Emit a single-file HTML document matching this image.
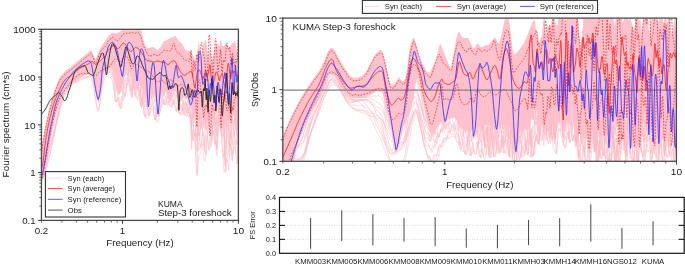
<!DOCTYPE html>
<html><head><meta charset="utf-8"><title>KUMA Step-3 foreshock</title>
<style>html,body{margin:0;padding:0;background:#fff;} body{width:685px;height:265px;overflow:hidden;} svg{display:block;will-change:transform;} text{fill:#1a1a1a}</style>
</head><body>
<svg width="685" height="265" viewBox="0 0 685 265" font-family='"Liberation Sans", sans-serif'>
<rect width="685" height="265" fill="#fff"/>
<defs>
<clipPath id="c1"><rect x="41.45" y="29.30" width="196.95" height="191.10"/></clipPath>
<clipPath id="c2"><rect x="282.80" y="18.10" width="393.60" height="143.20"/></clipPath>
</defs>
<g clip-path="url(#c1)">
<path d="M41.5,152 42.4,145 43.2,141.3 44.1,136.7 45,131.8 45.9,127.4 46.8,123.2 47.7,119.3 48.6,115.6 49.5,111.9 50.4,108.4 51.3,104.8 52.2,101 53.1,97.2 54,93.8 54.9,91 55.8,88.7 56.7,86.6 57.6,84.6 58.5,82.8 59.4,81 60.3,79.3 61.2,77.7 62.1,76.2 63,74.8 63.9,73.5 64.8,72.4 65.7,71.4 66.6,70.5 67.5,69.7 68.4,69 69.3,68.4 70.2,67.8 71.1,67.1 72,66.4 72.9,65.6 73.8,64.8 74.7,64.1 75.6,63.3 76.5,62.7 77.4,62.1 78.3,61.6 79.2,61.1 80.1,60.6 81,60.2 81.9,59.7 82.8,59.3 83.7,58.9 84.6,58.5 85.5,58.1 86.4,57.7 87.3,57.2 88.2,56.6 89.1,55.9 90,55.4 90.9,55.3 91.8,55.8 92.7,56.7 93.6,58.4 94.5,60.2 95.4,60.1 96.3,58.8 97.2,57.1 98.1,55.1 99,53.3 99.9,51.6 100.8,49.8 101.7,47.9 102.6,46.8 103.5,45.7 104.4,44.7 105.3,43.3 106.2,41.4 107.1,39.5 108,38.6 108.9,38.5 109.8,38.5 110.7,38 111.6,37 112.5,36.2 113.4,36.7 114.3,37.5 115.2,37.6 116.1,38.2 117,39.9 117.9,39.7 118.8,37.1 119.7,36.4 120.6,37.2 121.5,38.1 122.4,37.1 123.3,35.7 124.2,34.6 125.1,35.4 126,37.3 126.9,39.6 127.8,41.1 128.7,39.1 129.6,36.5 130.5,34.8 131.4,36.9 132.3,39 133.2,40.6 134.1,36 135,31.7 135.9,28.7 136.8,31.4 137.7,34.4 138.6,36 139.5,33.9 140.4,31.6 141.3,35.1 142.2,41.9 143.1,44.6 144,44.1 144.9,44.7 145.8,46.4 146.7,49.3 147.6,52.1 148.5,52.7 149.4,49.6 150.3,49.5 151.2,51.6 152.1,53.9 153,55.5 153.9,53.1 154.8,50.9 155.7,52.3 156.6,54.9 157.5,53.7 158.4,50.6 159.3,51.7 160.2,53.2 161.1,54.5 162,52.4 162.9,49.7 163.8,51.5 164.7,55 165.6,52.8 166.5,49 167.4,44.6 168.3,48.7 169.2,53.1 170.1,50.2 171,46.1 171.9,42.1 172.8,40.8 173.7,44 174.6,40.7 175.5,36 176.4,41 177.3,49 178.2,53.1 179.1,47.8 180,46.6 180.9,52.3 181.8,58.2 182.7,59.5 183.6,55.8 184.5,54 185.4,57.1 186.3,59.5 187.2,61.5 188.1,60 189,58.4 189.9,56.9 190.8,59.7 191.7,63.6 192.6,70.3 193.5,70.9 194.4,71.6 195.3,68.5 196.2,65.2 197.1,62.5 198,60.6 198.9,54.3 199.8,54.7 200.7,62.9 201.6,65.7 202.5,65.8 203.4,60.8 204.3,53.9 205.2,47.1 206.1,44.3 207,55.8 207.9,63.3 208.8,61.7 209.7,55.4 210.6,56.1 211.5,65.7 212.4,70.5 213.3,69.9 214.2,65.3 215.1,55.5 216,49.8 216.9,49.5 217.8,56 218.7,62.8 219.6,59.7 220.5,50.2 221.4,47.8 222.3,57.2 223.2,65.5 224.1,63.1 225,58.6 225.9,52.9 226.8,55.3 227.7,56.4 228.6,56.2 229.5,56 230.4,56.2 231.3,57.7 232.2,56.9 233.1,61.8 234,58.1 234.9,53.6 235.8,53.6 236.7,59.3 237.6,64.3 238.5,68.8" fill="none" stroke="#ffb3c0" stroke-opacity="0.55" stroke-width="0.9"/>
<path d="M41.5,153.6 42.4,146.5 43.2,142.6 44.1,137.6 45,132.5 45.9,127.9 46.8,123.8 47.7,119.8 48.6,116.1 49.5,112.5 50.4,109 51.3,105.5 52.2,101.8 53.1,98.1 54,94.7 54.9,91.9 55.8,89.5 56.7,87.4 57.6,85.3 58.5,83.4 59.4,81.5 60.3,79.8 61.2,78.1 62.1,76.5 63,75.1 63.9,73.9 64.8,72.8 65.7,71.8 66.6,71 67.5,70.4 68.4,69.8 69.3,69.3 70.2,68.9 71.1,68.3 72,67.8 72.9,67.1 73.8,66.5 74.7,65.8 75.6,65.2 76.5,64.5 77.4,63.9 78.3,63.3 79.2,62.6 80.1,62 81,61.3 81.9,60.6 82.8,59.8 83.7,59.1 84.6,58.3 85.5,57.6 86.4,56.8 87.3,56 88.2,55.2 89.1,54.3 90,53.7 90.9,53.8 91.8,54.5 92.7,55.7 93.6,57.7 94.5,59.7 95.4,59.8 96.3,58.8 97.2,57.5 98.1,56.1 99,54.5 99.9,53.4 100.8,52.6 101.7,51.9 102.6,50.9 103.5,49.8 104.4,48.6 105.3,47.8 106.2,46.6 107.1,45.2 108,43.5 108.9,41.9 109.8,40.4 110.7,39.9 111.6,40.1 112.5,40.2 113.4,38.5 114.3,37.2 115.2,38.1 116.1,40.3 117,39.9 117.9,38.5 118.8,36.5 119.7,36.2 120.6,37.3 121.5,36.9 122.4,35.2 123.3,34.2 124.2,34.1 125.1,37.2 126,38 126.9,36 127.8,34.3 128.7,37.7 129.6,41.6 130.5,41.5 131.4,38.6 132.3,36.6 133.2,38.3 134.1,39.8 135,41.3 135.9,38.4 136.8,34.9 137.7,31.3 138.6,35 139.5,41.8 140.4,41.8 141.3,39.3 142.2,38.2 143.1,42.4 144,46.5 144.9,50.1 145.8,51.4 146.7,51.4 147.6,50.9 148.5,51.5 149.4,52.6 150.3,53.6 151.2,50.7 152.1,49.7 153,52.9 153.9,56.1 154.8,54.7 155.7,52.6 156.6,51 157.5,53 158.4,56.7 159.3,54.7 160.2,51.6 161.1,49.2 162,51 162.9,53.3 163.8,52.9 164.7,49.9 165.6,46.9 166.5,45.9 167.4,50.1 168.3,54.3 169.2,50.6 170.1,43.4 171,46.1 171.9,48.5 172.8,44.5 173.7,45.2 174.6,49.5 175.5,48.9 176.4,45.3 177.3,42.2 178.2,49.4 179.1,57.8 180,60.7 180.9,54.5 181.8,48.8 182.7,56.1 183.6,63.1 184.5,64.5 185.4,57.9 186.3,54.7 187.2,58.3 188.1,61.5 189,63.1 189.9,59.3 190.8,55.9 191.7,58.7 192.6,68 193.5,70.5 194.4,73 195.3,71.5 196.2,67.7 197.1,64.8 198,63.1 198.9,57.7 199.8,57 200.7,61.5 201.6,63.7 202.5,63.4 203.4,62.1 204.3,60.8 205.2,54.8 206.1,52.3 207,60.4 207.9,66.1 208.8,64.1 209.7,56.5 210.6,58 211.5,63.9 212.4,66.1 213.3,67.6 214.2,63.5 215.1,56.2 216,57.7 216.9,60.2 217.8,64.4 218.7,64.1 219.6,59.4 220.5,51.3 221.4,59.7 222.3,60.9 223.2,59.1 224.1,55 225,49.7 225.9,55.5 226.8,57.7 227.7,55.4 228.6,54 229.5,52.4 230.4,50.7 231.3,52.8 232.2,52.2 233.1,55.8 234,50.6 234.9,45 235.8,52.2 236.7,59.5 237.6,62.1 238.5,63.6" fill="none" stroke="#ffb3c0" stroke-opacity="0.55" stroke-width="0.9"/>
<path d="M41.5,158.2 42.4,152.7 43.2,148.8 44.1,143.1 45,137 45.9,131.8 46.8,127.2 47.7,122.9 48.6,118.9 49.5,115.2 50.4,111.6 51.3,108.1 52.2,104.5 53.1,101 54,97.9 54.9,95.2 55.8,92.8 56.7,90.7 57.6,88.7 58.5,86.8 59.4,84.9 60.3,83.1 61.2,81.4 62.1,79.8 63,78.2 63.9,76.8 64.8,75.6 65.7,74.5 66.6,73.6 67.5,72.8 68.4,72 69.3,71.3 70.2,70.6 71.1,69.8 72,68.9 72.9,68 73.8,67 74.7,66.1 75.6,65.2 76.5,64.3 77.4,63.5 78.3,62.8 79.2,62.1 80.1,61.4 81,60.8 81.9,60.2 82.8,59.6 83.7,59.1 84.6,58.6 85.5,58.2 86.4,57.7 87.3,57.3 88.2,56.9 89.1,56.3 90,55.9 90.9,56 91.8,56.5 92.7,57.5 93.6,59.3 94.5,61.1 95.4,61.2 96.3,60.4 97.2,59.2 98.1,58.1 99,57 99.9,55.4 100.8,53.7 101.7,52.5 102.6,51.8 103.5,51.3 104.4,50 105.3,48.3 106.2,46.1 107.1,44.8 108,44.1 108.9,43.8 109.8,42.6 110.7,40.1 111.6,39.8 112.5,40 113.4,40.4 114.3,40.5 115.2,39.9 116.1,39.3 117,40 117.9,40.6 118.8,40.8 119.7,39 120.6,37 121.5,35.2 122.4,36.2 123.3,37.7 124.2,36.2 125.1,34.8 126,36.9 126.9,40.3 127.8,37.4 128.7,33.2 129.6,35.3 130.5,37.6 131.4,39.7 132.3,37.2 133.2,34 134.1,34 135,37.8 135.9,42 136.8,38.8 137.7,34.6 138.6,36.2 139.5,42.6 140.4,43.7 141.3,41.4 142.2,40.4 143.1,44.4 144,49.4 144.9,53.1 145.8,53.3 146.7,52.9 147.6,53.1 148.5,54.5 149.4,55.8 150.3,54.3 151.2,52.3 152.1,52.2 153,53.6 153.9,55.1 154.8,55.3 155.7,54 156.6,54.3 157.5,56.5 158.4,55.4 159.3,53.1 160.2,50.2 161.1,49.7 162,52 162.9,54.8 163.8,51.9 164.7,49.1 165.6,46.3 166.5,48.4 167.4,53 168.3,56.6 169.2,47.7 170.1,44.3 171,51 171.9,51.9 172.8,48.4 173.7,45 174.6,43.2 175.5,49.5 176.4,57 177.3,55.6 178.2,53.2 179.1,50.4 180,55.2 180.9,66.3 181.8,58.8 182.7,53.7 183.6,58.3 184.5,62.3 185.4,65.5 186.3,62.2 187.2,58.7 188.1,58.1 189,62.5 189.9,63.3 190.8,60.1 191.7,62.3 192.6,68.5 193.5,68.9 194.4,69.6 195.3,66.8 196.2,64.6 197.1,63.3 198,63 198.9,58.7 199.8,58.6 200.7,63.1 201.6,64.5 202.5,63.6 203.4,60.8 204.3,53.3 205.2,46 206.1,46.5 207,59.3 207.9,66.8 208.8,60.6 209.7,53 210.6,58.6 211.5,71.6 212.4,77.6 213.3,73.2 214.2,62.7 215.1,52.3 216,50.6 216.9,54.3 217.8,59.4 218.7,64.7 219.6,60 220.5,48.9 221.4,55.1 222.3,62.9 223.2,72.3 224.1,71.5 225,67.9 225.9,65.7 226.8,63.1 227.7,59.1 228.6,60.2 229.5,63.6 230.4,66.9 231.3,62.5 232.2,58.6 233.1,63 234,64.1 234.9,66.4 235.8,67.9 236.7,67.2 237.6,67 238.5,69.7" fill="none" stroke="#ffb3c0" stroke-opacity="0.55" stroke-width="0.9"/>
<path d="M41.5,158.1 42.4,152.9 43.2,149.5 44.1,144 45,137.8 45.9,132.6 46.8,127.9 47.7,123.5 48.6,119.4 49.5,115.5 50.4,111.7 51.3,108 52.2,104.2 53.1,100.4 54,96.9 54.9,94 55.8,91.4 56.7,89.1 57.6,87.1 58.5,85.2 59.4,83.5 60.3,81.8 61.2,80.3 62.1,78.9 63,77.6 63.9,76.4 64.8,75.4 65.7,74.5 66.6,73.8 67.5,73.1 68.4,72.6 69.3,72 70.2,71.4 71.1,70.7 72,70 72.9,69.2 73.8,68.3 74.7,67.5 75.6,66.7 76.5,66 77.4,65.3 78.3,64.7 79.2,64.2 80.1,63.7 81,63.2 81.9,62.7 82.8,62.2 83.7,61.8 84.6,61.3 85.5,60.8 86.4,60.3 87.3,59.7 88.2,59 89.1,58.1 90,57.2 90.9,56.8 91.8,56.8 92.7,57.4 93.6,58.9 94.5,60.6 95.4,60.5 96.3,59.4 97.2,57.8 98.1,56.2 99,54.7 99.9,53.5 100.8,52.6 101.7,51.4 102.6,50.4 103.5,49.5 104.4,49.5 105.3,49.5 106.2,48.2 107.1,46.6 108,45.1 108.9,44.8 109.8,44.6 110.7,44 111.6,42.4 112.5,41.3 113.4,41.2 114.3,41.6 115.2,41.7 116.1,41.2 117,40.2 117.9,39.9 118.8,40.7 119.7,41.2 120.6,39.7 121.5,37 122.4,35.6 123.3,36.1 124.2,36.2 125.1,35.1 126,33.9 126.9,37.7 127.8,42.8 128.7,42.7 129.6,41 130.5,40.5 131.4,42.7 132.3,44.5 133.2,43.2 134.1,39.4 135,37.6 135.9,39.9 136.8,42.5 137.7,45.4 138.6,42.3 139.5,36.9 140.4,38.7 141.3,45.9 142.2,46 143.1,45.6 144,48.1 144.9,55.3 145.8,55.9 146.7,55 147.6,54.6 148.5,56.6 149.4,58.4 150.3,58.8 151.2,57.2 152.1,55.4 153,54.7 153.9,55.9 154.8,57 155.7,57.5 156.6,56 157.5,54.6 158.4,52.8 159.3,55.6 160.2,57.9 161.1,55 162,51.4 162.9,50.2 163.8,52.7 164.7,55.8 165.6,52.4 166.5,46.7 167.4,52.8 168.3,58.9 169.2,52.9 170.1,49 171,52.1 171.9,55.2 172.8,58.3 173.7,55.8 174.6,52.9 175.5,50.3 176.4,53 177.3,57.7 178.2,58.9 179.1,54.8 180,52.4 180.9,56.9 181.8,61.1 182.7,59.1 183.6,57.5 184.5,56.7 185.4,60.4 186.3,63.5 187.2,60.1 188.1,56.6 189,62.2 189.9,67.3 190.8,63.3 191.7,58.5 192.6,67.6 193.5,71.8 194.4,71.5 195.3,76.1 196.2,74.4 197.1,68.6 198,62.2 198.9,56.5 199.8,58 200.7,66.8 201.6,71.5 202.5,76.5 203.4,68.4 204.3,56.8 205.2,53.6 206.1,60.4 207,66.2 207.9,65.6 208.8,59.7 209.7,55.8 210.6,63.2 211.5,71.5 212.4,70.7 213.3,63.4 214.2,61.7 215.1,62.1 216,64.5 216.9,60.9 217.8,57.9 218.7,57.5 219.6,63.1 220.5,64.6 221.4,58.4 222.3,55.4 223.2,54.7 224.1,62.2 225,70.8 225.9,72.4 226.8,62.8 227.7,56 228.6,56.5 229.5,62 230.4,70.7 231.3,64.3 232.2,54.2 233.1,62.6 234,67.6 234.9,68.9 235.8,67.3 236.7,64.7 237.6,65.8 238.5,69.8" fill="none" stroke="#ffb3c0" stroke-opacity="0.55" stroke-width="0.9"/>
<path d="M41.5,161.5 42.4,155.7 43.2,150.8 44.1,144.1 45,137.2 45.9,131.6 46.8,126.8 47.7,122.4 48.6,118.4 49.5,114.8 50.4,111.3 51.3,108 52.2,104.7 53.1,101.5 54,98.7 54.9,96.4 55.8,94.3 56.7,92.4 57.6,90.6 58.5,88.8 59.4,87 60.3,85.2 61.2,83.4 62.1,81.6 63,79.9 63.9,78.3 64.8,77 65.7,75.8 66.6,74.7 67.5,73.8 68.4,73 69.3,72.2 70.2,71.5 71.1,70.7 72,69.9 72.9,69.1 73.8,68.3 74.7,67.5 75.6,66.8 76.5,66.2 77.4,65.6 78.3,65 79.2,64.5 80.1,64 81,63.5 81.9,63 82.8,62.5 83.7,61.9 84.6,61.4 85.5,60.8 86.4,60.3 87.3,59.6 88.2,58.9 89.1,58.1 90,57.4 90.9,57 91.8,57.2 92.7,57.9 93.6,59.5 94.5,61.1 95.4,61.2 96.3,60.3 97.2,59 98.1,57.8 99,56.6 99.9,55.2 100.8,53.8 101.7,52.4 102.6,51.1 103.5,51 104.4,51.1 105.3,49.8 106.2,47.9 107.1,45.7 108,44.9 108.9,45.1 109.8,44.8 110.7,43.2 111.6,41.5 112.5,41.2 113.4,41.5 114.3,42.4 115.2,43.1 116.1,43.4 117,43.2 117.9,43.8 118.8,44.2 119.7,44.1 120.6,42.3 121.5,40.4 122.4,38.4 123.3,38.2 124.2,38.9 125.1,40.1 126,41 126.9,40 127.8,38.7 128.7,38.3 129.6,41.2 130.5,44.3 131.4,47.1 132.3,44.1 133.2,41.1 134.1,39.8 135,41.8 135.9,44.3 136.8,46.9 137.7,44.1 138.6,41.3 139.5,41.5 140.4,45.4 141.3,49.8 142.2,53.6 143.1,52.2 144,52.7 144.9,55.7 145.8,58.3 146.7,59.4 147.6,57.5 148.5,55.4 149.4,56.6 150.3,60.4 151.2,57.3 152.1,54 153,54.1 153.9,55.9 154.8,56.7 155.7,55 156.6,53.8 157.5,52.6 158.4,54.3 159.3,56.4 160.2,53.7 161.1,50.5 162,53.3 162.9,57.9 163.8,60.1 164.7,55.5 165.6,51.5 166.5,55.5 167.4,59.8 168.3,63.4 169.2,58.2 170.1,51.9 171,51.9 171.9,54.3 172.8,56.7 173.7,52.7 174.6,48.1 175.5,50.1 176.4,53.3 177.3,56.9 178.2,54.7 179.1,51.8 180,56.8 180.9,62 181.8,67.3 182.7,68.2 183.6,64 184.5,60.1 185.4,65.2 186.3,70 187.2,69.3 188.1,64.2 189,59.3 189.9,61.5 190.8,65.4 191.7,70.2 192.6,74.7 193.5,75.7 194.4,76.8 195.3,74.7 196.2,75 197.1,73.1 198,65.7 198.9,59.5 199.8,58.3 200.7,67 201.6,74.1 202.5,75.5 203.4,66.5 204.3,57.6 205.2,52.2 206.1,59.7 207,71.8 207.9,72.5 208.8,64 209.7,56.9 210.6,64.3 211.5,78.7 212.4,86 213.3,79.6 214.2,71.2 215.1,61.6 216,61.3 216.9,64.9 217.8,71.1 218.7,68.7 219.6,61.2 220.5,60.4 221.4,66.4 222.3,71 223.2,71 224.1,69.5 225,78.5 225.9,86.2 226.8,69.6 227.7,58 228.6,58.5 229.5,63.8 230.4,71.5 231.3,67.5 232.2,60.8 233.1,60.1 234,57.1 234.9,60.6 235.8,68.5 236.7,73.2 237.6,71.2 238.5,69.9" fill="none" stroke="#ffb3c0" stroke-opacity="0.55" stroke-width="0.9"/>
<path d="M41.5,163 42.4,158.3 43.2,153.9 44.1,147.2 45,140 45.9,134.2 46.8,129.2 47.7,124.6 48.6,120.3 49.5,116.5 50.4,112.8 51.3,109.2 52.2,105.7 53.1,102.3 54,99.2 54.9,96.5 55.8,94.2 56.7,92.1 57.6,90.1 58.5,88.2 59.4,86.4 60.3,84.7 61.2,83 62.1,81.4 63,79.9 63.9,78.6 64.8,77.5 65.7,76.5 66.6,75.6 67.5,74.9 68.4,74.3 69.3,73.6 70.2,73 71.1,72.3 72,71.5 72.9,70.7 73.8,69.8 74.7,69 75.6,68.2 76.5,67.4 77.4,66.6 78.3,65.9 79.2,65.3 80.1,64.6 81,64 81.9,63.5 82.8,62.9 83.7,62.5 84.6,62 85.5,61.7 86.4,61.3 87.3,60.9 88.2,60.5 89.1,60 90,59.5 90.9,59.2 91.8,59.2 92.7,59.8 93.6,61.3 94.5,62.7 95.4,62.9 96.3,62.4 97.2,61.7 98.1,60.9 99,59.9 99.9,58.5 100.8,57.1 101.7,56.3 102.6,55.6 103.5,54.1 104.4,52.5 105.3,51.6 106.2,50.3 107.1,47.7 108,45.5 108.9,44.8 109.8,44.5 110.7,44.1 111.6,42.6 112.5,41.1 113.4,39.9 114.3,40.4 115.2,41.6 116.1,43.1 117,43.3 117.9,42.4 118.8,41.2 119.7,41.6 120.6,42 121.5,42.2 122.4,39.9 123.3,38.1 124.2,38.9 125.1,41.5 126,41 126.9,41.2 127.8,45.6 128.7,48.7 129.6,47.7 130.5,45.8 131.4,44.4 132.3,46.7 133.2,48.7 134.1,46.6 135,43.3 135.9,40.5 136.8,39.5 137.7,43.9 138.6,48.8 139.5,51 140.4,46.1 141.3,43 142.2,49.9 143.1,57.3 144,54.9 144.9,53.1 145.8,51.4 146.7,54.1 147.6,56.2 148.5,57.1 149.4,55 150.3,53.1 151.2,55 152.1,57.2 153,59.5 153.9,58.1 154.8,55 155.7,54.9 156.6,57.8 157.5,60.2 158.4,60.3 159.3,58.7 160.2,56.8 161.1,57.1 162,57.9 162.9,58.8 163.8,58.4 164.7,54.5 165.6,50.8 166.5,56.1 167.4,62 168.3,66.8 169.2,60.6 170.1,55.1 171,56.8 171.9,61.4 172.8,61.1 173.7,56.6 174.6,54.1 175.5,57.5 176.4,60.3 177.3,59.7 178.2,59.1 179.1,58.3 180,64.7 180.9,71.4 181.8,65.6 182.7,58.9 183.6,62.2 184.5,67.7 185.4,72.3 186.3,69.1 187.2,64.9 188.1,63.6 189,67.2 189.9,70.5 190.8,66.3 191.7,64.2 192.6,70.5 193.5,78 194.4,85.1 195.3,81.1 196.2,71.5 197.1,67.3 198,67.8 198.9,65.3 199.8,61.4 200.7,66.2 201.6,71.4 202.5,77.3 203.4,76.3 204.3,66.7 205.2,56.7 206.1,57.3 207,68.2 207.9,72.5 208.8,66.8 209.7,59.4 210.6,65.9 211.5,79.8 212.4,85.3 213.3,78.3 214.2,70.8 215.1,64.8 216,66.5 216.9,69.7 217.8,71.9 218.7,68.6 219.6,63.2 220.5,68.2 221.4,70.4 222.3,63.1 223.2,67.8 224.1,75.7 225,84.2 225.9,80.1 226.8,63.6 227.7,56.2 228.6,60 229.5,70.5 230.4,78.6 231.3,68.1 232.2,57.4 233.1,62.3 234,64.4 234.9,67.3 235.8,67.5 236.7,68.4 237.6,74.9 238.5,79.8" fill="none" stroke="#ffb3c0" stroke-opacity="0.55" stroke-width="0.9"/>
<path d="M41.5,164.1 42.4,159.7 43.2,155.4 44.1,148.6 45,141.3 45.9,135.4 46.8,130.3 47.7,125.7 48.6,121.5 49.5,117.6 50.4,114 51.3,110.5 52.2,107.1 53.1,103.8 54,100.8 54.9,98.1 55.8,95.6 56.7,93.4 57.6,91.3 58.5,89.3 59.4,87.4 60.3,85.5 61.2,83.8 62.1,82.1 63,80.5 63.9,79.1 64.8,77.9 65.7,76.9 66.6,76.1 67.5,75.4 68.4,74.8 69.3,74.2 70.2,73.7 71.1,73.1 72,72.4 72.9,71.7 73.8,70.9 74.7,70.2 75.6,69.5 76.5,68.8 77.4,68.2 78.3,67.6 79.2,66.9 80.1,66.3 81,65.7 81.9,65.1 82.8,64.5 83.7,64 84.6,63.4 85.5,62.8 86.4,62.2 87.3,61.6 88.2,60.9 89.1,60.1 90,59.3 90.9,58.7 91.8,58.6 92.7,59.1 93.6,60.5 94.5,62 95.4,62.1 96.3,61.3 97.2,60.2 98.1,59 99,57.7 99.9,56.6 100.8,55.7 101.7,54.8 102.6,53.9 103.5,52.9 104.4,52.4 105.3,52.4 106.2,51.7 107.1,49.3 108,47 108.9,46.6 109.8,46.7 110.7,47 111.6,46.7 112.5,45.2 113.4,44.4 114.3,45.1 115.2,47.4 116.1,51.6 117,50.6 117.9,48.4 118.8,47.8 119.7,51.3 120.6,56 121.5,51 122.4,43.6 123.3,42.4 124.2,44 125.1,48.4 126,46.3 126.9,44.6 127.8,45 128.7,48.3 129.6,51.6 130.5,49 131.4,45.7 132.3,44.6 133.2,45 134.1,45.2 135,43.4 135.9,41 136.8,38.8 137.7,42.6 138.6,46.4 139.5,43.4 140.4,40.1 141.3,48.1 142.2,57.1 143.1,53.3 144,52.3 144.9,51.6 145.8,56.5 146.7,64.4 147.6,61.8 148.5,59.6 149.4,58.1 150.3,57.6 151.2,59.2 152.1,59.7 153,57.2 153.9,55.4 154.8,57.5 155.7,59.3 156.6,60.9 157.5,59.8 158.4,57.4 159.3,55.5 160.2,57.2 161.1,59.3 162,61.7 162.9,59 163.8,55.6 164.7,54.8 165.6,58.4 166.5,62.7 167.4,56.8 168.3,51.6 169.2,56.8 170.1,61.5 171,60 171.9,54.4 172.8,50.3 173.7,57.5 174.6,66.7 175.5,62.6 176.4,61.1 177.3,59.9 178.2,62.1 179.1,66.2 180,69 180.9,67.5 181.8,65.8 182.7,65.3 183.6,75.8 184.5,79.7 185.4,74.2 186.3,70.1 187.2,66.7 188.1,67.9 189,68.9 189.9,69.6 190.8,67.3 191.7,66.3 192.6,68.9 193.5,77.2 194.4,83.1 195.3,80.5 196.2,72.3 197.1,68.7 198,66.8 198.9,67.9 199.8,66.8 200.7,67.2 201.6,66.4 202.5,69.9 203.4,73 204.3,79.4 205.2,71.9 206.1,66.4 207,66.8 207.9,69.8 208.8,69.3 209.7,76.3 210.6,78.3 211.5,82.8 212.4,83.3 213.3,79.8 214.2,79.1 215.1,78.4 216,81.1 216.9,69.8 217.8,65.5 218.7,74.2 219.6,80.5 220.5,81.5 221.4,74.4 222.3,70.4 223.2,71 224.1,77.4 225,82.5 225.9,76.3 226.8,64.2 227.7,58 228.6,59.6 229.5,66.6 230.4,67.6 231.3,56.3 232.2,57.5 233.1,64.7 234,62.8 234.9,55.1 235.8,55.7 236.7,63.4 237.6,68.9 238.5,70.1" fill="none" stroke="#ffb3c0" stroke-opacity="0.55" stroke-width="0.9"/>
<path d="M41.5,165.3 42.4,160.9 43.2,156.5 44.1,149.5 45,142.1 45.9,136.2 46.8,131.1 47.7,126.6 48.6,122.4 49.5,118.6 50.4,115.1 51.3,111.7 52.2,108.4 53.1,105.3 54,102.3 54.9,99.5 55.8,96.9 56.7,94.5 57.6,92.2 58.5,90.1 59.4,88 60.3,86 61.2,84.2 62.1,82.4 63,80.8 63.9,79.5 64.8,78.4 65.7,77.5 66.6,76.8 67.5,76.2 68.4,75.8 69.3,75.4 70.2,75 71.1,74.5 72,74 72.9,73.4 73.8,72.7 74.7,72 75.6,71.2 76.5,70.4 77.4,69.6 78.3,68.8 79.2,67.9 80.1,67 81,66.1 81.9,65.3 82.8,64.4 83.7,63.7 84.6,62.9 85.5,62.3 86.4,61.7 87.3,61.1 88.2,60.6 89.1,60 90,59.5 90.9,59.2 91.8,59.3 92.7,60 93.6,61.5 94.5,62.9 95.4,63.3 96.3,63 97.2,62.4 98.1,61.8 99,60.7 99.9,59.4 100.8,58 101.7,57.4 102.6,56.6 103.5,54.8 104.4,52.9 105.3,52.6 106.2,51.3 107.1,48.1 108,46.2 108.9,45.9 109.8,45.8 110.7,46 111.6,44.6 112.5,43.1 113.4,41.9 114.3,42.8 115.2,44.5 116.1,46.6 117,47.1 117.9,46.3 118.8,46.2 119.7,47.5 120.6,50.7 121.5,45.9 122.4,43.1 123.3,41.4 124.2,42.1 125.1,43.9 126,46.3 126.9,43.6 127.8,42.4 128.7,45 129.6,47.8 130.5,49.7 131.4,47 132.3,44 133.2,41 134.1,43.5 135,48.4 135.9,48.9 136.8,44.1 137.7,44.9 138.6,48 139.5,54 140.4,56.3 141.3,51.5 142.2,50.1 143.1,54.7 144,62.2 144.9,57.8 145.8,57.2 146.7,59.3 147.6,71.3 148.5,62.7 149.4,58.7 150.3,59.7 151.2,60.9 152.1,63.7 153,60.5 153.9,57.6 154.8,59.5 155.7,61.2 156.6,60.3 157.5,59.7 158.4,59.2 159.3,59.8 160.2,61.6 161.1,66.8 162,64.4 162.9,58.6 163.8,57.6 164.7,61.2 165.6,67.1 166.5,64.1 167.4,61.5 168.3,62.2 169.2,65.8 170.1,68.9 171,61.7 171.9,57.4 172.8,60.8 173.7,68.8 174.6,70 175.5,62.3 176.4,59 177.3,56.2 178.2,60.4 179.1,64.8 180,69.2 180.9,68.4 181.8,65.3 182.7,62.4 183.6,69.6 184.5,78 185.4,76.1 186.3,72.2 187.2,70 188.1,71.5 189,72.8 189.9,75.7 190.8,73.3 191.7,70.8 192.6,72.5 193.5,79 194.4,87.1 195.3,86.7 196.2,77.4 197.1,69.7 198,63.9 198.9,63.4 199.8,66.7 200.7,71 201.6,72.3 202.5,70.5 203.4,63.3 204.3,62.6 205.2,65.1 206.1,71.1 207,73.2 207.9,70.1 208.8,65.5 209.7,62.7 210.6,72.2 211.5,80.3 212.4,80.4 213.3,74.2 214.2,76.2 215.1,79.6 216,71.8 216.9,68.7 217.8,67.2 218.7,74.4 219.6,85.2 220.5,73.6 221.4,63.7 222.3,66.6 223.2,74.5 224.1,81.6 225,77.8 225.9,72.2 226.8,68.4 227.7,62.6 228.6,62.1 229.5,66.5 230.4,70.7 231.3,67.6 232.2,67.9 233.1,70.5 234,62.6 234.9,62.1 235.8,73.6 236.7,90.1 237.6,80.2 238.5,75.4" fill="none" stroke="#ffb3c0" stroke-opacity="0.55" stroke-width="0.9"/>
<path d="M41.5,170 42.4,166.9 43.2,162.5 44.1,154.9 45,146.4 45.9,139.3 46.8,133 47.7,127.6 48.6,122.8 49.5,118.6 50.4,114.7 51.3,111 52.2,107.6 53.1,104.4 54,101.5 54.9,99.1 55.8,97 56.7,95.2 57.6,93.5 58.5,92 59.4,90.6 60.3,89.1 61.2,87.5 62.1,85.8 63,84.1 63.9,82.5 64.8,81.1 65.7,79.8 66.6,78.5 67.5,77.5 68.4,76.6 69.3,75.7 70.2,74.8 71.1,73.9 72,73 72.9,72.1 73.8,71.2 74.7,70.5 75.6,69.8 76.5,69.3 77.4,68.9 78.3,68.5 79.2,68.3 80.1,68 81,67.8 81.9,67.5 82.8,67.2 83.7,66.9 84.6,66.6 85.5,66.1 86.4,65.6 87.3,65 88.2,64.2 89.1,63.2 90,62.1 90.9,61 91.8,60.5 92.7,60.6 93.6,61.8 94.5,63 95.4,63.3 96.3,63 97.2,62.5 98.1,62 99,61.3 99.9,60.6 100.8,60.2 101.7,60.8 102.6,60.3 103.5,59.5 104.4,59.7 105.3,59 106.2,56.9 107.1,54.2 108,51.7 108.9,51.1 109.8,50.8 110.7,47.6 111.6,45.4 112.5,45.3 113.4,45.8 114.3,45 115.2,44.6 116.1,44.3 117,45.2 117.9,46.7 118.8,47.8 119.7,46.7 120.6,44.4 121.5,42.6 122.4,43.5 123.3,49.8 124.2,57.3 125.1,54.4 126,48.9 126.9,48 127.8,51.5 128.7,54.6 129.6,57.4 130.5,54.7 131.4,50.6 132.3,47.5 133.2,47.8 134.1,48 135,47.2 135.9,44.1 136.8,44.5 137.7,47.1 138.6,47.4 139.5,45.2 140.4,43.3 141.3,47.7 142.2,52.5 143.1,54.6 144,54.7 144.9,54.9 145.8,57.8 146.7,65.5 147.6,73.8 148.5,66 149.4,64 150.3,70.3 151.2,70 152.1,61.1 153,61 153.9,65.5 154.8,71 155.7,61.4 156.6,59.1 157.5,57.4 158.4,59.4 159.3,61.2 160.2,59.3 161.1,57.1 162,58.4 162.9,61.8 163.8,65.5 164.7,62.1 165.6,60.4 166.5,59 167.4,63 168.3,67.3 169.2,71.5 170.1,70.6 171,65.4 171.9,60.5 172.8,60.8 173.7,65.5 174.6,66.9 175.5,64.2 176.4,62.9 177.3,62.9 178.2,66 179.1,69.4 180,73.4 180.9,71.8 181.8,70.6 182.7,69.4 183.6,72.7 184.5,78.8 185.4,73.9 186.3,70.3 187.2,68.8 188.1,75.3 189,84.6 189.9,78.4 190.8,71.4 191.7,77 192.6,88.2 193.5,88.4 194.4,87.8 195.3,83.8 196.2,77.3 197.1,73.3 198,73.6 198.9,67 199.8,64.8 200.7,66.7 201.6,68.9 202.5,74.8 203.4,75.1 204.3,70 205.2,64.1 206.1,64.2 207,76.4 207.9,80.7 208.8,69.5 209.7,64.6 210.6,82.8 211.5,102.9 212.4,92.6 213.3,77.4 214.2,77.8 215.1,86.1 216,101.2 216.9,82.2 217.8,71.2 218.7,75.6 219.6,79.3 220.5,79.6 221.4,72.6 222.3,68.5 223.2,74.6 224.1,82 225,92.7 225.9,82.9 226.8,64.8 227.7,61.2 228.6,65.7 229.5,70.2 230.4,74.2 231.3,70.5 232.2,76.1 233.1,94.4 234,86.1 234.9,71.1 235.8,70.3 236.7,74.8 237.6,86 238.5,86.9" fill="none" stroke="#ffb3c0" stroke-opacity="0.55" stroke-width="0.9"/>
<path d="M41.5,171.5 42.4,168.9 43.2,165.1 44.1,158.3 45,150.9 45.9,144.8 46.8,139.4 47.7,134.4 48.6,129.6 49.5,125.1 50.4,120.8 51.3,116.6 52.2,112.7 53.1,108.9 54,105.4 54.9,102.1 55.8,99.2 56.7,96.5 57.6,94.1 58.5,91.9 59.4,89.8 60.3,87.9 61.2,86 62.1,84.2 63,82.6 63.9,81.2 64.8,80 65.7,79 66.6,78.2 67.5,77.5 68.4,76.9 69.3,76.4 70.2,75.8 71.1,75.2 72,74.5 72.9,73.7 73.8,73 74.7,72.2 75.6,71.4 76.5,70.7 77.4,70 78.3,69.3 79.2,68.6 80.1,68 81,67.3 81.9,66.7 82.8,66.2 83.7,65.7 84.6,65.3 85.5,64.9 86.4,64.5 87.3,64.2 88.2,63.8 89.1,63.3 90,62.7 90.9,62.1 91.8,61.9 92.7,62.5 93.6,64 94.5,65.7 95.4,66.9 96.3,67.4 97.2,67.9 98.1,68.7 99,69.1 99.9,67.8 100.8,65.4 101.7,63.2 102.6,62.6 103.5,62.9 104.4,61.2 105.3,59.4 106.2,57.1 107.1,55.5 108,55.7 108.9,55.4 109.8,53.1 110.7,50.7 111.6,49.2 112.5,51.6 113.4,50.3 114.3,46.7 115.2,46.1 116.1,48.8 117,52.6 117.9,56.6 118.8,51.6 119.7,46.4 120.6,44.8 121.5,46.4 122.4,51.9 123.3,47.2 124.2,42.3 125.1,43.4 126,47.2 126.9,52.3 127.8,53.1 128.7,50.9 129.6,50 130.5,53.6 131.4,55.9 132.3,52.2 133.2,48.8 134.1,46.2 135,48 135.9,55.1 136.8,63 137.7,59.5 138.6,54.2 139.5,50.1 140.4,56.6 141.3,63.3 142.2,57.8 143.1,53.4 144,58.7 144.9,68.8 145.8,78.6 146.7,67.8 147.6,57.8 148.5,60.4 149.4,65.5 150.3,60.3 151.2,60.5 152.1,66.8 153,60.9 153.9,58.5 154.8,60.6 155.7,64.7 156.6,73.4 157.5,63.5 158.4,60.3 159.3,72 160.2,75.1 161.1,66.7 162,60.9 162.9,62.4 163.8,66.5 164.7,68.8 165.6,64.5 166.5,62 167.4,63.1 168.3,69.1 169.2,75.3 170.1,73 171,65.5 171.9,60.1 172.8,64.7 173.7,70.8 174.6,65.7 175.5,57.5 176.4,58.7 177.3,64.1 178.2,70.9 179.1,70.5 180,68.1 180.9,65.6 181.8,68.6 182.7,75 183.6,82.6 184.5,79.5 185.4,74.7 186.3,74.4 187.2,83.8 188.1,80.5 189,71.7 189.9,69.5 190.8,76.5 191.7,94.6 192.6,95.8 193.5,90.8 194.4,86.9 195.3,87.2 196.2,92.5 197.1,104.1 198,89.6 198.9,77.8 199.8,70.4 200.7,85.8 201.6,110.1 202.5,99.8 203.4,88.1 204.3,73.9 205.2,69.6 206.1,82.7 207,96.8 207.9,95.8 208.8,82.1 209.7,64.6 210.6,67.1 211.5,86.8 212.4,101.5 213.3,95.9 214.2,86.6 215.1,73.8 216,69.4 216.9,76.4 217.8,88.5 218.7,76.6 219.6,70.3 220.5,76.5 221.4,89.9 222.3,76 223.2,73.4 224.1,81.4 225,96 225.9,107.2 226.8,84.3 227.7,61.6 228.6,60.1 229.5,72 230.4,82.8 231.3,71.3 232.2,63.8 233.1,71 234,79.1 234.9,72.1 235.8,71.8 236.7,69.9 237.6,74.3 238.5,81.4" fill="none" stroke="#ffb3c0" stroke-opacity="0.55" stroke-width="0.9"/>
<path d="M41.5,170.6 42.4,167.8 43.2,163.8 44.1,156.9 45,149.6 45.9,143.8 46.8,139 47.7,134.6 48.6,130.6 49.5,127 50.4,123.6 51.3,120.3 52.2,117.2 53.1,114.1 54,111.1 54.9,108.2 55.8,105.4 56.7,102.7 57.6,100.2 58.5,97.7 59.4,95.3 60.3,92.9 61.2,90.7 62.1,88.5 63,86.5 63.9,84.8 64.8,83.3 65.7,82 66.6,80.8 67.5,79.9 68.4,79.1 69.3,78.4 70.2,77.7 71.1,76.9 72,76.2 72.9,75.5 73.8,74.8 74.7,74.1 75.6,73.5 76.5,72.9 77.4,72.4 78.3,71.8 79.2,71.3 80.1,70.8 81,70.3 81.9,69.8 82.8,69.3 83.7,68.9 84.6,68.4 85.5,68 86.4,67.6 87.3,67.1 88.2,66.6 89.1,66 90,65.3 90.9,64.6 91.8,64.3 92.7,64.7 93.6,66 94.5,67.3 95.4,68.1 96.3,68 97.2,67.7 98.1,67.5 99,66.5 99.9,64.6 100.8,62.5 101.7,61.4 102.6,61 103.5,60.4 104.4,58.5 105.3,57.5 106.2,57.1 107.1,56.7 108,55.3 108.9,52.8 109.8,50.9 110.7,52 111.6,53.5 112.5,54.4 113.4,53 114.3,51.6 115.2,49.7 116.1,53.8 117,58.8 117.9,63.1 118.8,58.4 119.7,52.7 120.6,46.3 121.5,47.3 122.4,51.1 123.3,47.2 124.2,42.9 125.1,43.8 126,47.6 126.9,51.9 127.8,54 128.7,51.6 129.6,49.6 130.5,48.9 131.4,55.6 132.3,57 133.2,50 134.1,48.4 135,52.5 135.9,57.5 136.8,59.3 137.7,54.9 138.6,50.1 139.5,54.3 140.4,63.3 141.3,51.6 142.2,50.2 143.1,54.9 144,63.7 144.9,73.5 145.8,69.4 146.7,63.5 147.6,59.9 148.5,60.1 149.4,62 150.3,66.1 151.2,66.3 152.1,61.5 153,60 153.9,61.7 154.8,71.3 155.7,67.8 156.6,59.7 157.5,59.4 158.4,62.9 159.3,72.3 160.2,80.2 161.1,70.4 162,64.3 162.9,71.1 163.8,77.6 164.7,75.6 165.6,67.9 166.5,62 167.4,63.6 168.3,69.5 169.2,75.5 170.1,70.1 171,61.2 171.9,60.4 172.8,67 173.7,75 174.6,75.4 175.5,65.1 176.4,64.3 177.3,73.5 178.2,69.5 179.1,65.7 180,66.6 180.9,73.2 181.8,81.2 182.7,88.4 183.6,82.1 184.5,75.7 185.4,73.2 186.3,82.6 187.2,87.4 188.1,77.8 189,71.1 189.9,77.7 190.8,88.4 191.7,99.5 192.6,92.4 193.5,91.2 194.4,95.7 195.3,100.7 196.2,106.7 197.1,94.9 198,77 198.9,76.2 199.8,84.8 200.7,94.3 201.6,94.6 202.5,85.4 203.4,75.2 204.3,73.8 205.2,84.1 206.1,86.4 207,82.8 207.9,77 208.8,78.7 209.7,85.8 210.6,84.1 211.5,86 212.4,84.3 213.3,87.7 214.2,95.7 215.1,91 216,84.7 216.9,79.3 217.8,91.3 218.7,97.9 219.6,96.1 220.5,91 221.4,94.8 222.3,111.3 223.2,120.1 224.1,118 225,110.1 225.9,102.6 226.8,100.4 227.7,95.9 228.6,79.1 229.5,69.9 230.4,77.9 231.3,82.8 232.2,91.9 233.1,87 234,79.7 234.9,75.4 235.8,83.6 236.7,97 237.6,105.8 238.5,91.6" fill="none" stroke="#ffb3c0" stroke-opacity="0.55" stroke-width="0.9"/>
<path d="M41.5,171.7 42.4,169.1 43.2,165.3 44.1,158.4 45,151 45.9,144.8 46.8,139.3 47.7,134.3 48.6,129.7 49.5,125.6 50.4,121.9 51.3,118.4 52.2,115.2 53.1,112.3 54,109.7 54.9,107.2 55.8,105 56.7,102.8 57.6,100.7 58.5,98.7 59.4,96.5 60.3,94.4 61.2,92.2 62.1,90.1 63,88.1 63.9,86.2 64.8,84.6 65.7,83.1 66.6,81.7 67.5,80.5 68.4,79.5 69.3,78.5 70.2,77.6 71.1,76.8 72,75.9 72.9,75 73.8,74.2 74.7,73.5 75.6,72.8 76.5,72.2 77.4,71.7 78.3,71.2 79.2,70.7 80.1,70.3 81,69.9 81.9,69.5 82.8,69.2 83.7,68.9 84.6,68.6 85.5,68.3 86.4,68 87.3,67.6 88.2,67.2 89.1,66.7 90,66.2 90.9,65.7 91.8,65.7 92.7,66.4 93.6,68.2 94.5,70.2 95.4,71.9 96.3,73.2 97.2,73.9 98.1,73.3 99,72.6 99.9,71.5 100.8,69.3 101.7,66.9 102.6,65 103.5,64 104.4,63.8 105.3,62.1 106.2,59.8 107.1,57.1 108,55.4 108.9,55.2 109.8,55 110.7,53.2 111.6,51.2 112.5,50.7 113.4,53.3 114.3,54.5 115.2,54.4 116.1,53.7 117,54.6 117.9,58.6 118.8,58.3 119.7,53.4 120.6,48 121.5,47.5 122.4,52.4 123.3,57.6 124.2,54.5 125.1,50.6 126,54.5 126.9,59.4 127.8,56.9 128.7,53 129.6,55.4 130.5,63.1 131.4,63 132.3,60.1 133.2,56.4 134.1,58.2 135,63 135.9,68.1 136.8,59.6 137.7,50.7 138.6,49.6 139.5,60.2 140.4,66.1 141.3,55.2 142.2,55.5 143.1,67.2 144,79.1 144.9,75.2 145.8,69.5 146.7,69.3 147.6,73.7 148.5,77.4 149.4,72.7 150.3,64.6 151.2,60.1 152.1,68.6 153,82.8 153.9,74.2 154.8,60.7 155.7,60.5 156.6,70.4 157.5,77.6 158.4,68.7 159.3,61.3 160.2,60.7 161.1,70.6 162,73.5 162.9,68.4 163.8,64.2 164.7,69.4 165.6,74.6 166.5,76.2 167.4,74.4 168.3,71.6 169.2,72.4 170.1,77.8 171,83.9 171.9,73.5 172.8,60.9 173.7,65.8 174.6,71.3 175.5,77.4 176.4,73 177.3,68.8 178.2,67.9 179.1,76.2 180,84 180.9,91.3 181.8,86.8 182.7,78.7 183.6,76.7 184.5,83.7 185.4,90.1 186.3,85.1 187.2,79.8 188.1,85.2 189,90.9 189.9,89.9 190.8,82.3 191.7,92.7 192.6,98.6 193.5,98.9 194.4,95.6 195.3,95.1 196.2,104 197.1,89.7 198,69.6 198.9,69.5 199.8,75.1 200.7,82.8 201.6,82 202.5,78.7 203.4,73.7 204.3,80.3 205.2,103.9 206.1,90.4 207,83.5 207.9,95.6 208.8,106.9 209.7,84.4 210.6,88.5 211.5,110.5 212.4,112.5 213.3,100.2 214.2,89.6 215.1,82.1 216,90.3 216.9,99.8 217.8,104.1 218.7,83.4 219.6,81.4 220.5,98.7 221.4,102.5 222.3,92 223.2,85.3 224.1,92.2 225,110 225.9,113.2 226.8,85.6 227.7,63.6 228.6,82.3 229.5,105.7 230.4,90.5 231.3,84 232.2,96.6 233.1,109.9 234,106.2 234.9,83.7 235.8,88.2 236.7,117.2 237.6,108 238.5,89.1" fill="none" stroke="#ffb3c0" stroke-opacity="0.55" stroke-width="0.9"/>
<path d="M41.5,170.5 42.4,167.7 43.2,163.9 44.1,157.3 45,150.5 45.9,145.4 46.8,141.2 47.7,137.5 48.6,134.1 49.5,130.8 50.4,127.5 51.3,124.1 52.2,120.6 53.1,117 54,113.3 54.9,109.6 55.8,106 56.7,102.6 57.6,99.4 58.5,96.5 59.4,93.8 60.3,91.3 61.2,89.1 62.1,87 63,85.3 63.9,83.9 64.8,82.8 65.7,82 66.6,81.3 67.5,80.7 68.4,80.3 69.3,80 70.2,79.5 71.1,79.1 72,78.5 72.9,77.9 73.8,77.3 74.7,76.8 75.6,76.3 76.5,75.6 77.4,74.8 78.3,74.1 79.2,73.2 80.1,72.4 81,71.6 81.9,70.8 82.8,70.1 83.7,69.5 84.6,69 85.5,68.6 86.4,68.3 87.3,68 88.2,67.8 89.1,67.6 90,67.5 90.9,67.6 91.8,68.2 92.7,69.7 93.6,72.4 94.5,75.6 95.4,78.6 96.3,81 97.2,82.3 98.1,82.1 99,79.6 99.9,75.4 100.8,71.7 101.7,68.9 102.6,66.9 103.5,64.2 104.4,61.6 105.3,59.1 106.2,57.1 107.1,55.8 108,54.2 108.9,52.8 109.8,51.7 110.7,51.3 111.6,52.4 112.5,54.2 113.4,57.3 114.3,56.2 115.2,54.4 116.1,57.2 117,63.3 117.9,69.3 118.8,68 119.7,65.5 120.6,62.2 121.5,64.3 122.4,67.7 123.3,68.3 124.2,57.4 125.1,47.6 126,50.8 126.9,58.4 127.8,55.5 128.7,52.7 129.6,50.2 130.5,51.9 131.4,58.2 132.3,65.3 133.2,56.4 134.1,49.3 135,61.6 135.9,73 136.8,65.8 137.7,58.1 138.6,66.5 139.5,81.6 140.4,80.3 141.3,75.9 142.2,71 143.1,73.9 144,81.7 144.9,89.1 145.8,82.6 146.7,75.4 147.6,67.6 148.5,74.5 149.4,90.1 150.3,85.9 151.2,76.2 152.1,67.7 153,65.6 153.9,74.6 154.8,84.8 155.7,96.1 156.6,86.2 157.5,75 158.4,64.1 159.3,76 160.2,84.3 161.1,77.4 162,71.4 162.9,69.3 163.8,79.8 164.7,83.2 165.6,73.6 166.5,66.9 167.4,76.2 168.3,84.6 169.2,81.5 170.1,73.5 171,65.5 171.9,67.4 172.8,71.9 173.7,77.1 174.6,78.3 175.5,68.5 176.4,63.7 177.3,77.7 178.2,84 179.1,71.6 180,69.5 180.9,81.8 181.8,91.7 182.7,84.4 183.6,77 184.5,83.4 185.4,91.4 186.3,99.3 187.2,93.7 188.1,85.7 189,80.8 189.9,83.5 190.8,88.2 191.7,95.7 192.6,90.5 193.5,90.6 194.4,97.3 195.3,103.6 196.2,113.2 197.1,119.1 198,96.5 198.9,78.7 199.8,74.7 200.7,95.8 201.6,101.3 202.5,100.9 203.4,100.3 204.3,100.8 205.2,107.1 206.1,110.4 207,100.1 207.9,92.2 208.8,94.5 209.7,106.7 210.6,102.8 211.5,98.1 212.4,100 213.3,103.9 214.2,106.5 215.1,86.8 216,82.4 216.9,90.7 217.8,96.2 218.7,95.4 219.6,93.3 220.5,89.3 221.4,85.4 222.3,92.3 223.2,108.3 224.1,124.3 225,121.9 225.9,112 226.8,93.9 227.7,90.3 228.6,102.6 229.5,113.7 230.4,109.5 231.3,99.3 232.2,98.6 233.1,104.2 234,101 234.9,95.6 235.8,94.4 236.7,91.9 237.6,97 238.5,97.9" fill="none" stroke="#ffb3c0" stroke-opacity="0.55" stroke-width="0.9"/>
<path d="M41.5,172.8 42.4,170.8 43.2,167.9 44.1,162.4 45,156.7 45.9,152.1 46.8,148.1 47.7,144.3 48.6,140.6 49.5,137 50.4,133.3 51.3,129.6 52.2,125.9 53.1,122.1 54,118.4 54.9,114.7 55.8,111.2 56.7,107.8 57.6,104.8 58.5,101.8 59.4,99 60.3,96.4 61.2,93.9 62.1,91.6 63,89.6 63.9,87.8 64.8,86.3 65.7,84.9 66.6,83.6 67.5,82.5 68.4,81.6 69.3,80.7 70.2,79.9 71.1,79 72,78.2 72.9,77.3 73.8,76.5 74.7,75.8 75.6,75.1 76.5,74.4 77.4,73.7 78.3,73 79.2,72.4 80.1,71.8 81,71.3 81.9,70.8 82.8,70.4 83.7,70.1 84.6,69.8 85.5,69.6 86.4,69.4 87.3,69.1 88.2,68.8 89.1,68.5 90,68.2 90.9,68 91.8,68.2 92.7,69.2 93.6,71.2 94.5,73.5 95.4,75.5 96.3,76.5 97.2,76.9 98.1,76.8 99,75.7 99.9,73.2 100.8,69.8 101.7,67 102.6,64.9 103.5,64 104.4,63.3 105.3,62.8 106.2,61.3 107.1,59.6 108,58.3 108.9,58.9 109.8,60 110.7,60.6 111.6,58 112.5,59.6 113.4,65.4 114.3,67.6 115.2,68.8 116.1,68.3 117,71 117.9,78.7 118.8,78 119.7,73.8 120.6,70.6 121.5,75.1 122.4,79.8 123.3,73.6 124.2,65 125.1,56.9 126,61 126.9,67.4 127.8,63 128.7,59.9 129.6,57 130.5,59.7 131.4,67.5 132.3,75.7 133.2,75.5 134.1,70.6 135,65.7 135.9,70.7 136.8,79.5 137.7,71 138.6,61.8 139.5,62.3 140.4,76.4 141.3,83.2 142.2,73.8 143.1,63.7 144,76.1 144.9,89.1 145.8,85 146.7,80.6 147.6,75.7 148.5,80.9 149.4,85.2 150.3,78.5 151.2,69.6 152.1,67.9 153,78.7 153.9,90.9 154.8,86.9 155.7,78.6 156.6,73.1 157.5,79.3 158.4,84.4 159.3,88.3 160.2,77.6 161.1,69 162,74.7 162.9,80.3 163.8,85.8 164.7,83.4 165.6,76.8 166.5,70.8 167.4,76.8 168.3,84.2 169.2,84.3 170.1,74.9 171,71.7 171.9,78.6 172.8,82.7 173.7,75.8 174.6,75.6 175.5,86.6 176.4,86.3 177.3,80.4 178.2,85.4 179.1,93.5 180,93.1 180.9,87 181.8,84.6 182.7,92.1 183.6,92.2 184.5,87.4 185.4,85.1 186.3,87.2 187.2,89.5 188.1,92.1 189,89.8 189.9,86.9 190.8,85.4 191.7,96.6 192.6,104.7 193.5,117.5 194.4,113.9 195.3,108.1 196.2,100.5 197.1,106.4 198,109 198.9,109.9 199.8,102.1 200.7,90.3 201.6,90.5 202.5,104.8 203.4,120.1 204.3,125 205.2,107.6 206.1,101.9 207,113.5 207.9,127 208.8,106.4 209.7,75.7 210.6,89.1 211.5,104.5 212.4,109.4 213.3,100.9 214.2,92.2 215.1,77.9 216,78.3 216.9,93.5 217.8,102.3 218.7,90.2 219.6,85.1 220.5,85.1 221.4,97.2 222.3,110.4 223.2,110.9 224.1,110.6 225,106 225.9,106 226.8,104.1 227.7,106.6 228.6,120.4 229.5,103.1 230.4,96.8 231.3,104.9 232.2,121 233.1,105.8 234,77.9 234.9,90.7 235.8,122.8 236.7,107.6 237.6,82.8 238.5,90.1" fill="none" stroke="#ffb3c0" stroke-opacity="0.55" stroke-width="0.9"/>
<path d="M41.5,174.1 42.4,172.1 43.2,169 44.1,163.1 45,156.7 45.9,151.3 46.8,146.5 47.7,142 48.6,137.9 49.5,134 50.4,130.4 51.3,127.1 52.2,123.9 53.1,120.8 54,117.9 54.9,115 55.8,112.2 56.7,109.5 57.6,107 58.5,104.4 59.4,101.7 60.3,99.1 61.2,96.6 62.1,94.2 63,91.9 63.9,89.9 64.8,88 65.7,86.3 66.6,84.8 67.5,83.4 68.4,82.3 69.3,81.3 70.2,80.3 71.1,79.4 72,78.5 72.9,77.7 73.8,76.9 74.7,76.3 75.6,75.7 76.5,75.1 77.4,74.5 78.3,74 79.2,73.4 80.1,72.9 81,72.5 81.9,72 82.8,71.6 83.7,71.3 84.6,71 85.5,70.7 86.4,70.5 87.3,70.2 88.2,70 89.1,69.7 90,69.5 90.9,69.6 91.8,70.2 92.7,71.7 93.6,74.6 94.5,78.1 95.4,81.6 96.3,84.4 97.2,86.6 98.1,88.2 99,87.7 99.9,84 100.8,78.4 101.7,74 102.6,71.9 103.5,70.2 104.4,68.9 105.3,66.2 106.2,63.1 107.1,62.5 108,62.5 108.9,60.3 109.8,58.1 110.7,55.9 111.6,56.2 112.5,58.2 113.4,62 114.3,62.5 115.2,62.7 116.1,61.8 117,66.4 117.9,72.8 118.8,75.1 119.7,73.6 120.6,71.6 121.5,74.5 122.4,77.9 123.3,78.8 124.2,73.9 125.1,68.5 126,69 126.9,72.5 127.8,75.1 128.7,69.5 129.6,67.7 130.5,72.6 131.4,74.4 132.3,71.4 133.2,67.3 134.1,63.8 135,68.4 135.9,74.2 136.8,78.9 137.7,69.9 138.6,60.6 139.5,62.7 140.4,75.3 141.3,79.3 142.2,76.8 143.1,76.5 144,84.8 144.9,92.9 145.8,96.6 146.7,89.7 147.6,82.1 148.5,79.4 149.4,85.6 150.3,90.8 151.2,88.5 152.1,84.4 153,81.1 153.9,81 154.8,88.3 155.7,96.3 156.6,96.1 157.5,87.2 158.4,78.2 159.3,75.8 160.2,80.8 161.1,85.5 162,88.9 162.9,82.4 163.8,76.5 164.7,71 165.6,77.3 166.5,85.6 167.4,93.6 168.3,94 169.2,88.8 170.1,82.9 171,78.1 171.9,83.4 172.8,88.7 173.7,94 174.6,89.8 175.5,85.4 176.4,81.1 177.3,82.6 178.2,87.1 179.1,91.5 180,85.2 180.9,81.8 181.8,88.9 182.7,95.7 183.6,97 184.5,90.7 185.4,84.1 186.3,79.8 187.2,83.8 188.1,88.3 189,91.1 189.9,87.1 190.8,83.9 191.7,93.1 192.6,102.5 193.5,115.8 194.4,115.5 195.3,102 196.2,108 197.1,126.6 198,135.7 198.9,121.1 199.8,108.5 200.7,97.5 201.6,96.6 202.5,111.4 203.4,127.7 204.3,111 205.2,93.8 206.1,114.3 207,115.7 207.9,106.9 208.8,97.2 209.7,85.6 210.6,101.2 211.5,116.3 212.4,111.4 213.3,100.6 214.2,106.7 215.1,115.3 216,124.8 216.9,112.1 217.8,90.5 218.7,94.2 219.6,101.5 220.5,111.8 221.4,110 222.3,102.9 223.2,108.7 224.1,131.6 225,133.3 225.9,113.9 226.8,94.6 227.7,93.7 228.6,105.2 229.5,115.4 230.4,104.4 231.3,96 232.2,105 233.1,112 234,110.3 234.9,99 235.8,94.9 236.7,115.1 237.6,131 238.5,115.7" fill="none" stroke="#ffb3c0" stroke-opacity="0.55" stroke-width="0.9"/>
<path d="M41.5,174.9 42.4,173.1 43.2,170.2 44.1,164.4 45,158.1 45.9,152.6 46.8,147.6 47.7,142.8 48.6,138.3 49.5,134.2 50.4,130.4 51.3,126.8 52.2,123.5 53.1,120.4 54,117.5 54.9,114.7 55.8,112 56.7,109.5 57.6,107 58.5,104.6 59.4,102.1 60.3,99.5 61.2,97 62.1,94.6 63,92.4 63.9,90.3 64.8,88.5 65.7,86.7 66.6,85.1 67.5,83.7 68.4,82.6 69.3,81.6 70.2,80.7 71.1,79.9 72,79.1 72.9,78.4 73.8,77.8 74.7,77.5 75.6,77.2 76.5,76.8 77.4,76.5 78.3,76.3 79.2,76 80.1,75.7 81,75.4 81.9,75 82.8,74.7 83.7,74.3 84.6,73.9 85.5,73.5 86.4,73.1 87.3,72.5 88.2,71.9 89.1,71.4 90,70.9 90.9,70.7 91.8,71 92.7,72.2 93.6,74.8 94.5,78.1 95.4,81.5 96.3,84.5 97.2,87.2 98.1,89.1 99,88.2 99.9,85.7 100.8,82.3 101.7,78.3 102.6,75 103.5,72.1 104.4,70.8 105.3,69.7 106.2,67.7 107.1,65.6 108,65.1 108.9,65.2 109.8,62.7 110.7,60 111.6,61 112.5,63.1 113.4,67.2 114.3,64.5 115.2,62.3 116.1,66.9 117,71.4 117.9,75.9 118.8,71.8 119.7,65.1 120.6,69.7 121.5,74.6 122.4,78.2 123.3,75.1 124.2,71.7 125.1,67.8 126,70.1 126.9,72.7 127.8,75.5 128.7,69.5 129.6,61 130.5,66.7 131.4,72.7 132.3,78.3 133.2,70.4 134.1,61.7 135,56.1 135.9,61 136.8,67.2 137.7,73.1 138.6,71.9 139.5,71.1 140.4,72.6 141.3,82 142.2,92 143.1,98.5 144,89.9 144.9,80.7 145.8,86.6 146.7,104.9 147.6,95.5 148.5,79.7 149.4,86.4 150.3,92 151.2,97.3 152.1,91.2 153,74.2 153.9,79 154.8,87.2 155.7,96.1 156.6,90.7 157.5,84.4 158.4,90 159.3,94.6 160.2,98.3 161.1,84.7 162,76.9 162.9,86.4 163.8,95.8 164.7,94.6 165.6,87.2 166.5,89.9 167.4,98.5 168.3,97.9 169.2,93.3 170.1,88 171,87.6 171.9,92.3 172.8,97.1 173.7,93.6 174.6,86.7 175.5,81.6 176.4,89.6 177.3,97.5 178.2,89.2 179.1,80 180,88.9 180.9,93.2 181.8,87.9 182.7,87.3 183.6,93.2 184.5,99 185.4,98.7 186.3,97.4 187.2,95.9 188.1,98.3 189,105.2 189.9,107.8 190.8,102.7 191.7,100.7 192.6,94.3 193.5,104.2 194.4,113.1 195.3,119.6 196.2,119.4 197.1,113.6 198,98.4 198.9,94.4 199.8,99 200.7,105.4 201.6,104.4 202.5,96.5 203.4,87.4 204.3,101 205.2,129.6 206.1,129.5 207,114 207.9,105.5 208.8,99.8 209.7,117.8 210.6,132.9 211.5,123.6 212.4,111.4 213.3,109.1 214.2,120 215.1,132.4 216,131.8 216.9,113.3 217.8,93.4 218.7,93.9 219.6,103.8 220.5,110.5 221.4,107.3 222.3,99.4 223.2,95.2 224.1,121.6 225,148.1 225.9,146.8 226.8,125.9 227.7,110.4 228.6,103.5 229.5,136.5 230.4,138 231.3,125.2 232.2,116.9 233.1,109.7 234,114 234.9,121 235.8,129.5 236.7,126.3 237.6,114.3 238.5,98.9" fill="none" stroke="#ffb3c0" stroke-opacity="0.55" stroke-width="0.9"/>
<path d="M41.5,177 42.4,176.1 43.2,174.2 44.1,169.8 45,165 45.9,160.5 46.8,156.2 47.7,151.9 48.6,147.5 49.5,143.1 50.4,138.8 51.3,134.5 52.2,130.3 53.1,126.2 54,122.3 54.9,118.5 55.8,114.9 56.7,111.7 57.6,108.7 58.5,105.8 59.4,103.1 60.3,100.5 61.2,98 62.1,95.8 63,93.7 63.9,91.9 64.8,90.2 65.7,88.6 66.6,87.1 67.5,85.7 68.4,84.6 69.3,83.6 70.2,82.5 71.1,81.5 72,80.5 72.9,79.6 73.8,78.7 74.7,78 75.6,77.2 76.5,76.5 77.4,75.7 78.3,75 79.2,74.3 80.1,73.7 81,73.1 81.9,72.7 82.8,72.3 83.7,72 84.6,71.8 85.5,71.8 86.4,71.7 87.3,71.6 88.2,71.6 89.1,71.5 90,71.6 90.9,71.9 91.8,72.8 92.7,74.6 93.6,77.6 94.5,81.4 95.4,85.2 96.3,88.1 97.2,89.6 98.1,90.6 99,89.6 99.9,84.9 100.8,79.1 101.7,74.9 102.6,72.9 103.5,71 104.4,68.4 105.3,66.1 106.2,64.7 107.1,64.5 108,64.4 108.9,63.4 109.8,62.4 110.7,63.1 111.6,65.1 112.5,67.5 113.4,69.9 114.3,73.2 115.2,76.3 116.1,83.7 117,90.2 117.9,96.2 118.8,90.3 119.7,81.4 120.6,83.1 121.5,88.1 122.4,90.8 123.3,83.3 124.2,75.6 125.1,67.9 126,70.7 126.9,73.2 127.8,75.7 128.7,72.9 129.6,71.4 130.5,72.4 131.4,78.7 132.3,84.6 133.2,88.2 134.1,81.2 135,75.4 135.9,81.5 136.8,88.8 137.7,89.6 138.6,76.7 139.5,75 140.4,88 141.3,101.6 142.2,100.4 143.1,84.6 144,87.1 144.9,102.3 145.8,95.8 146.7,86.6 147.6,92.4 148.5,99.7 149.4,100.3 150.3,89 151.2,83 152.1,89.5 153,97.5 153.9,93.9 154.8,88.8 155.7,82.5 156.6,90.4 157.5,105.1 158.4,111.8 159.3,101 160.2,91.6 161.1,87.2 162,90.5 162.9,94.1 163.8,96.3 164.7,89.9 165.6,83.8 166.5,82.4 167.4,90.5 168.3,98.2 169.2,97.4 170.1,88.3 171,85.2 171.9,87.3 172.8,89.7 173.7,87.6 174.6,83.7 175.5,81.8 176.4,89.6 177.3,93.5 178.2,86 179.1,85.9 180,95.8 180.9,102 181.8,97.7 182.7,93.5 183.6,90.2 184.5,95.5 185.4,100.5 186.3,105.7 187.2,104.3 188.1,98.5 189,92.4 189.9,88.6 190.8,100.8 191.7,125 192.6,109.1 193.5,103.7 194.4,103.5 195.3,117 196.2,140.8 197.1,140.1 198,106.8 198.9,91.5 199.8,107.1 200.7,123.5 201.6,127.4 202.5,102.3 203.4,99.2 204.3,113.4 205.2,127.6 206.1,126.3 207,113.1 207.9,106.2 208.8,102.4 209.7,114 210.6,129.8 211.5,140.7 212.4,127 213.3,113.3 214.2,113.9 215.1,126.3 216,139.3 216.9,148.3 217.8,126.8 218.7,106.2 219.6,102.1 220.5,108.2 221.4,123.9 222.3,137.8 223.2,135.1 224.1,134.9 225,128.2 225.9,121.5 226.8,118.3 227.7,121.7 228.6,130.7 229.5,113.2 230.4,110.5 231.3,127.5 232.2,144.9 233.1,133.1 234,120.2 234.9,117.8 235.8,129.4 236.7,144.5 237.6,141.2 238.5,114.7" fill="none" stroke="#ffb3c0" stroke-opacity="0.55" stroke-width="0.9"/>
<path d="M41.5,176.8 42.4,176 43.2,174.3 44.1,170.2 45,166 45.9,162.3 46.8,158.7 47.7,155.1 48.6,151.4 49.5,147.7 50.4,143.9 51.3,139.9 52.2,136 53.1,132 54,128 54.9,123.9 55.8,120 56.7,116.2 57.6,112.7 58.5,109.4 59.4,106.1 60.3,103 61.2,100.1 62.1,97.4 63,95.1 63.9,93 64.8,91.1 65.7,89.3 66.6,87.7 67.5,86.2 68.4,85.1 69.3,84.1 70.2,83.1 71.1,82.2 72,81.3 72.9,80.4 73.8,79.7 74.7,79.2 75.6,78.7 76.5,78.1 77.4,77.5 78.3,76.9 79.2,76.3 80.1,75.8 81,75.3 81.9,74.9 82.8,74.4 83.7,74.1 84.6,73.8 85.5,73.6 86.4,73.3 87.3,73.1 88.2,72.8 89.1,72.5 90,72.4 90.9,72.6 91.8,73.2 92.7,74.9 93.6,77.8 94.5,81.5 95.4,85.3 96.3,88.6 97.2,90.5 98.1,91.5 99,90.7 99.9,87.7 100.8,83.5 101.7,78.7 102.6,75 103.5,71.7 104.4,70.9 105.3,70 106.2,68.1 107.1,67.3 108,67.7 108.9,68.6 109.8,69.7 110.7,69.7 111.6,69.9 112.5,70.8 113.4,74.8 114.3,81.3 115.2,88.5 116.1,90.2 117,85.8 117.9,85.2 118.8,89.5 119.7,93.7 120.6,87.6 121.5,79 122.4,79.6 123.3,84.6 124.2,89.5 125.1,81.9 126,67.1 126.9,68.9 127.8,72.3 128.7,77.3 129.6,76.7 130.5,73.5 131.4,84.7 132.3,97.6 133.2,88.8 134.1,78.6 135,80.1 135.9,85.1 136.8,89.1 137.7,83.4 138.6,77.3 139.5,75.1 140.4,88.1 141.3,101.9 142.2,106 143.1,96 144,85.3 144.9,79.6 145.8,92.8 146.7,99.7 147.6,94.1 148.5,88.2 149.4,88.6 150.3,92.8 151.2,97.2 152.1,99.2 153,88.3 153.9,80.2 154.8,91.6 155.7,104 156.6,116.4 157.5,114.2 158.4,105.4 159.3,96.4 160.2,90.7 161.1,93.2 162,95.9 162.9,96.5 163.8,90 164.7,83.6 165.6,81.2 166.5,91.7 167.4,92.5 168.3,85 169.2,83.3 170.1,91.7 171,101 171.9,93.9 172.8,83.7 173.7,80.9 174.6,85.4 175.5,90.4 176.4,91.6 177.3,87.5 178.2,89.6 179.1,98.3 180,102 180.9,97.8 181.8,93.7 182.7,104.4 183.6,111 184.5,107.8 185.4,104.4 186.3,104.2 187.2,108.6 188.1,113.3 189,109.4 189.9,104 190.8,108.5 191.7,136.1 192.6,137.6 193.5,128.3 194.4,117.5 195.3,118.3 196.2,143.8 197.1,151.9 198,133.1 198.9,118.9 199.8,123.2 200.7,129.1 201.6,127.1 202.5,121.8 203.4,120.6 204.3,115.9 205.2,122.8 206.1,128.3 207,128 207.9,128.5 208.8,122.3 209.7,110.4 210.6,111.4 211.5,124.9 212.4,127.8 213.3,123.6 214.2,116.8 215.1,118.7 216,128.7 216.9,135.6 217.8,124.5 218.7,103 219.6,96.7 220.5,105.8 221.4,122.5 222.3,123.8 223.2,113.8 224.1,135.8 225,165.5 225.9,136.3 226.8,99.4 227.7,107.5 228.6,130.2 229.5,146.2 230.4,133.8 231.3,117.3 232.2,120.7 233.1,129.6 234,126.5 234.9,110.3 235.8,118 236.7,135.6 237.6,144.8 238.5,120.2" fill="none" stroke="#ffb3c0" stroke-opacity="0.55" stroke-width="0.9"/>
<path d="M41.5,177.3 42.4,176.6 43.2,175.1 44.1,171.2 45,167.2 45.9,163.7 46.8,160.4 47.7,157.1 48.6,153.8 49.5,150.5 50.4,147 51.3,143.5 52.2,139.9 53.1,136.2 54,132.4 54.9,128.4 55.8,124.4 56.7,120.6 57.6,117 58.5,113.4 59.4,109.8 60.3,106.4 61.2,103.2 62.1,100.3 63,97.8 63.9,95.5 64.8,93.3 65.7,91.3 66.6,89.5 67.5,87.8 68.4,86.5 69.3,85.4 70.2,84.2 71.1,83.2 72,82.2 72.9,81.3 73.8,80.6 74.7,80.1 75.6,79.5 76.5,78.9 77.4,78.2 78.3,77.6 79.2,76.9 80.1,76.3 81,75.7 81.9,75.1 82.8,74.5 83.7,74.1 84.6,73.7 85.5,73.3 86.4,73 87.3,72.6 88.2,72.3 89.1,72 90,71.9 90.9,72 91.8,72.8 92.7,74.5 93.6,77.6 94.5,81.5 95.4,85.7 96.3,89.5 97.2,92.4 98.1,93.9 99,93.2 99.9,90.3 100.8,86 101.7,81 102.6,77.2 103.5,75.8 104.4,74.5 105.3,72.3 106.2,70.5 107.1,68.7 108,69.1 108.9,70.4 109.8,72.4 110.7,73.4 111.6,72.1 112.5,72 113.4,79.2 114.3,89.3 115.2,100.7 116.1,101.9 117,100.3 117.9,100.8 118.8,103.7 119.7,106.2 120.6,102.3 121.5,96.5 122.4,98.9 123.3,101 124.2,97.3 125.1,90.1 126,82.7 126.9,83.2 127.8,85.9 128.7,78.9 129.6,78.3 130.5,88.6 131.4,97 132.3,90.5 133.2,83.3 134.1,86.3 135,89.7 135.9,84.7 136.8,75.5 137.7,78 138.6,85.8 139.5,94.4 140.4,96 141.3,87.8 142.2,79.4 143.1,76 144,87.6 144.9,99.2 145.8,107.2 146.7,98.2 147.6,93.1 148.5,102.3 149.4,106.5 150.3,93.2 151.2,81.6 152.1,81.6 153,89.5 153.9,98.8 154.8,102 155.7,98.5 156.6,93.7 157.5,93.1 158.4,97.5 159.3,100.3 160.2,96.8 161.1,86.5 162,79.2 162.9,86.4 163.8,93.5 164.7,90.7 165.6,87 166.5,83.7 167.4,87.1 168.3,92.9 169.2,98.8 170.1,102.1 171,93.8 171.9,92.7 172.8,98.4 173.7,104.4 174.6,102.5 175.5,98.4 176.4,94.5 177.3,97.9 178.2,106.5 179.1,113.5 180,114.1 180.9,114.5 181.8,110.2 182.7,107.3 183.6,111.2 184.5,114.9 185.4,115.6 186.3,113.4 187.2,109.2 188.1,105.6 189,113.3 189.9,116.6 190.8,114.7 191.7,120.1 192.6,117.5 193.5,128 194.4,136.7 195.3,133.9 196.2,136.8 197.1,133.6 198,135 198.9,132.9 199.8,135.4 200.7,126.3 201.6,122.4 202.5,129.9 203.4,143.8 204.3,147.1 205.2,127.4 206.1,105.7 207,106.3 207.9,114.6 208.8,125.8 209.7,118.5 210.6,102.7 211.5,113 212.4,129 213.3,123.2 214.2,119.7 215.1,111.4 216,116 216.9,124.6 217.8,123.5 218.7,105.8 219.6,103.1 220.5,111.9 221.4,128.2 222.3,129.1 223.2,117.5 224.1,128.5 225,152.9 225.9,154.5 226.8,133.8 227.7,124.2 228.6,145.9 229.5,157.1 230.4,147.4 231.3,134.3 232.2,122.7 233.1,120 234,137.6 234.9,128.7 235.8,118.7 236.7,129.3 237.6,136.6 238.5,132.4" fill="none" stroke="#ffb3c0" stroke-opacity="0.55" stroke-width="0.9"/>
<path d="M41.5,177.5 42.4,176.7 43.2,174.9 44.1,170.7 45,166.4 45.9,162.6 46.8,159.2 47.7,156 48.6,152.8 49.5,149.6 50.4,146.5 51.3,143.2 52.2,139.9 53.1,136.5 54,132.9 54.9,129 55.8,125.1 56.7,121.3 57.6,117.6 58.5,113.9 59.4,110.2 60.3,106.7 61.2,103.3 62.1,100.3 63,97.6 63.9,95.2 64.8,93 65.7,91 66.6,89.2 67.5,87.5 68.4,86.3 69.3,85.3 70.2,84.3 71.1,83.4 72,82.7 72.9,82 73.8,81.4 74.7,81.3 75.6,81 76.5,80.7 77.4,80.4 78.3,80.1 79.2,79.7 80.1,79.4 81,79 81.9,78.6 82.8,78.3 83.7,77.9 84.6,77.6 85.5,77.3 86.4,76.9 87.3,76.5 88.2,76.1 89.1,75.8 90,75.6 90.9,75.9 91.8,76.7 92.7,78.5 93.6,81.9 94.5,86.2 95.4,90.9 96.3,95.1 97.2,97.9 98.1,99.8 99,99.2 99.9,95.7 100.8,90 101.7,84.3 102.6,80 103.5,76.6 104.4,75.4 105.3,74.5 106.2,72.8 107.1,71.9 108,72.6 108.9,72.9 109.8,71.3 110.7,70.6 111.6,73 112.5,76.4 113.4,77.9 114.3,79.5 115.2,79.9 116.1,84.1 117,88.8 117.9,93.2 118.8,91.6 119.7,86.4 120.6,88.1 121.5,89.9 122.4,91.8 123.3,87.5 124.2,81.3 125.1,79.8 126,80.8 126.9,78.9 127.8,74.2 128.7,71.6 129.6,79.7 130.5,91.1 131.4,91 132.3,85.6 133.2,78.2 134.1,89.5 135,97.4 135.9,91 136.8,81.2 137.7,81.1 138.6,91 139.5,101.7 140.4,105.2 141.3,100.9 142.2,96.5 143.1,102.5 144,113.4 144.9,116.4 145.8,112.4 146.7,101 147.6,108.2 148.5,115.3 149.4,115.6 150.3,112.7 151.2,107.8 152.1,101.1 153,103.7 153.9,114.4 154.8,119.3 155.7,119.7 156.6,113.3 157.5,106.2 158.4,112.7 159.3,115.7 160.2,111.3 161.1,108 162,96.7 162.9,100.8 163.8,104.6 164.7,104.4 165.6,104.4 166.5,101.9 167.4,93.3 168.3,98.4 169.2,102.9 170.1,97.3 171,91.9 171.9,97.8 172.8,104.3 173.7,103.4 174.6,93.6 175.5,93.7 176.4,102.5 177.3,111 178.2,112.5 179.1,106.8 180,102.9 180.9,106.4 181.8,109.6 182.7,107.8 183.6,99.8 184.5,101.9 185.4,108.5 186.3,113 187.2,107.9 188.1,102.5 189,98 189.9,108.4 190.8,122 191.7,129.2 192.6,115.1 193.5,124.9 194.4,133.3 195.3,135.5 196.2,122.6 197.1,127.1 198,144.9 198.9,150.1 199.8,134.5 200.7,121.2 201.6,121.1 202.5,130.3 203.4,146.3 204.3,151.8 205.2,142.5 206.1,129.4 207,125.9 207.9,138.6 208.8,149.7 209.7,139.1 210.6,128.9 211.5,134.7 212.4,133.9 213.3,131.9 214.2,131.3 215.1,136.8 216,150.2 216.9,155.7 217.8,140.4 218.7,108.5 219.6,108.4 220.5,124.5 221.4,136.3 222.3,127.3 223.2,123.2 224.1,143.1 225,158.9 225.9,162.8 226.8,144.7 227.7,131.9 228.6,127.9 229.5,143.8 230.4,144.4 231.3,147.6 232.2,160.6 233.1,150.2 234,130.4 234.9,137.9 235.8,152.5 236.7,163.8 237.6,161 238.5,139.9" fill="none" stroke="#ffb3c0" stroke-opacity="0.55" stroke-width="0.9"/>
<path d="M41.5,179.8 42.4,179.8 43.2,179 44.1,176.1 45,173.2 45.9,170.2 46.8,167.2 47.7,164 48.6,160.6 49.5,156.9 50.4,152.9 51.3,148.7 52.2,144.2 53.1,139.7 54,135 54.9,130.1 55.8,125.3 56.7,120.7 57.6,116.5 58.5,112.4 59.4,108.6 60.3,105 61.2,101.7 62.1,98.9 63,96.5 63.9,94.3 64.8,92.5 65.7,90.8 66.6,89.2 67.5,87.9 68.4,86.9 69.3,86 70.2,85.2 71.1,84.4 72,83.7 72.9,83 73.8,82.5 74.7,82.3 75.6,82 76.5,81.6 77.4,81.1 78.3,80.5 79.2,79.9 80.1,79.3 81,78.7 81.9,78.2 82.8,77.7 83.7,77.3 84.6,77 85.5,76.8 86.4,76.7 87.3,76.5 88.2,76.5 89.1,76.6 90,77 90.9,77.9 91.8,79.6 92.7,82.4 93.6,86.9 94.5,92.7 95.4,99 96.3,104.7 97.2,108.8 98.1,111.4 99,109.2 99.9,102.1 100.8,94.8 101.7,88.8 102.6,84.6 103.5,79.8 104.4,75.8 105.3,73.2 106.2,72.1 107.1,71.6 108,70.3 108.9,67.4 109.8,67.6 110.7,69.6 111.6,71.5 112.5,72.5 113.4,74.9 114.3,79.3 115.2,89.9 116.1,100.1 117,100.9 117.9,99.5 118.8,96.9 119.7,102 120.6,108.7 121.5,107.8 122.4,100.8 123.3,92.3 124.2,96.7 125.1,97.9 126,92.9 126.9,84.4 127.8,77.3 128.7,80.4 129.6,89.5 130.5,91.1 131.4,89.5 132.3,85.4 133.2,83.8 134.1,87.9 135,92.6 135.9,95.5 136.8,90.5 137.7,85.5 138.6,82.5 139.5,92.9 140.4,104 141.3,108 142.2,104.3 143.1,101 144,114.9 144.9,116.4 145.8,117.7 146.7,114.6 147.6,104.8 148.5,111.8 149.4,115.6 150.3,107.9 151.2,100.1 152.1,97.3 153,104.6 153.9,113.6 154.8,119.3 155.7,112.4 156.6,92.9 157.5,98.9 158.4,109.8 159.3,115.7 160.2,107.5 161.1,97 162,90 162.9,98.5 163.8,104.6 164.7,103.2 165.6,95.9 166.5,99.5 167.4,104.8 168.3,105.2 169.2,102.5 170.1,91.5 171,103.5 171.9,107.4 172.8,103.7 173.7,99.8 174.6,105.5 175.5,110.5 176.4,111.3 177.3,107.3 178.2,106.9 179.1,113.3 180,114.1 180.9,109.1 181.8,104.3 182.7,110.6 183.6,115.2 184.5,112 185.4,107.4 186.3,102.6 187.2,110 188.1,117.1 189,117.5 189.9,112.1 190.8,115.5 191.7,141.1 192.6,137.8 193.5,141.3 194.4,133.1 195.3,135.8 196.2,163.5 197.1,175.6 198,133.1 198.9,125.1 199.8,136.6 200.7,147.9 201.6,138.8 202.5,132 203.4,131.5 204.3,138.2 205.2,149.8 206.1,155.8 207,139.1 207.9,129 208.8,123 209.7,133.4 210.6,145.3 211.5,146.2 212.4,133.8 213.3,121.3 214.2,132.2 215.1,145.1 216,140 216.9,125 217.8,125.7 218.7,117.8 219.6,122.9 220.5,122.4 221.4,127.2 222.3,149.2 223.2,157.6 224.1,149.2 225,158.2 225.9,172.3 226.8,160.5 227.7,154.7 228.6,151.3 229.5,142.2 230.4,147.4 231.3,147.6 232.2,160.6 233.1,150.4 234,148.2 234.9,146.7 235.8,152.5 236.7,153.2 237.6,161 238.5,145" fill="none" stroke="#ffb3c0" stroke-opacity="0.55" stroke-width="0.9"/>
<path d="M41.5,179 42.4,178.8 43.2,177.7 44.1,174.4 45,171.2 45.9,168.2 46.8,165.2 47.7,162.3 48.6,159.1 49.5,155.8 50.4,152.4 51.3,148.7 52.2,144.9 53.1,141 54,137 54.9,132.7 55.8,128.3 56.7,124.1 57.6,120.2 58.5,116.3 59.4,112.4 60.3,108.8 61.2,105.5 62.1,102.5 63,99.8 63.9,97.5 64.8,95.3 65.7,93.3 66.6,91.5 67.5,89.7 68.4,88.5 69.3,87.5 70.2,86.4 71.1,85.5 72,84.7 72.9,83.9 73.8,83.3 74.7,83.1 75.6,82.8 76.5,82.4 77.4,81.9 78.3,81.5 79.2,81 80.1,80.5 81,80.1 81.9,79.7 82.8,79.3 83.7,78.9 84.6,78.6 85.5,78.3 86.4,78 87.3,77.7 88.2,77.4 89.1,77.2 90,77.4 90.9,78 91.8,79.2 92.7,81.7 93.6,85.8 94.5,91.2 95.4,97.3 96.3,103.3 97.2,107.4 98.1,109.7 99,109 99.9,104.5 100.8,97.2 101.7,90.9 102.6,86.4 103.5,82.7 104.4,79.9 105.3,77.9 106.2,76.9 107.1,76.3 108,76 108.9,76 109.8,76.4 110.7,77.2 111.6,78.7 112.5,81.3 113.4,86.9 114.3,93.9 115.2,100.7 116.1,102.6 117,99.7 117.9,96.7 118.8,102 119.7,107.5 120.6,108.7 121.5,104.1 122.4,93.3 123.3,89.6 124.2,93.5 125.1,96 126,92.6 126.9,83.9 127.8,77.8 128.7,78.1 129.6,83.2 130.5,89.6 131.4,94.7 132.3,92.1 133.2,87.6 134.1,82 135,85.9 135.9,93.2 136.8,98.3 137.7,99.8 138.6,94.7 139.5,89.5 140.4,98 141.3,107.2 142.2,105.7 143.1,98 144,99.9 144.9,113.2 145.8,117.7 146.7,118.6 147.6,118.8 148.5,111.4 149.4,107.9 150.3,108.4 151.2,109.5 152.1,110.5 153,108.4 153.9,107.1 154.8,106.6 155.7,115 156.6,122.6 157.5,122 158.4,115.4 159.3,108.1 160.2,111.3 161.1,108 162,106 162.9,101.7 163.8,99.2 164.7,104.4 165.6,104.4 166.5,104.6 167.4,101.5 168.3,101 169.2,104.3 170.1,106.1 171,106.7 171.9,107.3 172.8,104.3 173.7,101.3 174.6,103.6 175.5,108.1 176.4,111.3 177.3,109.5 178.2,105.6 179.1,103.1 180,108.9 180.9,114.4 181.8,114.8 182.7,112.4 183.6,101 184.5,108.4 185.4,115.6 186.3,115.9 187.2,115.6 188.1,109.7 189,107.9 189.9,119.9 190.8,127.5 191.7,149.6 192.6,129.8 193.5,136 194.4,142.8 195.3,146.2 196.2,163.5 197.1,173.2 198,166.8 198.9,155 199.8,154.1 200.7,154.6 201.6,143.6 202.5,144 203.4,156.6 204.3,160.3 205.2,161.1 206.1,150.6 207,136 207.9,142.8 208.8,149.7 209.7,150.3 210.6,144.3 211.5,135.9 212.4,129.2 213.3,131.1 214.2,143.2 215.1,144.2 216,140.2 216.9,149.7 217.8,140.4 218.7,121.2 219.6,124.4 220.5,129.8 221.4,135.8 222.3,149.9 223.2,157.6 224.1,172.5 225,170 225.9,163.5 226.8,159.9 227.7,159.6 228.6,170.1 229.5,155 230.4,131.7 231.3,134.5 232.2,151.3 233.1,153.2 234,147.7 234.9,140.3 235.8,139.9 236.7,145.8 237.6,153.1 238.5,145" fill="none" stroke="#ffb3c0" stroke-opacity="0.55" stroke-width="0.9"/>
<path d="M41.5,151.6 42.4,144.1 43.2,137.8 44.1,132.8 45,128.1 45.9,123.7 46.8,119.5 47.7,115.5 48.6,111.6 49.5,107.9 50.4,104.3 51.3,100.9 52.2,97.7 53.1,94.8 54,92.1 54.9,89.5 55.8,87.1 56.7,84.7 57.6,82.4 58.5,80 59.4,78.1 60.3,76.8 61.2,75.6 62.1,74.5 63,73.5 63.9,72.5 64.8,71.5 65.7,70.7 66.6,69.9 67.5,69.2 68.4,68.5 69.3,67.9 70.2,67.3 71.1,66.6 72,65.9 72.9,65.2 73.8,64.4 74.7,63.7 75.6,62.9 76.5,62.2 77.4,61.4 78.3,60.7 79.2,59.9 80.1,59.2 81,58.4 81.9,57.6 82.8,56.9 83.7,56.1 84.6,55.4 85.5,54.6 86.4,53.9 87.3,53.2 88.2,52.4 89.1,51.6 90,50.6 90.9,50.5 91.8,51.5 92.7,53.5 93.6,55.7 94.5,58.1 95.4,60 96.3,59.1 97.2,56.5 98.1,53.7 99,51.3 99.9,49.1 100.8,47.2 101.7,45.7 102.6,44.5 103.5,43.3 104.4,42.2 105.3,40.9 106.2,39.4 107.1,37.8 108,36.5 108.9,35.5 109.8,34.7 110.7,33.8 111.6,33.1 112.5,32.7 113.4,32.7 114.3,32.8 115.2,33.1 116.1,33.3 117,33.3 117.9,33 118.8,32.4 119.7,31.7 120.6,31 121.5,30.3 122.4,29.2 123.3,29.1 124.2,29 125.1,28.9 126,28.8 126.9,28.8 127.8,28.7 128.7,28.6 129.6,28.5 130.5,28.5 131.4,28.4 132.3,28.4 133.2,28.3 134.1,28.3 135,28.3 135.9,28.3 136.8,28.3 137.7,28.4 138.6,28.4 139.5,28.6 140.4,28.8 141.3,30.2 142.2,33.5 143.1,39.6 144,42.3 144.9,44.7 145.8,46.4 146.7,47.4 147.6,47.8 148.5,48 149.4,47.9 150.3,47.5 151.2,47.2 152.1,47 153,47.1 153.9,47.4 154.8,47.9 155.7,48.7 156.6,49.6 157.5,50 158.4,49.5 159.3,48.6 160.2,47.5 161.1,46.2 162,44.6 162.9,42.6 163.8,41.6 164.7,41.1 165.6,40.6 166.5,40.2 167.4,39.8 168.3,39.3 169.2,38.8 170.1,38.3 171,37.8 171.9,37.3 172.8,36.9 173.7,36.4 174.6,35.9 175.5,36 176.4,37.2 177.3,39 178.2,40.3 179.1,41.2 180,42 180.9,42.8 181.8,43.8 182.7,45.2 183.6,46.8 184.5,48.5 185.4,49.6 186.3,50.4 187.2,50.7 188.1,51 189,51.1 189.9,51.3 190.8,51.6 191.7,52.5 192.6,55 193.5,56.2 194.4,59.5 195.3,61.1 196.2,56.1 197.1,51.5 198,47 198.9,41.2 199.8,47.2 200.7,57.6 201.6,58 202.5,51.6 203.4,44.1 204.3,42 205.2,40.2 206.1,40.7 207,49.6 207.9,57.2 208.8,54 209.7,49.1 210.6,51.9 211.5,59.8 212.4,60.6 213.3,55.3 214.2,49.2 215.1,45.6 216,46 216.9,44.8 217.8,42.9 218.7,45.7 219.6,46.3 220.5,39.8 221.4,40.9 222.3,45.5 223.2,46.4 224.1,45.8 225,44.4 225.9,44.2 226.8,45.1 227.7,47.5 228.6,48.6 229.5,46.4 230.4,46 231.3,45.5 232.2,42.1 233.1,43.6 234,42.5 234.9,40.2 235.8,44 236.7,50.2 237.6,53.8 238.5,57.5 238.5,121.5 237.6,123.6 236.7,126.8 235.8,127.7 234.9,126.3 234,117.5 233.1,113.1 232.2,114.3 231.3,120.5 230.4,120 229.5,118 228.6,119.4 227.7,122.1 226.8,127.7 225.9,126.5 225,124.6 224.1,125.4 223.2,121.6 222.3,119.6 221.4,127.9 220.5,131.7 219.6,122.3 218.7,109.3 217.8,99 216.9,106.7 216,112.5 215.1,114.6 214.2,118.8 213.3,121 212.4,119.6 211.5,116.9 210.6,116.6 209.7,116 208.8,116.6 207.9,121 207,121.6 206.1,120.7 205.2,125.6 204.3,120.3 203.4,106.8 202.5,113.1 201.6,124 200.7,127.6 199.8,123.9 198.9,121.5 198,121.6 197.1,117.8 196.2,113.2 195.3,111.7 194.4,113.4 193.5,118.1 192.6,118.7 191.7,111 190.8,104.2 189.9,101.6 189,100.2 188.1,99.2 187.2,98.3 186.3,97.7 185.4,97.2 184.5,97 183.6,97.5 182.7,98.4 181.8,99.3 180.9,100 180,100 179.1,99 178.2,97.3 177.3,95.2 176.4,93.2 175.5,91.6 174.6,90.8 173.7,90.8 172.8,91.3 171.9,92 171,92.6 170.1,93 169.2,92.9 168.3,92.5 167.4,91.9 166.5,91.4 165.6,91.1 164.7,91 163.8,91.1 162.9,91.3 162,91.6 161.1,92.3 160.2,93.5 159.3,96.5 158.4,103.1 157.5,107.9 156.6,105.6 155.7,100.4 154.8,96.6 153.9,94.7 153,93.7 152.1,93.9 151.2,95.7 150.3,98.7 149.4,101.8 148.5,103.7 147.6,103.4 146.7,100.5 145.8,96.6 144.9,93.5 144,91.4 143.1,89.7 142.2,88.3 141.3,86.8 140.4,85.3 139.5,83.3 138.6,81 137.7,80 136.8,80.5 135.9,81.8 135,83.7 134.1,85.8 133.2,85.2 132.3,80.9 131.4,76.9 130.5,74.5 129.6,72.4 128.7,70.9 127.8,69.9 126.9,69.9 126,71.2 125.1,73.9 124.2,77.4 123.3,81.2 122.4,85 121.5,88.6 120.6,92.4 119.7,94.2 118.8,94.2 117.9,92.8 117,90.1 116.1,85.8 115.2,81.2 114.3,76.1 113.4,72 112.5,70.1 111.6,69.2 110.7,68.5 109.8,68.1 108.9,68 108,68.1 107.1,68.7 106.2,69.4 105.3,70.3 104.4,71.4 103.5,72.6 102.6,74.2 101.7,78.9 100.8,87.3 99.9,95.7 99,101.3 98.1,102.6 97.2,99.2 96.3,93.4 95.4,85.9 94.5,78.9 93.6,74.6 92.7,72.9 91.8,72.4 90.9,72.6 90,73.2 89.1,73.8 88.2,74.2 87.3,74.5 86.4,74.9 85.5,75.2 84.6,75.6 83.7,76 82.8,76.5 81.9,77 81,77.5 80.1,78.1 79.2,78.7 78.3,79.3 77.4,80 76.5,80.6 75.6,81.3 74.7,82 73.8,82.7 72.9,83.4 72,84.2 71.1,85.1 70.2,86.1 69.3,87.2 68.4,88.3 67.5,89.4 66.6,90.6 65.7,91.8 64.8,93 63.9,94.3 63,95.7 62.1,97.2 61.2,98.8 60.3,100.6 59.4,102.7 58.5,105 57.6,107.6 56.7,110.5 55.8,113.5 54.9,116.8 54,120.3 53.1,124.2 52.2,128.7 51.3,133.9 50.4,139.6 49.5,146.1 48.6,153.7 47.7,159.6 46.8,163.9 45.9,167.5 45,170.9 44.1,174.1 43.2,177.3 42.4,180 41.5,180Z" fill="#ffc0cb" fill-opacity="0.95" stroke="none"/>
<path d="M41.4,155 41.7,152.5 42.1,149 42.6,144.9 43.3,140.5 43.8,137.9 44.3,135.2 44.8,132.3 45.4,129.4 46,126.4 46.7,123.4 47.3,120.5 47.8,118.3 48.3,116 48.9,113.6 49.4,111.3 50,109 50.6,106.8 51.1,104.6 51.7,102.5 52.3,100.5 52.9,98.6 53.5,96.6 54.2,94.8 54.8,93 55.4,91.2 56,89.6 56.6,88.1 57.1,86.7 57.6,85.5 58.3,83.5 58.8,82.4 59.2,81.5 60,80.3 60.4,79.7 60.9,79 61.5,78.3 62,77.6 62.6,76.9 63.3,76.2 63.9,75.5 64.5,74.9 65.1,74.3 65.7,73.7 66.3,73.2 66.8,72.7 67.4,72.3 67.9,71.9 68.5,71.5 69.1,71.1 69.6,70.7 70.2,70.3 70.7,69.9 71.3,69.5 71.9,69.1 72.4,68.6 73,68.1 73.6,67.7 74.1,67.2 74.7,66.7 75.3,66.2 75.9,65.7 76.4,65.3 77,64.8 77.6,64.3 78.1,63.9 78.7,63.4 79.2,62.9 79.8,62.4 80.4,62 80.9,61.5 81.5,61 82,60.6 82.6,60.1 83.2,59.6 83.8,59.1 84.4,58.6 85,58.1 85.6,57.6 86.2,57.1 86.8,56.6 87.3,56.2 87.8,55.8 88.3,55.4 89,54.7 89.6,54.1 90.1,53.6 90.6,53.3 91.1,53.5 91.7,54.2 92.3,55.4 92.9,56.9 93.5,58.3 94,59.5 94.6,61.3 95.2,63 95.8,63.3 96.3,62.5 96.9,61 97.5,59.2 98.1,57.4 98.7,55.8 99.3,54.5 99.8,53.3 100.3,52.2 100.9,51.1 101.5,50.1 102,49.5 102.5,48.9 103.1,48.4 103.7,47.9 104.3,47.4 104.8,46.9 105.3,46.3 105.9,45.4 106.5,44.4 107,43.4 107.5,42.4 108,41.6 108.6,40.9 109.2,40.3 109.7,39.8 110.3,39.3 110.9,38.6 111.4,37.9 111.9,37.3 112.5,37.1 113.1,37.4 113.6,38 114.2,38.7 114.8,39.3 115.4,39.8 116,40.3 116.5,40.7 117.1,40.8 117.7,40.7 118.2,40.3 118.7,39.9 119.3,39.3 119.9,38.6 120.5,37.8 121.1,37 121.6,36.3 122.1,35.4 122.5,34.6 123.1,34 123.5,33.8 124,33.6 124.5,33.5 125,33.4 125.6,33.4 126.1,33.3 126.6,33.3 127.1,33.3 127.6,33.3 128.1,33.3 128.6,33.3 129.1,33.3 129.6,33.2 130.1,33 130.6,32.8 131.2,32.7 131.7,32.5 132.2,32.5 132.7,32.6 133.2,32.7 133.7,32.9 134.2,33.1 134.7,33.2 135.2,33.3 135.8,33.2 136.3,32.9 136.9,32.6 137.4,32.4 138,32.5 138.6,32.9 139.2,33.6 139.7,34.4 140.3,35.4 140.8,36.5 141.4,38.2 141.8,40.2 142.3,42.2 142.8,44 143.3,45.4 143.8,46.6 144.4,47.7 145,49 145.5,50 146,51.1 146.5,52.2 147,53.3 147.5,54.3 148,55 148.5,55.6 149,55.9 149.5,56 149.9,56 150.5,56 151,55.9 151.6,55.6 152.2,55.3 152.8,54.9 153.4,54.6 154,54.5 154.5,54.5 155,54.7 155.6,54.9 156.1,55.1 156.6,55.3 157.2,55.4 157.7,55.4 158.2,55.3 158.8,55.1 159.3,54.9 159.8,54.6 160.3,54.2 160.8,53.9 161.3,53.5 161.8,53 162.3,52.3 162.8,51.6 163.3,50.9 163.8,50.4 164.3,50 164.9,49.9 165.5,50 166.1,50.2 166.6,50.4 167.2,50.6 167.8,50.7 168.4,50.9 169,51 169.5,51.1 170,51 170.6,50.6 171.2,49.9 171.7,48.8 172.2,47.4 172.6,45.5 173.1,43.8 173.6,43.1 174.1,43.8 174.6,45.4 175,47.2 175.5,48.8 176,49.9 176.4,50.9 176.9,51.7 177.4,52.5 177.9,53 178.5,53.3 179,53.6 179.6,53.9 180.2,54.4 180.8,55.1 181.3,55.9 181.9,56.7 182.4,57.5 183,58.2 183.5,58.7 184.1,59.1 184.6,59.5 185.2,59.8 185.8,60.1 186.3,60.4 186.9,60.8 187.5,61.2 188.1,61.5 188.7,61.6 189.2,61.5 189.6,61 190.3,57.4 190.8,52.4 191.1,50.4 191.5,56.5 191.7,65.3 192,72 192.3,76.4 192.6,76 192.9,73 193.2,67.9 193.5,63 193.8,61.1 194.1,61.1 194.4,63.7 194.7,66.8 195,69.2 195.3,70.3 195.6,68.2 195.9,64.8 196.2,61.2 196.5,57.7 196.8,55.1 197.1,54.1 197.4,56.3 197.7,59.3 198,61.4 198.3,62.5 198.6,61.3 198.9,59.2 199.2,57 199.5,55 199.8,54 200.1,52.9 200.4,50.5 200.7,47.6 201,44.5 201.3,42.4 201.6,42.8 201.9,44.6 202.2,47.3 202.5,50.1 202.8,52.2 203.1,53.8 203.4,54.9 203.7,55.9 204,56.7 204.3,57.8 204.6,59.7 204.9,62.3 205.2,65.9 205.5,69.8 205.8,73.4 206.1,76.6 206.4,79.5 206.7,81.2 207,81 207.3,78.2 207.6,71.4 207.9,62.4 208.2,52 208.5,42.6 208.8,37.5 209.1,35 209.4,34.6 209.7,36.5 210,41.5 210.3,47.4 210.6,51.6 210.9,55 211.2,56.9 211.5,58.9 211.8,62.8 212.1,67.5 212.4,73.3 212.7,77.2 213,75.1 213.3,70.5 213.6,65.4 213.9,60.2 214.2,56.4 214.5,52.7 214.8,47.6 215.1,42.8 215.4,39.5 215.7,38.4 216,40.8 216.3,45.1 216.6,50.5 216.9,56.2 217.2,61.2 217.5,65.7 217.8,69.8 218.1,72.1 218.4,70.8 218.7,67.9 219,65.2 219.3,62.5 219.6,60.2 219.9,57.6 220.2,52.9 220.5,49.5 220.8,50.7 221.1,54.6 221.4,61.4 221.7,68.4 222,72.4 222.3,73.7 222.6,70 222.9,64.9 223.2,61.7 223.5,59.8 223.8,60.1 224.1,61.2 224.4,62.1 224.7,62.3 225,61.3 225.3,59.1 225.6,55 225.9,50.4 226.2,46.3 226.5,43.4 226.8,42.9 227.1,43.8 227.4,45.5 227.7,47.5 228,48.6 228.3,49.2 228.6,49 228.9,48.4 229.2,47.5 229.5,47.2 229.8,48.9 230.1,51.9 230.4,57.2 230.7,62.2 231,64.8 231.3,65.3 231.6,62.2 231.9,58 232.2,54.6 232.5,52.7 232.8,55 233.1,58.5 233.4,61.4 233.7,63.8 234,65.1 234.3,65.5 234.6,64.9 234.9,63.5 235.2,61.4 235.5,59.5 235.8,59.1 236.1,59.5 236.4,61 236.7,62.1 237,61 237.3,58 237.6,51.9 237.9,45.3 238.2,40.8 238.5,38.3 238.8,39.3 239.1,42.5 239.4,47.4 239.7,52.7 240,57.3 240.3,60.9 240.6,63.1 240.9,64 241.2,63.3 241.5,62.2 241.8,61.9 242.1,61.7" fill="none" stroke="#ff2a2a" stroke-opacity="0.85" stroke-width="1.0" stroke-dasharray="1.6 1.5"/>
<path d="M42.5,178 42.8,176.1 43.2,173.7 43.7,170.9 44.3,167.6 44.9,164.1 45.5,160.5 46.2,156.8 46.8,153.1 47.5,149.5 48.1,146.2 48.6,143.1 49.1,140.5 49.8,136.7 50.4,133.5 50.9,130.7 51.4,128.2 51.9,125.7 52.5,123.2 53.1,120.5 53.6,118.5 54.1,116.4 54.6,114.3 55.1,112.2 55.6,110.1 56.2,108 56.8,106 57.4,104.1 58,102.2 58.7,100.5 59.2,99.3 59.8,98.2 60.3,97.1 60.9,96 61.5,95 62.1,93.9 62.8,93 63.4,92 64,91.1 64.6,90.2 65.2,89.4 65.8,88.6 66.4,87.8 66.9,87 67.5,86.1 68.1,85.2 68.7,84.5 69.2,83.7 69.7,83.1 70.3,82.4 70.8,81.8 71.3,81.2 71.8,80.7 72.4,80.1 73,79.5 73.5,79 74.1,78.5 74.6,78 75.2,77.5 75.7,77 76.3,76.5 76.9,76.1 77.5,75.7 78.1,75.3 78.7,74.9 79.2,74.6 79.8,74.3 80.4,74 81,73.8 81.6,73.6 82.2,73.5 82.8,73.4 83.5,73.4 84.1,73.3 84.7,73.3 85.3,73.4 85.9,73.4 86.5,73.4 87,73.4 87.5,73.5 88,73.5 88.8,73.6 89.4,73.7 90,73.8 90.5,74 91,74.2 91.5,74.3 92,74.5 92.6,74.7 93.1,74.9 93.6,75.2 94.2,75.5 94.7,75.6 95.3,75.7 95.8,75.6 96.3,75.3 96.9,74.8 97.4,74.3 97.9,73.6 98.4,73 99,72.3 99.6,71.8 100.1,71.4 100.7,71 101.3,70.7 101.8,70.4 102.4,70 103,69.7 103.7,69.4 104.3,69 104.8,68.7 105.4,68.5 106,68.2 106.6,68 107.2,67.7 107.8,67.4 108.4,67.1 109,66.8 109.5,66.4 110,66 110.7,65.3 111.3,64.4 111.9,63.4 112.4,62.4 113,61.4 113.5,60.6 114,60 114.6,59.5 115.1,59.1 115.6,58.8 116.1,58.7 116.6,58.7 117.1,58.9 117.6,59.3 118.1,60.1 118.6,61 119.1,61.9 119.6,62.5 120.1,62.7 120.6,62.4 121.1,61.7 121.6,60.8 122.1,59.8 122.6,58.9 123.1,58.2 123.7,57.5 124.3,56.9 124.8,56.3 125.4,56 126,56 126.5,56.3 127,56.7 127.5,57.3 128,58.1 128.5,59 129,60 129.6,62.1 130.2,64.8 130.7,67.2 131.3,68.6 131.8,68.6 132.3,67.7 132.9,66.6 133.5,65.5 134.2,64.8 134.7,64.7 135.3,64.6 135.9,64.7 136.5,64.8 137.1,65 137.8,65.2 138.3,65.5 138.9,65.7 139.5,66 140,66.4 140.5,66.8 141,67.3 141.5,67.7 142,68.2 142.6,68.6 143.1,68.9 143.6,69.3 144.2,69.6 144.7,69.9 145.3,70.2 145.8,70.6 146.4,70.9 146.9,71.1 147.4,71.4 148.1,71.7 148.7,71.8 149.2,71.9 149.8,72.1 150.4,72.4 151,73 151.6,73.8 152.1,74.8 152.7,75.9 153.3,77.1 153.9,78.2 154.5,79.2 155,80 155.5,80.7 156,81.2 156.5,81.6 157,81.8 157.5,82 158,82 158.5,81.9 159.1,81.5 159.6,81.1 160.2,80.6 160.8,80.3 161.4,80 162,80 162.6,80.3 163.1,80.9 163.7,81.7 164.3,82.5 164.9,83.3 165.4,83.8 166,84 166.6,83.8 167.1,83.3 167.7,82.5 168.3,81.7 168.9,80.9 169.4,80.3 170,80 170.6,80 171.1,80.1 171.7,80.3 172.3,80.7 172.9,81.1 173.4,81.6 174,82 174.6,82.5 175.1,83.2 175.7,83.9 176.3,84.6 176.9,85.2 177.4,85.7 178,86 178.6,86 179.1,85.7 179.7,85.2 180.3,84.8 180.9,84.3 181.4,84 182,84 182.6,84.3 183.1,84.8 183.7,85.5 184.2,86.2 184.8,86.9 185.4,87.5 186,88 186.6,88.2 187.2,88.2 187.8,88.1 188.5,88 189.1,87.9 189.7,88 190.2,88.3 190.6,88.9 191.4,92.5 191.8,97.2 192.1,100.1 192.5,98.1 192.7,94.5 193,93.4 193.3,92.8 193.6,92.2 193.9,91.3 194.2,89.3 194.5,87.1 194.8,84.8 195.1,84.5 195.4,88.8 195.7,95.9 196,106 196.3,116 196.6,123.6 196.9,126.8 197.2,121.2 197.5,111.2 197.8,98.7 198.1,87.2 198.4,82.2 198.7,80.2 199,79.7 199.3,80.1 199.6,80.1 199.9,81.1 200.2,84.8 200.5,89.4 200.8,93.5 201.1,96.8 201.4,97.7 201.7,97.9 202,98.2 202.3,99.3 202.6,102.3 202.9,106.6 203.2,112.6 203.5,117.4 203.8,117.5 204.1,115.4 204.4,111.7 204.7,108 205,106.4 205.3,105.7 205.6,104.8 205.9,104.5 206.2,105.1 206.5,106 206.8,107.1 207.1,107.5 207.4,105.8 207.7,103.7 208,102.4 208.3,102.8 208.6,106.4 208.9,112.5 209.2,121.9 209.5,130.7 209.8,134.7 210.1,135.8 210.4,134.7 210.7,131.3 211,125 211.3,117.7 211.6,110.8 211.9,105.6 212.2,104.2 212.5,105 212.8,107.6 213.1,110.2 213.4,110.8 213.7,110.7 214,110.3 214.3,109.9 214.6,110.6 214.9,111.1 215.2,110.8 215.5,109.3 215.8,106 216.1,101.6 216.4,95.9 216.7,91 217,89.1 217.3,88.9 217.6,90.8 217.9,92.8 218.2,92.9 218.5,92.2 218.8,89.9 219.1,88.8 219.4,91.7 219.7,96.9 220,104.1 220.3,112.1 220.6,120.3 220.9,126.4 221.2,127.5 221.5,124.3 221.8,115.2 222.1,104.8 222.4,97 222.7,92.4 223,94.1 223.3,97.8 223.6,100.6 223.9,101.9 224.2,99.4 224.5,95.8 224.8,92.9 225.1,91.7 225.4,94.6 225.7,98.9 226,103.1 226.3,106.8 226.6,109.2 226.9,110.6 227.2,111 227.5,110.7 227.8,110 228.1,108.8 228.4,106.4 228.7,104 229,102.1 229.3,101.5 229.6,103.3 229.9,107 230.2,113.2 230.5,119.2 230.8,122.3 231.1,122.7 231.4,118.3 231.7,112.6 232,108.9 232.3,106.9 232.6,108.5 232.9,110.5 233.2,110.5 233.5,109 233.8,105.4 234.1,101.6 234.4,99.6 234.7,98.5 235,98.7 235.3,98.6 235.6,96 235.9,93.1 236.2,91.6 236.5,91.1 236.8,92.3 237.1,93.9 237.4,94.6 237.7,95.4 238,97.2 238.3,99 238.6,100.4 238.9,100.6 239.2,98.1 239.5,94.5 239.8,90.6 240.1,88 240.4,89.1 240.7,92.3 241,97.3 241.3,102.4 241.6,105.4 241.9,107.2" fill="none" stroke="#ff2a2a" stroke-opacity="0.85" stroke-width="1.0" stroke-dasharray="1.6 1.5"/>
<path d="M41.4,169 41.7,167.7 42.2,166 42.8,163.6 43.3,160.5 43.8,156.3 44.3,151.2 44.9,145.8 45.6,140.5 46,137.6 46.5,134.8 47,131.9 47.5,129.1 48.1,126.2 48.7,123.4 49.3,120.5 49.8,118.5 50.3,116.4 50.8,114.3 51.4,112.3 51.9,110.2 52.5,108.1 53.1,106.1 53.7,104.2 54.3,102.3 54.9,100.5 55.4,99 56,97.6 56.6,96.2 57.1,94.8 57.7,93.4 58.3,92.1 58.9,90.9 59.5,89.7 60.1,88.5 60.6,87.4 61.1,86.4 61.6,85.5 62.3,84.1 62.9,83 63.5,82.1 64,81.3 64.5,80.7 65.1,80 65.7,79.3 66.2,78.8 66.7,78.4 67.3,77.9 67.8,77.5 68.4,77.2 69,76.8 69.6,76.4 70.1,76 70.7,75.6 71.3,75.2 71.9,74.8 72.4,74.3 73,73.8 73.6,73.3 74.1,72.8 74.7,72.3 75.3,71.9 75.9,71.4 76.4,70.9 77,70.5 77.6,70.1 78.1,69.7 78.7,69.3 79.2,68.9 79.8,68.5 80.4,68.1 80.9,67.7 81.5,67.4 82,67 82.6,66.7 83.2,66.4 83.8,66.1 84.4,65.8 85,65.5 85.6,65.2 86.2,65 86.7,64.7 87.3,64.4 87.8,64.2 88.3,63.9 89,63.5 89.6,63 90.1,62.5 90.6,62.1 91.1,61.7 91.6,61.5 92.1,61.4 92.7,61.7 93.3,62.3 93.8,63.1 94.4,63.8 94.9,64.2 95.4,64.3 96,64.2 96.5,64 97.1,63.7 97.7,63.3 98.2,62.9 98.7,62.4 99.3,61.9 99.8,61.3 100.4,60.7 100.9,60.1 101.5,59.5 102.1,59 102.6,58.5 103.2,58 103.7,57.5 104.3,57 104.8,56.4 105.3,55.8 105.9,54.8 106.4,53.7 107,52.6 107.5,51.5 108,50.6 108.5,50 109,49.4 109.5,48.9 110,48.5 110.5,48 111,47.6 111.5,47.1 112,46.6 112.5,46.2 113.1,45.8 113.5,45.5 114,45.4 114.6,45.7 115.2,46.3 115.7,47 116.3,47.6 116.9,48 117.4,48.4 118,48.6 118.6,48.4 119.1,48 119.6,47.4 120.1,46.6 120.6,45.9 121.1,45.2 121.6,44.6 122.2,44 122.7,43.5 123.3,43.2 123.8,43.1 124.4,43.4 124.9,43.9 125.5,44.6 126.1,45.4 126.7,46.3 127.3,47.2 127.8,48.2 128.4,49.1 129,49.9 129.5,50.6 130,51.1 130.6,51.4 131.2,51.3 131.7,50.9 132.3,50.4 132.9,49.9 133.5,49.3 134,48.6 134.6,48 135.2,47.6 135.7,47.5 136.3,47.6 136.9,47.8 137.4,48 138,48.4 138.6,48.9 139.1,49.5 139.7,50.2 140.3,50.9 140.8,51.6 141.4,52.4 141.9,53.2 142.4,54 143,55 143.5,55.8 144,56.7 144.6,57.7 145.2,58.6 145.8,59.5 146.4,60.1 146.9,60.4 147.5,60.7 148,60.8 148.6,60.8 149.1,60.9 149.7,60.9 150.2,61 150.7,61.2 151.3,61.3 151.8,61.5 152.4,61.7 152.9,61.9 153.5,62 154,62 154.5,61.9 155.1,61.8 155.6,61.6 156.1,61.4 156.6,61.2 157.2,61.1 157.7,61 158.2,61 158.8,61.2 159.3,61.3 159.9,61.5 160.4,61.7 161,61.9 161.5,62 162.1,62.1 162.6,62.1 163.2,62.1 163.7,62.2 164.3,62.2 164.8,62.3 165.3,62.5 165.9,63 166.5,63.6 167,64.3 167.5,64.8 168,65 168.5,64.7 169.1,64.1 169.6,63.3 170.2,62.6 170.8,62 171.3,61.7 171.8,61.4 172.4,61.1 172.9,60.9 173.5,60.8 174,60.8 174.5,61 175.1,61.6 175.7,62.4 176.3,63.5 176.8,64.6 177.4,65.7 178,66.8 178.5,68 179,69.2 179.6,70.4 180.2,71.4 180.7,72.1 181.2,72.8 181.8,73.5 182.3,74.1 182.9,74.6 183.5,75 184,75.2 184.5,75.2 185.1,75.1 185.6,74.8 186.1,74.4 186.6,74 187.2,73.6 187.7,73.3 188.3,73 188.8,72.5 189.4,72 190,71.6 190.6,71.3 191.1,71.2 191.5,71.4 192.2,73.2 192.7,76 193,78.3 193.4,79.9 193.6,81.1 193.9,83.2 194.2,85.2 194.5,86.7 194.8,87.4 195.1,86.9 195.4,85.7 195.7,83.6 196,81.3 196.3,79.1 196.6,77 196.9,75.3 197.2,73.7 197.5,72.2 197.8,70.9 198.1,70.2 198.4,69.8 198.7,69.7 199,69.8 199.3,70 199.6,70.3 199.9,70.7 200.2,71.2 200.5,71.9 200.8,72.7 201.1,73.7 201.4,74.8 201.7,76 202,77.2 202.3,78.5 202.6,79.4 202.9,79.3 203.2,78.7 203.5,77.6 203.8,76.5 204.1,75.8 204.4,75.1 204.7,73.9 205,72.6 205.3,71 205.6,69.9 205.9,70.4 206.2,71.8 206.5,73.6 206.8,75.2 207.1,75.9 207.4,76 207.7,75.4 208,74.4 208.3,73.3 208.6,72 208.9,70 209.2,68 209.5,65.9 209.8,64.6 210.1,65.2 210.4,67.2 210.7,71 211,75.3 211.3,79.4 211.6,82.9 211.9,84.8 212.2,85.7 212.5,85.4 212.8,84.5 213.1,83.4 213.4,82.3 213.7,81.5 214,80.8 214.3,79.7 214.6,78.4 214.9,76.7 215.2,75.1 215.5,73.9 215.8,73 216.1,72.4 216.4,72 216.7,72 217,72.4 217.3,73.2 217.6,74.2 217.9,75 218.2,75.9 218.5,77.5 218.8,79.1 219.1,80.3 219.4,80.7 219.7,79.5 220,77.9 220.3,76.8 220.6,76.1 220.9,75.8 221.2,75.6 221.5,74.8 221.8,74.1 222.1,73.8 222.4,74.1 222.7,75.4 223,77.1 223.3,79 223.6,80.9 223.9,82.3 224.2,83.5 224.5,84.9 224.8,86.1 225.1,87.3 225.4,87.9 225.7,87.6 226,86.3 226.3,83.1 226.6,79.1 226.9,75 227.2,71.1 227.5,67.3 227.8,64.4 228.1,63.4 228.4,63.5 228.7,64.2 229,65.9 229.3,68.5 229.6,71.6 229.9,74.8 230.2,77.5 230.5,79 230.8,79.2 231.1,77.2 231.4,74.5 231.7,72.1 232,70.4 232.3,70.6 232.6,71.5 232.9,72.4 233.2,73.1 233.5,72.8 233.8,72.1 234.1,71.4 234.4,70.9 234.7,71.3 235,72.1 235.3,73.5 235.6,74.9 235.9,75.6 236.2,76 236.5,75.6 236.8,75.2 237.1,75.1 237.4,75.3 237.7,76.1 238,76.8 238.3,76.9 238.6,76.8 238.9,76.6 239.2,76.8 239.5,78 239.8,79.5 240.1,81.1 240.4,81.9 240.7,81.1 241,79.3 241.3,76.5 241.6,73.3 241.9,70.2 242.2,67.9" fill="none" stroke="#ff2020" stroke-opacity="0.88" stroke-width="0.95"/>
<path d="M41.4,114.5 41.8,114 42.3,113.4 42.9,112.6 43.5,111.8 44.2,110.9 44.9,109.9 45.5,108.9 46,107.9 46.6,106.9 47.2,105.7 47.8,104.5 48.3,103.4 48.9,102.3 49.4,101.3 49.9,100.5 50.5,99.7 51,99.1 51.5,98.7 52,98.4 52.5,98 53.1,97.5 53.6,97 54.2,96.4 54.8,95.8 55.4,95.2 55.9,94.7 56.5,94.2 56.9,93.8 57.5,93.3 57.9,92.9 58.3,92.7 58.8,92.8 59.3,93.1 59.9,93.6 60.4,94.2 61,94.9 61.6,95.7 62.2,96.7 62.8,97.9 63.3,99.2 63.9,100.2 64.4,100.8 65,100.8 65.5,100.4 66,99.5 66.5,98.5 67,97.2 67.5,95.5 68,93.7 68.5,92 69,90.5 69.6,89 70.1,87.6 70.6,86 71.1,84.3 71.5,82.6 72,80.8 72.5,79 73,77.5 73.4,75.8 73.9,74.2 74.5,72.8 75.1,71.5 75.6,70.8 76.1,70.2 76.6,69.6 77.2,69.2 77.8,68.8 78.4,68.4 78.9,68 79.4,67.6 80,67.3 80.5,67 81.1,66.7 81.6,66.4 82.1,66.2 82.6,66.1 83.2,65.9 83.8,65.8 84.4,65.8 85,66 85.5,66.5 86,67.4 86.5,68.7 87,70.1 87.5,71.5 88,72.5 88.5,73.1 89,73.5 89.6,73.9 90.1,74.1 90.6,74.4 91.1,74.6 91.7,75 92.1,75.5 92.6,75.7 93,75.6 93.5,75.1 93.9,74.3 94.4,73.2 94.9,71.8 95.4,70.4 96,68.7 96.5,66.9 97.1,65 97.7,63.3 98.3,61.7 98.9,60 99.5,58.4 100.1,57 100.6,55.8 101.1,54.6 101.6,53.6 102.1,53 102.5,52.9 103.1,53.6 103.7,55.1 104.3,58 104.8,62 105.4,67.4 105.9,72.4 106.4,75 106.9,73.8 107.4,69.7 108,65 108.5,61.5 109.1,57.6 109.7,53.8 110.3,50.6 110.9,48.1 111.4,46.1 111.9,44.6 112.5,43.8 113.1,43.9 113.6,44.8 114.2,46.1 114.8,47.6 115.4,49.2 116,51.2 116.5,53.2 117.1,55.2 117.7,57.2 118.2,59.1 118.8,61 119.3,62.7 119.8,64.9 120.3,66.8 120.8,67.2 121.3,65.9 121.9,63.6 122.5,60.8 123.1,58.2 123.7,55.6 124.3,52.8 124.9,50.3 125.4,48.4 125.9,46.8 126.3,47 126.7,47.8 127.3,49 127.8,50.6 128.4,52.2 128.9,54 129.5,56 130,58 130.6,59.7 131.2,61.2 131.7,62.6 132.3,63.7 132.9,64.2 133.5,64 134.1,63.3 134.7,62.3 135.2,61.2 135.7,59.9 136.1,58.3 136.5,56.8 137,56 137.5,55.9 138,56.1 138.6,56.6 139.2,57.3 139.8,58.2 140.4,59.4 140.9,60.9 141.5,62.5 142,64.2 142.6,65.7 143.2,67 143.8,68.3 144.3,69.6 144.9,70.8 145.5,72 146.1,73.3 146.6,74.7 147.2,76 147.7,77.1 148.3,78 148.9,78.5 149.4,78.8 150,78.9 150.6,78.9 151.1,79 151.6,79.1 152.1,79.2 152.6,79.3 153,79.2 153.5,79 154,78.4 154.6,77.6 155.1,76.8 155.7,76 156.2,75.5 156.8,75.1 157.4,74.7 158,74.4 158.5,74 159.1,73.3 159.5,72.7 160,72.5 160.4,72.7 160.9,73.2 161.4,73.8 161.9,74.4 162.4,74.9 162.9,75.5 163.3,76 163.8,76.3 164.3,76.1 164.8,75.4 165.2,75 165.7,75.4 166.2,76.9 166.7,79.2 167.1,81.8 167.5,83.9 168.1,87.5 168.5,89.5 168.9,87.8 169.4,85.8 169.9,87.1 170.4,88.6 170.8,87.3 171.3,85.8 171.7,86.1 172.2,86.8 172.7,87.4 173.2,87.6 173.7,87 174.1,85.8 174.6,84.6 175.1,83.9 175.6,83.7 176.1,83.7 176.6,84.1 177,84.8 177.5,87 177.9,91.4 178.4,102.3 178.9,110.3 179.3,103.3 179.8,93.3 180.2,90.9 180.7,89.3 181.2,88.2 181.7,87.6 182.2,87.5 182.7,87.8 183.2,88.6 183.6,89.5 184.1,92.6 184.5,95.2 184.9,95.4 185.4,95.2 185.9,94.5 186.4,93.3 186.9,91 187.4,87.8 187.9,85 188.3,83.9 188.8,88.8 189.2,95.2 189.6,97.3 190.2,97.1 190.6,95.5 191.1,92.9 191.6,90.6 192.1,89.5 192.6,90.6 193.1,93.1 193.5,95.6 194,97.1 194.5,97 194.9,95.9 195.3,94.5 195.8,93.3 196.3,92.2 196.7,90.9 197.2,89.9 197.7,89.5 198.3,90 198.9,91.3 199.5,92.6 200,93.3 200.6,92.5 201.1,91 201.5,91.4 201.9,98.7 202.1,106 202.4,106.9 202.7,104 203,96.2 203.3,88.8 203.6,88.7 203.9,90.4 204.2,91 204.5,90 204.8,83.5 205.1,78.7 205.4,83.8 205.7,91.4 206,97.1 206.3,99.8 206.6,93.7 206.9,88.2 207.2,93 207.5,100.6 207.8,108.3 208.1,112.2 208.4,104.7 208.7,95.1 209,91.2 209.3,90.3 209.6,93 209.9,96.8 210.2,99.9 210.5,101.4 210.8,99.4 211.1,94.7 211.4,85.9 211.7,78.3 212,78.2 212.3,81.4 212.6,86.6 212.9,91.9 213.2,94.4 213.5,96.3 213.8,100.4 214.1,102.9 214.4,99.4 214.7,95.4 215,95.2 215.3,97.6 215.6,105.3 215.9,111 216.2,105.6 216.5,97.2 216.8,90.4 217.1,85.9 217.4,87.3 217.7,90.7 218,92.9 218.3,95.3 218.6,99.2 218.9,102.3 219.2,102.2 219.5,100.2 219.8,96.6 220.1,92.7 220.4,89.9 220.7,88.8 221,90.3 221.3,94.6 221.6,104.3 221.9,113.5 222.2,116.2 222.5,115.4 222.8,110.9 223.1,105.7 223.4,103.4 223.7,101.8 224,100.1 224.3,98 224.6,94 224.9,89.9 225.2,87.6 225.5,85.5 225.8,82.4 226.1,79.1 226.4,75.2 226.7,73.2 227,75.8 227.3,81.3 227.6,90.2 227.9,98.8 228.2,103.2 228.5,104.4 228.8,100.3 229.1,95.4 229.4,93.5 229.7,94.4 230,100.9 230.3,108.1 230.6,112.7 230.9,113 231.2,103.4 231.5,92 231.8,85.4 232.1,82.5 232.4,85.2 232.7,89.8 233,93 233.3,94.9 233.6,93.2 233.9,91.1 234.2,92.3 234.5,93.7 234.8,93 235.1,92.4 235.4,94.2 235.7,95.8 236,94.6 236.3,93 236.6,92.8 236.9,93.2 237.2,95.1 237.5,95.6 237.8,89.7 238.1,83.8 238.4,83.5 238.7,86.5 239,93.8 239.3,101.2 239.6,105 239.9,105.2 240.2,99.9 240.5,92.1 240.8,82.8 241.1,77.3 241.4,84.8 241.7,94.5 242,97.4 242.3,98.1" fill="none" stroke="#222" stroke-opacity="0.92" stroke-width="1.0"/>
<path d="M42.2,175.3 42.6,173.4 43.1,170.7 43.7,167.5 44.4,164 45,160.5 45.5,157.5 46,154.2 46.5,150.8 47.1,147.4 47.6,143.9 48.2,140.5 48.7,137.6 49.2,134.8 49.7,131.9 50.3,129.1 50.8,126.2 51.4,123.4 52,120.5 52.5,118.3 53,116 53.5,113.6 54,111.3 54.5,109 55.1,106.8 55.6,104.6 56.3,102.5 56.9,100.5 57.4,99 58,97.6 58.6,96.2 59.2,94.8 59.9,93.4 60.5,92.1 61.2,90.8 61.8,89.6 62.4,88.5 63,87.4 63.5,86.4 64,85.5 64.8,84.1 65.4,83 65.8,82.3 66.3,81.6 66.8,80.9 67.5,80 68,79.3 68.5,78.6 69,77.8 69.6,77 70.2,76.2 70.8,75.3 71.4,74.5 72,73.7 72.6,73 73.2,72.3 73.8,71.6 74.3,71 74.9,70.4 75.5,69.8 76.1,69.3 76.6,68.7 77.2,68.2 77.8,67.7 78.3,67.2 78.9,66.7 79.5,66.2 80.1,65.8 80.6,65.4 81.2,65 81.8,64.6 82.4,64.2 83,63.8 83.5,63.5 84,63.2 84.5,62.9 85.1,62.5 85.7,62.1 86.3,61.8 86.8,61.4 87.3,61.2 87.8,61.1 88.3,61 88.9,61 89.5,61.1 90.1,61.4 90.6,62 91.1,62.9 91.6,64.7 92.1,67.2 92.5,69.9 93,72.7 93.5,75.7 94,78.9 94.4,82.1 94.9,85 95.5,88.4 96,91.5 96.6,94.1 97.1,96.7 97.7,98.8 98.2,99.5 98.8,97.9 99.5,94.9 100,92 100.5,89 101,85 101.4,80.2 101.9,74.3 102.5,69 103,66.4 103.5,64 104.1,61.8 104.7,59.7 105.3,57.6 105.9,55.4 106.4,53.2 107,51.1 107.5,49.2 108,47.6 108.6,46.2 109.2,45.2 109.7,44.4 110.3,43.8 110.9,43.2 111.4,42.7 111.9,42.4 112.5,42.3 113.1,42.5 113.6,43 114.2,43.7 114.8,44.6 115.4,45.7 116,47.1 116.5,48.7 117.1,50.6 117.7,52.9 118.2,55.6 118.8,58.4 119.3,61 119.8,64.2 120.3,67.2 120.8,70 121.4,73 121.9,75.7 122.5,76.5 123,74.3 123.5,70.2 124,66 124.4,62 124.9,57.9 125.4,54 125.9,51.3 126.5,48.7 127.1,46.4 127.6,44.6 128.1,43.1 128.6,42.5 129.1,42.3 129.6,42.5 130.2,42.9 130.8,43.7 131.4,44.6 132,45.7 132.6,47 133.2,48.6 133.7,50.6 134.2,53.7 134.7,57.4 135.2,62 135.6,67 136.1,73.2 136.6,78.5 137,81 137.6,78.1 138.1,71.4 138.6,65 139.1,60.1 139.6,55.5 140,52 140.6,49.6 141.2,49 141.6,48.9 142,49.1 142.5,49.8 143,51 143.5,53 144,55.5 144.5,58.5 145,62 145.6,67.1 146.1,73.1 146.6,80 147,87.3 147.5,96 148,103.5 148.4,107 149,103 149.5,93.6 150,85 150.5,79.2 151,74.2 151.5,70 152,66.4 152.5,63.6 153,62.5 153.6,63.2 154.1,65.6 154.7,70 155.2,77.3 155.8,86.5 156.3,95 156.9,103.2 157.4,110.7 158,114 158.4,112 158.9,107.1 159.4,100.9 159.8,95 160.4,87.2 160.9,79 161.5,72 161.9,67.9 162.4,64.5 162.8,61.9 163.3,60.5 163.8,60.6 164.3,61.9 164.7,63.9 165.2,66 165.7,69.2 166.2,72.8 166.8,76 167.3,77.6 167.8,78.8 168.4,79.9 168.9,81.3 169.4,83.3 169.9,85.7 170.3,87.7 170.8,88.9 171.4,88.8 172,87.3 172.6,85.1 173.1,82.7 173.6,79.7 174.1,76.6 174.5,73.8 175,70.6 175.4,67.8 175.8,66 176.2,65.4 176.6,67 177.1,70.3 177.6,74.6 178.3,77.5 178.8,77.8 179.4,77.4 180,76.6 180.6,75.9 181.1,75.7 181.6,76.2 182.1,77.1 182.5,78.2 183,79.4 183.5,80.6 183.9,82 184.4,83.5 184.9,85.1 185.4,86.9 185.9,88.8 186.3,90.8 186.8,92.6 187.3,94.1 187.8,95.5 188.2,96.9 188.7,98.3 189.2,100.2 189.6,102.2 190.1,104 190.6,104.9 191.1,104.6 191.6,103.5 192,102 192.5,100.2 193,97.8 193.4,94.8 193.9,92.2 194.3,90.8 194.9,91.9 195.4,94.7 195.8,96.7 196.2,96.7 196.4,95.6 196.7,94.8 197,93.1 197.3,89.8 197.6,84.2 197.9,73.8 198.2,63.1 198.5,56.5 198.8,52.4 199.1,51.6 199.4,52.1 199.7,52.1 200,52.1 200.3,51.9 200.6,52.5 200.9,55 201.2,59.4 201.5,66.5 201.8,73.9 202.1,78.8 202.4,82.2 202.7,83.9 203,84.4 203.3,83.9 203.6,82.9 203.9,82.2 204.2,81.3 204.5,80 204.8,78.3 205.1,75.8 205.4,73.6 205.7,73.1 206,73.5 206.3,74.8 206.6,76.2 206.9,76.3 207.2,76.4 207.5,77.6 207.8,79.7 208.1,83.6 208.4,88.1 208.7,92.9 209,96.1 209.3,95.1 209.6,92.3 209.9,88.4 210.2,84.7 210.5,83.2 210.8,83.2 211.1,85.6 211.4,88 211.7,88 212,86.1 212.3,80.7 212.6,76 212.9,76.7 213.2,79.8 213.5,84.4 213.8,88.8 214.1,90.5 214.4,91.5 214.7,92.7 215,94.9 215.3,100.3 215.6,105.2 215.9,106.5 216.2,105.1 216.5,99.9 216.8,93.7 217.1,89.1 217.4,85.6 217.7,83.2 218,82.1 218.3,82.6 218.6,84.1 218.9,86.4 219.2,89.2 219.5,92.1 219.8,94.5 220.1,94.8 220.4,94.3 220.7,93.6 221,93.1 221.3,93.9 221.6,94.7 221.9,94.2 222.2,92.6 222.5,89.2 222.8,85.3 223.1,82.2 223.4,79.8 223.7,79.3 224,78.8 224.3,76.4 224.6,73.9 224.9,72.6 225.2,73.1 225.5,77.5 225.8,83.2 226.1,88.4 226.4,92.4 226.7,93.4 227,93 227.3,91.5 227.6,91 227.9,95 228.2,99.7 228.5,102.5 228.8,102.7 229.1,97.4 229.4,90.5 229.7,85.4 230,81 230.3,77.3 230.6,73.7 230.9,69.8 231.2,65.8 231.5,61.4 231.8,58.3 232.1,58.2 232.4,61 232.7,68.4 233,77.2 233.3,85.1 233.6,91.1 233.9,93.4 234.2,92 234.5,85.4 234.8,77.2 235.1,69.8 235.4,65.1 235.7,67.2 236,72 236.3,76.7 236.6,80.8 236.9,82.4 237.2,82.2 237.5,79.6 237.8,76.2 238.1,72.9 238.4,71.1 238.7,73.7 239,77.9 239.3,82.5 239.6,86.4 239.9,87.2 240.2,86.7 240.5,85.3 240.8,83.5 241.1,82 241.4,80.1 241.7,77.1 242,74.5" fill="none" stroke="#2a2aff" stroke-opacity="0.85" stroke-width="0.95"/>
</g>
<g clip-path="url(#c2)">
<path d="M282.8,138.3 283.7,137.4 284.6,136.4 285.5,135.2 286.4,133.8 287.3,132.2 288.2,130.4 289.1,128.4 290,126.2 290.9,123.9 291.8,121.5 292.7,119.1 293.6,116.7 294.5,114.2 295.4,111.9 296.3,109.6 297.2,107.4 298.1,105.4 299,103.5 299.9,101.7 300.8,100 301.7,98.5 302.6,97.1 303.5,95.8 304.4,94.7 305.3,93.6 306.2,92.6 307.1,91.6 308,90.5 308.9,89.4 309.8,88.2 310.7,86.9 311.6,85.5 312.5,84.1 313.4,82.5 314.3,80.9 315.2,79.2 316.1,77.5 317,75.9 317.9,74.8 318.8,73.1 319.7,71.1 320.6,69.1 321.5,67.1 322.4,65.2 323.3,63.3 324.2,61.5 325.1,59.7 326,57.9 326.9,55.9 327.8,53.7 328.7,51.9 329.6,50.8 330.5,50 331.4,49.8 332.3,50.5 333.2,51.9 334.1,53.9 335,56.1 335.9,57.9 336.8,59.4 337.7,60.7 338.6,61.9 339.5,63.1 340.4,64.3 341.3,65.6 342.2,66.9 343.1,68.2 344,69.7 344.9,71.3 345.8,72.7 346.7,74.1 347.6,75.3 348.5,76.4 349.4,77.5 350.3,78.4 351.2,79.1 352.1,79.6 353,80 353.9,80.3 354.8,80.3 355.7,80.2 356.6,80 357.5,79.9 358.4,79.8 359.3,79.7 360.2,79.6 361.1,79.3 362,78.9 362.9,78.5 363.8,77.9 364.7,77.2 365.6,76.2 366.5,75.1 367.4,73.8 368.3,72.4 369.2,71 370.1,69.5 371,67.9 371.9,66.4 372.8,64.9 373.7,63.4 374.6,62 375.5,60.7 376.4,59.6 377.3,58.5 378.2,57.6 379.1,56.7 380,56 380.9,55.4 381.8,55.5 382.7,56.8 383.6,59.3 384.5,63 385.4,67.1 386.3,71.1 387.2,74.9 388.1,79 389,83 389.9,84.6 390.8,84.6 391.7,84 392.6,83.4 393.5,83 394.4,82.8 395.3,82.5 396.2,82.3 397.1,82.2 398,82.1 398.9,82.2 399.8,82.6 400.7,82.9 401.6,82.9 402.5,82.5 403.4,81.9 404.3,80.8 405.2,79 406.1,76.4 407,72.7 407.9,66.8 408.8,58.8 409.7,50.9 410.6,45.4 411.5,41.7 412.4,39.6 413.3,39.4 414.2,41.3 415.1,44.7 416,48.4 416.9,52.1 417.8,55.6 418.7,58.6 419.6,61.6 420.5,64.6 421.4,67.2 422.3,69.7 423.2,72.7 424.1,74.6 425,76.9 425.9,78.5 426.8,79.7 427.7,81.4 428.6,81.8 429.5,80.5 430.4,79.5 431.3,78.8 432.2,77.9 433.1,76.2 434,73 434.9,69.4 435.8,68.5 436.7,69.3 437.6,65.1 438.5,60.7 439.4,57.7 440.3,58.6 441.2,60.6 442.1,63.6 443,65.5 443.9,66.6 444.8,67.4 445.7,69.1 446.6,71.3 447.5,73.3 448.4,73.7 449.3,73.7 450.2,73.3 451.1,73.9 452,72 452.9,65.8 453.8,58.1 454.7,55.7 455.6,53.8 456.5,49.3 457.4,42.6 458.3,37.4 459.2,37.9 460.1,41.6 461,46.3 461.9,49.8 462.8,49.4 463.7,48 464.6,50.3 465.5,54.1 466.4,57.9 467.3,54.5 468.2,50.6 469.1,47.6 470,52.6 470.9,58.8 471.8,58.9 472.7,57.2 473.6,57 474.5,58.2 475.4,57.4 476.3,52.8 477.2,48.7 478.1,48.4 479,50.9 479.9,50.3 480.8,48.8 481.7,50.8 482.6,53.2 483.5,56.2 484.4,54.3 485.3,52.3 486.2,50 487.1,51.1 488,56 488.9,60.2 489.8,57.1 490.7,52.3 491.6,47.4 492.5,48.7 493.4,51.5 494.3,54 495.2,48.7 496.1,44.3 497,48.3 497.9,54.2 498.8,59.3 499.7,54.6 500.6,47.2 501.5,44.7 502.4,41.3 503.3,35 504.2,28.8 505.1,28.4 506,30.4 506.9,28.1 507.8,24.6 508.7,21.7 509.6,31.5 510.5,43.6 511.4,54.1 512.3,57.7 513.2,59.6 514.1,59.3 515,64 515.9,69.8 516.8,73 517.7,68.6 518.6,63.4 519.5,64.9 520.4,69.1 521.3,73.1 522.2,67.3 523.1,60.3 524,53.5 524.9,57.7 525.8,65.8 526.7,57.8 527.6,48.5 528.5,37.7 529.4,32.3 530.3,30.4 531.2,28.7 532.1,31.8 533,34.2 533.9,31.8 534.8,33.8 535.7,45.5 536.6,44.6 537.5,32.4 538.4,47.2 539.3,57.3 540.2,48.8 541.1,41.5 542,38.9 542.9,37.9 543.8,40.4 544.7,35.1 545.6,36.8 546.5,36.8 547.4,35.3 548.3,43.9 549.2,36.5 550.1,28 551,33.5 551.9,39.2 552.8,33.7 553.7,29.2 554.6,33.9 555.5,40.6 556.4,41 557.3,37.6 558.2,32.9 559.1,33.2 560,30.7 560.9,22.4 561.8,31.2 562.7,27.3 563.6,18.3 564.5,30.7 565.4,35.1 566.3,25.7 567.2,19 568.1,29.2 569,42 569.9,43.4 570.8,27.7 571.7,21.2 572.6,24.1 573.5,26.7 574.4,31.8 575.3,31.5 576.2,20.6 577.1,23.3 578,35.7 578.9,47.8 579.8,55.7 580.7,52.3 581.6,46.6 582.5,35.7 583.4,28.5 584.3,31.9 585.2,21.2 586.1,11.9 587,17.7 587.9,20.5 588.8,13.4 589.7,11.7 590.6,15.2 591.5,21.5 592.4,22.2 593.3,21.5 594.2,19.1 595.1,15.5 596,16.3 596.9,21.6 597.8,31.3 598.7,33.8 599.6,21.6 600.5,22.1 601.4,31.5 602.3,31.5 603.2,32.3 604.1,40.9 605,50.1 605.9,34.9 606.8,24 607.7,15.9 608.6,43.3 609.5,61 610.4,40.5 611.3,28.5 612.2,22.9 613.1,22 614,29.8 614.9,41.1 615.8,34.4 616.7,18.4 617.6,18 618.5,28.4 619.4,37.4 620.3,25.7 621.2,18.5 622.1,23.6 623,30.7 623.9,29.8 624.8,19.5 625.7,10.1 626.6,28.6 627.5,47.9 628.4,43.2 629.3,38.9 630.2,36.3 631.1,46.1 632,41.6 632.9,35.7 633.8,42.5 634.7,53.6 635.6,45.6 636.5,32.1 637.4,26.2 638.3,31.1 639.2,35.3 640.1,42.6 641,41.3 641.9,45.9 642.8,35 643.7,26.6 644.6,30.8 645.5,47.2 646.4,48.9 647.3,36.1 648.2,29.7 649.1,39.8 650,45.7 650.9,47.6 651.8,47.8 652.7,43.2 653.6,31.5 654.5,21.9 655.4,28 656.3,35.9 657.2,29 658.1,28.1 659,31.7 659.9,34.5 660.8,26.8 661.7,27.7 662.6,31.2 663.5,33.7 664.4,35.7 665.3,44.2 666.2,51.4 667.1,46.7 668,35.7 668.9,22.2 669.8,26.4 670.7,38.3 671.6,48 672.5,42.9 673.4,34.2 674.3,29 675.2,39.2 676.1,44 677,36.5" fill="none" stroke="#ffb3c0" stroke-opacity="0.55" stroke-width="0.9"/>
<path d="M282.8,141.2 283.7,139.4 284.6,137.5 285.5,135.5 286.4,133.4 287.3,131.2 288.2,128.9 289.1,126.6 290,124.2 290.9,121.9 291.8,119.5 292.7,117.2 293.6,114.9 294.5,112.7 295.4,110.6 296.3,108.5 297.2,106.5 298.1,104.7 299,102.8 299.9,101.1 300.8,99.4 301.7,97.7 302.6,96.2 303.5,94.8 304.4,93.5 305.3,92.3 306.2,91.2 307.1,90.1 308,89 308.9,87.9 309.8,86.8 310.7,85.8 311.6,84.7 312.5,83.6 313.4,82.5 314.3,81.3 315.2,80.1 316.1,78.8 317,77.6 317.9,76.7 318.8,75.2 319.7,73.4 320.6,71.5 321.5,69.4 322.4,67.3 323.3,65.1 324.2,63 325.1,61 326,58.9 326.9,56.6 327.8,54.1 328.7,51.9 329.6,50.4 330.5,49.3 331.4,48.9 332.3,49.4 333.2,50.7 334.1,52.6 335,54.8 335.9,56.8 336.8,58.6 337.7,60.4 338.6,62.3 339.5,64.1 340.4,66 341.3,67.9 342.2,69.7 343.1,71.5 344,73.4 344.9,75.1 345.8,76.6 346.7,78 347.6,79.1 348.5,80.1 349.4,80.9 350.3,81.4 351.2,81.8 352.1,81.9 353,81.9 353.9,81.8 354.8,81.6 355.7,81.3 356.6,80.9 357.5,80.5 358.4,80.2 359.3,80.1 360.2,79.9 361.1,79.6 362,79.2 362.9,78.8 363.8,78.3 364.7,77.7 365.6,76.9 366.5,75.9 367.4,74.7 368.3,73.4 369.2,72.1 370.1,70.7 371,69.2 371.9,67.7 372.8,66.3 373.7,64.9 374.6,63.5 375.5,62.2 376.4,61 377.3,60 378.2,59.1 379.1,58.3 380,57.6 380.9,57.1 381.8,57.2 382.7,58.6 383.6,61.3 384.5,65.4 385.4,69.9 386.3,74 387.2,77.7 388.1,81.6 389,85.4 389.9,87.2 390.8,87.4 391.7,86.8 392.6,86.1 393.5,85.5 394.4,85 395.3,84.5 396.2,84.1 397.1,83.7 398,83.6 398.9,83.7 399.8,84.2 400.7,84.7 401.6,84.8 402.5,84.6 403.4,84.1 404.3,83.1 405.2,81.4 406.1,78.6 407,74.6 407.9,68.8 408.8,61.1 409.7,53.8 410.6,48.4 411.5,44.6 412.4,42.2 413.3,41.7 414.2,43 415.1,45.7 416,48.9 416.9,52.3 417.8,55.5 418.7,58.2 419.6,60.5 420.5,63.1 421.4,66 422.3,69.4 423.2,72.1 424.1,73.5 425,75.2 425.9,77.5 426.8,80 427.7,81.7 428.6,83 429.5,82.7 430.4,81.6 431.3,81.7 432.2,81.7 433.1,81.3 434,78.7 434.9,75.7 435.8,71.7 436.7,69.1 437.6,66.9 438.5,64.7 439.4,61 440.3,56.7 441.2,57.6 442.1,60.3 443,63.8 443.9,64.3 444.8,64.5 445.7,64.8 446.6,67.4 447.5,69.8 448.4,72 449.3,71.1 450.2,70.5 451.1,72 452,71.2 452.9,66.5 453.8,61 454.7,55.4 455.6,51.7 456.5,49.3 457.4,47 458.3,44 459.2,42.4 460.1,43.3 461,45.4 461.9,48.9 462.8,52.3 463.7,54.7 464.6,53.8 465.5,52.5 466.4,54.1 467.3,55.9 468.2,57.7 469.1,56.8 470,55.3 470.9,56.7 471.8,61.6 472.7,64.3 473.6,61.9 474.5,58.4 475.4,55.4 476.3,55.1 477.2,55.2 478.1,55.3 479,53.8 479.9,52.9 480.8,54.2 481.7,57.1 482.6,56.1 483.5,53.3 484.4,49.8 485.3,52.6 486.2,56.1 487.1,57.1 488,52.6 488.9,48.4 489.8,51.6 490.7,54.5 491.6,57.3 492.5,54.4 493.4,47.8 494.3,42 495.2,48.7 496.1,57.1 497,57.8 497.9,58.6 498.8,58 499.7,61.7 500.6,62.2 501.5,53 502.4,44.9 503.3,43.7 504.2,43.6 505.1,39.9 506,32.9 506.9,27.2 507.8,33.8 508.7,42.3 509.6,43.3 510.5,44.4 511.4,56 512.3,65.9 513.2,68.6 514.1,64.4 515,58.3 515.9,61.7 516.8,66 517.7,70.8 518.6,70.8 519.5,66 520.4,60.8 521.3,57.9 522.2,58.3 523.1,58.8 524,57.1 524.9,53.1 525.8,49 526.7,50.6 527.6,61.4 528.5,50.5 529.4,32.7 530.3,30.4 531.2,29.5 532.1,37.5 533,45.9 533.9,41.4 534.8,36.6 535.7,44.8 536.6,46.9 537.5,43.4 538.4,51.6 539.3,52.8 540.2,44.2 541.1,46.1 542,49.5 542.9,44 543.8,33.7 544.7,33.9 545.6,41.5 546.5,41.9 547.4,35.9 548.3,37.4 549.2,39.9 550.1,40.1 551,38.9 551.9,32.4 552.8,24.5 553.7,27.2 554.6,31.1 555.5,35 556.4,37.7 557.3,36.5 558.2,28.8 559.1,26.7 560,25.4 560.9,18.7 561.8,36.3 562.7,45.5 563.6,34.4 564.5,33.6 565.4,36.6 566.3,27.9 567.2,31.1 568.1,38.2 569,33.4 569.9,26.6 570.8,29.1 571.7,32.3 572.6,32.4 573.5,25.5 574.4,35.7 575.3,41.1 576.2,24.6 577.1,19.4 578,23.9 578.9,36.6 579.8,50 580.7,51.5 581.6,46.4 582.5,35.5 583.4,27.4 584.3,30.1 585.2,24.3 586.1,12.3 587,19.2 587.9,24.9 588.8,13.3 589.7,11.7 590.6,17 591.5,23.8 592.4,24.2 593.3,22.4 594.2,21.6 595.1,18.7 596,14.8 596.9,19.2 597.8,35.3 598.7,39.7 599.6,28.4 600.5,18.4 601.4,32.1 602.3,40 603.2,37.5 604.1,30.9 605,32.5 605.9,40.3 606.8,34.1 607.7,29.5 608.6,32 609.5,41.8 610.4,42.9 611.3,46.3 612.2,41.9 613.1,30.4 614,31.6 614.9,37.5 615.8,38.4 616.7,43.4 617.6,45.6 618.5,43.3 619.4,36.2 620.3,39.5 621.2,34.6 622.1,31.1 623,33.3 623.9,31.3 624.8,30.2 625.7,30.6 626.6,39.8 627.5,39.9 628.4,37.6 629.3,37.4 630.2,40.4 631.1,48.3 632,47.3 632.9,41.7 633.8,41.7 634.7,44 635.6,47 636.5,54.4 637.4,57.5 638.3,37 639.2,31.5 640.1,37.7 641,44.9 641.9,49.1 642.8,39.2 643.7,18.6 644.6,23.4 645.5,45.9 646.4,45.6 647.3,26.9 648.2,32.1 649.1,45.6 650,51.7 650.9,42.7 651.8,37.5 652.7,39.1 653.6,41.2 654.5,34.5 655.4,34.9 656.3,33.9 657.2,27.2 658.1,36.3 659,46 659.9,37.7 660.8,21.3 661.7,23.6 662.6,41.1 663.5,47.2 664.4,51.9 665.3,50.8 666.2,44.4 667.1,41.2 668,40.3 668.9,37.3 669.8,34.5 670.7,36.3 671.6,40.4 672.5,38.4 673.4,35.1 674.3,31.3 675.2,34.3 676.1,38.9 677,35.3" fill="none" stroke="#ffb3c0" stroke-opacity="0.55" stroke-width="0.9"/>
<path d="M282.8,139.9 283.7,138.1 284.6,136.3 285.5,134.6 286.4,132.8 287.3,131.1 288.2,129.3 289.1,127.6 290,125.9 290.9,124.3 291.8,122.7 292.7,121.1 293.6,119.5 294.5,117.9 295.4,116.3 296.3,114.7 297.2,113.1 298.1,111.5 299,109.9 299.9,108.1 300.8,106.4 301.7,104.5 302.6,102.7 303.5,100.8 304.4,98.9 305.3,97.1 306.2,95.3 307.1,93.5 308,91.7 308.9,90 309.8,88.4 310.7,86.9 311.6,85.4 312.5,84.1 313.4,82.8 314.3,81.6 315.2,80.4 316.1,79.3 317,78.3 317.9,77.6 318.8,76.4 319.7,74.9 320.6,73.2 321.5,71.4 322.4,69.5 323.3,67.5 324.2,65.5 325.1,63.5 326,61.5 326.9,59.4 327.8,57.1 328.7,55.1 329.6,53.5 330.5,52.2 331.4,51.6 332.3,51.9 333.2,52.9 334.1,54.7 335,56.7 335.9,58.5 336.8,60 337.7,61.5 338.6,63 339.5,64.6 340.4,66.3 341.3,68 342.2,69.8 343.1,71.6 344,73.4 344.9,75.2 345.8,76.8 346.7,78.2 347.6,79.4 348.5,80.5 349.4,81.3 350.3,81.9 351.2,82.3 352.1,82.4 353,82.4 353.9,82.3 354.8,82.1 355.7,81.7 356.6,81.3 357.5,80.9 358.4,80.7 359.3,80.5 360.2,80.3 361.1,80 362,79.7 362.9,79.4 363.8,78.9 364.7,78.4 365.6,77.7 366.5,76.8 367.4,75.8 368.3,74.7 369.2,73.6 370.1,72.4 371,71 371.9,69.7 372.8,68.4 373.7,67 374.6,65.7 375.5,64.4 376.4,63.1 377.3,61.9 378.2,60.7 379.1,59.6 380,58.6 380.9,57.7 381.8,57.5 382.7,58.5 383.6,60.7 384.5,64.4 385.4,68.5 386.3,72.4 387.2,76 388.1,80.1 389,84 389.9,85.7 390.8,86 391.7,85.6 392.6,85.2 393.5,84.9 394.4,84.8 395.3,84.6 396.2,84.5 397.1,84.4 398,84.4 398.9,84.6 399.8,85.3 400.7,85.8 401.6,85.8 402.5,85.5 403.4,84.8 404.3,83.7 405.2,81.7 406.1,78.7 407,74.6 407.9,68.7 408.8,60.9 409.7,53.5 410.6,48.1 411.5,44.3 412.4,42.1 413.3,41.9 414.2,43.6 415.1,46.6 416,49.6 416.9,53 417.8,56.7 418.7,60.1 419.6,62.8 420.5,65.3 421.4,68 422.3,71.8 423.2,75.5 424.1,77.6 425,79.2 425.9,82 426.8,84.3 427.7,85.7 428.6,85.7 429.5,85.1 430.4,83.7 431.3,83.6 432.2,83.7 433.1,80 434,76.2 434.9,75.4 435.8,73.7 436.7,69.3 437.6,64.6 438.5,59.8 439.4,57.8 440.3,57.7 441.2,59 442.1,59.9 443,61.3 443.9,63 444.8,66.2 445.7,69.2 446.6,72 447.5,72.4 448.4,72.6 449.3,72.8 450.2,74.5 451.1,76.2 452,73.3 452.9,68.3 453.8,62.1 454.7,59.8 455.6,58 456.5,53.8 457.4,46.9 458.3,41.1 459.2,43.4 460.1,47.1 461,47.1 461.9,46.9 462.8,47.6 463.7,51.4 464.6,55.1 465.5,55.6 466.4,53 467.3,50.2 468.2,52.3 469.1,55.2 470,58.2 470.9,59.6 471.8,58.1 472.7,55.7 473.6,59.3 474.5,61.8 475.4,59.6 476.3,53.3 477.2,56.3 478.1,59.8 479,54.7 479.9,53.7 480.8,58.8 481.7,57 482.6,53 483.5,57 484.4,61.9 485.3,64.4 486.2,61.7 487.1,57.9 488,53.6 488.9,58 489.8,61.7 490.7,61.7 491.6,55.4 492.5,49.4 493.4,48 494.3,53 495.2,59 496.1,58.5 497,57.2 497.9,57.6 498.8,66.9 499.7,66 500.6,53.1 501.5,51.4 502.4,51.2 503.3,48.6 504.2,39.8 505.1,31.9 506,32.7 506.9,35.2 507.8,34.1 508.7,33.8 509.6,38 510.5,47.4 511.4,56.6 512.3,56.5 513.2,57.6 514.1,63.9 515,69.3 515.9,74.2 516.8,68.8 517.7,62.8 518.6,64.1 519.5,68.9 520.4,73.6 521.3,70.8 522.2,64.8 523.1,59.8 524,64.6 524.9,69.9 525.8,65.1 526.7,59.4 527.6,52.3 528.5,52.7 529.4,41.4 530.3,36.2 531.2,29.9 532.1,28.5 533,35.4 533.9,42.2 534.8,48.8 535.7,48.4 536.6,45.2 537.5,39.8 538.4,53.3 539.3,60.8 540.2,51.4 541.1,44.5 542,48.6 542.9,47.5 543.8,37.9 544.7,31.8 545.6,41.1 546.5,44.7 547.4,41.2 548.3,38.5 549.2,45.3 550.1,49.3 551,57.3 551.9,51.3 552.8,40.5 553.7,32.3 554.6,37.3 555.5,41.8 556.4,49.5 557.3,47.5 558.2,42.5 559.1,37.3 560,35.6 560.9,26.3 561.8,38.8 562.7,49.1 563.6,54.1 564.5,49 565.4,42.7 566.3,27.2 567.2,28 568.1,47.3 569,51.8 569.9,37 570.8,26.3 571.7,29.9 572.6,39.5 573.5,36.3 574.4,26.2 575.3,27.1 576.2,30 577.1,36.2 578,36.7 578.9,40 579.8,45.9 580.7,49.8 581.6,48 582.5,37 583.4,29 584.3,22 585.2,10.8 586.1,11.6 587,20.5 587.9,22.1 588.8,8.2 589.7,5.1 590.6,17 591.5,27.4 592.4,27 593.3,22.6 594.2,20.9 595.1,21.3 596,21.3 596.9,22.3 597.8,31.9 598.7,37.3 599.6,45.8 600.5,46 601.4,30.2 602.3,25.7 603.2,37.9 604.1,51.3 605,37 605.9,23.9 606.8,16.6 607.7,33 608.6,71.9 609.5,63.1 610.4,39.2 611.3,30.3 612.2,37.1 613.1,34.9 614,32.2 614.9,31.6 615.8,30.8 616.7,37.6 617.6,35.1 618.5,34.5 619.4,32 620.3,34.2 621.2,30.5 622.1,31.4 623,34.9 623.9,34.3 624.8,27.6 625.7,27.3 626.6,38.6 627.5,43.7 628.4,40 629.3,36 630.2,31.9 631.1,40.6 632,46.5 632.9,45.2 633.8,44.3 634.7,41.2 635.6,34 636.5,39.3 637.4,47 638.3,33.8 639.2,29 640.1,33.2 641,41.4 641.9,51.7 642.8,38 643.7,23.3 644.6,31.1 645.5,51.9 646.4,48 647.3,31.4 648.2,34.3 649.1,45.7 650,45.6 650.9,25.8 651.8,20.5 652.7,36.9 653.6,41.2 654.5,35.9 655.4,32.3 656.3,29.1 657.2,26.4 658.1,39.1 659,43 659.9,29 660.8,12 661.7,23.3 662.6,40.5 663.5,46.6 664.4,46.6 665.3,42.9 666.2,41.7 667.1,49.8 668,47 668.9,40.8 669.8,32 670.7,35.3 671.6,41.6 672.5,41.4 673.4,39.3 674.3,38.8 675.2,38.6 676.1,39.8 677,37.8" fill="none" stroke="#ffb3c0" stroke-opacity="0.55" stroke-width="0.9"/>
<path d="M282.8,141.6 283.7,140.4 284.6,139.1 285.5,137.8 286.4,136.5 287.3,135.1 288.2,133.5 289.1,131.9 290,130.2 290.9,128.4 291.8,126.6 292.7,124.6 293.6,122.6 294.5,120.5 295.4,118.3 296.3,116.1 297.2,113.9 298.1,111.7 299,109.4 299.9,107.1 300.8,104.8 301.7,102.5 302.6,100.2 303.5,98 304.4,96 305.3,94 306.2,92.2 307.1,90.5 308,88.9 308.9,87.3 309.8,85.9 310.7,84.6 311.6,83.4 312.5,82.3 313.4,81.2 314.3,80.2 315.2,79.2 316.1,78.3 317,77.4 317.9,76.9 318.8,75.9 319.7,74.5 320.6,72.9 321.5,71.1 322.4,69.3 323.3,67.4 324.2,65.4 325.1,63.5 326,61.6 326.9,59.6 327.8,57.5 328.7,55.7 329.6,54.3 330.5,53.2 331.4,52.7 332.3,53.1 333.2,54.3 334.1,56.5 335,58.9 335.9,60.9 336.8,62.6 337.7,64.1 338.6,65.6 339.5,67.1 340.4,68.6 341.3,70.1 342.2,71.7 343.1,73.2 344,74.7 344.9,76.2 345.8,77.5 346.7,78.7 347.6,79.8 348.5,80.7 349.4,81.4 350.3,81.9 351.2,82.3 352.1,82.4 353,82.4 353.9,82.4 354.8,82.2 355.7,82 356.6,81.7 357.5,81.4 358.4,81.3 359.3,81.3 360.2,81.2 361.1,81.1 362,80.9 362.9,80.7 363.8,80.4 364.7,79.9 365.6,79.2 366.5,78.3 367.4,77.2 368.3,76 369.2,74.8 370.1,73.3 371,71.8 371.9,70.2 372.8,68.6 373.7,67 374.6,65.4 375.5,63.7 376.4,62.2 377.3,60.8 378.2,59.4 379.1,58.1 380,57 380.9,56.1 381.8,55.9 382.7,57 383.6,59.4 384.5,63.1 385.4,67.3 386.3,71.5 387.2,75.4 388.1,79.8 389,84 389.9,86 390.8,86.5 391.7,86.4 392.6,86.3 393.5,86.4 394.4,86.4 395.3,86.5 396.2,86.5 397.1,86.5 398,86.7 398.9,87.1 399.8,88.1 400.7,88.9 401.6,89.2 402.5,89 403.4,88.4 404.3,87.2 405.2,85 406.1,81.6 407,77.1 407.9,71.1 408.8,63.8 409.7,56.9 410.6,51.6 411.5,47.9 412.4,45.5 413.3,44.6 414.2,45.5 415.1,48.1 416,51.1 416.9,54.2 417.8,57.3 418.7,60 419.6,62.7 420.5,65.6 421.4,68.9 422.3,72.6 423.2,75.7 424.1,77.8 425,80 425.9,83.2 426.8,85.9 427.7,88 428.6,88.7 429.5,88.8 430.4,88.8 431.3,89.3 432.2,89.3 433.1,88.5 434,85.2 434.9,82 435.8,80.2 436.7,77.8 437.6,75.1 438.5,70.5 439.4,66.2 440.3,66.3 441.2,67.7 442.1,66.5 443,66.8 443.9,66.5 444.8,68.9 445.7,71.4 446.6,73.8 447.5,74.5 448.4,74.1 449.3,73.8 450.2,74 451.1,74.6 452,73.7 452.9,72.2 453.8,68 454.7,63 455.6,56.9 456.5,53.2 457.4,51.1 458.3,49.2 459.2,49 460.1,47 461,45.8 461.9,48.7 462.8,54.9 463.7,54.8 464.6,51.9 465.5,49 466.4,52 467.3,55 468.2,57.9 469.1,56.4 470,54.8 470.9,55.2 471.8,60.2 472.7,64.1 473.6,61.7 474.5,58.2 475.4,56.8 476.3,58.3 477.2,60 478.1,59.2 479,56.4 479.9,54.6 480.8,55.7 481.7,59.8 482.6,61 483.5,59.7 484.4,58.8 485.3,61.5 486.2,64.5 487.1,66.9 488,63.1 488.9,58.2 489.8,53.2 490.7,53.3 491.6,56.3 492.5,52.1 493.4,47 494.3,42.4 495.2,47.5 496.1,54.5 497,61.2 497.9,61.1 498.8,59.7 499.7,55.5 500.6,58.4 501.5,60.4 502.4,50.9 503.3,42 504.2,34.7 505.1,36.1 506,39.8 506.9,45.5 507.8,44.2 508.7,38.6 509.6,46.8 510.5,59.3 511.4,58.5 512.3,61 513.2,69.8 514.1,76.6 515,77.9 515.9,74.7 516.8,70.6 517.7,74.1 518.6,77.5 519.5,67.6 520.4,59.2 521.3,67.2 522.2,67.2 523.1,60.5 524,54 524.9,61.2 525.8,70 526.7,64.3 527.6,56.3 528.5,46.3 529.4,36.8 530.3,32.8 531.2,30.2 532.1,33.5 533,35.2 533.9,30.6 534.8,36.4 535.7,49.1 536.6,49.4 537.5,42.4 538.4,48.8 539.3,55 540.2,53.3 541.1,53.1 542,50.6 542.9,45 543.8,33.9 544.7,37.9 545.6,46.5 546.5,43.5 547.4,37.1 548.3,35.8 549.2,42.9 550.1,44.4 551,41.2 551.9,33.6 552.8,23.9 553.7,27.7 554.6,31.9 555.5,35.9 556.4,38.5 557.3,35.5 558.2,25 559.1,28.2 560,29.8 560.9,25 561.8,34.2 562.7,40.2 563.6,51 564.5,50.6 565.4,43.5 566.3,26.7 567.2,21.8 568.1,41.7 569,67.9 569.9,45.5 570.8,29.1 571.7,30.4 572.6,38.1 573.5,46.9 574.4,39.6 575.3,31.5 576.2,29.7 577.1,34.9 578,43.7 578.9,50.7 579.8,56.4 580.7,53.7 581.6,48.3 582.5,37.2 583.4,32.8 584.3,39.1 585.2,31.4 586.1,21.1 587,20.5 587.9,26.4 588.8,25 589.7,29.7 590.6,29.8 591.5,27.9 592.4,26.5 593.3,30.5 594.2,36 595.1,30.5 596,18.2 596.9,25.6 597.8,46.3 598.7,59.5 599.6,42 600.5,22.8 601.4,30 602.3,36.3 603.2,47.9 604.1,48.1 605,37.6 605.9,29.3 606.8,33.5 607.7,43.1 608.6,70.7 609.5,66.8 610.4,45.1 611.3,48.4 612.2,49.3 613.1,40.3 614,37.1 614.9,46.7 615.8,50.9 616.7,46.6 617.6,41.8 618.5,48.3 619.4,54.8 620.3,50 621.2,32.8 622.1,29 623,31.5 623.9,35.1 624.8,36.4 625.7,31.3 626.6,29.2 627.5,25.2 628.4,31.9 629.3,39 630.2,35.9 631.1,32.8 632,35.5 632.9,39 633.8,43.8 634.7,48.3 635.6,42.5 636.5,36 637.4,31.5 638.3,33.3 639.2,35.8 640.1,40.5 641,40.8 641.9,47 642.8,38.7 643.7,36.8 644.6,48.5 645.5,66.9 646.4,56.4 647.3,37 648.2,34.6 649.1,49.1 650,57.1 650.9,54.9 651.8,46.6 652.7,40.2 653.6,39 654.5,33.8 655.4,37 656.3,38.3 657.2,32.4 658.1,43.2 659,53 659.9,47.6 660.8,34.9 661.7,35 662.6,43.2 663.5,50.2 664.4,51.1 665.3,50.2 666.2,46.8 667.1,50.5 668,47.7 668.9,44.5 669.8,34.9 670.7,37.1 671.6,41.5 672.5,41.5 673.4,42 674.3,45.6 675.2,44.7 676.1,43.3 677,39.7" fill="none" stroke="#ffb3c0" stroke-opacity="0.55" stroke-width="0.9"/>
<path d="M282.8,142.8 283.7,141.5 284.6,140.2 285.5,138.9 286.4,137.5 287.3,136 288.2,134.5 289.1,132.8 290,131.1 290.9,129.3 291.8,127.4 292.7,125.4 293.6,123.4 294.5,121.3 295.4,119.1 296.3,117 297.2,114.8 298.1,112.7 299,110.5 299.9,108.3 300.8,106.2 301.7,104.1 302.6,102.1 303.5,100.2 304.4,98.3 305.3,96.6 306.2,95 307.1,93.5 308,92 308.9,90.7 309.8,89.4 310.7,88.2 311.6,87 312.5,85.9 313.4,84.9 314.3,83.8 315.2,82.7 316.1,81.6 317,80.5 317.9,79.6 318.8,78.2 319.7,76.5 320.6,74.6 321.5,72.6 322.4,70.5 323.3,68.3 324.2,66.2 325.1,64.1 326,62.1 326.9,60 327.8,57.9 328.7,56.1 329.6,54.6 330.5,53.5 331.4,53.2 332.3,53.6 333.2,54.9 334.1,57.3 335,59.9 335.9,62.1 336.8,63.9 337.7,65.6 338.6,67.2 339.5,68.7 340.4,70.2 341.3,71.7 342.2,73.1 343.1,74.5 344,75.9 344.9,77.1 345.8,78.3 346.7,79.2 347.6,80 348.5,80.7 349.4,81.3 350.3,81.7 351.2,81.9 352.1,81.9 353,81.9 353.9,81.8 354.8,81.6 355.7,81.3 356.6,81 357.5,80.8 358.4,80.7 359.3,80.7 360.2,80.7 361.1,80.7 362,80.6 362.9,80.5 363.8,80.2 364.7,79.9 365.6,79.3 366.5,78.5 367.4,77.5 368.3,76.4 369.2,75.3 370.1,73.9 371,72.5 371.9,71 372.8,69.5 373.7,68 374.6,66.5 375.5,65 376.4,63.7 377.3,62.5 378.2,61.4 379.1,60.4 380,59.6 380.9,59 381.8,59.1 382.7,60.5 383.6,63.3 384.5,67.7 385.4,72.6 386.3,77 387.2,80.9 388.1,84.9 389,88.8 389.9,91 390.8,91.9 391.7,91.8 392.6,91.5 393.5,91 394.4,90.5 395.3,89.8 396.2,89.2 397.1,88.6 398,88.2 398.9,88.2 399.8,88.8 400.7,89.3 401.6,89.3 402.5,88.9 403.4,88.2 404.3,87.1 405.2,85 406.1,81.8 407,77.4 407.9,71.7 408.8,64.8 409.7,58.6 410.6,54.1 411.5,51 412.4,49.3 413.3,49 414.2,50.1 415.1,52.2 416,54.8 416.9,57.9 417.8,61.1 418.7,63.5 419.6,65.8 420.5,68.2 421.4,71.3 422.3,74.7 423.2,77.5 424.1,79.6 425,82.2 425.9,84.4 426.8,85.3 427.7,85.6 428.6,85.9 429.5,87.1 430.4,87.1 431.3,84.9 432.2,82 433.1,81.1 434,81.2 434.9,80.8 435.8,77.1 436.7,72.6 437.6,67.9 438.5,65.9 439.4,66 440.3,66.9 441.2,63.9 442.1,62.6 443,66.6 443.9,70 444.8,71.2 445.7,71 446.6,72.4 447.5,75.5 448.4,77.7 449.3,76.8 450.2,75.7 451.1,75.3 452,75.2 452.9,74.3 453.8,70 454.7,65.1 455.6,61.6 456.5,58.4 457.4,54.5 458.3,49.5 459.2,46.4 460.1,46.1 461,48.8 461.9,53.9 462.8,58 463.7,57.4 464.6,56 465.5,56.5 466.4,59.6 467.3,62.7 468.2,64.1 469.1,60.7 470,58.2 470.9,59.9 471.8,64.2 472.7,67.8 473.6,68.3 474.5,64.3 475.4,59.9 476.3,58.2 477.2,59 478.1,60.3 479,59.8 479.9,57.5 480.8,56 481.7,57.5 482.6,60.9 483.5,64.9 484.4,65.5 485.3,60.2 486.2,58.7 487.1,64.1 488,68.7 488.9,70.7 489.8,64.3 490.7,58 491.6,54.3 492.5,55.8 493.4,57.3 494.3,57.3 495.2,53.4 496.1,50.6 497,56.4 497.9,62.9 498.8,69.6 499.7,65.1 500.6,53.5 501.5,49.8 502.4,50 503.3,42.6 504.2,35.4 505.1,29.2 506,30.8 506.9,35.8 507.8,43.1 508.7,40.1 509.6,37.4 510.5,42.9 511.4,54.7 512.3,65 513.2,71 514.1,69.6 515,66.9 515.9,62.9 516.8,65.8 517.7,72.3 518.6,72.1 519.5,67.8 520.4,63 521.3,59.3 522.2,62.6 523.1,65.7 524,68.8 524.9,67.3 525.8,64 526.7,60 527.6,60.2 528.5,57.1 529.4,41.7 530.3,35.5 531.2,29.9 532.1,29.9 533,38.3 533.9,45.4 534.8,54.7 535.7,56 536.6,47 537.5,41.8 538.4,54.7 539.3,61.2 540.2,58.9 541.1,52.8 542,48.5 542.9,47.7 543.8,48.9 544.7,44.4 545.6,43.3 546.5,42.5 547.4,40.3 548.3,48.5 549.2,48.6 550.1,41.2 551,36.1 551.9,40.7 552.8,47.6 553.7,50.7 554.6,38.6 555.5,32.5 556.4,38.7 557.3,46.7 558.2,49.6 559.1,40.9 560,29.7 560.9,20.3 561.8,42.7 562.7,75.1 563.6,73.9 564.5,48.7 565.4,36.6 566.3,27 567.2,32.8 568.1,55.4 569,63.4 569.9,47.9 570.8,40.1 571.7,38.4 572.6,50.3 573.5,53.2 574.4,37.8 575.3,40.2 576.2,44 577.1,43.3 578,39.9 578.9,40.6 579.8,52.6 580.7,55.3 581.6,50.1 582.5,37.4 583.4,28.6 584.3,24.9 585.2,26.1 586.1,29.3 587,29.4 587.9,24.9 588.8,10.9 589.7,18.7 590.6,29.9 591.5,29.3 592.4,24.3 593.3,22.5 594.2,31.8 595.1,38.4 596,27 596.9,23 597.8,35.1 598.7,48.5 599.6,49.3 600.5,36.1 601.4,28.9 602.3,30.2 603.2,39.4 604.1,48.8 605,47 605.9,35.6 606.8,35.7 607.7,55.3 608.6,78.8 609.5,73.8 610.4,51.3 611.3,47.6 612.2,46.2 613.1,38.6 614,39.9 614.9,45.1 615.8,37.2 616.7,42.9 617.6,56.6 618.5,64.7 619.4,56.6 620.3,40.5 621.2,28.8 622.1,30.7 623,38.3 623.9,40.2 624.8,35.3 625.7,31.3 626.6,44.3 627.5,52.5 628.4,56.4 629.3,55 630.2,46.9 631.1,44.2 632,46.9 632.9,45.4 633.8,46.4 634.7,43.1 635.6,36.5 636.5,46.1 637.4,57.6 638.3,51.7 639.2,43.1 640.1,44.3 641,45.1 641.9,55.6 642.8,61.7 643.7,53.2 644.6,46.9 645.5,52.8 646.4,50.2 647.3,48 648.2,47.5 649.1,52.6 650,49.6 650.9,36.6 651.8,36.8 652.7,52.3 653.6,55.5 654.5,42.2 655.4,34.2 656.3,34 657.2,35.8 658.1,45.6 659,47 659.9,35.6 660.8,23.5 661.7,35.3 662.6,45.7 663.5,48 664.4,44.9 665.3,36.8 666.2,37.7 667.1,57.8 668,58.7 668.9,43.9 669.8,30.8 670.7,33.7 671.6,47.1 672.5,46.7 673.4,38.2 674.3,29.6 675.2,39.2 676.1,45.3 677,43.5" fill="none" stroke="#ffb3c0" stroke-opacity="0.55" stroke-width="0.9"/>
<path d="M282.8,146.9 283.7,145.3 284.6,143.7 285.5,142.1 286.4,140.5 287.3,138.7 288.2,137 289.1,135.1 290,133.2 290.9,131.3 291.8,129.4 292.7,127.3 293.6,125.3 294.5,123.2 295.4,121.1 296.3,119 297.2,116.9 298.1,114.8 299,112.7 299.9,110.5 300.8,108.4 301.7,106.3 302.6,104.2 303.5,102.1 304.4,100.1 305.3,98.1 306.2,96.2 307.1,94.3 308,92.5 308.9,90.8 309.8,89.1 310.7,87.6 311.6,86 312.5,84.6 313.4,83.2 314.3,81.9 315.2,80.6 316.1,79.3 317,78.2 317.9,77.4 318.8,76.1 319.7,74.5 320.6,72.8 321.5,71 322.4,69.2 323.3,67.3 324.2,65.4 325.1,63.6 326,61.8 326.9,59.9 327.8,58 328.7,56.4 329.6,55.2 330.5,54.3 331.4,54.1 332.3,54.7 333.2,56.1 334.1,58.6 335,61.4 335.9,63.8 336.8,65.7 337.7,67.4 338.6,68.9 339.5,70.5 340.4,72 341.3,73.5 342.2,75 343.1,76.3 344,77.7 344.9,79 345.8,80.2 346.7,81.2 347.6,82.1 348.5,82.8 349.4,83.4 350.3,83.9 351.2,84.1 352.1,84 353,83.9 353.9,83.8 354.8,83.6 355.7,83.3 356.6,83 357.5,82.7 358.4,82.6 359.3,82.5 360.2,82.4 361.1,82.3 362,82 362.9,81.8 363.8,81.5 364.7,81 365.6,80.3 366.5,79.3 367.4,78.3 368.3,77.1 369.2,75.8 370.1,74.5 371,73 371.9,71.5 372.8,70.1 373.7,68.7 374.6,67.4 375.5,66.1 376.4,64.9 377.3,63.8 378.2,62.8 379.1,61.9 380,61.3 380.9,60.7 381.8,60.8 382.7,62 383.6,64.7 384.5,69.1 385.4,73.8 386.3,77.9 387.2,81.4 388.1,85.1 389,88.7 389.9,90.7 390.8,91.2 391.7,90.9 392.6,90.3 393.5,89.7 394.4,89.1 395.3,88.5 396.2,87.9 397.1,87.4 398,87.2 398.9,87.3 399.8,88.1 400.7,88.7 401.6,88.9 402.5,88.7 403.4,88.2 404.3,87.1 405.2,85.1 406.1,82 407,77.6 407.9,71.9 408.8,65 409.7,58.7 410.6,54.1 411.5,50.9 412.4,49.1 413.3,48.8 414.2,49.8 415.1,51.9 416,54.5 416.9,57.7 417.8,61 418.7,63.6 419.6,66 420.5,68.6 421.4,71.9 422.3,76 423.2,79.9 424.1,82.1 425,84.5 425.9,87.6 426.8,90.2 427.7,90.8 428.6,91 429.5,92.3 430.4,93.2 431.3,93.5 432.2,92.1 433.1,89.9 434,87.9 434.9,87.4 435.8,85.2 436.7,80.9 437.6,77.2 438.5,74.9 439.4,73.5 440.3,71.7 441.2,69 442.1,69 443,71.9 443.9,74.1 444.8,74.5 445.7,74.1 446.6,74.6 447.5,76.3 448.4,76.9 449.3,77.2 450.2,77 451.1,76.6 452,76.1 452.9,74.3 453.8,68.4 454.7,64.1 455.6,63.1 456.5,60.4 457.4,53.1 458.3,46.7 459.2,47.4 460.1,51.2 461,51.7 461.9,52.1 462.8,51.8 463.7,54.3 464.6,56.6 465.5,58.9 466.4,58.6 467.3,57 468.2,58.9 469.1,61.7 470,60.7 470.9,61.2 471.8,62.8 472.7,66.1 473.6,67.7 474.5,67.6 475.4,64.2 476.3,59.6 477.2,58.6 478.1,60.4 479,59.1 479.9,58.2 480.8,58.6 481.7,61.3 482.6,64.4 483.5,64.5 484.4,62 485.3,59.1 486.2,61.2 487.1,65.6 488,69.1 488.9,69.1 489.8,62.1 490.7,55.2 491.6,55.9 492.5,57.3 493.4,56 494.3,52.8 495.2,50.6 496.1,53.9 497,60.3 497.9,59.4 498.8,57 499.7,55.1 500.6,58.9 501.5,60.1 502.4,59.2 503.3,48.3 504.2,39.2 505.1,32.4 506,37.6 506.9,44.7 507.8,47.9 508.7,47.3 509.6,47.7 510.5,51 511.4,65.8 512.3,74.9 513.2,74.6 514.1,73.4 515,70.9 515.9,75.7 516.8,81.2 517.7,86.8 518.6,80.6 519.5,77 520.4,80.5 521.3,83.5 522.2,86.6 523.1,77.5 524,69.3 524.9,61.5 525.8,64 526.7,69.3 527.6,67.4 528.5,55.4 529.4,37.7 530.3,31.6 531.2,30.8 532.1,41 533,47.6 533.9,41.1 534.8,39.5 535.7,51.6 536.6,50.2 537.5,42.3 538.4,48.8 539.3,52.9 540.2,52.1 541.1,53.1 542,49.7 542.9,39.6 543.8,47 544.7,46.2 545.6,43 546.5,41.2 547.4,39.5 548.3,48.5 549.2,53.6 550.1,50.4 551,48.5 551.9,43.1 552.8,46.3 553.7,50.1 554.6,46.5 555.5,40.9 556.4,46.4 557.3,54 558.2,54.4 559.1,42.5 560,36.5 560.9,31 561.8,50.5 562.7,75.8 563.6,70.2 564.5,57.1 565.4,47.6 566.3,32 567.2,41.9 568.1,58.7 569,58.8 569.9,46.9 570.8,39.3 571.7,35.1 572.6,37.5 573.5,33.7 574.4,28.5 575.3,37.8 576.2,39.5 577.1,43.8 578,45.1 578.9,47.4 579.8,53.7 580.7,55.2 581.6,50.1 582.5,38.5 583.4,34.7 584.3,34 585.2,26.2 586.1,20.7 587,30 587.9,35.8 588.8,34.1 589.7,29.3 590.6,26.5 591.5,29.4 592.4,28.7 593.3,31.8 594.2,44.1 595.1,41.8 596,27.9 596.9,33.2 597.8,51.7 598.7,62.7 599.6,56.2 600.5,44.6 601.4,36.5 602.3,39.2 603.2,47.5 604.1,55.3 605,48.4 605.9,34.6 606.8,32.8 607.7,47.2 608.6,82.7 609.5,88.4 610.4,60 611.3,45.7 612.2,50.3 613.1,39.6 614,37.3 614.9,45 615.8,45.3 616.7,42 617.6,40.7 618.5,43.7 619.4,49.7 620.3,45.4 621.2,33.8 622.1,29.5 623,32 623.9,29 624.8,28.7 625.7,31.8 626.6,47.2 627.5,49 628.4,43.2 629.3,37.9 630.2,40.1 631.1,50.8 632,48 632.9,42.6 633.8,46.2 634.7,53.1 635.6,57.1 636.5,59.1 637.4,53 638.3,42 639.2,41 640.1,47.3 641,51.4 641.9,57.7 642.8,56 643.7,40.9 644.6,45.1 645.5,63.9 646.4,66.6 647.3,49.4 648.2,40.9 649.1,48.8 650,55.9 650.9,63.5 651.8,60.8 652.7,56.6 653.6,44.9 654.5,34.4 655.4,39.8 656.3,43.6 657.2,36 658.1,37.7 659,47.5 659.9,48.6 660.8,47.1 661.7,50.1 662.6,52.9 663.5,54.9 664.4,58.8 665.3,72 666.2,73 667.1,64.6 668,49.5 668.9,46.6 669.8,43.2 670.7,46.7 671.6,49.3 672.5,43 673.4,39.6 674.3,41.9 675.2,46 676.1,44.6 677,39.2" fill="none" stroke="#ffb3c0" stroke-opacity="0.55" stroke-width="0.9"/>
<path d="M282.8,150.1 283.7,148.4 284.6,146.6 285.5,144.8 286.4,142.9 287.3,140.9 288.2,138.9 289.1,136.8 290,134.7 290.9,132.6 291.8,130.4 292.7,128.2 293.6,125.9 294.5,123.7 295.4,121.5 296.3,119.3 297.2,117.1 298.1,115 299,113 299.9,110.9 300.8,108.9 301.7,106.9 302.6,105 303.5,103.1 304.4,101.4 305.3,99.6 306.2,98 307.1,96.4 308,94.8 308.9,93.3 309.8,91.9 310.7,90.5 311.6,89.2 312.5,87.9 313.4,86.7 314.3,85.4 315.2,84.2 316.1,82.9 317,81.7 317.9,80.6 318.8,79.1 319.7,77.3 320.6,75.4 321.5,73.4 322.4,71.2 323.3,69 324.2,66.9 325.1,64.8 326,62.8 326.9,60.8 327.8,58.7 328.7,56.9 329.6,55.4 330.5,54.3 331.4,53.9 332.3,54.3 333.2,55.5 334.1,57.8 335,60.4 335.9,62.6 336.8,64.4 337.7,66 338.6,67.6 339.5,69.2 340.4,70.8 341.3,72.4 342.2,73.9 343.1,75.5 344,77 344.9,78.5 345.8,79.8 346.7,81 347.6,82.1 348.5,83 349.4,83.7 350.3,84.3 351.2,84.6 352.1,84.6 353,84.6 353.9,84.5 354.8,84.4 355.7,84.1 356.6,83.8 357.5,83.6 358.4,83.5 359.3,83.4 360.2,83.4 361.1,83.3 362,83 362.9,82.8 363.8,82.5 364.7,82 365.6,81.3 366.5,80.3 367.4,79.2 368.3,78 369.2,76.8 370.1,75.4 371,74 371.9,72.5 372.8,71.2 373.7,69.9 374.6,68.6 375.5,67.4 376.4,66.3 377.3,65.4 378.2,64.5 379.1,63.8 380,63.3 380.9,63 381.8,63.2 382.7,64.6 383.6,67.5 384.5,72.4 385.4,77.5 386.3,81.7 387.2,85.1 388.1,88.6 389,92 389.9,94.3 390.8,95.1 391.7,95 392.6,94.5 393.5,93.7 394.4,92.8 395.3,91.9 396.2,91 397.1,90.2 398,89.7 398.9,89.6 399.8,90.2 400.7,90.7 401.6,90.6 402.5,90.2 403.4,89.4 404.3,88.1 405.2,85.9 406.1,82.5 407,78 407.9,72.2 408.8,65.3 409.7,59.1 410.6,54.5 411.5,51.3 412.4,49.4 413.3,49.1 414.2,50.1 415.1,52.4 416,55.1 416.9,58.1 417.8,61.2 418.7,63.6 419.6,66.3 420.5,69.3 421.4,73 422.3,76.6 423.2,80 424.1,82.4 425,85.3 425.9,88.2 426.8,90.2 427.7,90.9 428.6,91.3 429.5,91.9 430.4,93.1 431.3,92.9 432.2,90.5 433.1,88.2 434,87.3 434.9,86.1 435.8,84.4 436.7,80.8 437.6,76.5 438.5,72.6 439.4,72.4 440.3,71.8 441.2,68.2 442.1,68.7 443,72.4 443.9,73.3 444.8,72.2 445.7,73.4 446.6,76.2 447.5,78.6 448.4,78.6 449.3,77.8 450.2,79 451.1,80.5 452,78.8 452.9,76.1 453.8,73.4 454.7,72.6 455.6,71.7 456.5,68.7 457.4,61.1 458.3,55.5 459.2,55.5 460.1,58.6 461,59.3 461.9,58 462.8,60 463.7,66.1 464.6,68.8 465.5,65 466.4,60.8 467.3,58 468.2,61.7 469.1,64.6 470,61.4 470.9,59.8 471.8,59.8 472.7,68 473.6,69.7 474.5,66 475.4,62 476.3,59.7 477.2,59.7 478.1,60.2 479,60.9 479.9,58.1 480.8,56.3 481.7,58.6 482.6,63.8 483.5,67.6 484.4,65.4 485.3,62.7 486.2,59.6 487.1,64.9 488,69.3 488.9,67.9 489.8,64.9 490.7,61.9 491.6,61.9 492.5,62.9 493.4,64 494.3,62.4 495.2,59.9 496.1,58.8 497,59.6 497.9,65.5 498.8,71.7 499.7,76.7 500.6,65.4 501.5,51.7 502.4,51.9 503.3,52.3 504.2,43.5 505.1,34.1 506,41.3 506.9,43.5 507.8,38.6 508.7,34 509.6,46.6 510.5,56.8 511.4,61 512.3,64.2 513.2,69.5 514.1,75.5 515,81 515.9,83.6 516.8,74.4 517.7,69.4 518.6,74.6 519.5,79.9 520.4,85 521.3,78 522.2,70.1 523.1,69.7 524,72.2 524.9,75.5 525.8,72.4 526.7,68 527.6,63.4 528.5,62 529.4,44.7 530.3,39.2 531.2,33.4 532.1,38 533,40.7 533.9,46.3 534.8,54.2 535.7,61.3 536.6,50.2 537.5,42.3 538.4,49.2 539.3,55.4 540.2,54.6 541.1,55.4 542,54.8 542.9,47 543.8,40 544.7,41.5 545.6,45.8 546.5,44.7 547.4,42.6 548.3,50.1 549.2,52.9 550.1,53.5 551,52.5 551.9,48.2 552.8,51.9 553.7,53.1 554.6,50 555.5,47.2 556.4,49 557.3,49.5 558.2,53.5 559.1,53.7 560,45.7 560.9,35.8 561.8,53.6 562.7,74.8 563.6,70.7 564.5,62 565.4,49.1 566.3,28.5 567.2,29.5 568.1,50.2 569,61.3 569.9,43.3 570.8,32.6 571.7,33.4 572.6,43.4 573.5,56.9 574.4,42.9 575.3,31.6 576.2,32.6 577.1,37.4 578,46.1 578.9,51.7 579.8,58.1 580.7,55.2 581.6,49.9 582.5,39.4 583.4,38.3 584.3,39.7 585.2,31.9 586.1,32.4 587,37.3 587.9,40.3 588.8,26.5 589.7,20.5 590.6,31.5 591.5,35.7 592.4,31.5 593.3,29.3 594.2,33.5 595.1,34 596,29.9 596.9,40.1 597.8,52.3 598.7,53.5 599.6,41.2 600.5,32.3 601.4,41.3 602.3,48.5 603.2,60.8 604.1,49.1 605,36.4 605.9,50 606.8,52.4 607.7,50.1 608.6,63.5 609.5,78.8 610.4,73.5 611.3,70.9 612.2,53.2 613.1,37.8 614,43.8 614.9,56.6 615.8,57.2 616.7,50.7 617.6,49.2 618.5,62.4 619.4,68.2 620.3,57.1 621.2,36.8 622.1,32.2 623,36.2 623.9,41.7 624.8,44 625.7,42.2 626.6,47.6 627.5,47.8 628.4,48.9 629.3,54.7 630.2,52.6 631.1,47.6 632,41.5 632.9,42.2 633.8,48.6 634.7,58.5 635.6,56 636.5,38.6 637.4,53.7 638.3,55.7 639.2,43.1 640.1,35.7 641,40.6 641.9,58.6 642.8,61.7 643.7,40.8 644.6,34.8 645.5,52 646.4,62.6 647.3,55.6 648.2,46.3 649.1,48.7 650,53.3 650.9,59.8 651.8,62 652.7,58.5 653.6,47.3 654.5,33.7 655.4,39.1 656.3,48.8 657.2,39.1 658.1,44.2 659,55.3 659.9,55.9 660.8,47 661.7,48.7 662.6,46.2 663.5,52.3 664.4,60.1 665.3,61.3 666.2,46.2 667.1,59 668,58.6 668.9,46.2 669.8,28.6 670.7,38.6 671.6,48.6 672.5,50.2 673.4,45.6 674.3,40.2 675.2,40.3 676.1,45.4 677,43.1" fill="none" stroke="#ffb3c0" stroke-opacity="0.55" stroke-width="0.9"/>
<path d="M282.8,148.4 283.7,146.7 284.6,145 285.5,143.3 286.4,141.6 287.3,139.9 288.2,138.2 289.1,136.5 290,134.7 290.9,132.8 291.8,130.9 292.7,128.9 293.6,126.8 294.5,124.6 295.4,122.5 296.3,120.3 297.2,118 298.1,115.8 299,113.6 299.9,111.5 300.8,109.4 301.7,107.3 302.6,105.3 303.5,103.5 304.4,101.7 305.3,100.1 306.2,98.7 307.1,97.3 308,96.1 308.9,95 309.8,93.9 310.7,93 311.6,92.1 312.5,91.3 313.4,90.5 314.3,89.6 315.2,88.7 316.1,87.6 317,86.5 317.9,85.1 318.8,83.5 319.7,81.5 320.6,79.3 321.5,76.9 322.4,74.4 323.3,71.7 324.2,69.2 325.1,66.8 326,64.4 326.9,62.1 327.8,59.9 328.7,57.9 329.6,56.2 330.5,54.8 331.4,54.2 332.3,54.6 333.2,55.8 334.1,58.2 335,60.9 335.9,63.3 336.8,65.3 337.7,67.1 338.6,69 339.5,70.8 340.4,72.6 341.3,74.4 342.2,76.1 343.1,77.6 344,79.2 344.9,80.5 345.8,81.7 346.7,82.7 347.6,83.6 348.5,84.3 349.4,84.8 350.3,85.1 351.2,85.2 352.1,85.1 353,84.9 353.9,84.7 354.8,84.4 355.7,84.1 356.6,83.8 357.5,83.6 358.4,83.6 359.3,83.6 360.2,83.6 361.1,83.6 362,83.6 362.9,83.5 363.8,83.4 364.7,83.1 365.6,82.5 366.5,81.7 367.4,80.7 368.3,79.5 369.2,78.2 370.1,76.7 371,75.1 371.9,73.4 372.8,71.8 373.7,70.1 374.6,68.3 375.5,66.6 376.4,65.1 377.3,63.6 378.2,62.3 379.1,61.2 380,60.3 380.9,59.8 381.8,59.9 382.7,61.4 383.6,64.5 384.5,69.5 385.4,75 386.3,79.8 387.2,84.1 388.1,88.4 389,92.5 389.9,95.6 390.8,97.3 391.7,98.1 392.6,98.3 393.5,98 394.4,97.4 395.3,96.5 396.2,95.5 397.1,94.6 398,93.9 398.9,93.5 399.8,94 400.7,94.3 401.6,93.8 402.5,93 403.4,91.8 404.3,90.1 405.2,87.4 406.1,83.6 407,78.8 407.9,72.9 408.8,66.1 409.7,60 410.6,55.5 411.5,52.4 412.4,50.7 413.3,50.5 414.2,51.6 415.1,53.7 416,56.1 416.9,59.2 417.8,62.4 418.7,64.9 419.6,67.2 420.5,69.6 421.4,72.8 422.3,76.7 423.2,80.6 424.1,82.5 425,83.9 425.9,86 426.8,88.4 427.7,89 428.6,89 429.5,90 430.4,90.8 431.3,91.2 432.2,89.6 433.1,87.4 434,86.8 434.9,86.8 435.8,86.4 436.7,83.2 437.6,79.4 438.5,76.4 439.4,77.1 440.3,78.2 441.2,78.7 442.1,76.6 443,76.6 443.9,79 444.8,81.6 445.7,84 446.6,82.4 447.5,80.4 448.4,79.8 449.3,80.8 450.2,81.4 451.1,81.5 452,78 452.9,72.6 453.8,71.6 454.7,71.4 455.6,68 456.5,60.1 457.4,52.3 458.3,50.6 459.2,51.5 460.1,55.4 461,55.4 461.9,55.1 462.8,56.5 463.7,63.4 464.6,70.2 465.5,67.3 466.4,63 467.3,66 468.2,69.5 469.1,67.5 470,65 470.9,65.4 471.8,71.3 472.7,75.9 473.6,73.9 474.5,70.4 475.4,66.5 476.3,65.4 477.2,65.7 478.1,63.6 479,61.1 479.9,59.5 480.8,60.2 481.7,63.3 482.6,66.4 483.5,64.8 484.4,63.7 485.3,68.6 486.2,74 487.1,78.4 488,74.1 488.9,69.2 489.8,67 490.7,67.7 491.6,68.4 492.5,63.4 493.4,58.5 494.3,60 495.2,66.1 496.1,62.3 497,58 497.9,63.2 498.8,70.3 499.7,67.3 500.6,60.7 501.5,53.5 502.4,51.4 503.3,46.1 504.2,39.9 505.1,35.4 506,37.8 506.9,39 507.8,37.7 508.7,37.1 509.6,48 510.5,62.5 511.4,65.6 512.3,67.6 513.2,69.5 514.1,77.7 515,83.6 515.9,80 516.8,75.3 517.7,75.3 518.6,83.5 519.5,85.5 520.4,78.7 521.3,72.9 522.2,77.7 523.1,80.7 524,71.3 524.9,68.7 525.8,72.5 526.7,74.9 527.6,68.1 528.5,56.1 529.4,41 530.3,36.9 531.2,32.8 532.1,38.3 533,44.3 533.9,50.2 534.8,57.8 535.7,63.4 536.6,47.7 537.5,38.6 538.4,53.6 539.3,62.5 540.2,62.2 541.1,56.6 542,52.9 542.9,48.3 543.8,58.1 544.7,52.5 545.6,43.6 546.5,43.3 547.4,46.7 548.3,53.9 549.2,50 550.1,47.2 551,53.1 551.9,59.8 552.8,66.5 553.7,57.8 554.6,46.5 555.5,41.1 556.4,44.3 557.3,49.5 558.2,55.4 559.1,53.8 560,40.4 560.9,28.6 561.8,47.4 562.7,86.8 563.6,94.5 564.5,66.4 565.4,47.9 566.3,31.6 567.2,47.9 568.1,77.2 569,78 569.9,56.3 570.8,37.8 571.7,40.9 572.6,63.2 573.5,71.5 574.4,58.9 575.3,47.6 576.2,45.7 577.1,47.3 578,45 578.9,45.7 579.8,53.5 580.7,56.4 581.6,50.9 582.5,39 583.4,31.1 584.3,27 585.2,28.1 586.1,31 587,33.6 587.9,32.2 588.8,24.2 589.7,26.6 590.6,35.5 591.5,38.4 592.4,38.1 593.3,35.2 594.2,45.3 595.1,43.1 596,34.5 596.9,45 597.8,64 598.7,65.6 599.6,52.5 600.5,51.1 601.4,51 602.3,53.4 603.2,58.3 604.1,55.9 605,42.6 605.9,45 606.8,50.3 607.7,63.7 608.6,84.4 609.5,71.9 610.4,70.2 611.3,70 612.2,55.5 613.1,40.2 614,46.4 614.9,60.4 615.8,65.4 616.7,58.1 617.6,54 618.5,67.2 619.4,71.7 620.3,57.3 621.2,37.1 622.1,32.5 623,39.5 623.9,47.9 624.8,46.1 625.7,35.2 626.6,44.9 627.5,50.1 628.4,52.1 629.3,55 630.2,49.1 631.1,48.5 632,46.5 632.9,45.8 633.8,53.5 634.7,56 635.6,44.5 636.5,58.4 637.4,73.5 638.3,64.7 639.2,49.2 640.1,48.1 641,50.3 641.9,63.2 642.8,73.5 643.7,61.4 644.6,52 645.5,69.9 646.4,78.8 647.3,65.2 648.2,54 649.1,56.4 650,55.8 650.9,56.7 651.8,61.8 652.7,64.9 653.6,54.3 654.5,36.8 655.4,36.2 656.3,42 657.2,42.7 658.1,51.5 659,43.9 659.9,29.4 660.8,29.5 661.7,49.5 662.6,57.5 663.5,46.1 664.4,42.2 665.3,54.8 666.2,71.3 667.1,64.6 668,50.3 668.9,43.7 669.8,45.6 670.7,51.2 671.6,52.8 672.5,46.4 673.4,44.3 674.3,48 675.2,50.1 676.1,47.7 677,42.3" fill="none" stroke="#ffb3c0" stroke-opacity="0.55" stroke-width="0.9"/>
<path d="M282.8,150.1 283.7,148.3 284.6,146.6 285.5,144.8 286.4,143.1 287.3,141.3 288.2,139.6 289.1,137.8 290,136 290.9,134.2 291.8,132.4 292.7,130.5 293.6,128.7 294.5,126.8 295.4,124.9 296.3,123 297.2,121.1 298.1,119.3 299,117.4 299.9,115.5 300.8,113.6 301.7,111.8 302.6,109.9 303.5,108 304.4,106.1 305.3,104.3 306.2,102.5 307.1,100.7 308,98.9 308.9,97.2 309.8,95.6 310.7,94 311.6,92.6 312.5,91.1 313.4,89.7 314.3,88.4 315.2,87 316.1,85.6 317,84.2 317.9,82.9 318.8,81.3 319.7,79.4 320.6,77.4 321.5,75.2 322.4,73 323.3,70.7 324.2,68.4 325.1,66.3 326,64.2 326.9,62.2 327.8,60.2 328.7,58.4 329.6,56.9 330.5,55.7 331.4,55.2 332.3,55.6 333.2,56.8 334.1,59.2 335,62 335.9,64.2 336.8,66 337.7,67.7 338.6,69.3 339.5,70.9 340.4,72.5 341.3,74.1 342.2,75.7 343.1,77.3 344,78.8 344.9,80.3 345.8,81.6 346.7,82.7 347.6,83.8 348.5,84.6 349.4,85.3 350.3,85.8 351.2,86 352.1,86 353,85.9 353.9,85.7 354.8,85.5 355.7,85.3 356.6,85 357.5,84.7 358.4,84.6 359.3,84.6 360.2,84.5 361.1,84.5 362,84.3 362.9,84.1 363.8,83.9 364.7,83.5 365.6,83 366.5,82.1 367.4,81.2 368.3,80.1 369.2,79 370.1,77.8 371,76.5 371.9,75.2 372.8,73.9 373.7,72.7 374.6,71.5 375.5,70.3 376.4,69.3 377.3,68.3 378.2,67.4 379.1,66.5 380,65.9 380.9,65.4 381.8,65.4 382.7,66.4 383.6,69.2 384.5,74 385.4,79 386.3,83 387.2,86.3 388.1,89.5 389,92.9 389.9,95.3 390.8,96.3 391.7,96.3 392.6,96 393.5,95.5 394.4,94.8 395.3,94 396.2,93.3 397.1,92.7 398,92.3 398.9,92.5 399.8,93.4 400.7,94.2 401.6,94.3 402.5,94 403.4,93.3 404.3,91.9 405.2,89.4 406.1,85.6 407,80.6 407.9,74.9 408.8,68.6 409.7,63.1 410.6,58.9 411.5,55.9 412.4,54.2 413.3,53.8 414.2,54.6 415.1,56.3 416,58.5 416.9,61.3 417.8,64.3 418.7,66.8 419.6,69 420.5,71.7 421.4,75.4 422.3,80.1 423.2,84.2 424.1,87 425,90 425.9,92 426.8,93.2 427.7,94.1 428.6,95.1 429.5,96.2 430.4,97 431.3,96.5 432.2,94.6 433.1,92.7 434,91.9 434.9,90.8 435.8,88.3 436.7,82.8 437.6,78.7 438.5,77.3 439.4,74.9 440.3,72.3 441.2,70.3 442.1,71.4 443,75.1 443.9,78 444.8,78 445.7,77.4 446.6,76.8 447.5,77.3 448.4,80.1 449.3,80.9 450.2,79.9 451.1,78.5 452,77.8 452.9,77 453.8,76.7 454.7,73.7 455.6,68.6 456.5,64.8 457.4,60.9 458.3,56.8 459.2,54.4 460.1,54.1 461,55.9 461.9,60.6 462.8,65.7 463.7,67.3 464.6,65.8 465.5,63.9 466.4,62.4 467.3,67.5 468.2,72.2 469.1,68.9 470,66.2 470.9,65.3 471.8,69.4 472.7,74 473.6,76.4 474.5,72.2 475.4,67.5 476.3,64.5 477.2,66.9 478.1,72.5 479,64.8 479.9,61.6 480.8,62.2 481.7,65.3 482.6,69 483.5,69.5 484.4,68.6 485.3,67.4 486.2,68.7 487.1,72.6 488,75.4 488.9,77.6 489.8,71.7 490.7,66.3 491.6,61.8 492.5,65.2 493.4,63.3 494.3,55.9 495.2,59.5 496.1,67.9 497,65.9 497.9,64.2 498.8,67.7 499.7,72.9 500.6,71.4 501.5,61.8 502.4,51.8 503.3,46.5 504.2,46.1 505.1,47.1 506,48.7 506.9,40.5 507.8,35.3 508.7,43.4 509.6,53.4 510.5,63.8 511.4,65.4 512.3,66 513.2,65.8 514.1,71.1 515,79.7 515.9,81.5 516.8,79.5 517.7,76.9 518.6,76.6 519.5,78.8 520.4,80.9 521.3,79.8 522.2,74.3 523.1,69.2 524,72.7 524.9,77.2 525.8,76.3 526.7,71.7 527.6,69.6 528.5,66.6 529.4,44 530.3,35.7 531.2,32.2 532.1,42.8 533,63.5 533.9,62.1 534.8,60.6 535.7,57.7 536.6,50.9 537.5,49.6 538.4,68.5 539.3,66.4 540.2,58.1 541.1,51.7 542,55 542.9,63 543.8,57.5 544.7,44.3 545.6,42.7 546.5,46.7 547.4,56.6 548.3,66.9 549.2,57.2 550.1,53.1 551,60.5 551.9,70.4 552.8,73.2 553.7,58 554.6,50 555.5,52.2 556.4,62.7 557.3,61.7 558.2,56.2 559.1,42.1 560,42.5 560.9,42.1 561.8,62.4 562.7,81.7 563.6,83.9 564.5,73.3 565.4,49 566.3,29.8 567.2,38.8 568.1,66 569,80.9 569.9,57.2 570.8,36.4 571.7,32 572.6,43.4 573.5,60.4 574.4,55.8 575.3,47.1 576.2,33.9 577.1,31.4 578,42.6 578.9,53.6 579.8,62.8 580.7,57.1 581.6,49.7 582.5,38.6 583.4,38.2 584.3,50.2 585.2,37.9 586.1,26.4 587,30.6 587.9,38.1 588.8,34.5 589.7,32.7 590.6,34.4 591.5,36.9 592.4,33.6 593.3,41.6 594.2,48.5 595.1,45.2 596,34.1 596.9,46.8 597.8,70.8 598.7,70.3 599.6,57.9 600.5,44.2 601.4,50.5 602.3,58 603.2,75.1 604.1,70.1 605,56.8 605.9,59.4 606.8,62.4 607.7,76.8 608.6,89.7 609.5,88.3 610.4,79.7 611.3,74.8 612.2,64.3 613.1,44 614,42.6 614.9,53.8 615.8,56.1 616.7,60.6 617.6,62.8 618.5,56.7 619.4,58.8 620.3,53 621.2,37.7 622.1,31.7 623,34.1 623.9,39.8 624.8,43.5 625.7,44.9 626.6,47.4 627.5,44.8 628.4,47.1 629.3,55.9 630.2,59.1 631.1,53.6 632,46.5 632.9,44 633.8,53.9 634.7,69.8 635.6,74 636.5,70.9 637.4,59.1 638.3,47.5 639.2,47.7 640.1,59.5 641,56.9 641.9,57.8 642.8,51.9 643.7,46.2 644.6,52.6 645.5,75.4 646.4,76.1 647.3,54.9 648.2,44.3 649.1,48.6 650,55.5 650.9,65.3 651.8,83.3 652.7,63.2 653.6,44.5 654.5,37.3 655.4,43.6 656.3,55.9 657.2,48.5 658.1,53.4 659,55.7 659.9,50.8 660.8,56.6 661.7,75.5 662.6,73.7 663.5,56.7 664.4,54.8 665.3,75.8 666.2,85.4 667.1,73.7 668,55.4 668.9,43.7 669.8,47.4 670.7,53.6 671.6,62.9 672.5,53.5 673.4,45.9 674.3,39.8 675.2,48.7 676.1,51.4 677,44.8" fill="none" stroke="#ffb3c0" stroke-opacity="0.55" stroke-width="0.9"/>
<path d="M282.8,151.9 283.7,149.4 284.6,147 285.5,144.7 286.4,142.3 287.3,140.1 288.2,137.8 289.1,135.6 290,133.5 290.9,131.5 291.8,129.6 292.7,127.7 293.6,125.9 294.5,124.1 295.4,122.5 296.3,120.9 297.2,119.4 298.1,117.9 299,116.5 299.9,115.1 300.8,113.8 301.7,112.4 302.6,111 303.5,109.6 304.4,108.2 305.3,106.7 306.2,105.2 307.1,103.6 308,102 308.9,100.3 309.8,98.6 310.7,97 311.6,95.3 312.5,93.7 313.4,92 314.3,90.4 315.2,88.7 316.1,87 317,85.3 317.9,83.7 318.8,81.8 319.7,79.8 320.6,77.6 321.5,75.4 322.4,73.1 323.3,70.8 324.2,68.7 325.1,66.7 326,64.7 326.9,63 327.8,61.4 328.7,60 329.6,58.9 330.5,58.1 331.4,58 332.3,58.6 333.2,60.2 334.1,63.3 335,66.9 335.9,69.7 336.8,71.7 337.7,73.5 338.6,75 339.5,76.5 340.4,77.9 341.3,79.2 342.2,80.4 343.1,81.5 344,82.5 344.9,83.3 345.8,84.1 346.7,84.7 347.6,85.3 348.5,85.7 349.4,86 350.3,86.2 351.2,86.1 352.1,85.9 353,85.6 353.9,85.3 354.8,85 355.7,84.7 356.6,84.5 357.5,84.3 358.4,84.2 359.3,84.3 360.2,84.4 361.1,84.4 362,84.4 362.9,84.5 363.8,84.4 364.7,84.3 365.6,83.9 366.5,83.3 367.4,82.5 368.3,81.6 369.2,80.6 370.1,79.6 371,78.4 371.9,77.1 372.8,75.9 373.7,74.7 374.6,73.5 375.5,72.2 376.4,71.1 377.3,69.9 378.2,68.8 379.1,67.7 380,66.9 380.9,66.2 381.8,65.8 382.7,66.7 383.6,69.3 384.5,73.9 385.4,78.8 386.3,82.7 387.2,85.9 388.1,89.2 389,92.7 389.9,95.2 390.8,96.3 391.7,96.6 392.6,96.6 393.5,96.3 394.4,95.9 395.3,95.4 396.2,94.9 397.1,94.5 398,94.3 398.9,94.6 399.8,95.8 400.7,96.8 401.6,96.9 402.5,96.6 403.4,95.8 404.3,94.3 405.2,91.4 406.1,87.2 407,81.8 407.9,75.9 408.8,69.4 409.7,63.8 410.6,59.2 411.5,55.8 412.4,53.6 413.3,52.5 414.2,52.8 415.1,54.5 416,56.7 416.9,59.5 417.8,62.1 418.7,64.4 419.6,66.6 420.5,69.4 421.4,73.2 422.3,76.8 423.2,80.2 424.1,83.5 425,86.4 425.9,89.3 426.8,91.3 427.7,92.8 428.6,94.5 429.5,96.7 430.4,98.3 431.3,97 432.2,96.4 433.1,97.2 434,96.6 434.9,93.2 435.8,89.5 436.7,88.1 437.6,86.5 438.5,84.8 439.4,81.2 440.3,77.5 441.2,75.3 442.1,76.1 443,79.1 443.9,79.5 444.8,78 445.7,76.6 446.6,78.9 447.5,81.5 448.4,80.5 449.3,79.6 450.2,80.3 451.1,80.7 452,80.6 452.9,79.1 453.8,76.7 454.7,73.8 455.6,71.2 456.5,70.8 457.4,68.6 458.3,62.2 459.2,57.8 460.1,57.2 461,63.2 461.9,72.1 462.8,78.3 463.7,75.2 464.6,72.8 465.5,74.7 466.4,79 467.3,83.4 468.2,77.7 469.1,70.3 470,70.5 470.9,73.6 471.8,78.9 472.7,78.5 473.6,74.5 474.5,69.3 475.4,69.4 476.3,70 477.2,73.4 478.1,66.9 479,63.3 479.9,63.2 480.8,65.3 481.7,68.3 482.6,68.4 483.5,67.9 484.4,66.6 485.3,70.1 486.2,75 487.1,78.9 488,74.2 488.9,71.4 489.8,72 490.7,72.6 491.6,74.9 492.5,67.7 493.4,63.4 494.3,64.9 495.2,75.5 496.1,78.9 497,73.8 497.9,72 498.8,73.7 499.7,80.4 500.6,86.7 501.5,74.6 502.4,59.6 503.3,49.3 504.2,43.2 505.1,43.5 506,44.6 506.9,47.8 507.8,45.3 508.7,45.9 509.6,53.4 510.5,62.7 511.4,72 512.3,72.4 513.2,71.3 514.1,74.6 515,80.7 515.9,85.2 516.8,79.6 517.7,74.2 518.6,79.3 519.5,84.5 520.4,80 521.3,72.8 522.2,68.2 523.1,72.5 524,77 524.9,83.1 525.8,78.6 526.7,73.8 527.6,76.3 528.5,70.4 529.4,43.8 530.3,35.3 531.2,33.7 532.1,45.9 533,55.5 533.9,52.4 534.8,57.3 535.7,66.3 536.6,52.5 537.5,46.3 538.4,54.6 539.3,59.5 540.2,60.9 541.1,63.5 542,59.4 542.9,56.5 543.8,45.1 544.7,45.2 545.6,47.6 546.5,46.3 547.4,45.5 548.3,48.1 549.2,53.4 550.1,54.6 551,52.7 551.9,47.5 552.8,44.5 553.7,51.9 554.6,53.5 555.5,49.7 556.4,51.4 557.3,51.8 558.2,56 559.1,61 560,54.8 560.9,38.9 561.8,57 562.7,96.9 563.6,107.2 564.5,82.7 565.4,61.7 566.3,33.1 567.2,41.6 568.1,60.1 569,75.4 569.9,69.4 570.8,58.5 571.7,43.2 572.6,45.3 573.5,50.7 574.4,53.4 575.3,56.6 576.2,50.4 577.1,38.3 578,40.8 578.9,50.8 579.8,64.1 580.7,62.4 581.6,51.4 582.5,38 583.4,35.3 584.3,46.3 585.2,44.8 586.1,36 587,34 587.9,38.3 588.8,41.5 589.7,58.3 590.6,43.2 591.5,37.4 592.4,31 593.3,34.4 594.2,53.6 595.1,50.9 596,36.1 596.9,36.3 597.8,52.9 598.7,65.6 599.6,68.8 600.5,72.6 601.4,54.9 602.3,47 603.2,49.4 604.1,65.8 605,77 605.9,63.5 606.8,50.3 607.7,61.5 608.6,96.7 609.5,109.8 610.4,71.6 611.3,56.8 612.2,54.2 613.1,44.9 614,49.7 614.9,58.5 615.8,54 616.7,54.6 617.6,65.3 618.5,80 619.4,76 620.3,58.7 621.2,37.7 622.1,35.4 623,44.3 623.9,61.1 624.8,61.7 625.7,48.5 626.6,49 627.5,55.5 628.4,61.6 629.3,64.8 630.2,54.4 631.1,58.1 632,62.5 632.9,58.7 633.8,70.3 634.7,71.2 635.6,71 636.5,70 637.4,84.6 638.3,79.1 639.2,55.1 640.1,55.2 641,51 641.9,60.4 642.8,73.5 643.7,74.6 644.6,62.7 645.5,64.7 646.4,73.5 647.3,64.8 648.2,64 649.1,58.9 650,55.1 650.9,59.2 651.8,71.7 652.7,75 653.6,57.7 654.5,36 655.4,37 656.3,54.6 657.2,49.3 658.1,53.6 659,59.1 659.9,56.7 660.8,61.8 661.7,68.9 662.6,63.5 663.5,56.8 664.4,57.9 665.3,76.8 666.2,89.9 667.1,67.5 668,53.5 668.9,57.7 669.8,51.1 670.7,45.3 671.6,46.6 672.5,47.3 673.4,48.1 674.3,55.8 675.2,54.9 676.1,48.9 677,42.1" fill="none" stroke="#ffb3c0" stroke-opacity="0.55" stroke-width="0.9"/>
<path d="M282.8,154.6 283.7,153 284.6,151.4 285.5,149.7 286.4,148.1 287.3,146.5 288.2,144.8 289.1,143.1 290,141.4 290.9,139.6 291.8,137.8 292.7,135.9 293.6,134 294.5,132 295.4,129.8 296.3,127.6 297.2,125.4 298.1,123 299,120.6 299.9,118.3 300.8,116.2 301.7,114.1 302.6,112 303.5,110 304.4,108 305.3,106.1 306.2,104.3 307.1,102.6 308,100.9 308.9,99.3 309.8,97.8 310.7,96.3 311.6,95 312.5,93.7 313.4,92.4 314.3,91.1 315.2,89.8 316.1,88.4 317,86.9 317.9,85.4 318.8,83.6 319.7,81.6 320.6,79.5 321.5,77.1 322.4,74.7 323.3,72.3 324.2,69.9 325.1,67.7 326,65.5 326.9,63.6 327.8,61.7 328.7,60.1 329.6,58.6 330.5,57.5 331.4,57.1 332.3,57.4 333.2,58.7 334.1,61.3 335,64.3 335.9,66.7 336.8,68.5 337.7,70 338.6,71.5 339.5,72.9 340.4,74.3 341.3,75.7 342.2,77 343.1,78.3 344,79.6 344.9,80.8 345.8,81.9 346.7,82.9 347.6,83.8 348.5,84.6 349.4,85.3 350.3,85.8 351.2,86 352.1,86.1 353,86 353.9,85.9 354.8,85.8 355.7,85.7 356.6,85.5 357.5,85.4 358.4,85.4 359.3,85.4 360.2,85.4 361.1,85.4 362,85.3 362.9,85.1 363.8,84.9 364.7,84.5 365.6,83.8 366.5,83 367.4,81.9 368.3,80.8 369.2,79.6 370.1,78.4 371,77.1 371.9,75.8 372.8,74.7 373.7,73.7 374.6,72.9 375.5,72.1 376.4,71.6 377.3,71.2 378.2,70.9 379.1,70.8 380,71 380.9,71.8 381.8,73 382.7,75 383.6,78.9 384.5,85 385.4,90.8 386.3,94.8 387.2,97.5 388.1,99.8 389,102.1 389.9,104.2 390.8,105 391.7,104.7 392.6,104 393.5,102.6 394.4,101 395.3,99.4 396.2,97.9 397.1,96.7 398,96 398.9,95.8 399.8,96.8 400.7,97.7 401.6,97.8 402.5,97.6 403.4,97 404.3,95.7 405.2,93.1 406.1,89 407,83.6 407.9,78 408.8,72.6 409.7,68.2 410.6,64.4 411.5,61.2 412.4,59.3 413.3,58.4 414.2,58 415.1,58.9 416,60.5 416.9,62.7 417.8,64.9 418.7,66.9 419.6,68.8 420.5,71.2 421.4,74.5 422.3,78.8 423.2,82.5 424.1,84.6 425,87.1 425.9,89.8 426.8,92.1 427.7,93.3 428.6,94 429.5,94.3 430.4,95.6 431.3,96.8 432.2,97.5 433.1,96.4 434,94.6 434.9,92.3 435.8,90.3 436.7,88.2 437.6,86 438.5,81.8 439.4,76.7 440.3,75.5 441.2,75.5 442.1,75.6 443,76.4 443.9,76.4 444.8,77.7 445.7,78.9 446.6,79.2 447.5,78.5 448.4,78.1 449.3,79.5 450.2,80.9 451.1,80.9 452,77.9 452.9,76.8 453.8,79.8 454.7,76.4 455.6,71.3 456.5,72.4 457.4,72.7 458.3,65.2 459.2,60.1 460.1,59.3 461,63.7 461.9,73.3 462.8,81.4 463.7,77.2 464.6,73.2 465.5,71.8 466.4,74.3 467.3,78 468.2,82.1 469.1,75.6 470,70.7 470.9,69.5 471.8,73.6 472.7,78.7 473.6,73.7 474.5,70.2 475.4,71.7 476.3,78.2 477.2,73.8 478.1,66.3 479,62.5 479.9,63.2 480.8,66 481.7,74.1 482.6,76.1 483.5,72.2 484.4,71.4 485.3,74.1 486.2,79.2 487.1,86.8 488,91.9 488.9,81.9 489.8,73.2 490.7,67.6 491.6,68.6 492.5,72.4 493.4,68.9 494.3,62.8 495.2,64.4 496.1,70 497,78.9 497.9,80.5 498.8,75.1 499.7,70.7 500.6,66.9 501.5,65.9 502.4,64.1 503.3,53.9 504.2,46.3 505.1,45.3 506,53 506.9,61.5 507.8,52.3 508.7,51.6 509.6,51.6 510.5,66.1 511.4,84.5 512.3,75.1 513.2,75.5 514.1,79.1 515,82.3 515.9,85.4 516.8,82.2 517.7,77.6 518.6,74.7 519.5,81.3 520.4,82.7 521.3,77.2 522.2,71.4 523.1,72.7 524,76.8 524.9,82.5 525.8,76.7 526.7,64.2 527.6,69.6 528.5,70.2 529.4,52.1 530.3,37.2 531.2,33.1 532.1,43.5 533,61.1 533.9,59.3 534.8,56.3 535.7,58.4 536.6,51.9 537.5,48.7 538.4,57.8 539.3,59.4 540.2,57.5 541.1,58.8 542,62.8 542.9,65.4 543.8,56.3 544.7,45.5 545.6,47.7 546.5,49.4 547.4,61.9 548.3,55.3 549.2,52.5 550.1,60.2 551,65 551.9,63.4 552.8,58.5 553.7,59.9 554.6,70 555.5,63.8 556.4,58.7 557.3,57 558.2,61.3 559.1,64.9 560,61.4 560.9,44.5 561.8,63.8 562.7,93.9 563.6,99.7 564.5,81.8 565.4,59.3 566.3,32.4 567.2,40.5 568.1,70.5 569,87.1 569.9,66.2 570.8,48.4 571.7,44.5 572.6,62.9 573.5,73.4 574.4,67 575.3,65.5 576.2,63.5 577.1,58.9 578,58.3 578.9,59 579.8,71.2 580.7,82.3 581.6,83.2 582.5,54.7 583.4,40 584.3,44.8 585.2,47.1 586.1,45.3 587,39.7 587.9,37.2 588.8,34.2 589.7,40.4 590.6,45.1 591.5,37.8 592.4,29.2 593.3,32.9 594.2,62.4 595.1,51 596,32.2 596.9,41.2 597.8,59.7 598.7,70.6 599.6,65.6 600.5,58.1 601.4,48.3 602.3,61.2 603.2,79.9 604.1,72.7 605,66.8 605.9,67.1 606.8,69.9 607.7,82.9 608.6,94.3 609.5,88.1 610.4,81.5 611.3,78.1 612.2,64.6 613.1,43.8 614,42.1 614.9,47.5 615.8,53.1 616.7,64.3 617.6,59.3 618.5,52.2 619.4,62.6 620.3,60.9 621.2,42.2 622.1,34.7 623,38 623.9,39.9 624.8,47.4 625.7,49.1 626.6,48.7 627.5,47 628.4,58.1 629.3,76.2 630.2,65.1 631.1,60.6 632,58.9 632.9,52.6 633.8,60.7 634.7,66.7 635.6,66.4 636.5,80.7 637.4,90.7 638.3,70 639.2,51.2 640.1,54.3 641,58.9 641.9,68.7 642.8,71.7 643.7,51.5 644.6,50.9 645.5,72.6 646.4,83.4 647.3,68.7 648.2,49.7 649.1,53.7 650,61.4 650.9,77.9 651.8,75.1 652.7,69.7 653.6,56.8 654.5,44 655.4,54.1 656.3,76.3 657.2,54.4 658.1,54.2 659,61.7 659.9,69.7 660.8,72.7 661.7,73.8 662.6,64 663.5,61.1 664.4,78.7 665.3,78.8 666.2,73.6 667.1,73.5 668,68.6 668.9,75.3 669.8,71.3 670.7,55.9 671.6,55.2 672.5,53.2 673.4,56.9 674.3,74.5 675.2,66.5 676.1,51.3 677,43.2" fill="none" stroke="#ffb3c0" stroke-opacity="0.55" stroke-width="0.9"/>
<path d="M282.8,157.9 283.7,155.9 284.6,153.9 285.5,151.8 286.4,149.8 287.3,147.6 288.2,145.5 289.1,143.4 290,141.2 290.9,138.9 291.8,136.6 292.7,134.3 293.6,132 294.5,129.7 295.4,127.4 296.3,125.1 297.2,122.8 298.1,120.6 299,118.4 299.9,116.3 300.8,114.3 301.7,112.3 302.6,110.3 303.5,108.5 304.4,106.7 305.3,105 306.2,103.4 307.1,101.8 308,100.4 308.9,99 309.8,97.6 310.7,96.4 311.6,95.2 312.5,94.1 313.4,93 314.3,91.9 315.2,90.7 316.1,89.4 317,88 317.9,86.5 318.8,84.7 319.7,82.6 320.6,80.4 321.5,78 322.4,75.5 323.3,72.9 324.2,70.4 325.1,68 326,65.8 326.9,63.8 327.8,61.9 328.7,60.3 329.6,58.9 330.5,57.8 331.4,57.5 332.3,58 333.2,59.5 334.1,62.5 335,66 335.9,69 336.8,71.4 337.7,73.4 338.6,75.3 339.5,77.1 340.4,78.9 341.3,80.5 342.2,82.1 343.1,83.6 344,84.9 344.9,86.1 345.8,87.2 346.7,88 347.6,88.7 348.5,89.1 349.4,89.3 350.3,89.2 351.2,88.7 352.1,88 353,87.4 353.9,86.8 354.8,86.3 355.7,85.8 356.6,85.3 357.5,84.9 358.4,84.6 359.3,84.5 360.2,84.5 361.1,84.4 362,84.3 362.9,84.3 363.8,84.3 364.7,84.1 365.6,83.8 366.5,83.3 367.4,82.6 368.3,81.8 369.2,81 370.1,80.1 371,79.2 371.9,78.4 372.8,77.5 373.7,76.5 374.6,75.4 375.5,74.1 376.4,73 377.3,72 378.2,71.1 379.1,70.2 380,69.6 380.9,69.1 381.8,69 382.7,69.9 383.6,72.8 384.5,78.1 385.4,83.5 386.3,87.6 387.2,90.9 388.1,94.1 389,97.4 389.9,100.4 390.8,102.3 391.7,103.1 392.6,103.3 393.5,103 394.4,102.4 395.3,101.7 396.2,101.4 397.1,101.1 398,101.1 398.9,101.6 399.8,103.1 400.7,104.1 401.6,104.2 402.5,103.8 403.4,102.8 404.3,101.1 405.2,98 406.1,93.4 407,87.6 407.9,81.7 408.8,75.7 409.7,70.7 410.6,66.6 411.5,63.1 412.4,61.2 413.3,60.6 414.2,60.2 415.1,60.7 416,61.8 416.9,64 417.8,66.5 418.7,68.8 419.6,71 420.5,73.1 421.4,76.3 422.3,80.8 423.2,85.4 424.1,88.3 425,89.9 425.9,91.1 426.8,93.1 427.7,95 428.6,95.2 429.5,95 430.4,95.8 431.3,96.8 432.2,97.4 433.1,96 434,93.8 434.9,94.2 435.8,94.9 436.7,90.6 437.6,86.1 438.5,82.1 439.4,82.9 440.3,86.2 441.2,81.9 442.1,79.2 443,82.3 443.9,84.9 444.8,86.8 445.7,85.4 446.6,83.2 447.5,83.9 448.4,85.4 449.3,87.2 450.2,86.5 451.1,82.8 452,80.5 452.9,80.1 453.8,80.6 454.7,77.3 455.6,71.8 456.5,69.7 457.4,67.7 458.3,66.4 459.2,61.2 460.1,60.2 461,60.5 461.9,65.3 462.8,73.2 463.7,84.5 464.6,88.6 465.5,85.4 466.4,81.5 467.3,83.8 468.2,90 469.1,95.7 470,93.7 470.9,86.8 471.8,80.8 472.7,88.5 473.6,97.3 474.5,90.6 475.4,79.3 476.3,70.1 477.2,67.5 478.1,66.5 479,65.9 479.9,65.7 480.8,65 481.7,65 482.6,65.2 483.5,70 484.4,74.8 485.3,73.3 486.2,70.8 487.1,66.9 488,71.5 488.9,82.3 489.8,71.7 490.7,64.1 491.6,63.5 492.5,66.6 493.4,75 494.3,74 495.2,64.5 496.1,65.2 497,71 497.9,81.6 498.8,78.7 499.7,71.4 500.6,73.4 501.5,84 502.4,73.3 503.3,52.5 504.2,48.5 505.1,49.6 506,57.1 506.9,47.8 507.8,45.8 508.7,53.7 509.6,63 510.5,63.1 511.4,68.7 512.3,80.6 513.2,77.3 514.1,74.7 515,82 515.9,94.8 516.8,95 517.7,86.3 518.6,81 519.5,88 520.4,100.1 521.3,105.2 522.2,96.8 523.1,88.1 524,80.6 524.9,85.5 525.8,93.7 526.7,101.4 527.6,99.2 528.5,82 529.4,46.9 530.3,38.1 531.2,34.9 532.1,53.5 533,75.6 533.9,75.2 534.8,71 535.7,66.6 536.6,61.9 537.5,62.8 538.4,61.1 539.3,65.8 540.2,72.3 541.1,71.3 542,61.8 542.9,62 543.8,63.1 544.7,58.7 545.6,63 546.5,55.1 547.4,50.9 548.3,50.9 549.2,53.6 550.1,56.1 551,69.2 551.9,69.7 552.8,60.8 553.7,54.5 554.6,55.7 555.5,64 556.4,58.7 557.3,57.2 558.2,56.5 559.1,55.5 560,48.8 560.9,48.6 561.8,73.3 562.7,111.2 563.6,102.2 564.5,78.2 565.4,65.3 566.3,58.9 567.2,56.9 568.1,70.2 569,88.9 569.9,92.5 570.8,66 571.7,43.6 572.6,47.9 573.5,65.1 574.4,69.4 575.3,63.3 576.2,47.3 577.1,39.5 578,45 578.9,53.8 579.8,67.3 580.7,69.4 581.6,51.7 582.5,38 583.4,36.6 584.3,58.6 585.2,47.1 586.1,38.3 587,35.4 587.9,47.5 588.8,65 589.7,61.4 590.6,53.9 591.5,45.3 592.4,54.8 593.3,71.8 594.2,86.7 595.1,73.7 596,44.6 596.9,43.5 597.8,66 598.7,85.5 599.6,95.3 600.5,88.8 601.4,68.4 602.3,55.2 603.2,59.1 604.1,76.2 605,80.4 605.9,64.9 606.8,53.4 607.7,55.6 608.6,88.6 609.5,102.9 610.4,75.8 611.3,55.6 612.2,54.4 613.1,46.9 614,51.2 614.9,57.1 615.8,48.7 616.7,43.6 617.6,57.8 618.5,78.6 619.4,72.1 620.3,55.1 621.2,35.3 622.1,35.9 623,49.6 623.9,72.2 624.8,58.3 625.7,44.9 626.6,54.5 627.5,67.3 628.4,65.2 629.3,65.8 630.2,59 631.1,62.6 632,66.9 632.9,58.3 633.8,59.8 634.7,64.8 635.6,68.8 636.5,82.8 637.4,88.7 638.3,62.8 639.2,50.9 640.1,54.2 641,64 641.9,82.2 642.8,80.5 643.7,60.9 644.6,59.8 645.5,86.8 646.4,98.2 647.3,86 648.2,61.6 649.1,59.1 650,66.6 650.9,83.3 651.8,96.8 652.7,87.1 653.6,67.1 654.5,43.1 655.4,48.9 656.3,70.5 657.2,61.1 658.1,56.3 659,56.1 659.9,56.7 660.8,66.9 661.7,79.1 662.6,66.3 663.5,56 664.4,62.3 665.3,83.8 666.2,88.4 667.1,71.1 668,61.5 668.9,65 669.8,66.8 670.7,50.4 671.6,51.2 672.5,51.5 673.4,50.6 674.3,57.4 675.2,53.2 676.1,48 677,41.3" fill="none" stroke="#ffb3c0" stroke-opacity="0.55" stroke-width="0.9"/>
<path d="M282.8,157.9 283.7,156 284.6,154.1 285.5,152.3 286.4,150.5 287.3,148.6 288.2,146.8 289.1,144.9 290,143 290.9,141 291.8,139 292.7,136.9 293.6,134.8 294.5,132.6 295.4,130.4 296.3,128.1 297.2,125.9 298.1,123.6 299,121.3 299.9,119 300.8,116.7 301.7,114.6 302.6,112.6 303.5,110.6 304.4,108.7 305.3,106.8 306.2,105 307.1,103.2 308,101.5 308.9,99.9 309.8,98.4 310.7,96.9 311.6,95.6 312.5,94.3 313.4,93.1 314.3,91.9 315.2,90.7 316.1,89.5 317,88.3 317.9,87 318.8,85.4 319.7,83.7 320.6,81.8 321.5,79.7 322.4,77.5 323.3,75.2 324.2,73 325.1,70.9 326,68.9 326.9,67.2 327.8,65.5 328.7,64 329.6,62.6 330.5,61.4 331.4,60.9 332.3,61 333.2,62.1 334.1,64.7 335,67.7 335.9,70.1 336.8,71.8 337.7,73.2 338.6,74.6 339.5,75.9 340.4,77.2 341.3,78.4 342.2,79.6 343.1,80.8 344,81.9 344.9,83 345.8,84.1 346.7,85 347.6,85.8 348.5,86.6 349.4,87.1 350.3,87.5 351.2,87.7 352.1,87.6 353,87.4 353.9,87.3 354.8,87.1 355.7,87 356.6,86.9 357.5,86.9 358.4,87.1 359.3,87.2 360.2,87.4 361.1,87.6 362,87.6 362.9,87.7 363.8,87.7 364.7,87.5 365.6,87.1 366.5,86.4 367.4,85.6 368.3,84.6 369.2,83.6 370.1,82.5 371,81.2 371.9,79.9 372.8,78.6 373.7,77.4 374.6,76.1 375.5,74.9 376.4,73.7 377.3,72.6 378.2,71.7 379.1,71.1 380,70.7 380.9,70.5 381.8,70.6 382.7,71.7 383.6,74.8 384.5,80.5 385.4,86.2 386.3,90.3 387.2,93.5 388.1,96.4 389,99.4 389.9,102.5 390.8,104.3 391.7,105 392.6,105.3 393.5,105 394.4,104.4 395.3,103.8 396.2,103.2 397.1,102.7 398,102.6 398.9,103.1 399.8,104.5 400.7,105.7 401.6,105.9 402.5,105.6 403.4,104.9 404.3,103.3 405.2,100.4 406.1,96.1 407,90.6 407.9,84.8 408.8,79 409.7,74 410.6,69.9 411.5,66.8 412.4,64.4 413.3,62.6 414.2,62 415.1,63.5 416,64.8 416.9,66.1 417.8,67.6 418.7,69.1 419.6,72.5 420.5,75.6 421.4,78 422.3,82.1 423.2,86.5 424.1,90.5 425,94.2 425.9,97.5 426.8,98 427.7,98.4 428.6,98.9 429.5,101.5 430.4,104.4 431.3,106.9 432.2,105.7 433.1,103.4 434,100.6 434.9,101.4 435.8,102.2 436.7,100.3 437.6,95.1 438.5,92.6 439.4,93.2 440.3,93.8 441.2,94.3 442.1,90.6 443,88.8 443.9,86.3 444.8,88.7 445.7,91.9 446.6,92.7 447.5,91.2 448.4,89.5 449.3,89.4 450.2,92.4 451.1,90.2 452,84.3 452.9,81.8 453.8,84.4 454.7,87.3 455.6,83.6 456.5,74.1 457.4,70.4 458.3,72.3 459.2,64 460.1,61.3 461,64.6 461.9,73.5 462.8,80.9 463.7,74.5 464.6,72.3 465.5,75.3 466.4,79.6 467.3,75.5 468.2,72.6 469.1,71.4 470,72.9 470.9,79.1 471.8,84.2 472.7,80.9 473.6,77 474.5,72.7 475.4,74.6 476.3,83.6 477.2,93.5 478.1,84.8 479,73.6 479.9,74.3 480.8,91.6 481.7,89.3 482.6,81 483.5,72.9 484.4,75.6 485.3,83.3 486.2,90.4 487.1,83.9 488,77.9 488.9,82.9 489.8,89.5 490.7,79 491.6,69.8 492.5,64.5 493.4,63.6 494.3,66.6 495.2,78 496.1,81.7 497,74.3 497.9,71.5 498.8,71.8 499.7,75.2 500.6,75 501.5,72.5 502.4,60.5 503.3,50.9 504.2,43.5 505.1,47.5 506,62.4 506.9,52.1 507.8,48.6 508.7,51.8 509.6,66.4 510.5,87.8 511.4,79.7 512.3,71.3 513.2,78.7 514.1,90 515,94.2 515.9,86.5 516.8,82.9 517.7,81.2 518.6,87.5 519.5,98 520.4,95.3 521.3,80.6 522.2,78.2 523.1,82.8 524,92.2 524.9,94 525.8,88 526.7,82.3 527.6,76.6 528.5,75.7 529.4,67.6 530.3,39.1 531.2,33 532.1,42.7 533,58.7 533.9,63.9 534.8,65.3 535.7,64 536.6,52.1 537.5,50.2 538.4,64.9 539.3,64.4 540.2,61.1 541.1,60.6 542,63.4 542.9,73.2 543.8,63.9 544.7,47.9 545.6,47 546.5,48.5 547.4,57.2 548.3,62.6 549.2,59.3 550.1,54.9 551,60.8 551.9,76.1 552.8,85.4 553.7,73.1 554.6,56.4 555.5,54.6 556.4,62.1 557.3,68.3 558.2,72.6 559.1,63.4 560,46.6 560.9,34.7 561.8,70.5 562.7,119.6 563.6,115 564.5,72.1 565.4,48 566.3,33 567.2,56.2 568.1,80.4 569,77.6 569.9,55.4 570.8,48.1 571.7,48.9 572.6,61.3 573.5,66.3 574.4,58.4 575.3,62.3 576.2,59.9 577.1,60.1 578,49 578.9,52.6 579.8,64.5 580.7,64 581.6,54.5 582.5,39.9 583.4,37.2 584.3,40.4 585.2,54.2 586.1,77.7 587,60 587.9,42 588.8,36.3 589.7,53.6 590.6,69.7 591.5,79.7 592.4,66.1 593.3,55.8 594.2,58.3 595.1,57.8 596,60.2 596.9,75.9 597.8,77.2 598.7,74 599.6,64.7 600.5,70.4 601.4,77.1 602.3,63.8 603.2,62.8 604.1,86.1 605,101.1 605.9,79.7 606.8,58.4 607.7,67.6 608.6,115.3 609.5,119.9 610.4,96.2 611.3,73.8 612.2,61.1 613.1,53 614,69.7 614.9,90.5 615.8,75 616.7,60.2 617.6,60.1 618.5,72.3 619.4,79.8 620.3,77.3 621.2,48.1 622.1,37.2 623,52.1 623.9,75.8 624.8,66.5 625.7,52.5 626.6,81.7 627.5,90.6 628.4,73 629.3,67 630.2,87.2 631.1,101.5 632,80 632.9,53 633.8,82.6 634.7,101.7 635.6,95.2 636.5,98.1 637.4,90.3 638.3,84.5 639.2,92.8 640.1,81.3 641,72.6 641.9,93.1 642.8,103.6 643.7,83.5 644.6,68.8 645.5,93 646.4,101.6 647.3,96.3 648.2,80.1 649.1,68.3 650,60.9 650.9,75.4 651.8,89.2 652.7,75.3 653.6,57.5 654.5,46.8 655.4,63.8 656.3,68 657.2,49.8 658.1,67.2 659,84.4 659.9,66.8 660.8,56.9 661.7,65.4 662.6,74.7 663.5,87 664.4,102.8 665.3,95 666.2,91.3 667.1,78.1 668,73.1 668.9,82.1 669.8,86.2 670.7,74.2 671.6,62.8 672.5,54.2 673.4,63.3 674.3,82.9 675.2,83.8 676.1,68.8 677,53.7" fill="none" stroke="#ffb3c0" stroke-opacity="0.55" stroke-width="0.9"/>
<path d="M282.8,158.8 283.7,157 284.6,155.2 285.5,153.3 286.4,151.4 287.3,149.5 288.2,147.6 289.1,145.6 290,143.7 290.9,141.7 291.8,139.8 292.7,137.9 293.6,136.1 294.5,134.4 295.4,132.8 296.3,131.3 297.2,129.9 298.1,128.5 299,127.3 299.9,126 300.8,124.5 301.7,123 302.6,121.4 303.5,119.6 304.4,117.7 305.3,115.6 306.2,113.3 307.1,110.8 308,108.3 308.9,105.8 309.8,103.5 310.7,101.2 311.6,99.2 312.5,97.2 313.4,95.3 314.3,93.6 315.2,91.9 316.1,90.3 317,88.8 317.9,87.2 318.8,85.5 319.7,83.7 320.6,81.8 321.5,79.8 322.4,77.7 323.3,75.6 324.2,73.5 325.1,71.6 326,69.8 326.9,68.1 327.8,66.6 328.7,65.1 329.6,63.7 330.5,62.5 331.4,61.8 332.3,61.8 333.2,62.8 334.1,65.1 335,67.9 335.9,70.1 336.8,71.7 337.7,73.1 338.6,74.4 339.5,75.7 340.4,76.9 341.3,78.3 342.2,79.6 343.1,80.9 344,82.1 344.9,83.4 345.8,84.6 346.7,85.6 347.6,86.6 348.5,87.5 349.4,88.3 350.3,88.8 351.2,89 352.1,89 353,88.9 353.9,88.7 354.8,88.5 355.7,88.3 356.6,87.9 357.5,87.6 358.4,87.3 359.3,87 360.2,86.8 361.1,86.5 362,86.1 362.9,85.9 363.8,85.7 364.7,85.3 365.6,84.7 366.5,83.9 367.4,82.9 368.3,82 369.2,81 370.1,79.9 371,78.9 371.9,77.9 372.8,77.2 373.7,76.6 374.6,76.1 375.5,75.7 376.4,75.4 377.3,75.1 378.2,74.8 379.1,74.6 380,74.6 380.9,74.7 381.8,74.9 382.7,76.1 383.6,79.1 384.5,84.6 385.4,90.1 386.3,94 387.2,96.9 388.1,99.6 389,102.4 389.9,105.4 390.8,107.1 391.7,107.7 392.6,107.7 393.5,107.2 394.4,106.3 395.3,105.4 396.2,104.5 397.1,103.7 398,103.2 398.9,103.3 399.8,104.3 400.7,105.2 401.6,105.1 402.5,104.6 403.4,103.6 404.3,102 405.2,99.1 406.1,94.8 407,89.4 407.9,84 408.8,78.6 409.7,74.3 410.6,70.9 411.5,68.6 412.4,67.5 413.3,66.9 414.2,66.9 415.1,67.6 416,69.5 416.9,72.7 417.8,76.4 418.7,78.3 419.6,79.9 420.5,83 421.4,87.6 422.3,93.3 423.2,97.3 424.1,99 425,101.8 425.9,105.1 426.8,104.9 427.7,104.2 428.6,105.8 429.5,107.3 430.4,108.6 431.3,108.1 432.2,107 433.1,106.8 434,107.6 434.9,107.6 435.8,104.3 436.7,100.2 437.6,97.9 438.5,99.8 439.4,96.9 440.3,92.8 441.2,94 442.1,98.3 443,93.8 443.9,92.9 444.8,96.2 445.7,99.3 446.6,100.9 447.5,95.5 448.4,93.7 449.3,94.5 450.2,95.2 451.1,94.1 452,89.8 452.9,85.5 453.8,81.2 454.7,86 455.6,91.2 456.5,83.7 457.4,72.7 458.3,72.9 459.2,77.8 460.1,72.5 461,68.1 461.9,70.5 462.8,86.6 463.7,90.2 464.6,86.7 465.5,82.7 466.4,83.5 467.3,90.8 468.2,97.5 469.1,100.8 470,87.4 470.9,75.2 471.8,90.5 472.7,103.7 473.6,90.4 474.5,75.5 475.4,76.7 476.3,82.2 477.2,88.4 478.1,84.4 479,69.4 479.9,70.9 480.8,75.1 481.7,80.5 482.6,81 483.5,72.9 484.4,73.5 485.3,88.2 486.2,93.5 487.1,84 488,76.2 488.9,73.4 489.8,78.4 490.7,87.3 491.6,78.8 492.5,69.6 493.4,78.6 494.3,91.7 495.2,92.7 496.1,84 497,76 497.9,74.4 498.8,97.1 499.7,98.6 500.6,84 501.5,67.5 502.4,57.5 503.3,60.6 504.2,71.7 505.1,49.5 506,40.8 506.9,44.9 507.8,51.8 508.7,64.8 509.6,61.7 510.5,64.3 511.4,74.5 512.3,88.4 513.2,95.9 514.1,91.8 515,87.6 515.9,84.7 516.8,93.8 517.7,104.1 518.6,97.8 519.5,87.6 520.4,85.4 521.3,91.9 522.2,91.3 523.1,78.7 524,74.1 524.9,77.5 525.8,82 526.7,88.4 527.6,80.5 528.5,67.2 529.4,43 530.3,38.5 531.2,46.7 532.1,72.2 533,74.7 533.9,69.7 534.8,67.1 535.7,68.9 536.6,60.1 537.5,65.3 538.4,68.8 539.3,64.7 540.2,59.2 541.1,62 542,76.5 542.9,76.8 543.8,64.9 544.7,47.2 545.6,47.6 546.5,49.3 547.4,59.3 548.3,60.6 549.2,56.4 550.1,53.4 551,68 551.9,81.7 552.8,66 553.7,59 554.6,60.8 555.5,75.3 556.4,76.3 557.3,70 558.2,69.1 559.1,71.1 560,68.8 560.9,56.4 561.8,64.7 562.7,107.7 563.6,115.6 564.5,86.1 565.4,54.7 566.3,37.5 567.2,55.3 568.1,83.4 569,87.8 569.9,66.8 570.8,44.6 571.7,40.6 572.6,55 573.5,76.3 574.4,78 575.3,69.6 576.2,52.7 577.1,44.3 578,51.6 578.9,72.1 579.8,72.3 580.7,62.1 581.6,51.9 582.5,40.5 583.4,69.7 584.3,87.2 585.2,71.3 586.1,52.2 587,55.9 587.9,62 588.8,65.6 589.7,62.6 590.6,51.5 591.5,40.2 592.4,35.2 593.3,50.3 594.2,76 595.1,78.3 596,56.1 596.9,50.1 597.8,60.1 598.7,75.1 599.6,84.5 600.5,91.1 601.4,71.5 602.3,57.3 603.2,58.7 604.1,80.9 605,99.5 605.9,90.6 606.8,60.1 607.7,74.5 608.6,111.8 609.5,123.7 610.4,112.7 611.3,89.4 612.2,64.6 613.1,72.3 614,92.6 614.9,88.8 615.8,73.4 616.7,59.5 617.6,71.4 618.5,93.2 619.4,103 620.3,87 621.2,49.5 622.1,35.9 623,44.3 623.9,59.3 624.8,72.1 625.7,66.7 626.6,70.3 627.5,66.5 628.4,72.3 629.3,85.1 630.2,93.5 631.1,93.6 632,83.3 632.9,63.6 633.8,74.7 634.7,91.1 635.6,101.4 636.5,102.1 637.4,86.3 638.3,72 639.2,76.8 640.1,80 641,76.4 641.9,77.7 642.8,89.9 643.7,87.7 644.6,94.3 645.5,98.7 646.4,80.2 647.3,67 648.2,79.1 649.1,71.6 650,67 650.9,84.1 651.8,98.1 652.7,91.3 653.6,65.8 654.5,46.6 655.4,62.2 656.3,85 657.2,89.5 658.1,79.8 659,71.2 659.9,55.5 660.8,64.5 661.7,89 662.6,93.8 663.5,69.4 664.4,63.8 665.3,83 666.2,98.1 667.1,94.8 668,68.6 668.9,65 669.8,63.5 670.7,70.2 671.6,63.8 672.5,54.8 673.4,48.6 674.3,52.7 675.2,72.2 676.1,59.4 677,47.2" fill="none" stroke="#ffb3c0" stroke-opacity="0.55" stroke-width="0.9"/>
<path d="M282.8,158.5 283.7,156.7 284.6,155 285.5,153.4 286.4,151.8 287.3,150.3 288.2,148.8 289.1,147.4 290,146.1 290.9,144.7 291.8,143.3 292.7,141.7 293.6,140.1 294.5,138.3 295.4,136.4 296.3,134.2 297.2,131.9 298.1,129.4 299,126.8 299.9,124 300.8,121 301.7,118 302.6,115.1 303.5,112.3 304.4,109.6 305.3,107.4 306.2,105.4 307.1,103.7 308,102 308.9,100.6 309.8,99.3 310.7,98.4 311.6,97.6 312.5,96.9 313.4,96.2 314.3,95.4 315.2,94.5 316.1,93.5 317,92.3 317.9,90.8 318.8,89.1 319.7,87.1 320.6,84.8 321.5,82.4 322.4,79.8 323.3,77.1 324.2,74.5 325.1,72.1 326,69.7 326.9,67.6 327.8,65.6 328.7,63.9 329.6,62.4 330.5,61.1 331.4,60.5 332.3,60.8 333.2,62 334.1,64.8 335,67.9 335.9,70.4 336.8,72.3 337.7,73.8 338.6,75.3 339.5,76.7 340.4,78.1 341.3,79.5 342.2,80.8 343.1,82.1 344,83.3 344.9,84.5 345.8,85.6 346.7,86.6 347.6,87.5 348.5,88.4 349.4,89.2 350.3,89.8 351.2,90.2 352.1,90.5 353,90.7 353.9,90.9 354.8,91.2 355.7,91.4 356.6,91.5 357.5,91.6 358.4,91.7 359.3,91.8 360.2,91.7 361.1,91.5 362,91.1 362.9,90.7 363.8,90.2 364.7,89.4 365.6,88.5 366.5,87.3 367.4,86 368.3,84.6 369.2,83.3 370.1,82.1 371,80.9 371.9,79.9 372.8,79.2 373.7,78.9 374.6,78.9 375.5,79.4 376.4,80.1 377.3,81.1 378.2,82.3 379.1,83.6 380,85.2 380.9,86.9 381.8,88.8 382.7,91.2 383.6,94.9 384.5,100 385.4,104.9 386.3,108.3 387.2,110.7 388.1,112.7 389,114.8 389.9,116.7 390.8,117.6 391.7,117.5 392.6,116.8 393.5,115.7 394.4,114.4 395.3,113 396.2,111.8 397.1,110.7 398,110.1 398.9,110 399.8,110.9 400.7,111.5 401.6,111.4 402.5,110.9 403.4,110 404.3,108.2 405.2,105.3 406.1,100.9 407,95.5 407.9,90 408.8,84.5 409.7,79.9 410.6,76.3 411.5,73.7 412.4,72.4 413.3,71.5 414.2,70.9 415.1,72 416,74.3 416.9,77.6 417.8,81 418.7,83.3 419.6,86.2 420.5,91.3 421.4,96.1 422.3,99.8 423.2,103.3 424.1,105.3 425,108.5 425.9,111.2 426.8,112.5 427.7,110.8 428.6,108.6 429.5,109.3 430.4,110.3 431.3,111 432.2,109.1 433.1,104.3 434,98.9 434.9,98.1 435.8,97.2 436.7,95 437.6,88.2 438.5,84.9 439.4,86.7 440.3,89 441.2,85.4 442.1,83.4 443,88.1 443.9,92.8 444.8,96.7 445.7,93.8 446.6,90.2 447.5,94 448.4,98.5 449.3,98.2 450.2,95.2 451.1,92.7 452,95.9 452.9,98.2 453.8,93.6 454.7,88.5 455.6,84 456.5,82.3 457.4,78.9 458.3,74.9 459.2,67.8 460.1,63.9 461,70.7 461.9,79.2 462.8,82.8 463.7,79.1 464.6,74.5 465.5,76.4 466.4,80 467.3,83.5 468.2,79.3 469.1,72.1 470,68.7 470.9,71.8 471.8,77.5 472.7,85.4 473.6,87.9 474.5,80.8 475.4,73.3 476.3,74.4 477.2,81.3 478.1,89.2 479,79.7 479.9,70.3 480.8,65.7 481.7,69.1 482.6,80.7 483.5,90.4 484.4,88 485.3,85.9 486.2,87.2 487.1,92.6 488,96.5 488.9,92.1 489.8,84.9 490.7,78.6 491.6,85.6 492.5,92.7 493.4,87.1 494.3,64.3 495.2,63.5 496.1,84.4 497,80.4 497.9,68.7 498.8,72 499.7,78.6 500.6,86.9 501.5,69.7 502.4,57.4 503.3,50.7 504.2,52.4 505.1,66.4 506,58.7 506.9,50.5 507.8,64.4 508.7,78.5 509.6,92.3 510.5,77.4 511.4,70.5 512.3,87.7 513.2,105.7 514.1,106.8 515,101.5 515.9,95.9 516.8,105.1 517.7,114 518.6,107.4 519.5,99.8 520.4,91.9 521.3,94.5 522.2,96.8 523.1,99.3 524,98.1 524.9,94.2 525.8,91.1 526.7,87.9 527.6,95.5 528.5,97.9 529.4,80.9 530.3,50.2 531.2,34.4 532.1,57.8 533,86.9 533.9,79.3 534.8,70.4 535.7,72.7 536.6,65.5 537.5,71.9 538.4,80.2 539.3,70.7 540.2,62.9 541.1,74.9 542,93.4 542.9,85.2 543.8,72 544.7,59.6 545.6,68.9 546.5,83.9 547.4,83.5 548.3,70.7 549.2,78.5 550.1,96.6 551,91 551.9,85.6 552.8,79.9 553.7,76.9 554.6,77.8 555.5,84.8 556.4,85.9 557.3,77.7 558.2,74.6 559.1,67 560,62.2 560.9,64.8 561.8,92.5 562.7,120.3 563.6,117.3 564.5,82.2 565.4,58.5 566.3,45.5 567.2,63.3 568.1,81.9 569,87.3 569.9,81.5 570.8,76.3 571.7,71.3 572.6,75.3 573.5,82.2 574.4,80.6 575.3,90.8 576.2,95.6 577.1,97.1 578,84.9 578.9,72.4 579.8,65.9 580.7,75 581.6,83.4 582.5,85.2 583.4,73.7 584.3,69.9 585.2,59.2 586.1,60.4 587,71.2 587.9,82.4 588.8,77.8 589.7,48.5 590.6,41.5 591.5,52.8 592.4,64.3 593.3,63 594.2,56.9 595.1,54.7 596,56.8 596.9,76.1 597.8,83.2 598.7,78.9 599.6,67.9 600.5,64.4 601.4,65.5 602.3,74.7 603.2,87.3 604.1,84.2 605,75.2 605.9,69.3 606.8,76 607.7,89.1 608.6,106.5 609.5,104.2 610.4,94.4 611.3,96.2 612.2,97.9 613.1,81.1 614,74.8 614.9,75 615.8,69.7 616.7,77 617.6,91.3 618.5,96.6 619.4,89.1 620.3,70.3 621.2,54.4 622.1,59.8 623,59.5 623.9,57.3 624.8,53.5 625.7,49.5 626.6,61 627.5,65.7 628.4,68.3 629.3,67 630.2,58.7 631.1,55.4 632,57.9 632.9,65.9 633.8,66.1 634.7,66 635.6,71.8 636.5,100 637.4,109.5 638.3,78.5 639.2,55.9 640.1,72.8 641,95.9 641.9,94.1 642.8,88 643.7,86.9 644.6,102.1 645.5,105 646.4,98.3 647.3,73.1 648.2,70.6 649.1,80.9 650,91.6 650.9,91.6 651.8,80.5 652.7,68.7 653.6,64.4 654.5,54.4 655.4,65.3 656.3,58.8 657.2,49.7 658.1,72.5 659,85 659.9,65.9 660.8,58.2 661.7,78.1 662.6,87.1 663.5,97.6 664.4,90.6 665.3,88.8 666.2,88.7 667.1,84 668,78.6 668.9,85.4 669.8,73 670.7,59 671.6,57.1 672.5,63.4 673.4,71 674.3,84.2 675.2,84.9 676.1,73.7 677,63.4" fill="none" stroke="#ffb3c0" stroke-opacity="0.55" stroke-width="0.9"/>
<path d="M282.8,158.7 283.7,157.1 284.6,155.6 285.5,154.3 286.4,153 287.3,151.9 288.2,150.8 289.1,149.8 290,148.8 290.9,147.6 291.8,146.4 292.7,144.9 293.6,143.3 294.5,141.4 295.4,139.3 296.3,137 297.2,134.4 298.1,131.7 299,128.8 299.9,125.8 300.8,122.7 301.7,119.7 302.6,116.8 303.5,114.2 304.4,111.9 305.3,109.9 306.2,108.2 307.1,106.7 308,105.5 308.9,104.5 309.8,103.6 310.7,103 311.6,102.4 312.5,101.7 313.4,101 314.3,100.2 315.2,99.1 316.1,97.8 317,96.3 317.9,94.5 318.8,92.4 319.7,90 320.6,87.5 321.5,84.7 322.4,81.8 323.3,78.9 324.2,76.1 325.1,73.4 326,70.9 326.9,68.7 327.8,66.8 328.7,65.1 329.6,63.7 330.5,62.7 331.4,62.5 332.3,63.2 333.2,64.8 334.1,67.8 335,71 335.9,73.6 336.8,75.6 337.7,77.4 338.6,79 339.5,80.6 340.4,82.2 341.3,83.7 342.2,85.1 343.1,86.4 344,87.6 344.9,88.6 345.8,89.5 346.7,90.2 347.6,90.7 348.5,91 349.4,91.1 350.3,91 351.2,90.7 352.1,90.2 353,89.7 353.9,89.2 354.8,88.9 355.7,88.6 356.6,88.5 357.5,88.6 358.4,88.9 359.3,89.3 360.2,89.9 361.1,90.4 362,90.9 362.9,91.4 363.8,91.9 364.7,92.2 365.6,92.3 366.5,92.1 367.4,91.7 368.3,91.1 369.2,90.3 370.1,89.3 371,88 371.9,86.5 372.8,85 373.7,83.5 374.6,82 375.5,80.6 376.4,79.4 377.3,78.3 378.2,77.5 379.1,77.1 380,77.3 380.9,78 381.8,79.4 382.7,82.1 383.6,86.8 384.5,93.7 385.4,100.6 386.3,106 387.2,110.4 388.1,114.3 389,118.2 389.9,121.6 390.8,123.8 391.7,124.8 392.6,124.8 393.5,124.1 394.4,122.8 395.3,121 396.2,118.9 397.1,116.7 398,114.6 398.9,112.8 399.8,111.9 400.7,111.1 401.6,109.6 402.5,108 403.4,106.2 404.3,104 405.2,100.9 406.1,96.7 407,91.8 407.9,87 408.8,82.6 409.7,79.3 410.6,76.9 411.5,75.2 412.4,74.5 413.3,74.5 414.2,74.9 415.1,75.6 416,76.7 416.9,78.7 417.8,81.3 418.7,83.8 419.6,86 420.5,87.6 421.4,89.6 422.3,92.5 423.2,96.3 424.1,99.4 425,101.8 425.9,102.9 426.8,101.8 427.7,100.6 428.6,102 429.5,105.1 430.4,107.1 431.3,106 432.2,104.4 433.1,104.8 434,107.7 434.9,110.9 435.8,108.6 436.7,103.7 437.6,101.7 438.5,104.6 439.4,106.5 440.3,103.1 441.2,99 442.1,99.3 443,104 443.9,105.8 444.8,101.9 445.7,97.9 446.6,98.8 447.5,100.3 448.4,101.7 449.3,99.9 450.2,94.2 451.1,88.3 452,89.1 452.9,91.1 453.8,93.8 454.7,94 455.6,90.3 456.5,85.1 457.4,77.5 458.3,75.7 459.2,78.3 460.1,84.3 461,85.1 461.9,81.8 462.8,89.7 463.7,99.8 464.6,102.7 465.5,100.3 466.4,97.3 467.3,93.9 468.2,96.1 469.1,97.7 470,99.7 470.9,95.2 471.8,87.1 472.7,88.8 473.6,95.9 474.5,94.3 475.4,77.4 476.3,71.2 477.2,76.5 478.1,83.3 479,77.9 479.9,70.8 480.8,66.4 481.7,68.1 482.6,80.8 483.5,94.3 484.4,104 485.3,101.1 486.2,97.9 487.1,93.5 488,97.5 488.9,104.4 489.8,111.5 490.7,110.1 491.6,98.2 492.5,86.4 493.4,89.5 494.3,93 495.2,96.1 496.1,87.3 497,82.6 497.9,91.6 498.8,93.5 499.7,83.6 500.6,74.5 501.5,76.8 502.4,81.5 503.3,89.6 504.2,72.7 505.1,53.1 506,54.2 506.9,67 507.8,81.8 508.7,88 509.6,80.4 510.5,84.2 511.4,96 512.3,105.3 513.2,106.5 514.1,103.1 515,99.3 515.9,97.8 516.8,107.5 517.7,114.7 518.6,102.6 519.5,90.1 520.4,96.7 521.3,108.4 522.2,102 523.1,89.9 524,91.5 524.9,96.8 525.8,95.1 526.7,86.5 527.6,82.4 528.5,83.2 529.4,59 530.3,42.8 531.2,34.5 532.1,43.8 533,69.7 533.9,89.1 534.8,92.6 535.7,83.7 536.6,60 537.5,68.4 538.4,90.2 539.3,103.7 540.2,95.5 541.1,77.8 542,81.9 542.9,91 543.8,97.1 544.7,79.4 545.6,63.4 546.5,51.4 547.4,64.4 548.3,79.9 549.2,79.3 550.1,69.2 551,66.1 551.9,74.1 552.8,86.4 553.7,89.9 554.6,77.2 555.5,68.9 556.4,67.2 557.3,77 558.2,88.1 559.1,84.9 560,64.9 560.9,66.6 561.8,99.7 562.7,123.4 563.6,119.6 564.5,84.2 565.4,77.5 566.3,78.9 567.2,96.8 568.1,93.6 569,94.1 569.9,91.2 570.8,86.4 571.7,84.7 572.6,79.1 573.5,79.1 574.4,65.9 575.3,72.3 576.2,78.3 577.1,71.2 578,63.5 578.9,57.6 579.8,73.8 580.7,79.9 581.6,75.8 582.5,53.9 583.4,43.5 584.3,51.4 585.2,64.9 586.1,78.5 587,86.1 587.9,57.3 588.8,58.2 589.7,89.6 590.6,77 591.5,62.4 592.4,68.3 593.3,81.3 594.2,98.7 595.1,82.7 596,51.3 596.9,48.5 597.8,71.3 598.7,87.2 599.6,94.6 600.5,87.9 601.4,73 602.3,63.7 603.2,71.1 604.1,85.4 605,92.9 605.9,84.4 606.8,63.9 607.7,71.9 608.6,111.6 609.5,124.7 610.4,120.8 611.3,96.1 612.2,74.1 613.1,74.7 614,94.5 614.9,115 615.8,92 616.7,74.7 617.6,100.9 618.5,113.2 619.4,102.6 620.3,82.6 621.2,68.6 622.1,74.4 623,79.6 623.9,73.8 624.8,66.3 625.7,73 626.6,90.5 627.5,94.4 628.4,89.1 629.3,85.9 630.2,76 631.1,68 632,73.5 632.9,75.7 633.8,92.4 634.7,91.4 635.6,77.2 636.5,92.2 637.4,107.3 638.3,89.1 639.2,72.2 640.1,75.9 641,95.5 641.9,102.6 642.8,98.1 643.7,75.8 644.6,63.2 645.5,90.7 646.4,102 647.3,97.3 648.2,77.8 649.1,68.2 650,61.7 650.9,73.2 651.8,89.8 652.7,100.8 653.6,84.9 654.5,56.5 655.4,46.7 656.3,54.6 657.2,76.7 658.1,98.3 659,88 659.9,68.2 660.8,71.3 661.7,106.3 662.6,105.9 663.5,87.2 664.4,89 665.3,108 666.2,120.7 667.1,115.3 668,98.5 668.9,84.4 669.8,80.2 670.7,85.3 671.6,96.6 672.5,91.1 673.4,72.4 674.3,58.6 675.2,55.7 676.1,67.7 677,81.5" fill="none" stroke="#ffb3c0" stroke-opacity="0.55" stroke-width="0.9"/>
<path d="M282.8,158.7 283.7,157.2 284.6,155.9 285.5,154.6 286.4,153.4 287.3,152.4 288.2,151.4 289.1,150.4 290,149.5 290.9,148.6 291.8,147.7 292.7,146.7 293.6,145.7 294.5,144.5 295.4,143.3 296.3,142.1 297.2,140.7 298.1,139.3 299,137.8 299.9,136.3 300.8,134.2 301.7,132.2 302.6,130.1 303.5,128 304.4,125.9 305.3,123.7 306.2,121.4 307.1,118.8 308,116.1 308.9,113.6 309.8,111.4 310.7,109.3 311.6,107.3 312.5,105.4 313.4,103.4 314.3,101.4 315.2,99.3 316.1,97.1 317,94.9 317.9,92.6 318.8,90.2 319.7,87.6 320.6,84.9 321.5,82.2 322.4,79.3 323.3,76.5 324.2,73.8 325.1,71.4 326,69.1 326.9,67.2 327.8,65.5 328.7,64.1 329.6,62.9 330.5,62 331.4,62 332.3,62.7 333.2,64.4 334.1,67.3 335,70.6 335.9,73.2 336.8,75.3 337.7,77.1 338.6,78.8 339.5,80.5 340.4,82.2 341.3,83.8 342.2,85.4 343.1,87 344,88.4 344.9,89.8 345.8,91.1 346.7,92.2 347.6,93.2 348.5,94.1 349.4,94.7 350.3,95 351.2,95.2 352.1,95.1 353,95 353.9,94.8 354.8,94.6 355.7,94.4 356.6,94.2 357.5,94.1 358.4,94 359.3,93.9 360.2,93.9 361.1,93.8 362,93.6 362.9,93.5 363.8,93.3 364.7,93 365.6,92.6 366.5,91.9 367.4,91 368.3,90.1 369.2,89 370.1,87.8 371,86.4 371.9,85 372.8,83.5 373.7,82.2 374.6,80.9 375.5,79.8 376.4,78.7 377.3,77.9 378.2,77.2 379.1,76.8 380,76.9 380.9,77.4 381.8,78.5 382.7,80.7 383.6,85 384.5,91.6 385.4,98.2 386.3,103.4 387.2,107.7 388.1,111.7 389,115.8 389.9,119.7 390.8,122.5 391.7,124.2 392.6,125.3 393.5,125.7 394.4,125.8 395.3,125.7 396.2,125.3 397.1,124.8 398,124.3 398.9,124 399.8,124.2 400.7,124.1 401.6,123.3 402.5,122.1 403.4,120.5 404.3,118.2 405.2,114.8 406.1,110.2 407,104.6 407.9,99 408.8,93.4 409.7,88.7 410.6,84.6 411.5,81.5 412.4,79.3 413.3,77.1 414.2,75.9 415.1,76.8 416,77.8 416.9,79 417.8,80.5 418.7,81.9 419.6,84.8 420.5,88 421.4,91 422.3,93.7 423.2,97.7 424.1,101.3 425,104 425.9,105.9 426.8,105 427.7,104.4 428.6,106.7 429.5,109.2 430.4,109.3 431.3,108.8 432.2,107.7 433.1,107.8 434,110.3 434.9,109.8 435.8,106.4 436.7,102.1 437.6,102.2 438.5,103.3 439.4,105.2 440.3,101.7 441.2,97.6 442.1,96.5 443,103.1 443.9,108.5 444.8,105.2 445.7,99.1 446.6,104.4 447.5,110.4 448.4,106.7 449.3,102.7 450.2,102.5 451.1,105.7 452,108.3 452.9,104.3 453.8,100.1 454.7,95.6 455.6,95.9 456.5,95.6 457.4,93.8 458.3,86.8 459.2,81.7 460.1,87.7 461,95.8 461.9,87.9 462.8,84.8 463.7,91.3 464.6,97.2 465.5,102.9 466.4,97.9 467.3,91.8 468.2,84.6 469.1,85.2 470,90.8 470.9,98 471.8,95.8 472.7,91.5 473.6,85.2 474.5,83.2 475.4,91.6 476.3,95.2 477.2,80 478.1,75.7 479,82.2 479.9,85.2 480.8,81.5 481.7,78.8 482.6,76.8 483.5,84 484.4,92.5 485.3,98.6 486.2,92.1 487.1,84.6 488,85.8 488.9,96 489.8,101.2 490.7,92.2 491.6,82.8 492.5,75.3 493.4,95.2 494.3,106.5 495.2,97.7 496.1,89.9 497,104.9 497.9,121.3 498.8,111.3 499.7,96 500.6,94.2 501.5,102.9 502.4,89.4 503.3,68.2 504.2,76.8 505.1,90.4 506,105.2 506.9,94.3 507.8,80 508.7,67.3 509.6,65.1 510.5,83.7 511.4,98.8 512.3,97.4 513.2,95.5 514.1,93.3 515,101.5 515.9,112.1 516.8,121.6 517.7,110.5 518.6,99.3 519.5,100.6 520.4,107.9 521.3,114.7 522.2,106.8 523.1,92.6 524,95.3 524.9,103.6 525.8,112.2 526.7,103.8 527.6,88.1 528.5,73 529.4,66.4 530.3,80.2 531.2,66.9 532.1,58.8 533,73.4 533.9,84.6 534.8,95 535.7,96.2 536.6,72.5 537.5,60.9 538.4,63.9 539.3,77.8 540.2,87 541.1,84.8 542,76.3 542.9,75.1 543.8,85 544.7,85.6 545.6,85 546.5,75.4 547.4,69.7 548.3,80.2 549.2,97.7 550.1,83.5 551,70.3 551.9,83 552.8,99.6 553.7,101.1 554.6,77.7 555.5,74.8 556.4,85.9 557.3,91.7 558.2,91.9 559.1,72.8 560,63.6 560.9,76 561.8,101.2 562.7,122.2 563.6,118.8 564.5,84.1 565.4,66.7 566.3,57.7 567.2,74.2 568.1,88.5 569,93.7 569.9,84.4 570.8,83.2 571.7,83.8 572.6,79.7 573.5,80.4 574.4,83.8 575.3,95.2 576.2,101.6 577.1,97.1 578,86.1 578.9,75.3 579.8,84 580.7,97.5 581.6,102.5 582.5,77.7 583.4,62.1 584.3,55 585.2,66.8 586.1,79.4 587,70.2 587.9,40.5 588.8,51.5 589.7,84.2 590.6,70.5 591.5,51.8 592.4,60.1 593.3,73.1 594.2,76.7 595.1,72.3 596,54.5 596.9,80.7 597.8,107.5 598.7,104.7 599.6,95.3 600.5,86.9 601.4,83.2 602.3,93.1 603.2,107.5 604.1,114.9 605,101.9 605.9,84.8 606.8,82.1 607.7,100.3 608.6,127.1 609.5,126.2 610.4,105.1 611.3,88.3 612.2,85.5 613.1,85.1 614,93.8 614.9,88.9 615.8,76.2 616.7,87.4 617.6,105.3 618.5,121.2 619.4,105.5 620.3,80.6 621.2,70.6 622.1,76.8 623,83.5 623.9,73.6 624.8,61.9 625.7,78.3 626.6,108 627.5,112.1 628.4,88.7 629.3,87.6 630.2,95 631.1,98 632,90.6 632.9,79.3 633.8,90.2 634.7,98.2 635.6,99.2 636.5,98.1 637.4,90.9 638.3,82.6 639.2,85.9 640.1,89.5 641,74.5 641.9,74.3 642.8,103.5 643.7,111.3 644.6,99.3 645.5,99.7 646.4,97.2 647.3,89.8 648.2,92.9 649.1,93.7 650,87.3 650.9,81.9 651.8,94.5 652.7,103.7 653.6,106.4 654.5,87.8 655.4,78.4 656.3,73.7 657.2,75.8 658.1,98.4 659,93.8 659.9,64.5 660.8,62.9 661.7,87 662.6,90.2 663.5,78.4 664.4,84.1 665.3,99.5 666.2,110.3 667.1,104.4 668,90.8 668.9,83.5 669.8,76.4 670.7,89.1 671.6,107.1 672.5,90.8 673.4,71.9 674.3,72.9 675.2,87.8 676.1,95.3 677,85.2" fill="none" stroke="#ffb3c0" stroke-opacity="0.55" stroke-width="0.9"/>
<path d="M282.8,160 283.7,158.5 284.6,156.9 285.5,155.3 286.4,153.6 287.3,151.8 288.2,150 289.1,148.2 290,146.4 290.9,144.6 291.8,142.8 292.7,141 293.6,139.3 294.5,137.6 295.4,136 296.3,134.4 297.2,133 298.1,131.7 299,130.5 299.9,129.3 300.8,127.9 301.7,126.4 302.6,125 303.5,123.5 304.4,121.9 305.3,120.1 306.2,118.2 307.1,115.9 308,113.4 308.9,111.1 309.8,108.9 310.7,106.8 311.6,104.8 312.5,102.8 313.4,100.8 314.3,98.9 315.2,96.9 316.1,94.9 317,92.9 317.9,90.9 318.8,88.8 319.7,86.6 320.6,84.3 321.5,81.9 322.4,79.5 323.3,77.2 324.2,74.9 325.1,73 326,71.1 326.9,69.6 327.8,68.2 328.7,67 329.6,66 330.5,65.2 331.4,65.1 332.3,65.7 333.2,67 334.1,69.5 335,72.1 335.9,74.3 336.8,76 337.7,77.4 338.6,78.8 339.5,80.2 340.4,81.5 341.3,82.9 342.2,84.2 343.1,85.5 344,86.7 344.9,87.8 345.8,88.9 346.7,89.9 347.6,90.8 348.5,91.6 349.4,92.2 350.3,92.6 351.2,92.9 352.1,93 353,93.1 353.9,93.2 354.8,93.3 355.7,93.5 356.6,93.7 357.5,94.1 358.4,94.5 359.3,94.9 360.2,95.3 361.1,95.7 362,96.1 362.9,96.5 363.8,96.9 364.7,97.2 365.6,97.4 366.5,97.5 367.4,97.5 368.3,97.4 369.2,97.3 370.1,97.1 371,96.9 371.9,96.5 372.8,96.3 373.7,96 374.6,95.9 375.5,96.1 376.4,96.2 377.3,96 378.2,95.9 379.1,95.8 380,96.1 380.9,96.7 381.8,97.6 382.7,99.3 383.6,102.4 384.5,107.1 385.4,111.8 386.3,115.6 387.2,118.7 388.1,121.6 389,124.6 389.9,127.5 390.8,129.5 391.7,130.6 392.6,131.2 393.5,131.3 394.4,131.2 395.3,130.8 396.2,130.4 397.1,129.9 398,129.4 398.9,129.1 399.8,129.2 400.7,129.1 401.6,128.3 402.5,127.1 403.4,125.4 404.3,123 405.2,119.5 406.1,114.7 407,108.9 407.9,103 408.8,97.3 409.7,92.2 410.6,87.9 411.5,84.4 412.4,82.1 413.3,80 414.2,78.5 415.1,78.7 416,79.9 416.9,82.2 417.8,84.9 418.7,87.4 419.6,89.9 420.5,92.6 421.4,97.3 422.3,102.9 423.2,108.7 424.1,112.3 425,113.9 425.9,114.7 426.8,115.3 427.7,119 428.6,122.8 429.5,122.9 430.4,121.8 431.3,120 432.2,120.2 433.1,120 434,119.5 434.9,116.7 435.8,110.6 436.7,104.4 437.6,106.1 438.5,106.4 439.4,99.9 440.3,93.3 441.2,92.5 442.1,93.4 443,96.4 443.9,94.6 444.8,93.9 445.7,98.8 446.6,99 447.5,95.8 448.4,92.5 449.3,93.3 450.2,96.1 451.1,97.5 452,93.1 452.9,91 453.8,96.1 454.7,98.4 455.6,93.8 456.5,87.2 457.4,85.6 458.3,85.4 459.2,88.5 460.1,86.6 461,78.4 461.9,84.7 462.8,95.3 463.7,104.8 464.6,100.2 465.5,86.9 466.4,93.5 467.3,102.7 468.2,101.9 469.1,95 470,88.4 470.9,92.6 471.8,100 472.7,106.5 473.6,101.6 474.5,91.7 475.4,81.1 476.3,90.5 477.2,106.2 478.1,91.4 479,86.1 479.9,92.7 480.8,100.3 481.7,101.5 482.6,98.4 483.5,95.2 484.4,98.2 485.3,116.1 486.2,118.1 487.1,107.8 488,95.9 488.9,90.2 489.8,98.6 490.7,107.5 491.6,117.1 492.5,107.1 493.4,94.6 494.3,81.9 495.2,86.6 496.1,97.1 497,99.8 497.9,94.2 498.8,89.5 499.7,88.8 500.6,94.1 501.5,97.7 502.4,96.6 503.3,79.2 504.2,62.4 505.1,72.4 506,88.8 506.9,99.9 507.8,88.5 508.7,78.6 509.6,90.7 510.5,106.3 511.4,106.8 512.3,100.9 513.2,105.8 514.1,115.2 515,116 515.9,109.6 516.8,103 517.7,112.7 518.6,126.8 519.5,129.8 520.4,116.8 521.3,103.2 522.2,94.3 523.1,101.8 524,109.6 524.9,110.2 525.8,98.4 526.7,95.6 527.6,100.2 528.5,99.6 529.4,76.7 530.3,43 531.2,49.1 532.1,76.5 533,102.8 533.9,102.5 534.8,87.1 535.7,70.2 536.6,58.9 537.5,69.3 538.4,91.7 539.3,91.1 540.2,77.4 541.1,63.3 542,73.2 542.9,90.7 543.8,105.6 544.7,90.7 545.6,72.5 546.5,82.8 547.4,96.4 548.3,107.6 549.2,95.4 550.1,81.7 551,76.8 551.9,93 552.8,98.7 553.7,89.3 554.6,73.5 555.5,76.2 556.4,85 557.3,88.9 558.2,87 559.1,75 560,54.5 560.9,47.4 561.8,81.3 562.7,119.9 563.6,115.5 564.5,87.1 565.4,87.2 566.3,77 567.2,65 568.1,80.4 569,101 569.9,104.6 570.8,79.1 571.7,58.9 572.6,68.5 573.5,92.5 574.4,98.3 575.3,90.6 576.2,71.3 577.1,74.5 578,100.7 578.9,105.5 579.8,92.4 580.7,72.9 581.6,88.4 582.5,110.7 583.4,67.6 584.3,67.6 585.2,97.3 586.1,107.4 587,88.2 587.9,68.8 588.8,77.3 589.7,101.3 590.6,86.4 591.5,60.4 592.4,41.6 593.3,62.4 594.2,84.4 595.1,75.5 596,53 596.9,78 597.8,103.7 598.7,109.4 599.6,96.8 600.5,92.5 601.4,96.6 602.3,106.4 603.2,104 604.1,101.9 605,96.8 605.9,105.8 606.8,125.6 607.7,125.7 608.6,121.1 609.5,126.9 610.4,131.8 611.3,133.8 612.2,104.2 613.1,78.6 614,100.9 614.9,128.8 615.8,119.7 616.7,99.7 617.6,105.1 618.5,120.6 619.4,126.5 620.3,112.4 621.2,74.1 622.1,61.8 623,87 623.9,90 624.8,79.9 625.7,73 626.6,99.6 627.5,109.1 628.4,109.5 629.3,103.5 630.2,92.6 631.1,94.3 632,101 632.9,105 633.8,112.1 634.7,99 635.6,91.5 636.5,106.2 637.4,124.5 638.3,113.3 639.2,92.5 640.1,91 641,99.1 641.9,108.9 642.8,120.5 643.7,109.8 644.6,100.2 645.5,112.4 646.4,113.8 647.3,96.7 648.2,84.1 649.1,81.2 650,97.7 650.9,114.9 651.8,106.9 652.7,93.8 653.6,78.7 654.5,82.5 655.4,103.3 656.3,88.9 657.2,58.1 658.1,64.4 659,86.2 659.9,88 660.8,82.9 661.7,89.5 662.6,88.9 663.5,95.3 664.4,102.8 665.3,101 666.2,98.9 667.1,94.6 668,95.3 668.9,105.7 669.8,103.8 670.7,90.9 671.6,83.3 672.5,76 673.4,83.2 674.3,95.6 675.2,90.3 676.1,65.5 677,55.1" fill="none" stroke="#ffb3c0" stroke-opacity="0.55" stroke-width="0.9"/>
<path d="M282.8,160.4 283.7,159.1 284.6,157.9 285.5,156.6 286.4,155.3 287.3,154 288.2,152.7 289.1,151.4 290,150.1 290.9,148.8 291.8,147.4 292.7,146.1 293.6,144.7 294.5,143.4 295.4,142 296.3,140.7 297.2,139.4 298.1,138.1 299,136.9 299.9,135.6 300.8,133.9 301.7,132.1 302.6,130.4 303.5,128.6 304.4,126.7 305.3,124.8 306.2,122.5 307.1,120 308,117.4 308.9,114.9 309.8,112.8 310.7,110.7 311.6,108.8 312.5,106.9 313.4,105.1 314.3,103.2 315.2,101.4 316.1,99.5 317,97.5 317.9,95.5 318.8,93.4 319.7,91.2 320.6,88.8 321.5,86.4 322.4,84 323.3,81.6 324.2,79.4 325.1,77.3 326,75.3 326.9,73.6 327.8,72.1 328.7,70.7 329.6,69.4 330.5,68.5 331.4,68.1 332.3,68.5 333.2,69.6 334.1,71.7 335,74 335.9,76 336.8,77.5 337.7,78.9 338.6,80.3 339.5,81.8 340.4,83.2 341.3,84.7 342.2,86.2 343.1,87.7 344,89.1 344.9,90.5 345.8,91.8 346.7,93.1 347.6,94.3 348.5,95.3 349.4,96.1 350.3,96.7 351.2,97.1 352.1,97.3 353,97.5 353.9,97.6 354.8,97.7 355.7,97.7 356.6,97.7 357.5,97.7 358.4,97.7 359.3,97.7 360.2,97.6 361.1,97.5 362,97.3 362.9,97.1 363.8,96.9 364.7,96.6 365.6,96.3 366.5,95.8 367.4,95.2 368.3,94.5 369.2,93.8 370.1,93 371,92.1 371.9,91.2 372.8,90.4 373.7,89.7 374.6,89.1 375.5,88.8 376.4,88.4 377.3,88 378.2,87.5 379.1,87.2 380,87.2 380.9,87.5 381.8,88.1 382.7,89.5 383.6,92.6 384.5,97.6 385.4,102.6 386.3,106.5 387.2,109.5 388.1,112.4 389,115.3 389.9,118.3 390.8,120.3 391.7,121.4 392.6,121.9 393.5,122 394.4,121.9 395.3,121.8 396.2,121.7 397.1,121.8 398,122.1 398.9,122.8 399.8,124.1 400.7,125.3 401.6,125.8 402.5,125.9 403.4,125.6 404.3,124.6 405.2,122.6 406.1,119.2 407,115 407.9,110.7 408.8,106.4 409.7,102.7 410.6,99.4 411.5,96.4 412.4,93.7 413.3,91.7 414.2,90.3 415.1,89.9 416,89.9 416.9,91.2 417.8,93.7 418.7,96.7 419.6,98.6 420.5,100.4 421.4,103.7 422.3,109.8 423.2,113.5 424.1,114.7 425,116.6 425.9,120.3 426.8,121.3 427.7,120.9 428.6,121 429.5,123.5 430.4,125.8 431.3,124.9 432.2,121.9 433.1,119.8 434,119.8 434.9,119.8 435.8,115.4 436.7,109.7 437.6,103.5 438.5,104 439.4,105.4 440.3,102.6 441.2,97.8 442.1,94.8 443,102.2 443.9,104.9 444.8,101 445.7,97.2 446.6,96 447.5,99.4 448.4,102.8 449.3,103.9 450.2,100.9 451.1,97.6 452,97.5 452.9,99.9 453.8,102.1 454.7,99.9 455.6,97.1 456.5,96.7 457.4,96.2 458.3,93 459.2,88.1 460.1,91.3 461,103.3 461.9,108.7 462.8,100.4 463.7,99.8 464.6,103.7 465.5,107.4 466.4,105.7 467.3,100.1 468.2,101.6 469.1,105.9 470,111 470.9,106.1 471.8,101.5 472.7,98.9 473.6,105.1 474.5,110.9 475.4,104.4 476.3,94.4 477.2,97.2 478.1,103.5 479,97.9 479.9,88.7 480.8,86.2 481.7,95.8 482.6,105.7 483.5,115.5 484.4,111.4 485.3,107.2 486.2,105.3 487.1,113.8 488,114 488.9,103.6 489.8,93.4 490.7,96.8 491.6,100.7 492.5,104.8 493.4,102.7 494.3,98.2 495.2,95.5 496.1,110.4 497,113.7 497.9,94.7 498.8,101 499.7,114.3 500.6,115 501.5,103.8 502.4,90.6 503.3,98.8 504.2,116.5 505.1,98.8 506,76.1 506.9,78 507.8,98.1 508.7,118 509.6,102.5 510.5,85.2 511.4,95.3 512.3,108.7 513.2,120.1 514.1,116 515,111.6 515.9,107.8 516.8,115.7 517.7,123 518.6,118.6 519.5,104.9 520.4,99.8 521.3,111.5 522.2,118.7 523.1,109.9 524,101.1 524.9,93.7 525.8,101.9 526.7,109.7 527.6,113.6 528.5,99.8 529.4,71.5 530.3,67.1 531.2,75.1 532.1,92.3 533,100.8 533.9,91.6 534.8,83.6 535.7,85.7 536.6,78.5 537.5,81.7 538.4,84.7 539.3,84.1 540.2,90.1 541.1,96.4 542,103.9 542.9,101.2 543.8,94.9 544.7,76.6 545.6,69 546.5,77.2 547.4,89.2 548.3,98.4 549.2,89.2 550.1,78.6 551,74.1 551.9,89.7 552.8,110.1 553.7,114.4 554.6,102.9 555.5,94.5 556.4,102.3 557.3,109.1 558.2,113.3 559.1,105.4 560,89 560.9,70.9 561.8,100.5 562.7,131.1 563.6,124.6 564.5,100.7 565.4,101.8 566.3,110.2 567.2,100.5 568.1,101.2 569,102.2 569.9,100.4 570.8,103.4 571.7,102 572.6,89.3 573.5,102.7 574.4,110.5 575.3,105.6 576.2,77 577.1,73.7 578,92 578.9,109.1 579.8,98.4 580.7,82.8 581.6,65.2 582.5,73.2 583.4,91 584.3,96.8 585.2,82.2 586.1,64.7 587,52.6 587.9,67.7 588.8,81.4 589.7,102.2 590.6,77.2 591.5,40.5 592.4,45 593.3,63.4 594.2,91.1 595.1,95.5 596,65 596.9,72.2 597.8,94.7 598.7,108.3 599.6,108.2 600.5,86.1 601.4,73.3 602.3,83.4 603.2,98.9 604.1,94.6 605,86.2 605.9,92.8 606.8,105.9 607.7,122.5 608.6,132.3 609.5,129.4 610.4,111.7 611.3,97.1 612.2,94.7 613.1,95.6 614,102.7 614.9,107.2 615.8,100.9 616.7,107.9 617.6,121.9 618.5,114.6 619.4,98.3 620.3,101.8 621.2,104.7 622.1,107.6 623,90.9 623.9,78.1 624.8,88.5 625.7,106.8 626.6,129.5 627.5,120.6 628.4,102.9 629.3,100.2 630.2,108.8 631.1,121.3 632,116.1 632.9,94.8 633.8,102.3 634.7,115.9 635.6,109.9 636.5,104 637.4,120.8 638.3,114.7 639.2,95 640.1,91.4 641,95.6 641.9,110.6 642.8,124.5 643.7,105.4 644.6,96.8 645.5,114.1 646.4,118.8 647.3,94.8 648.2,81.3 649.1,92.8 650,105.5 650.9,111.5 651.8,97.4 652.7,82 653.6,81.7 654.5,90 655.4,105 656.3,94.8 657.2,75.8 658.1,74.8 659,93.8 659.9,98.5 660.8,108 661.7,106.6 662.6,99.5 663.5,123.7 664.4,121.4 665.3,106.3 666.2,102.5 667.1,106.6 668,108.3 668.9,100.7 669.8,79.5 670.7,65.9 671.6,90 672.5,109.7 673.4,92.3 674.3,79.5 675.2,90.9 676.1,95.5 677,104.8" fill="none" stroke="#ffb3c0" stroke-opacity="0.55" stroke-width="0.9"/>
<path d="M282.8,160.7 283.7,159.5 284.6,158.1 285.5,156.7 286.4,155.3 287.3,153.8 288.2,152.3 289.1,150.9 290,149.6 290.9,148.3 291.8,147.1 292.7,146 293.6,145 294.5,144.1 295.4,143.3 296.3,142.6 297.2,142 298.1,141.3 299,140.6 299.9,139.8 300.8,138.3 301.7,136.6 302.6,134.7 303.5,132.7 304.4,130.4 305.3,127.9 306.2,125 307.1,121.9 308,118.6 308.9,115.7 309.8,113.2 310.7,110.9 311.6,108.9 312.5,107.1 313.4,105.5 314.3,103.9 315.2,102.4 316.1,100.9 317,99.4 317.9,97.8 318.8,96.1 319.7,94.2 320.6,92.3 321.5,90.2 322.4,88 323.3,85.9 324.2,83.7 325.1,81.7 326,79.7 326.9,77.8 327.8,76 328.7,74.3 329.6,72.8 330.5,71.5 331.4,70.8 332.3,70.8 333.2,71.6 334.1,73.3 335,75.4 335.9,77.2 336.8,78.7 337.7,80.1 338.6,81.6 339.5,83.1 340.4,84.7 341.3,86.3 342.2,87.9 343.1,89.5 344,91 344.9,92.5 345.8,93.9 346.7,95.1 347.6,96.2 348.5,97.1 349.4,97.7 350.3,98 351.2,98.1 352.1,98 353,97.8 353.9,97.6 354.8,97.3 355.7,97.1 356.6,96.8 357.5,96.6 358.4,96.6 359.3,96.6 360.2,96.6 361.1,96.7 362,96.8 362.9,96.9 363.8,97.1 364.7,97.2 365.6,97.3 366.5,97.2 367.4,97 368.3,96.6 369.2,96.2 370.1,95.5 371,94.7 371.9,93.8 372.8,92.8 373.7,91.7 374.6,90.8 375.5,90 376.4,89.1 377.3,88.2 378.2,87.5 379.1,86.9 380,86.9 380.9,87.3 381.8,88.3 382.7,90.3 383.6,94.2 384.5,99.9 385.4,105.8 386.3,110.4 387.2,114.2 388.1,117.7 389,121.2 389.9,124.5 390.8,126.6 391.7,127.7 392.6,128.2 393.5,128 394.4,127.5 395.3,126.7 396.2,125.8 397.1,125 398,124.3 398.9,124 399.8,124.4 400.7,124.8 401.6,124.8 402.5,124.7 403.4,124.3 404.3,123.4 405.2,121.7 406.1,118.9 407,115.5 407.9,112.1 408.8,109 409.7,106.4 410.6,104.1 411.5,102.3 412.4,100.7 413.3,98.7 414.2,97.1 415.1,96.4 416,96.4 416.9,97.1 417.8,98.5 418.7,101.3 419.6,104.7 420.5,107 421.4,109 422.3,111.5 423.2,115.4 424.1,118.8 425,120.8 425.9,121.4 426.8,121.9 427.7,125.2 428.6,128.6 429.5,131.8 430.4,131.4 431.3,130.3 432.2,129.7 433.1,131.2 434,130.8 434.9,127.9 435.8,124.2 436.7,120.8 437.6,120.4 438.5,120.3 439.4,119.7 440.3,113.7 441.2,107.3 442.1,101.7 443,103.9 443.9,105.9 444.8,107.7 445.7,106 446.6,98.5 447.5,96.9 448.4,100.3 449.3,103.3 450.2,99.6 451.1,95.7 452,95.7 452.9,99 453.8,102.8 454.7,101.4 455.6,98.1 456.5,93.2 457.4,90.5 458.3,93 459.2,98.8 460.1,106.7 461,103.7 461.9,100.7 462.8,97.6 463.7,103 464.6,110.9 465.5,106.1 466.4,100.8 467.3,99.5 468.2,103.2 469.1,106.9 470,109.3 470.9,98.7 471.8,90.6 472.7,100.7 473.6,109.4 474.5,118 475.4,115.1 476.3,106.3 477.2,96.8 478.1,97.6 479,111.4 479.9,117.7 480.8,108 481.7,102 482.6,108.5 483.5,114.7 484.4,116.9 485.3,113.7 486.2,110.2 487.1,116.4 488,123.2 488.9,116.5 489.8,102.1 490.7,86.9 491.6,93.4 492.5,105 493.4,104.2 494.3,90.7 495.2,100.5 496.1,116.5 497,112 497.9,91.6 498.8,100 499.7,115.1 500.6,128.2 501.5,123 502.4,109.7 503.3,95.2 504.2,87.3 505.1,92.7 506,98.5 506.9,105.6 507.8,99.5 508.7,93.7 509.6,95.7 510.5,104.8 511.4,113.4 512.3,120.4 513.2,108.9 514.1,98.8 515,107.5 515.9,115.9 516.8,123.8 517.7,118.6 518.6,112.8 519.5,108.4 520.4,114 521.3,119.2 522.2,124.4 523.1,120.1 524,115 524.9,119.1 525.8,124.5 526.7,125 527.6,117.3 528.5,112.7 529.4,115.6 530.3,116.9 531.2,96.7 532.1,84.4 533,94.1 533.9,113 534.8,125.2 535.7,108.1 536.6,78.4 537.5,69.5 538.4,93.5 539.3,109.6 540.2,106.6 541.1,94.3 542,83.3 542.9,85.9 543.8,105.5 544.7,103.7 545.6,91.4 546.5,82.7 547.4,89 548.3,103.4 549.2,112.2 550.1,109.8 551,95.9 551.9,83.8 552.8,92.6 553.7,104.2 554.6,96.8 555.5,84.5 556.4,77 557.3,84 558.2,92 559.1,82.3 560,66.9 560.9,63.7 561.8,92.9 562.7,120.5 563.6,114.4 564.5,90.6 565.4,86.7 566.3,67 567.2,69.5 568.1,87.7 569,103.2 569.9,102.3 570.8,99.1 571.7,90.6 572.6,82.5 573.5,82.2 574.4,87 575.3,96.6 576.2,98.4 577.1,85.5 578,77.2 578.9,70.5 579.8,94.3 580.7,105.5 581.6,94.8 582.5,76 583.4,89 584.3,115.4 585.2,109.4 586.1,89.3 587,84.8 587.9,103.1 588.8,115.8 589.7,101 590.6,80.5 591.5,89.2 592.4,104.3 593.3,107.1 594.2,106.5 595.1,102.8 596,91.9 596.9,110.7 597.8,127.8 598.7,130 599.6,120.6 600.5,112.7 601.4,102 602.3,112.5 603.2,125.2 604.1,111.8 605,97 605.9,111 606.8,129.5 607.7,135.1 608.6,128.7 609.5,127.5 610.4,124 611.3,121.9 612.2,116.8 613.1,97.1 614,87.4 614.9,99.2 615.8,115.2 616.7,126.2 617.6,122.2 618.5,115.6 619.4,113.6 620.3,112.7 621.2,94.4 622.1,75.7 623,73 623.9,84.7 624.8,94.7 625.7,94.8 626.6,82.6 627.5,66.3 628.4,81 629.3,103.2 630.2,100.8 631.1,94.9 632,86.6 632.9,87.6 633.8,104.8 634.7,114.7 635.6,107.6 636.5,104.3 637.4,103.5 638.3,111 639.2,92.7 640.1,80.4 641,92 641.9,111.5 642.8,108.2 643.7,89.5 644.6,99.7 645.5,120.5 646.4,118.4 647.3,93 648.2,73.4 649.1,85.2 650,97.8 650.9,111.2 651.8,108.3 652.7,96.9 653.6,80.1 654.5,79.3 655.4,95 656.3,105.7 657.2,92.6 658.1,88.9 659,87.5 659.9,108.1 660.8,119.6 661.7,119.5 662.6,111.5 663.5,112.7 664.4,120.3 665.3,128.4 666.2,125.5 667.1,113.1 668,104 668.9,107.1 669.8,105.3 670.7,95.4 671.6,83.3 672.5,89.7 673.4,112.9 674.3,118.1 675.2,93.4 676.1,75 677,88.2" fill="none" stroke="#ffb3c0" stroke-opacity="0.55" stroke-width="0.9"/>
<path d="M282.8,161.1 283.7,160.1 284.6,159.2 285.5,158.3 286.4,157.5 287.3,156.7 288.2,156 289.1,155.4 290,154.7 290.9,154.1 291.8,153.5 292.7,152.8 293.6,152.1 294.5,151.3 295.4,150.4 296.3,149.4 297.2,148.2 298.1,147 299,145.5 299.9,144 300.8,141.7 301.7,139.2 302.6,136.7 303.5,134.2 304.4,131.6 305.3,128.9 306.2,126 307.1,122.8 308,119.7 308.9,117 309.8,114.7 310.7,112.6 311.6,110.8 312.5,109.1 313.4,107.4 314.3,105.9 315.2,104.3 316.1,102.7 317,101 317.9,99.2 318.8,97.2 319.7,95.2 320.6,93 321.5,90.7 322.4,88.4 323.3,86.1 324.2,83.9 325.1,81.8 326,79.7 326.9,77.8 327.8,76 328.7,74.3 329.6,72.7 330.5,71.4 331.4,70.7 332.3,70.7 333.2,71.3 334.1,73 335,74.9 335.9,76.6 336.8,78 337.7,79.3 338.6,80.6 339.5,82 340.4,83.5 341.3,85.1 342.2,86.6 343.1,88.2 344,89.7 344.9,91.2 345.8,92.7 346.7,94.1 347.6,95.4 348.5,96.6 349.4,97.6 350.3,98.3 351.2,98.8 352.1,99.2 353,99.5 353.9,99.7 354.8,99.9 355.7,100 356.6,100 357.5,100.1 358.4,100.1 359.3,100 360.2,100 361.1,99.8 362,99.7 362.9,99.6 363.8,99.6 364.7,99.6 365.6,99.5 366.5,99.4 367.4,99.3 368.3,99.3 369.2,99.2 370.1,99.2 371,99.3 371.9,99.3 372.8,99.5 373.7,99.9 374.6,100.4 375.5,101.3 376.4,102.1 377.3,102.7 378.2,103 379.1,103.4 380,103.9 380.9,104.7 381.8,105.6 382.7,107.1 383.6,109.5 384.5,113.1 385.4,116.8 386.3,119.6 387.2,121.8 388.1,123.8 389,125.9 389.9,127.9 390.8,129.1 391.7,129.5 392.6,129.4 393.5,129 394.4,128.4 395.3,127.7 396.2,127.1 397.1,126.5 398,126.2 398.9,126.3 399.8,126.9 400.7,127.4 401.6,127.3 402.5,126.8 403.4,125.9 404.3,124.4 405.2,121.8 406.1,117.9 407,113.1 407.9,108.3 408.8,103.6 409.7,99.5 410.6,96 411.5,93.3 412.4,91.3 413.3,89 414.2,87.5 415.1,87.5 416,88.6 416.9,90.3 417.8,92.5 418.7,95 419.6,99 420.5,103.2 421.4,108.1 422.3,111.4 423.2,114.7 424.1,120.2 425,125 425.9,127.5 426.8,128.6 427.7,129.7 428.6,132.9 429.5,135.9 430.4,136.7 431.3,134.9 432.2,132.3 433.1,133.4 434,135.3 434.9,133.8 435.8,128.9 436.7,124.8 437.6,123.5 438.5,122.5 439.4,118.1 440.3,114.5 441.2,117.2 442.1,116.7 443,115.1 443.9,113.2 444.8,112.4 445.7,114 446.6,115.7 447.5,117 448.4,113.9 449.3,111.2 450.2,114.2 451.1,117.2 452,115.8 452.9,110.6 453.8,106.3 454.7,108.6 455.6,111.1 456.5,113.1 457.4,106.1 458.3,97.1 459.2,93 460.1,100.2 461,108.1 461.9,114.6 462.8,106.3 463.7,97.4 464.6,101.5 465.5,113.7 466.4,108.5 467.3,98.7 468.2,103.8 469.1,109.8 470,106.6 470.9,101 471.8,103.7 472.7,108.4 473.6,112 474.5,107 475.4,97 476.3,97.7 477.2,103.9 478.1,110.9 479,110.6 479.9,97.4 480.8,102.6 481.7,120.6 482.6,129.3 483.5,121.6 484.4,113.8 485.3,106.2 486.2,118.3 487.1,130.1 488,119.5 488.9,106.7 489.8,108.4 490.7,113.2 491.6,111.1 492.5,101.1 493.4,90.7 494.3,91.2 495.2,105.1 496.1,103.3 497,96.6 497.9,91.3 498.8,104 499.7,115.3 500.6,124.9 501.5,120.1 502.4,99.8 503.3,97.7 504.2,106.1 505.1,115.9 506,116.3 506.9,101.9 507.8,88.7 508.7,101.7 509.6,126.4 510.5,111.2 511.4,103.8 512.3,120.3 513.2,135 514.1,143.2 515,130.8 515.9,120.4 516.8,132.3 517.7,143.3 518.6,137.5 519.5,129 520.4,120.4 521.3,121.5 522.2,125.6 523.1,129.9 524,122.8 524.9,110.3 525.8,108.7 526.7,117 527.6,124.8 528.5,122.6 529.4,99.1 530.3,80.1 531.2,87.2 532.1,102.4 533,115.3 533.9,108.8 534.8,103 535.7,97.9 536.6,92.5 537.5,100.3 538.4,115.8 539.3,115.8 540.2,105.7 541.1,96 542,95 542.9,104.5 543.8,112.6 544.7,94.1 545.6,81.5 546.5,93.6 547.4,108.4 548.3,105.7 549.2,89.3 550.1,85.2 551,99.6 551.9,96.4 552.8,92.2 553.7,91.7 554.6,97.3 555.5,101.6 556.4,96.1 557.3,87 558.2,88.3 559.1,88.2 560,86.2 560.9,87 561.8,98.8 562.7,123.9 563.6,123.7 564.5,114.7 565.4,121.6 566.3,104.3 567.2,92.4 568.1,97.5 569,110.4 569.9,118.9 570.8,105.5 571.7,90 572.6,85.1 573.5,97.6 574.4,106.5 575.3,101.9 576.2,85.8 577.1,94.3 578,113.7 578.9,117.8 579.8,112.1 580.7,104.8 581.6,98.4 582.5,105.1 583.4,118.7 584.3,114.3 585.2,90.6 586.1,86.2 587,109 587.9,95.5 588.8,72.4 589.7,92.3 590.6,105.4 591.5,111.9 592.4,98.3 593.3,89.5 594.2,90.3 595.1,115.2 596,140.5 596.9,145.2 597.8,134.4 598.7,122.7 599.6,118.4 600.5,130.9 601.4,124.6 602.3,114.5 603.2,108.2 604.1,109.4 605,116.7 605.9,125.1 606.8,123.5 607.7,111 608.6,117.9 609.5,125.5 610.4,128.4 611.3,135.2 612.2,112.1 613.1,79.3 614,79.9 614.9,113.2 615.8,104 616.7,82.9 617.6,97.8 618.5,115.8 619.4,123.7 620.3,112.4 621.2,84.4 622.1,71.6 623,84.3 623.9,96.8 624.8,108.4 625.7,103.3 626.6,95.3 627.5,82.8 628.4,88.4 629.3,103.6 630.2,117.3 631.1,111.3 632,100.2 632.9,83.8 633.8,97.9 634.7,106.8 635.6,112.7 636.5,125.6 637.4,129 638.3,106.6 639.2,89.2 640.1,107.8 641,123.4 641.9,112.8 642.8,106.8 643.7,107 644.6,115.6 645.5,127 646.4,122.7 647.3,101.9 648.2,92.3 649.1,102.4 650,114.2 650.9,119.9 651.8,105.6 652.7,97.6 653.6,109 654.5,104.2 655.4,81.4 656.3,101.7 657.2,123.5 658.1,129 659,115.1 659.9,92.9 660.8,97.9 661.7,120.7 662.6,137.7 663.5,133.2 664.4,120.7 665.3,115.4 666.2,124.7 667.1,128.2 668,134.1 668.9,126 669.8,102.6 670.7,105.7 671.6,119.3 672.5,128.7 673.4,128.6 674.3,118.6 675.2,106.2 676.1,120.1 677,129.3" fill="none" stroke="#ffb3c0" stroke-opacity="0.55" stroke-width="0.9"/>
<path d="M282.8,161.7 283.7,160.7 284.6,159.6 285.5,158.4 286.4,157.1 287.3,155.8 288.2,154.5 289.1,153.2 290,151.9 290.9,150.7 291.8,149.5 292.7,148.5 293.6,147.6 294.5,146.9 295.4,146.3 296.3,145.9 297.2,145.6 298.1,145.5 299,145.4 299.9,145.3 300.8,144.4 301.7,143.3 302.6,142 303.5,140.5 304.4,138.6 305.3,136.4 306.2,133.5 307.1,130 308,126.2 308.9,122.8 309.8,119.7 310.7,116.8 311.6,114.2 312.5,111.7 313.4,109.4 314.3,107.2 315.2,105.2 316.1,103.3 317,101.4 317.9,99.6 318.8,97.7 319.7,95.9 320.6,94 321.5,92.1 322.4,90.2 323.3,88.4 324.2,86.6 325.1,84.9 326,83.3 326.9,81.7 327.8,80.1 328.7,78.6 329.6,77.1 330.5,75.8 331.4,74.9 332.3,74.6 333.2,74.9 334.1,75.8 335,77.2 335.9,78.4 336.8,79.4 337.7,80.5 338.6,81.6 339.5,82.8 340.4,84.2 341.3,85.7 342.2,87.3 343.1,88.8 344,90.4 344.9,92 345.8,93.6 346.7,95.2 347.6,96.6 348.5,97.9 349.4,98.9 350.3,99.7 351.2,100.3 352.1,100.7 353,100.9 353.9,101.1 354.8,101.1 355.7,101.1 356.6,100.9 357.5,100.7 358.4,100.5 359.3,100.2 360.2,100 361.1,99.8 362,99.6 362.9,99.5 363.8,99.5 364.7,99.6 365.6,99.7 366.5,99.8 367.4,100.1 368.3,100.4 369.2,100.8 370.1,101.2 371,101.7 371.9,102.2 372.8,102.8 373.7,103.5 374.6,104.5 375.5,105.7 376.4,106.6 377.3,107.2 378.2,107.5 379.1,107.7 380,108.1 380.9,108.7 381.8,109.5 382.7,110.8 383.6,113 384.5,116.4 385.4,119.9 386.3,122.8 387.2,125.2 388.1,127.4 389,129.7 389.9,132 390.8,133.5 391.7,134.3 392.6,134.6 393.5,134.5 394.4,134.2 395.3,133.8 396.2,133.4 397.1,132.9 398,132.6 398.9,132.5 399.8,132.8 400.7,132.9 401.6,132.5 402.5,131.9 403.4,130.8 404.3,129.1 405.2,126.5 406.1,122.7 407,118.1 407.9,113.5 408.8,109.1 409.7,105.3 410.6,101.9 411.5,99 412.4,96.5 413.3,94.4 414.2,92.9 415.1,92.4 416,92.8 416.9,93.7 417.8,95.4 418.7,97.5 419.6,100.7 420.5,104.1 421.4,107.4 422.3,110.3 423.2,113.2 424.1,116.7 425,120.1 425.9,123.1 426.8,125.8 427.7,127.3 428.6,128.6 429.5,129.7 430.4,132.2 431.3,134.5 432.2,136.5 433.1,134.4 434,131.3 434.9,132 435.8,134.9 436.7,134.3 437.6,129.3 438.5,124 439.4,123.5 440.3,124.2 441.2,124.3 442.1,118.4 443,113.7 443.9,109.4 444.8,111.3 445.7,113.3 446.6,112.9 447.5,110.2 448.4,107.6 449.3,105.1 450.2,108.1 451.1,111.5 452,112.3 452.9,107.2 453.8,106 454.7,112.3 455.6,119.1 456.5,114.2 457.4,107.3 458.3,111.7 459.2,118.3 460.1,113.3 461,111.4 461.9,117.7 462.8,123.5 463.7,128.5 464.6,125.7 465.5,121.7 466.4,119.9 467.3,123.8 468.2,127.5 469.1,131.2 470,124.3 470.9,116.2 471.8,109.9 472.7,113.1 473.6,115.6 474.5,117.9 475.4,115 476.3,111.2 477.2,107.5 478.1,109.8 479,119.5 479.9,123.2 480.8,115.2 481.7,107.4 482.6,116.1 483.5,130.3 484.4,143.8 485.3,127.1 486.2,114.3 487.1,125.4 488,135.8 488.9,131.6 489.8,125.6 490.7,119 491.6,118.7 492.5,124.1 493.4,128.3 494.3,117.3 495.2,106.8 496.1,107.2 497,112.6 497.9,118.6 498.8,118.3 499.7,111.5 500.6,102.6 501.5,107.4 502.4,120 503.3,109.2 504.2,95.2 505.1,81.3 506,98.6 506.9,124.3 507.8,123.6 508.7,107.8 509.6,116.3 510.5,130.2 511.4,121 512.3,111.1 513.2,124.8 514.1,139.5 515,139.6 515.9,127.7 516.8,116 517.7,116.3 518.6,125.9 519.5,133.7 520.4,123.5 521.3,113.1 522.2,102.6 523.1,103.6 524,112.8 524.9,123 525.8,116.5 526.7,107.8 527.6,107.4 528.5,118 529.4,129 530.3,108.2 531.2,83.4 532.1,102.8 533,119.9 533.9,112 534.8,104.7 535.7,100.3 536.6,100.7 537.5,109.2 538.4,100.6 539.3,92.3 540.2,105.9 541.1,109.1 542,96.3 542.9,89.5 543.8,99 544.7,112 545.6,97.4 546.5,83.4 547.4,97.9 548.3,111.8 549.2,121.5 550.1,107 551,95.7 551.9,93.3 552.8,103.2 553.7,110.4 554.6,111 555.5,106.4 556.4,104.9 557.3,103.7 558.2,110.7 559.1,114.4 560,102.4 560.9,88.6 561.8,92.9 562.7,122.8 563.6,127.8 564.5,120 565.4,106.8 566.3,89.2 567.2,91.4 568.1,108.9 569,122.8 569.9,114.8 570.8,92.5 571.7,74.4 572.6,91.2 573.5,106.3 574.4,113 575.3,113.8 576.2,90.5 577.1,96.8 578,113 578.9,122.2 579.8,113.7 580.7,104 581.6,102.6 582.5,105.4 583.4,115 584.3,123 585.2,113.7 586.1,101.2 587,97.1 587.9,112 588.8,126.7 589.7,144.4 590.6,129 591.5,110.3 592.4,95.3 593.3,100.8 594.2,121.5 595.1,141.2 596,151.1 596.9,132.4 597.8,117.1 598.7,103.1 599.6,113.7 600.5,125.5 601.4,135.6 602.3,125.8 603.2,110.6 604.1,98.7 605,108.3 605.9,130.3 606.8,127.9 607.7,111.2 608.6,120.4 609.5,133.8 610.4,142 611.3,135.2 612.2,111 613.1,87.4 614,86.9 614.9,122.3 615.8,135.4 616.7,119 617.6,111.9 618.5,124.4 619.4,130 620.3,129.7 621.2,101.4 622.1,78.1 623,93.6 623.9,108.3 624.8,114.1 625.7,109.3 626.6,105.5 627.5,91.5 628.4,97.5 629.3,114.5 630.2,132.3 631.1,109.9 632,87.6 632.9,97.7 633.8,117.4 634.7,121.1 635.6,108.8 636.5,111.2 637.4,119.9 638.3,110.6 639.2,107.4 640.1,111.6 641,107.8 641.9,106.1 642.8,122.9 643.7,142.1 644.6,131.4 645.5,123.4 646.4,126 647.3,123.9 648.2,122.1 649.1,113.5 650,106 650.9,118.4 651.8,124.5 652.7,109.9 653.6,90.6 654.5,81.2 655.4,92.5 656.3,106.8 657.2,101.4 658.1,102.7 659,102.8 659.9,97.6 660.8,104.5 661.7,123.8 662.6,137.8 663.5,126.8 664.4,108.4 665.3,104.7 666.2,130.2 667.1,134 668,120 668.9,125.1 669.8,133.8 670.7,112.8 671.6,100.9 672.5,113.4 673.4,124 674.3,139.4 675.2,120.9 676.1,102.3 677,108.1" fill="none" stroke="#ffb3c0" stroke-opacity="0.55" stroke-width="0.9"/>
<path d="M282.8,161.9 283.7,161.3 284.6,160.8 285.5,160.3 286.4,159.9 287.3,159.5 288.2,159 289.1,158.4 290,157.6 290.9,156.8 291.8,155.7 292.7,154.5 293.6,153.1 294.5,151.6 295.4,150 296.3,148.4 297.2,146.8 298.1,145.3 299,143.9 299.9,142.7 300.8,141.1 301.7,139.6 302.6,138.3 303.5,137.1 304.4,136 305.3,134.7 306.2,133 307.1,130.7 308,128 308.9,125.5 309.8,123.1 310.7,120.8 311.6,118.5 312.5,116.1 313.4,113.6 314.3,111 315.2,108.3 316.1,105.6 317,102.9 317.9,100.2 318.8,97.6 319.7,95 320.6,92.5 321.5,90 322.4,87.7 323.3,85.6 324.2,83.7 325.1,82.1 326,80.8 326.9,79.6 327.8,78.6 328.7,77.8 329.6,77.1 330.5,76.6 331.4,76.5 332.3,76.9 333.2,77.7 334.1,78.8 335,80 335.9,81 336.8,81.9 337.7,82.7 338.6,83.6 339.5,84.5 340.4,85.6 341.3,86.7 342.2,87.9 343.1,89 344,90.2 344.9,91.5 345.8,92.8 346.7,94.1 347.6,95.3 348.5,96.5 349.4,97.5 350.3,98.3 351.2,99.1 352.1,99.6 353,100.1 353.9,100.6 354.8,100.9 355.7,101.2 356.6,101.3 357.5,101.4 358.4,101.3 359.3,101.1 360.2,100.9 361.1,100.6 362,100.3 362.9,100 363.8,99.8 364.7,99.7 365.6,99.7 366.5,99.8 367.4,100 368.3,100.4 369.2,101 370.1,101.8 371,102.8 371.9,104.1 372.8,105.6 373.7,107.3 374.6,109.4 375.5,111.9 376.4,114.1 377.3,115.8 378.2,117 379.1,117.9 380,118.7 380.9,119.5 381.8,120.2 382.7,121 383.6,122.2 384.5,124.2 385.4,126.4 386.3,128.1 387.2,129.5 388.1,130.9 389,132.7 389.9,134.6 390.8,136 391.7,136.8 392.6,137.5 393.5,138 394.4,138.6 395.3,139.1 396.2,139.7 397.1,140.3 398,140.9 398.9,141.5 399.8,142.1 400.7,142.4 401.6,142 402.5,141.1 403.4,139.5 404.3,137.2 405.2,133.8 406.1,129.2 407,123.8 407.9,118.4 408.8,113.3 409.7,108.8 410.6,105 411.5,102.1 412.4,100.1 413.3,98.5 414.2,97.4 415.1,97.2 416,98.7 416.9,101.9 417.8,105.8 418.7,109.7 419.6,113.5 420.5,118.7 421.4,124.6 422.3,128.1 423.2,131.1 424.1,134.2 425,138.1 425.9,138.8 426.8,138 427.7,138.2 428.6,139.6 429.5,140.9 430.4,141.3 431.3,136.9 432.2,132.9 433.1,133.6 434,134.5 434.9,131 435.8,126.5 436.7,125.4 437.6,125.2 438.5,125.7 439.4,124.7 440.3,121.3 441.2,117.7 442.1,116 443,122.5 443.9,125.2 444.8,121.3 445.7,117.4 446.6,118.6 447.5,120 448.4,120.2 449.3,116.5 450.2,112.6 451.1,113.4 452,115.6 452.9,118.1 453.8,114.9 454.7,111.1 455.6,108.1 456.5,111.6 457.4,115.6 458.3,114.7 459.2,112.1 460.1,110.7 461,112.9 461.9,120.1 462.8,127.1 463.7,133.4 464.6,130.6 465.5,126.3 466.4,122.1 467.3,128.3 468.2,134.1 469.1,138.7 470,130.5 470.9,122.2 471.8,119.1 472.7,122.6 473.6,125.3 474.5,127.8 475.4,118.5 476.3,110 477.2,114.3 478.1,119.6 479,120.1 479.9,109 480.8,103.3 481.7,111.6 482.6,120.5 483.5,129.5 484.4,123.9 485.3,115.5 486.2,119.2 487.1,125.4 488,130.2 488.9,125.5 489.8,120.1 490.7,114.1 491.6,120 492.5,130.8 493.4,127.2 494.3,113 495.2,99 496.1,106.2 497,114.4 497.9,120.4 498.8,115.9 499.7,111.4 500.6,114.1 501.5,115.3 502.4,102.7 503.3,97 504.2,103.7 505.1,111.4 506,102.1 506.9,94 507.8,87.3 508.7,101.3 509.6,117.9 510.5,133.7 511.4,132.3 512.3,128.5 513.2,129.6 514.1,144.9 515,144.4 515.9,128.7 516.8,129.5 517.7,138.5 518.6,141.4 519.5,125.8 520.4,110.2 521.3,104.7 522.2,113 523.1,122 524,110.5 524.9,98.9 525.8,105.4 526.7,112.6 527.6,119.3 528.5,114.5 529.4,92.4 530.3,77.2 531.2,70.8 532.1,96.6 533,120 533.9,111.3 534.8,98.4 535.7,114.5 536.6,118.9 537.5,113.1 538.4,101.2 539.3,99.3 540.2,108 541.1,111.2 542,106 542.9,106.1 543.8,105.7 544.7,105.2 545.6,108.7 546.5,116.4 547.4,105.1 548.3,105.9 549.2,115.1 550.1,124.5 551,128.4 551.9,118.5 552.8,111.5 553.7,114 554.6,131.7 555.5,139.2 556.4,126.7 557.3,107.7 558.2,96.4 559.1,107.4 560,121.1 560.9,107.5 561.8,104.5 562.7,125 563.6,130.8 564.5,127 565.4,108.4 566.3,78.5 567.2,97.9 568.1,109.9 569,113.1 569.9,100.5 570.8,88.4 571.7,96.8 572.6,114 573.5,114.7 574.4,102.7 575.3,93.7 576.2,107.3 577.1,130.3 578,130.1 578.9,119.6 579.8,124.5 580.7,131.2 581.6,139.1 582.5,118 583.4,101.6 584.3,109.9 585.2,125.1 586.1,138.5 587,129 587.9,107.7 588.8,109.6 589.7,138.3 590.6,139.1 591.5,99.2 592.4,94.3 593.3,106.6 594.2,125.3 595.1,137.4 596,124.2 596.9,111 597.8,120.4 598.7,129.8 599.6,135.1 600.5,135.4 601.4,125.9 602.3,118.6 603.2,126 604.1,137.4 605,144.4 605.9,132.1 606.8,115.9 607.7,110.7 608.6,135.8 609.5,147.7 610.4,142.3 611.3,119.3 612.2,117.8 613.1,122.7 614,115.8 614.9,113.1 615.8,105.6 616.7,118.6 617.6,121.7 618.5,117.3 619.4,106.4 620.3,114 621.2,123 622.1,141.6 623,123.9 623.9,104.5 624.8,107.1 625.7,131.7 626.6,156.4 627.5,141.7 628.4,119.7 629.3,115.7 630.2,116.8 631.1,128.2 632,139.3 632.9,141.1 633.8,124.8 634.7,108.5 635.6,117 636.5,140.9 637.4,142.1 638.3,115.6 639.2,93 640.1,111.9 641,128 641.9,136.3 642.8,123.3 643.7,116 644.6,125.4 645.5,134.6 646.4,129 647.3,111.4 648.2,119.7 649.1,138 650,133.2 650.9,121.8 651.8,125.9 652.7,127.6 653.6,127.3 654.5,113 655.4,100.6 656.3,105.8 657.2,109.5 658.1,121.2 659,117 659.9,99.3 660.8,96.5 661.7,115.5 662.6,129.8 663.5,140 664.4,126.3 665.3,118.1 666.2,113.8 667.1,117.5 668,122.9 668.9,132.6 669.8,121.7 670.7,108 671.6,125.3 672.5,139.9 673.4,121.6 674.3,107.3 675.2,124.5 676.1,130.4 677,100.7" fill="none" stroke="#ffb3c0" stroke-opacity="0.55" stroke-width="0.9"/>
<path d="M282.8,162.1 283.7,161.2 284.6,160.3 285.5,159.3 286.4,158.3 287.3,157.3 288.2,156.3 289.1,155.3 290,154.4 290.9,153.4 291.8,152.5 292.7,151.7 293.6,150.8 294.5,150.1 295.4,149.4 296.3,148.8 297.2,148.2 298.1,147.7 299,147.3 299.9,146.9 300.8,145.8 301.7,144.5 302.6,143.3 303.5,142 304.4,140.5 305.3,138.8 306.2,136.6 307.1,133.7 308,130.6 308.9,127.7 309.8,125.2 310.7,122.9 311.6,120.7 312.5,118.6 313.4,116.4 314.3,114.2 315.2,112 316.1,109.7 317,107.4 317.9,105.1 318.8,102.7 319.7,100.3 320.6,97.8 321.5,95.5 322.4,93.1 323.3,91 324.2,88.9 325.1,87.1 326,85.4 326.9,83.9 327.8,82.5 328.7,81.3 329.6,80.2 330.5,79.4 331.4,79.1 332.3,79.4 333.2,80.1 334.1,81 335,82.1 335.9,83.2 336.8,84.1 337.7,85.1 338.6,86.1 339.5,87.2 340.4,88.5 341.3,89.8 342.2,91.1 343.1,92.4 344,93.6 344.9,94.8 345.8,96 346.7,97.1 347.6,98 348.5,98.8 349.4,99.3 350.3,99.7 351.2,99.9 352.1,99.9 353,99.9 353.9,99.8 354.8,99.8 355.7,99.7 356.6,99.7 357.5,99.7 358.4,99.7 359.3,99.8 360.2,99.9 361.1,100 362,100.1 362.9,100.3 363.8,100.5 364.7,100.8 365.6,101.1 366.5,101.4 367.4,101.8 368.3,102.1 369.2,102.6 370.1,103.1 371,103.6 371.9,104.1 372.8,104.8 373.7,105.6 374.6,106.7 375.5,108.2 376.4,109.6 377.3,110.6 378.2,111.4 379.1,112.3 380,113.3 380.9,114.5 381.8,116.1 382.7,118 383.6,120.6 384.5,124 385.4,127.4 386.3,130.2 387.2,132.5 388.1,134.7 389,136.9 389.9,139 390.8,140.4 391.7,141.2 392.6,141.6 393.5,141.8 394.4,141.8 395.3,141.8 396.2,141.9 397.1,142 398,142.3 398.9,142.8 399.8,143.5 400.7,144.1 401.6,144.3 402.5,144.2 403.4,143.6 404.3,142.4 405.2,140.3 406.1,137 407,133 407.9,128.9 408.8,124.9 409.7,121 410.6,117.4 411.5,114 412.4,110.6 413.3,107 414.2,104.3 415.1,102.7 416,102.3 416.9,103.1 417.8,104.4 418.7,107.4 419.6,110.8 420.5,113.8 421.4,115.9 422.3,119.4 423.2,123.8 424.1,127.7 425,130.6 425.9,131.9 426.8,132.8 427.7,133.4 428.6,137 429.5,141.5 430.4,141.7 431.3,140.5 432.2,138.7 433.1,139.3 434,141.1 434.9,142.9 435.8,140.6 436.7,136.8 437.6,132.3 438.5,135 439.4,136.9 440.3,133 441.2,128.8 442.1,124.9 443,126.2 443.9,127.9 444.8,127.6 445.7,123.5 446.6,119.5 447.5,115.6 448.4,116.5 449.3,117.8 450.2,119.2 451.1,118.4 452,114.3 452.9,110.2 453.8,113.8 454.7,117.2 455.6,113.3 456.5,108.5 457.4,111.3 458.3,114.8 459.2,108.7 460.1,104.8 461,113.4 461.9,118.5 462.8,116.3 463.7,113.6 464.6,113.2 465.5,118.3 466.4,123.5 467.3,122 468.2,115.6 469.1,116.1 470,120.6 470.9,125.8 471.8,129.6 472.7,125.6 473.6,120.8 474.5,115.3 475.4,121.4 476.3,129.3 477.2,134 478.1,123.2 479,111.5 479.9,115.9 480.8,124.4 481.7,132 482.6,127.7 483.5,123.4 484.4,135.3 485.3,147.6 486.2,141.1 487.1,134.2 488,127.3 488.9,134.6 489.8,142.4 490.7,129.1 491.6,116.2 492.5,125.7 493.4,135.9 494.3,141.5 495.2,129.5 496.1,122.1 497,127.3 497.9,132.6 498.8,137 499.7,129.2 500.6,120.6 501.5,134.7 502.4,142.5 503.3,121 504.2,113.4 505.1,143 506,134.6 506.9,110.9 507.8,122.6 508.7,135.2 509.6,139 510.5,130 511.4,122.3 512.3,143.1 513.2,149.1 514.1,126.3 515,127 515.9,138.5 516.8,140.2 517.7,132.5 518.6,124.7 519.5,122 520.4,138 521.3,137 522.2,125.5 523.1,113.7 524,108.3 524.9,116.4 525.8,124.8 526.7,127.1 527.6,120.8 528.5,110.2 529.4,98.1 530.3,107.3 531.2,119.4 532.1,110.4 533,105.1 533.9,111 534.8,124.7 535.7,117.1 536.6,89.8 537.5,74 538.4,99.5 539.3,119 540.2,105 541.1,86.9 542,98.1 542.9,115.5 543.8,133.1 544.7,121 545.6,107.6 546.5,104.2 547.4,114.8 548.3,124.2 549.2,130.7 550.1,122.1 551,112.3 551.9,106.4 552.8,118.7 553.7,130.4 554.6,138.8 555.5,129.2 556.4,116.8 557.3,114.4 558.2,118.9 559.1,118.8 560,107 560.9,93.3 561.8,108.2 562.7,133.5 563.6,138 564.5,127.6 565.4,114.4 566.3,97.7 567.2,107.3 568.1,120.6 569,122.8 569.9,109.6 570.8,105.3 571.7,114.6 572.6,128.7 573.5,127 574.4,115.7 575.3,109.2 576.2,119.5 577.1,143.3 578,133.5 578.9,123.6 579.8,128.8 580.7,135.4 581.6,144 582.5,120.8 583.4,99.1 584.3,103.9 585.2,119.3 586.1,133.1 587,137.5 587.9,126.9 588.8,120.7 589.7,134.2 590.6,123.3 591.5,100.1 592.4,82 593.3,104.8 594.2,132.6 595.1,133 596,115.9 596.9,120.7 597.8,131.6 598.7,136.7 599.6,131.1 600.5,120.8 601.4,109.9 602.3,118.9 603.2,129.6 604.1,126.1 605,122.3 605.9,118.5 606.8,133.1 607.7,145.7 608.6,140.1 609.5,137.2 610.4,125.2 611.3,130.5 612.2,138.8 613.1,136.9 614,130.7 614.9,127.1 615.8,130.6 616.7,141.7 617.6,138.9 618.5,132.9 619.4,136.2 620.3,144.2 621.2,120.3 622.1,98.9 623,105.3 623.9,114.3 624.8,124.1 625.7,123.9 626.6,122.4 627.5,105.8 628.4,114.7 629.3,132.2 630.2,123.2 631.1,112 632,125.4 632.9,140.9 633.8,114.8 634.7,96.5 635.6,109.8 636.5,129.2 637.4,132.8 638.3,110.5 639.2,92.5 640.1,109.1 641,123 641.9,135.9 642.8,135.5 643.7,126.5 644.6,119.7 645.5,129.1 646.4,131.9 647.3,133.2 648.2,123.9 649.1,117.9 650,129.8 650.9,144.8 651.8,153 652.7,140.8 653.6,124.6 654.5,122.4 655.4,136.3 656.3,138.6 657.2,131.4 658.1,129.1 659,132.2 659.9,129.6 660.8,133 661.7,139.2 662.6,128.7 663.5,128.6 664.4,142 665.3,150.7 666.2,143.1 667.1,126.6 668,126.2 668.9,147.2 669.8,142 670.7,123.6 671.6,109.2 672.5,122.1 673.4,142.1 674.3,142.9 675.2,126.4 676.1,106.4 677,116.4" fill="none" stroke="#ffb3c0" stroke-opacity="0.55" stroke-width="0.9"/>
<path d="M282.8,162.9 283.7,162.1 284.6,161.2 285.5,160.1 286.4,159 287.3,157.9 288.2,156.7 289.1,155.7 290,154.7 290.9,154 291.8,153.4 292.7,153.1 293.6,153.1 294.5,153.4 295.4,153.9 296.3,154.6 297.2,155.4 298.1,156.3 299,157.2 299.9,158 300.8,157.5 301.7,156.6 302.6,155.4 303.5,153.7 304.4,151.5 305.3,148.8 306.2,145.2 307.1,140.8 308,136 308.9,131.8 309.8,128.1 310.7,124.9 311.6,122 312.5,119.3 313.4,116.9 314.3,114.7 315.2,112.7 316.1,110.7 317,108.9 317.9,107 318.8,105.1 319.7,103.2 320.6,101.3 321.5,99.3 322.4,97.3 323.3,95.4 324.2,93.5 325.1,91.5 326,89.5 326.9,87.5 327.8,85.4 328.7,83.3 329.6,81.3 330.5,79.5 331.4,78.1 332.3,77.4 333.2,77.2 334.1,77.7 335,78.7 335.9,79.8 336.8,80.7 337.7,81.8 338.6,83 339.5,84.3 340.4,85.8 341.3,87.5 342.2,89.2 343.1,90.9 344,92.6 344.9,94.3 345.8,96 346.7,97.6 347.6,99.1 348.5,100.3 349.4,101.1 350.3,101.7 351.2,102.1 352.1,102.2 353,102.2 353.9,102 354.8,101.8 355.7,101.5 356.6,101.2 357.5,100.9 358.4,100.7 359.3,100.6 360.2,100.6 361.1,100.8 362,101 362.9,101.5 363.8,102.1 364.7,102.9 365.6,103.9 366.5,105 367.4,106.1 368.3,107.4 369.2,108.8 370.1,110.1 371,111.4 371.9,112.6 372.8,113.7 373.7,114.7 374.6,115.9 375.5,117.3 376.4,118.2 377.3,118.4 378.2,118.4 379.1,118.2 380,118.2 380.9,118.7 381.8,119.5 382.7,121 383.6,123.4 384.5,126.8 385.4,130.5 386.3,134 387.2,137.2 388.1,140.4 389,143.6 389.9,146.8 390.8,149.3 391.7,151.1 392.6,152.4 393.5,153.3 394.4,153.9 395.3,154.1 396.2,154 397.1,153.5 398,152.6 398.9,151.6 399.8,150.3 400.7,148.9 401.6,147.1 402.5,145 403.4,142.5 404.3,139.6 405.2,135.9 406.1,131.2 407,126.1 407.9,121.2 408.8,116.7 409.7,113 410.6,109.9 411.5,107.7 412.4,106.2 413.3,104.4 414.2,102.6 415.1,101.4 416,102.4 416.9,105.2 417.8,107.6 418.7,109.5 419.6,112.9 420.5,116.9 421.4,120.2 422.3,122.9 423.2,125.3 424.1,127.1 425,129.7 425.9,131.9 426.8,133.9 427.7,134.5 428.6,134 429.5,136.4 430.4,138.9 431.3,138.3 432.2,135.1 433.1,136.3 434,139.4 434.9,142.7 435.8,140.5 436.7,137.1 437.6,135 438.5,137.4 439.4,136.9 440.3,132 441.2,129.2 442.1,131 443,133.1 443.9,134 444.8,130.3 445.7,126.7 446.6,124.4 447.5,124.8 448.4,125.2 449.3,123.3 450.2,118.7 451.1,114.5 452,117.4 452.9,120.9 453.8,125 454.7,123.4 455.6,119.9 456.5,115.9 457.4,115.2 458.3,123.7 459.2,130.3 460.1,124.5 461,124.8 461.9,133.8 462.8,136.5 463.7,131.9 464.6,126.8 465.5,130.2 466.4,135.5 467.3,140.6 468.2,137.3 469.1,131.4 470,131 470.9,133.8 471.8,136.5 472.7,135.2 473.6,130.8 474.5,126.1 475.4,122.4 476.3,133.4 477.2,137.6 478.1,126.1 479,123.1 479.9,128.6 480.8,130.4 481.7,124.8 482.6,119.5 483.5,121 484.4,135 485.3,135.8 486.2,131.5 487.1,132.3 488,137 488.9,138.7 489.8,127.8 490.7,116.1 491.6,121.9 492.5,133.4 493.4,142.1 494.3,129 495.2,116.1 496.1,118.9 497,125.8 497.9,132.6 498.8,127.7 499.7,122.7 500.6,116.3 501.5,116.2 502.4,121.8 503.3,129.5 504.2,126.4 505.1,115.8 506,105 506.9,104.2 507.8,121.3 508.7,138.1 509.6,132.9 510.5,120.8 511.4,129.3 512.3,137.9 513.2,133 514.1,128.1 515,126.5 515.9,136.7 516.8,146.3 517.7,143.7 518.6,135.5 519.5,135.7 520.4,140.5 521.3,145.3 522.2,134.1 523.1,121.8 524,122.3 524.9,135.9 525.8,149.5 526.7,143 527.6,133.9 528.5,121.4 529.4,115.1 530.3,126.7 531.2,140.5 532.1,147.9 533,139 533.9,130.3 534.8,122.1 535.7,123.8 536.6,117.9 537.5,125.2 538.4,126.9 539.3,122.8 540.2,115.6 541.1,117.9 542,120.6 542.9,124.7 543.8,118.4 544.7,111.5 545.6,119.2 546.5,131.5 547.4,131 548.3,121.5 549.2,112.5 550.1,130 551,136.8 551.9,127.1 552.8,122.5 553.7,135 554.6,135.5 555.5,111.6 556.4,109.8 557.3,118.2 558.2,122.6 559.1,114.6 560,98.1 560.9,91.5 561.8,110 562.7,132 563.6,136.4 564.5,120.7 565.4,100 566.3,73.6 567.2,83.7 568.1,107.2 569,124.5 569.9,119.6 570.8,98.4 571.7,88.5 572.6,108.3 573.5,121.4 574.4,126.4 575.3,121.9 576.2,103.8 577.1,105 578,124.6 578.9,132 579.8,126.9 580.7,123.2 581.6,125.6 582.5,128.6 583.4,136.1 584.3,138 585.2,122.2 586.1,102.2 587,99.4 587.9,113.1 588.8,126.8 589.7,134 590.6,123.8 591.5,110.1 592.4,102.3 593.3,125 594.2,151.1 595.1,152.3 596,147.4 596.9,137.8 597.8,142.9 598.7,153.4 599.6,151.1 600.5,124.7 601.4,122.5 602.3,140.6 603.2,156 604.1,145.8 605,131.5 605.9,122.7 606.8,138.1 607.7,150.9 608.6,147.8 609.5,141.2 610.4,127.2 611.3,120.2 612.2,120.7 613.1,128.7 614,149.9 614.9,143.8 615.8,138 616.7,140.8 617.6,149.9 618.5,157.2 619.4,145.5 620.3,131 621.2,126.4 622.1,134.6 623,133.5 623.9,122.7 624.8,124 625.7,138.5 626.6,151 627.5,128.9 628.4,102.2 629.3,109.9 630.2,136.8 631.1,142.3 632,132.7 632.9,120.9 633.8,117 634.7,120 635.6,122.6 636.5,142 637.4,144.4 638.3,119.1 639.2,114.2 640.1,130.6 641,141.9 641.9,135.1 642.8,134.8 643.7,128.2 644.6,130.9 645.5,137.1 646.4,138.5 647.3,136.5 648.2,125.7 649.1,119.4 650,126.3 650.9,142 651.8,142.4 652.7,127.7 653.6,110.6 654.5,88.4 655.4,112.8 656.3,138.8 657.2,127.6 658.1,122.4 659,116.2 659.9,119.4 660.8,129.9 661.7,134 662.6,133.9 663.5,130.7 664.4,135 665.3,148 666.2,145.8 667.1,138.8 668,132.7 668.9,134.9 669.8,141.1 670.7,148.1 671.6,139.2 672.5,139.3 673.4,147.3 674.3,159.5 675.2,151.6 676.1,124.5 677,126.4" fill="none" stroke="#ffb3c0" stroke-opacity="0.55" stroke-width="0.9"/>
<path d="M282.8,164.3 283.7,164 284.6,163.5 285.5,162.9 286.4,162.1 287.3,161.2 288.2,160.1 289.1,159.1 290,158 290.9,157 291.8,156.2 292.7,155.6 293.6,155.3 294.5,155.4 295.4,155.7 296.3,156.4 297.2,157.3 298.1,158.3 299,159.4 299.9,160.4 300.8,160.1 301.7,159.3 302.6,158 303.5,156.2 304.4,153.8 305.3,150.7 306.2,146.5 307.1,141.5 308,136.1 308.9,131.3 309.8,127.2 310.7,123.5 311.6,120.2 312.5,117.3 313.4,114.8 314.3,112.6 315.2,110.7 316.1,109 317,107.4 317.9,105.8 318.8,104.3 319.7,102.7 320.6,101 321.5,99.3 322.4,97.5 323.3,95.7 324.2,93.9 325.1,92.1 326,90.1 326.9,88.1 327.8,86 328.7,84 329.6,82 330.5,80.3 331.4,79.1 332.3,78.5 333.2,78.6 334.1,79.3 335,80.4 335.9,81.5 336.8,82.7 337.7,83.9 338.6,85.3 339.5,86.8 340.4,88.5 341.3,90.2 342.2,92 343.1,93.8 344,95.4 344.9,96.9 345.8,98.5 346.7,99.9 347.6,101 348.5,101.8 349.4,102.2 350.3,102.5 351.2,102.5 352.1,102.3 353,102 353.9,101.8 354.8,101.6 355.7,101.5 356.6,101.5 357.5,101.7 358.4,102.1 359.3,102.6 360.2,103.3 361.1,104.1 362,104.9 362.9,105.9 363.8,106.9 364.7,107.9 365.6,109 366.5,110 367.4,111 368.3,111.8 369.2,112.5 370.1,113 371,113.3 371.9,113.4 372.8,113.4 373.7,113.5 374.6,113.8 375.5,114.6 376.4,115.3 377.3,115.7 378.2,116.2 379.1,117.1 380,118.4 380.9,120.4 381.8,123 382.7,126.2 383.6,130 384.5,134.1 385.4,138 386.3,141.3 387.2,144.1 388.1,146.4 389,148.4 389.9,150 390.8,150.7 391.7,150.6 392.6,150 393.5,148.9 394.4,147.6 395.3,146.2 396.2,144.7 397.1,143.5 398,142.5 398.9,142 399.8,142.1 400.7,142.4 401.6,142.6 402.5,142.9 403.4,142.9 404.3,142.5 405.2,141.4 406.1,139.3 407,136.5 407.9,133.7 408.8,130.9 409.7,128.2 410.6,125.3 411.5,122.5 412.4,119.4 413.3,115.8 414.2,112.6 415.1,110.5 416,109.7 416.9,109.8 417.8,111 418.7,112.9 419.6,115.9 420.5,119.4 421.4,123.6 422.3,126.7 423.2,129.5 424.1,133.3 425,138 425.9,140.8 426.8,141.8 427.7,142.5 428.6,143.8 429.5,146.3 430.4,148.4 431.3,150 432.2,148 433.1,145.3 434,145.3 434.9,147 435.8,147.3 436.7,141.6 437.6,135.3 438.5,134.9 439.4,135.3 440.3,131.7 441.2,128 442.1,127.6 443,130.6 443.9,128.6 444.8,126.1 445.7,123.8 446.6,126.5 447.5,129.7 448.4,127.7 449.3,124.6 450.2,122.1 451.1,125 452,128 452.9,131.3 453.8,129.4 454.7,123.7 455.6,127.9 456.5,134.6 457.4,131.5 458.3,127.2 459.2,122.3 460.1,129.4 461,136.9 461.9,135.9 462.8,130.6 463.7,125.1 464.6,127.7 465.5,132.2 466.4,136.7 467.3,139.2 468.2,136.2 469.1,132.7 470,128.9 470.9,135.3 471.8,141.4 472.7,135.2 473.6,128.6 474.5,125.7 475.4,135.1 476.3,135.3 477.2,129.5 478.1,125.2 479,132.2 479.9,140.1 480.8,142 481.7,122.6 482.6,119.5 483.5,131.7 484.4,143.7 485.3,147.9 486.2,135.7 487.1,127.7 488,136.4 488.9,145.3 489.8,154.6 490.7,141.1 491.6,121.2 492.5,128.7 493.4,144.3 494.3,145.3 495.2,127.2 496.1,135.7 497,150.6 497.9,141.9 498.8,134 499.7,126.4 500.6,129.2 501.5,137.7 502.4,148.2 503.3,144.4 504.2,126.3 505.1,123.6 506,129.9 506.9,136.9 507.8,134.5 508.7,124.8 509.6,116.1 510.5,132.4 511.4,146.9 512.3,157.6 513.2,139.2 514.1,126.3 515,141.3 515.9,153.5 516.8,137.5 517.7,126.6 518.6,135.5 519.5,144.3 520.4,141.8 521.3,125.8 522.2,124.7 523.1,133 524,142 524.9,146.3 525.8,136.6 526.7,127.3 527.6,130.3 528.5,142.3 529.4,144.4 530.3,136.1 531.2,129 532.1,153.7 533,155.8 533.9,151.9 534.8,141.7 535.7,129.9 536.6,121.8 537.5,130.4 538.4,141.7 539.3,128.2 540.2,111.3 541.1,117.4 542,124 542.9,126.8 543.8,120.7 544.7,103.8 545.6,100.6 546.5,114.5 547.4,130.3 548.3,128.6 549.2,119.7 550.1,110 551,120.8 551.9,133.1 552.8,140.7 553.7,130.3 554.6,111.3 555.5,115.7 556.4,130.2 557.3,126.6 558.2,105.3 559.1,96.3 560,99 560.9,107.9 561.8,115.9 562.7,126.4 563.6,125.7 564.5,114.5 565.4,114.1 566.3,118.2 567.2,105.8 568.1,107.1 569,113.2 569.9,120 570.8,126.8 571.7,118.8 572.6,113.8 573.5,118.5 574.4,126.3 575.3,144.9 576.2,145.4 577.1,136.5 578,128.5 578.9,142.9 579.8,147.1 580.7,134 581.6,117.2 582.5,109.4 583.4,116.2 584.3,129.3 585.2,133.9 586.1,119.3 587,121 587.9,139.5 588.8,134.8 589.7,123.8 590.6,106 591.5,112.4 592.4,128.7 593.3,148.6 594.2,148 595.1,138.9 596,121.1 596.9,144.8 597.8,169.6 598.7,156.1 599.6,135 600.5,139.5 601.4,149.8 602.3,134.5 603.2,120.9 604.1,116.7 605,128.2 605.9,143 606.8,137.3 607.7,127.5 608.6,130.2 609.5,138.6 610.4,148.3 611.3,147.7 612.2,132.1 613.1,121.6 614,127.5 614.9,165.6 615.8,171.5 616.7,145.7 617.6,156.3 618.5,164.9 619.4,161 620.3,152 621.2,127 622.1,106.2 623,134.9 623.9,150.1 624.8,135.9 625.7,121 626.6,119.6 627.5,119.3 628.4,118.1 629.3,124.8 630.2,125.9 631.1,122.8 632,120.2 632.9,130.5 633.8,141.7 634.7,136.7 635.6,121.6 636.5,136.6 637.4,161.2 638.3,145.6 639.2,123.2 640.1,135.4 641,147.3 641.9,151.2 642.8,156.7 643.7,153.5 644.6,140.4 645.5,134.5 646.4,139.1 647.3,142.2 648.2,127.6 649.1,118 650,111.5 650.9,126.9 651.8,131.8 652.7,120.5 653.6,122.1 654.5,139.7 655.4,138.9 656.3,119 657.2,124 658.1,149.4 659,160.2 659.9,147.7 660.8,132.3 661.7,141.1 662.6,160.4 663.5,176.8 664.4,169.2 665.3,137.8 666.2,131 667.1,133.9 668,140.2 668.9,139.5 669.8,120.3 670.7,110.6 671.6,125.2 672.5,136.8 673.4,133.2 674.3,124.3 675.2,113.6 676.1,116.2 677,128.2" fill="none" stroke="#ffb3c0" stroke-opacity="0.55" stroke-width="0.9"/>
<path d="M282.8,163.3 283.7,162.8 284.6,162.3 285.5,161.8 286.4,161.3 287.3,160.8 288.2,160.4 289.1,160 290,159.6 290.9,159.3 291.8,159.1 292.7,158.9 293.6,158.8 294.5,158.7 295.4,158.7 296.3,158.8 297.2,158.9 298.1,159.1 299,159.3 299.9,159.6 300.8,158.8 301.7,157.8 302.6,156.8 303.5,155.6 304.4,154.3 305.3,152.6 306.2,150.1 307.1,146.7 308,142.8 308.9,139.3 309.8,136.4 310.7,133.6 311.6,131 312.5,128.3 313.4,125.6 314.3,122.9 315.2,120.1 316.1,117.3 317,114.4 317.9,111.4 318.8,108.5 319.7,105.6 320.6,102.7 321.5,100 322.4,97.3 323.3,94.8 324.2,92.5 325.1,90.3 326,88.3 326.9,86.5 327.8,84.8 328.7,83.3 329.6,82 330.5,81 331.4,80.5 332.3,80.6 333.2,81.1 334.1,81.9 335,82.9 335.9,83.9 336.8,84.9 337.7,85.9 338.6,87 339.5,88.2 340.4,89.5 341.3,91 342.2,92.5 343.1,94 344,95.4 344.9,96.8 345.8,98.3 346.7,99.7 347.6,101 348.5,102.1 349.4,102.9 350.3,103.6 351.2,104.1 352.1,104.5 353,104.8 353.9,105 354.8,105.3 355.7,105.4 356.6,105.6 357.5,105.7 358.4,105.9 359.3,105.9 360.2,105.9 361.1,106 362,106 362.9,106.1 363.8,106.3 364.7,106.6 365.6,107 366.5,107.4 367.4,107.9 368.3,108.5 369.2,109.2 370.1,110 371,110.9 371.9,111.9 372.8,113 373.7,114.4 374.6,116.2 375.5,118.6 376.4,120.8 377.3,122.7 378.2,124.3 379.1,126 380,127.8 380.9,130 381.8,132.5 382.7,135.2 383.6,137.9 384.5,140.6 385.4,143.3 386.3,145.7 387.2,147.8 388.1,149.5 389,151.2 389.9,152.7 390.8,153.6 391.7,153.9 392.6,153.9 393.5,153.6 394.4,153.1 395.3,152.6 396.2,151.9 397.1,151.3 398,150.7 398.9,150.2 399.8,149.9 400.7,149.5 401.6,149 402.5,148.2 403.4,147.1 404.3,145.4 405.2,143 406.1,139.6 407,135.5 407.9,131.5 408.8,127.8 409.7,124.4 410.6,121.3 411.5,118.3 412.4,115.4 413.3,112.7 414.2,110.6 415.1,109.4 416,109 416.9,110 417.8,112.2 418.7,116.2 419.6,120.5 420.5,125 421.4,128.4 422.3,131.2 423.2,133.8 424.1,136.2 425,141.9 425.9,145.8 426.8,146.1 427.7,145.9 428.6,145.1 429.5,147.6 430.4,150.1 431.3,152.5 432.2,152.1 433.1,150 434,147.3 434.9,144.7 435.8,144.3 436.7,143.5 437.6,140.3 438.5,136.3 439.4,132.4 440.3,130.8 441.2,131.9 442.1,131.6 443,126.7 443.9,123.3 444.8,125.9 445.7,128.7 446.6,126.5 447.5,123.4 448.4,121.5 449.3,127.6 450.2,132.5 451.1,130.2 452,127.7 452.9,125.3 453.8,127.4 454.7,131.6 455.6,136.7 456.5,136.4 457.4,135.6 458.3,134 459.2,136.2 460.1,142 461,147.5 461.9,146.7 462.8,141.6 463.7,141 464.6,148 465.5,154.1 466.4,154.4 467.3,146.5 468.2,137.9 469.1,140.7 470,148 470.9,155.1 471.8,154.8 472.7,145.6 473.6,136.5 474.5,131.7 475.4,136.2 476.3,141.5 477.2,147.5 478.1,141.8 479,134 479.9,125.9 480.8,133 481.7,143.3 482.6,153.6 483.5,156 484.4,146.1 485.3,136.4 486.2,129.7 487.1,136.5 488,143.1 488.9,149.5 489.8,138.6 490.7,126.8 491.6,136.6 492.5,147.4 493.4,156.9 494.3,150.6 495.2,139.8 496.1,129.2 497,128 497.9,140.6 498.8,152.1 499.7,152.9 500.6,145.1 501.5,131.5 502.4,122.8 503.3,133.6 504.2,146.2 505.1,135.4 506,122.1 506.9,112.5 507.8,129.5 508.7,146.1 509.6,156.8 510.5,130.5 511.4,125 512.3,136.8 513.2,138.1 514.1,128.2 515,124.4 515.9,133.8 516.8,142.8 517.7,143.9 518.6,137.6 519.5,135.8 520.4,141.5 521.3,147.1 522.2,140.4 523.1,132.9 524,125.4 524.9,140.3 525.8,150.5 526.7,142.7 527.6,134.8 528.5,123.8 529.4,128.3 530.3,145.4 531.2,137.3 532.1,129.9 533,125.4 533.9,125.9 534.8,135.3 535.7,141.4 536.6,137.8 537.5,129.3 538.4,123.6 539.3,126.9 540.2,136.2 541.1,127.5 542,116.4 542.9,117.5 543.8,129.6 544.7,134.3 545.6,141 546.5,134.3 547.4,128.5 548.3,122.8 549.2,132.2 550.1,143.6 551,135.6 551.9,122.5 552.8,112.8 553.7,131.4 554.6,143.9 555.5,136 556.4,128.5 557.3,114 558.2,114.1 559.1,115.4 560,123.4 560.9,125.8 561.8,114.9 562.7,134.3 563.6,143.1 564.5,140.5 565.4,127 566.3,106 567.2,115.7 568.1,127.8 569,139.9 569.9,130.3 570.8,109.8 571.7,123.4 572.6,139.7 573.5,136.6 574.4,136.5 575.3,141.2 576.2,131.9 577.1,136.1 578,152 578.9,160.4 579.8,155.7 580.7,147.7 581.6,138.5 582.5,122 583.4,134.6 584.3,152.3 585.2,150.5 586.1,133.8 587,116.6 587.9,126.2 588.8,137 589.7,152.5 590.6,140.9 591.5,121.8 592.4,116.5 593.3,127.2 594.2,142.4 595.1,151 596,133.3 596.9,123 597.8,141.2 598.7,152 599.6,157.7 600.5,144.7 601.4,129.8 602.3,117 603.2,127 604.1,139.7 605,155 605.9,158.6 606.8,151.1 607.7,142.7 608.6,147.8 609.5,152.3 610.4,161.6 611.3,153.8 612.2,136.9 613.1,125.2 614,131.8 614.9,151.4 615.8,162 616.7,151.8 617.6,135.2 618.5,133.6 619.4,140.1 620.3,144.6 621.2,139.5 622.1,124.8 623,113.1 623.9,118.9 624.8,142.5 625.7,164.5 626.6,154 627.5,125.4 628.4,105.3 629.3,124 630.2,144.7 631.1,159.2 632,151.6 632.9,129.5 633.8,119.8 634.7,132.5 635.6,140.6 636.5,146.6 637.4,146.9 638.3,133.8 639.2,137.7 640.1,140.7 641,135.5 641.9,130.2 642.8,131.3 643.7,143.2 644.6,153.9 645.5,155.9 646.4,145.1 647.3,125.5 648.2,119.3 649.1,132.4 650,149.2 650.9,152.4 651.8,142.4 652.7,137.1 653.6,143.6 654.5,154.2 655.4,138.3 656.3,122 657.2,128.1 658.1,143.1 659,152.3 659.9,139.1 660.8,124.4 661.7,124.9 662.6,125 663.5,145.2 664.4,155.5 665.3,137.3 666.2,126.9 667.1,125 668,131.4 668.9,140.6 669.8,139.7 670.7,125.8 671.6,116.1 672.5,111.4 673.4,122.6 674.3,138.9 675.2,127.5 676.1,114.8 677,128.1" fill="none" stroke="#ffb3c0" stroke-opacity="0.55" stroke-width="0.9"/>
<path d="M282.8,164.7 283.7,164.5 284.6,164.2 285.5,163.9 286.4,163.6 287.3,163.3 288.2,162.9 289.1,162.5 290,162.1 290.9,161.7 291.8,161.4 292.7,161 293.6,160.7 294.5,160.4 295.4,160.1 296.3,159.9 297.2,159.8 298.1,159.7 299,159.7 299.9,159.7 300.8,158.6 301.7,157.4 302.6,156.3 303.5,155 304.4,153.5 305.3,151.7 306.2,149.1 307.1,145.7 308,141.9 308.9,138.4 309.8,135.5 310.7,132.7 311.6,130 312.5,127.4 313.4,124.7 314.3,122 315.2,119.2 316.1,116.3 317,113.3 317.9,110.4 318.8,107.4 319.7,104.5 320.6,101.6 321.5,98.8 322.4,96.1 323.3,93.5 324.2,91.1 325.1,88.9 326,86.9 326.9,85 327.8,83.4 328.7,81.9 329.6,80.6 330.5,79.7 331.4,79.3 332.3,79.6 333.2,80.3 334.1,81.3 335,82.5 335.9,83.7 336.8,84.8 337.7,86 338.6,87.2 339.5,88.5 340.4,90.1 341.3,91.7 342.2,93.4 343.1,95 344,96.6 344.9,98.3 345.8,100 346.7,101.6 347.6,103.1 348.5,104.4 349.4,105.4 350.3,106.3 351.2,107 352.1,107.7 353,108.2 353.9,108.7 354.8,109.1 355.7,109.5 356.6,109.8 357.5,110 358.4,110.2 359.3,110.2 360.2,110.2 361.1,110.2 362,110.2 362.9,110.3 363.8,110.4 364.7,110.7 365.6,111.1 366.5,111.6 367.4,112.2 368.3,112.8 369.2,113.6 370.1,114.4 371,115.3 371.9,116.3 372.8,117.5 373.7,118.9 374.6,120.7 375.5,123.1 376.4,125.4 377.3,127.1 378.2,128.7 379.1,130.2 380,131.9 380.9,133.9 381.8,136.2 382.7,138.5 383.6,140.9 384.5,143.1 385.4,145.3 386.3,147.3 387.2,149 388.1,150.4 389,151.7 389.9,152.9 390.8,153.4 391.7,153.4 392.6,153 393.5,152.3 394.4,151.5 395.3,150.6 396.2,149.6 397.1,148.6 398,147.7 398.9,147 399.8,146.6 400.7,146.2 401.6,145.6 402.5,144.8 403.4,143.7 404.3,142.2 405.2,139.9 406.1,136.6 407,132.8 407.9,129.1 408.8,125.8 409.7,122.8 410.6,120.3 411.5,118.1 412.4,116 413.3,113.8 414.2,112.6 415.1,111.6 416,111.1 416.9,112.8 417.8,116.4 418.7,121 419.6,125.6 420.5,128.9 421.4,132.3 422.3,135.8 423.2,141 424.1,145.8 425,149 425.9,149.9 426.8,151.8 427.7,156.6 428.6,158.3 429.5,155.7 430.4,157.7 431.3,160.1 432.2,161.1 433.1,158.3 434,154.9 434.9,155 435.8,155.6 436.7,155.8 437.6,153.1 438.5,149 439.4,144.8 440.3,144.9 441.2,145.1 442.1,142.4 443,140 443.9,137.6 444.8,137.9 445.7,138.5 446.6,139.4 447.5,136.9 448.4,133.7 449.3,130.7 450.2,132.6 451.1,134.7 452,135.4 452.9,133.6 453.8,133.4 454.7,136.7 455.6,138.6 456.5,139 457.4,137.9 458.3,135.8 459.2,140.5 460.1,145.6 461,150.3 461.9,147.2 462.8,140.4 463.7,133.6 464.6,139.7 465.5,145.9 466.4,147 467.3,140 468.2,132.3 469.1,129.2 470,139.6 470.9,141.6 471.8,136.7 472.7,134.1 473.6,136 474.5,138.2 475.4,133.8 476.3,121 477.2,126.1 478.1,135.5 479,144.2 479.9,137.1 480.8,130 481.7,123.3 482.6,133.2 483.5,141 484.4,136.3 485.3,131.8 486.2,127.3 487.1,134.6 488,145.3 488.9,156.6 489.8,147.9 490.7,128.6 491.6,136.5 492.5,144.8 493.4,149.2 494.3,143.3 495.2,137.2 496.1,135.3 497,149.8 497.9,154.3 498.8,153.6 499.7,147.5 500.6,140 501.5,141.9 502.4,152.4 503.3,152.4 504.2,152.6 505.1,145.9 506,132.4 506.9,126 507.8,141.1 508.7,155.8 509.6,157.2 510.5,142 511.4,128.2 512.3,141 513.2,154.6 514.1,149.1 515,133.1 515.9,152.5 516.8,161.4 517.7,141.7 518.6,136.8 519.5,146.2 520.4,155.4 521.3,157.1 522.2,145.5 523.1,145 524,150.9 524.9,155.5 525.8,150.3 526.7,145.2 527.6,140.1 528.5,153.7 529.4,156.7 530.3,157.1 531.2,143.7 532.1,127.5 533,155.8 533.9,155.2 534.8,153.4 535.7,143 536.6,139.6 537.5,140.4 538.4,144.1 539.3,141.1 540.2,119.3 541.1,134.5 542,139.6 542.9,135.1 543.8,129.6 544.7,126.3 545.6,135.2 546.5,123.3 547.4,116.6 548.3,125.2 549.2,131.3 550.1,137.7 551,127.1 551.9,116.1 552.8,110.9 553.7,127 554.6,141.2 555.5,135.6 556.4,121.3 557.3,105.6 558.2,111.3 559.1,114.2 560,123.6 560.9,120.7 561.8,121.3 562.7,133.6 563.6,137.9 564.5,136.8 565.4,139.8 566.3,132.2 567.2,120.2 568.1,119.7 569,133.3 569.9,142 570.8,140 571.7,135.3 572.6,119.3 573.5,113.6 574.4,125.5 575.3,142 576.2,136 577.1,131.9 578,131.5 578.9,147.3 579.8,155.8 580.7,161 581.6,168.3 582.5,146.6 583.4,127.6 584.3,139.4 585.2,155.9 586.1,164.5 587,158.2 587.9,141.5 588.8,135.8 589.7,149.5 590.6,153.2 591.5,134.9 592.4,121.3 593.3,113.8 594.2,127.2 595.1,146 596,165.3 596.9,161.7 597.8,151.7 598.7,141 599.6,140.8 600.5,155.4 601.4,158.3 602.3,151.1 603.2,137.5 604.1,133.2 605,155.8 605.9,162 606.8,167.8 607.7,151.2 608.6,147.6 609.5,157.1 610.4,166.6 611.3,163.6 612.2,145.8 613.1,131.9 614,148.5 614.9,170.3 615.8,171.5 616.7,160.1 617.6,146.7 618.5,137.6 619.4,144.9 620.3,153.6 621.2,154.1 622.1,132 623,105.9 623.9,127.1 624.8,153.4 625.7,152.8 626.6,142.8 627.5,120.9 628.4,126.1 629.3,136 630.2,129.4 631.1,121.8 632,137 632.9,156.1 633.8,162.9 634.7,141.1 635.6,128.2 636.5,143.3 637.4,163.1 638.3,161.1 639.2,144.7 640.1,139.3 641,143.7 641.9,151.2 642.8,156.7 643.7,152 644.6,135.1 645.5,138.6 646.4,145.7 647.3,146.9 648.2,140.5 649.1,137.8 650,144.2 650.9,155.8 651.8,159.7 652.7,149.8 653.6,138.7 654.5,128.8 655.4,144.8 656.3,158.3 657.2,147.1 658.1,136.6 659,139.7 659.9,141.8 660.8,124.6 661.7,118.1 662.6,131.8 663.5,147.6 664.4,154.5 665.3,143.5 666.2,135.4 667.1,127 668,128.7 668.9,143.2 669.8,155.1 670.7,148.5 671.6,142.7 672.5,139.9 673.4,143 674.3,150.6 675.2,149.4 676.1,136.4 677,146.2" fill="none" stroke="#ffb3c0" stroke-opacity="0.55" stroke-width="0.9"/>
<path d="M282.8,164.2 283.7,164 284.6,163.9 285.5,163.7 286.4,163.7 287.3,163.7 288.2,163.7 289.1,163.8 290,164 290.9,164.2 291.8,164.5 292.7,164.8 293.6,165 294.5,165.3 295.4,165.4 296.3,165.5 297.2,165.5 298.1,165.4 299,165.1 299.9,164.8 300.8,163 301.7,161.1 302.6,159.2 303.5,157.1 304.4,154.8 305.3,152.3 306.2,149.2 307.1,145.4 308,141.3 308.9,137.8 309.8,135 310.7,132.5 311.6,130.2 312.5,128.1 313.4,126 314.3,123.9 315.2,121.7 316.1,119.5 317,117.1 317.9,114.7 318.8,112.1 319.7,109.6 320.6,107 321.5,104.5 322.4,102.1 323.3,99.7 324.2,97.5 325.1,95.3 326,93.1 326.9,91 327.8,89 328.7,87.2 329.6,85.4 330.5,84 331.4,83 332.3,82.7 333.2,82.7 334.1,83 335,83.6 335.9,84.3 336.8,85.1 337.7,86 338.6,87 339.5,88.2 340.4,89.5 341.3,91.1 342.2,92.6 343.1,94.2 344,95.8 344.9,97.4 345.8,99.1 346.7,100.7 347.6,102.2 348.5,103.6 349.4,104.7 350.3,105.7 351.2,106.5 352.1,107.3 353,108 353.9,108.7 354.8,109.3 355.7,110 356.6,110.6 357.5,111.1 358.4,111.6 359.3,112 360.2,112.2 361.1,112.5 362,112.7 362.9,112.9 363.8,113.2 364.7,113.5 365.6,113.9 366.5,114.4 367.4,114.9 368.3,115.3 369.2,115.6 370.1,115.9 371,116.1 371.9,116.3 372.8,116.4 373.7,116.7 374.6,117.3 375.5,118.3 376.4,119.2 377.3,119.8 378.2,120.4 379.1,121.2 380,122.4 380.9,124.3 381.8,126.8 382.7,129.9 383.6,133.7 384.5,137.9 385.4,142.1 386.3,146.2 387.2,150 388.1,153.6 389,157.2 389.9,160.4 390.8,162.8 391.7,163.6 392.6,164.1 393.5,164.5 394.4,164.8 395.3,165.1 396.2,165.2 397.1,165.4 398,165.4 398.9,165.4 399.8,165.2 400.7,164.9 401.6,164.5 402.5,162.7 403.4,160.2 404.3,157.2 405.2,153.4 406.1,148.7 407,143.4 407.9,138.2 408.8,133.3 409.7,128.8 410.6,124.6 411.5,120.8 412.4,117.4 413.3,114.3 414.2,111.7 415.1,110.2 416,109.8 416.9,111.1 417.8,113.8 418.7,118.1 419.6,123.3 420.5,127 421.4,130.2 422.3,135.4 423.2,140.6 424.1,144.9 425,147.2 425.9,148.8 426.8,153.1 427.7,157.4 428.6,161.1 429.5,160.8 430.4,159.4 431.3,162.2 432.2,164.2 433.1,164.2 434,163.9 434.9,162.7 435.8,162.2 436.7,160.6 437.6,158.8 438.5,156.7 439.4,153.3 440.3,147.3 441.2,145.8 442.1,147.2 443,145.4 443.9,138.7 444.8,138.3 445.7,139.6 446.6,139.5 447.5,133.4 448.4,130.6 449.3,132.9 450.2,131.3 451.1,127.9 452,124.6 452.9,125.3 453.8,127.4 454.7,130.3 455.6,128.5 456.5,125.6 457.4,121.8 458.3,131.4 459.2,144.9 460.1,145 461,141.1 461.9,137.1 462.8,140 463.7,149.9 464.6,153.5 465.5,152.2 466.4,146.3 467.3,140.6 468.2,147.2 469.1,153.8 470,156 470.9,154.2 471.8,147.9 472.7,142.4 473.6,148.3 474.5,153.7 475.4,153.9 476.3,152.2 477.2,147.2 478.1,142 479,149.2 479.9,157 480.8,157.6 481.7,144.7 482.6,131.5 483.5,135.8 484.4,144.7 485.3,153.5 486.2,155 487.1,146.1 488,137.2 488.9,144.5 489.8,152.1 490.7,157.8 491.6,152.8 492.5,142.5 493.4,153.6 494.3,156.6 495.2,156.2 496.1,154.8 497,141.4 497.9,140.9 498.8,147 499.7,152.7 500.6,151.8 501.5,146.2 502.4,139.7 503.3,146.9 504.2,152.6 505.1,152.9 506,150.5 506.9,139 507.8,147.4 508.7,156.1 509.6,153 510.5,138.3 511.4,140.2 512.3,152.2 513.2,160.8 514.1,161.4 515,151.8 515.9,141.6 516.8,140.2 517.7,149.1 518.6,157.5 519.5,159.6 520.4,158.4 521.3,152.7 522.2,147 523.1,150.3 524,154.1 524.9,150.2 525.8,145.4 526.7,148.9 527.6,155 528.5,148.9 529.4,130.5 530.3,138.7 531.2,157.3 532.1,156.7 533,155.8 533.9,151.9 534.8,141.8 535.7,140.4 536.6,134.1 537.5,140.4 538.4,144.1 539.3,137.2 540.2,132.1 541.1,141.2 542,139.6 542.9,139.5 543.8,132.9 544.7,115.4 545.6,117.5 546.5,128.3 547.4,140.2 548.3,134.8 549.2,124.4 550.1,120.5 551,131.4 551.9,140.5 552.8,136.5 553.7,123.6 554.6,118.8 555.5,139 556.4,154.4 557.3,143.3 558.2,123.4 559.1,115.1 560,123.8 560.9,135.9 561.8,138.3 562.7,141.9 563.6,145 564.5,144.2 565.4,147.7 566.3,145.1 567.2,134.6 568.1,131.8 569,139.1 569.9,142.9 570.8,140 571.7,140.5 572.6,140.9 573.5,135.3 574.4,133.9 575.3,147.2 576.2,146.5 577.1,127.4 578,142.7 578.9,158.6 579.8,156.1 580.7,143.3 581.6,138.1 582.5,140 583.4,145.6 584.3,157.1 585.2,143.1 586.1,119.8 587,127 587.9,150.5 588.8,167.1 589.7,159.1 590.6,137.5 591.5,113.4 592.4,119.2 593.3,137.8 594.2,152.1 595.1,144.8 596,130.9 596.9,158.2 597.8,169.6 598.7,160.4 599.6,150.4 600.5,158.1 601.4,158.3 602.3,158.5 603.2,155.5 604.1,149 605,155.8 605.9,162 606.8,168 607.7,165.6 608.6,157.8 609.5,158.3 610.4,166.6 611.3,163.6 612.2,145.8 613.1,126.5 614,155.7 614.9,170.5 615.8,166.3 616.7,145.5 617.6,140.5 618.5,156.4 619.4,161 620.3,157.6 621.2,137.6 622.1,118.4 623,121.9 623.9,132 624.8,144.9 625.7,131.2 626.6,124.9 627.5,130.1 628.4,132.7 629.3,148 630.2,153.8 631.1,143.6 632,134.2 632.9,156.5 633.8,163.8 634.7,149 635.6,134.8 636.5,146.9 637.4,172.2 638.3,164 639.2,148.4 640.1,135.2 641,152.4 641.9,151.2 642.8,156.7 643.7,164 644.6,160.3 645.5,152.9 646.4,150.8 647.3,151.2 648.2,151.2 649.1,150.4 650,149.5 650.9,157.6 651.8,159.2 652.7,156 653.6,145 654.5,132.7 655.4,121.4 656.3,140 657.2,155.5 658.1,163.3 659,152.2 659.9,123.4 660.8,129 661.7,154.3 662.6,165.7 663.5,163.1 664.4,139.1 665.3,149.7 666.2,156.3 667.1,146.7 668,139.2 668.9,151.2 669.8,157 670.7,157.7 671.6,152.5 672.5,149.2 673.4,158.2 674.3,163.4 675.2,141 676.1,118.7 677,138.3" fill="none" stroke="#ffb3c0" stroke-opacity="0.55" stroke-width="0.9"/>
<path d="M282.8,165.4 283.7,165.4 284.6,165.3 285.5,165.3 286.4,165.3 287.3,165.2 288.2,165.2 289.1,165.3 290,165.4 290.9,165.5 291.8,165.7 292.7,165.9 293.6,166.2 294.5,166.5 295.4,166.8 296.3,166.9 297.2,167 298.1,167.1 299,167.2 299.9,167.3 300.8,166.1 301.7,164.5 302.6,162.7 303.5,160.8 304.4,158.6 305.3,156 306.2,152.7 307.1,148.5 308,144 308.9,140.1 309.8,136.9 310.7,134 311.6,131.3 312.5,128.8 313.4,126.4 314.3,124 315.2,121.6 316.1,119.1 317,116.6 317.9,114.2 318.8,111.7 319.7,109.2 320.6,106.7 321.5,104.4 322.4,102.1 323.3,99.9 324.2,97.7 325.1,95.7 326,93.8 326.9,92 327.8,90.4 328.7,88.9 329.6,87.5 330.5,86.3 331.4,85.4 332.3,85.1 333.2,85.1 334.1,85.2 335,85.5 335.9,86 336.8,86.6 337.7,87.4 338.6,88.3 339.5,89.5 340.4,90.8 341.3,92.3 342.2,93.8 343.1,95.4 344,96.9 344.9,98.5 345.8,100.2 346.7,101.9 347.6,103.4 348.5,104.7 349.4,105.7 350.3,106.6 351.2,107.4 352.1,108 353,108.5 353.9,109 354.8,109.4 355.7,109.7 356.6,109.9 357.5,110.1 358.4,110.2 359.3,110.3 360.2,110.3 361.1,110.3 362,110.4 362.9,110.5 363.8,110.8 364.7,111.3 365.6,112 366.5,112.8 367.4,113.8 368.3,115 369.2,116.3 370.1,117.8 371,119.4 371.9,121.2 372.8,122.6 373.7,124.1 374.6,126.1 375.5,128.6 376.4,130.9 377.3,132.7 378.2,134.2 379.1,135.8 380,137.5 380.9,139.7 381.8,142.2 382.7,144.8 383.6,147.3 384.5,149.6 385.4,151.8 386.3,154.1 387.2,156.2 388.1,157.9 389,159.6 389.9,161.1 390.8,162.3 391.7,163.1 392.6,163.8 393.5,164.5 394.4,164.8 395.3,165.1 396.2,165.2 397.1,165.4 398,165.4 398.9,165.4 399.8,165.2 400.7,164.9 401.6,164.5 402.5,164 403.4,163 404.3,161.5 405.2,159.3 406.1,156.1 407,151.5 407.9,146.8 408.8,142.3 409.7,137.6 410.6,133.1 411.5,128.7 412.4,124.5 413.3,120.4 414.2,117 415.1,114.6 416,112.8 416.9,113 417.8,116.1 418.7,120.6 419.6,123.9 420.5,126.3 421.4,131.4 422.3,136.8 423.2,140.7 424.1,144.2 425,147.1 425.9,150.9 426.8,154.8 427.7,156 428.6,156.7 429.5,158 430.4,160.7 431.3,163.1 432.2,164.2 433.1,162.5 434,160.2 434.9,158 435.8,158 436.7,156.1 437.6,151.6 438.5,146.8 439.4,146 440.3,146.5 441.2,147.2 442.1,144.9 443,141.5 443.9,141 444.8,142.9 445.7,141.3 446.6,138.8 447.5,136.4 448.4,138.6 449.3,138 450.2,137.4 451.1,137 452,136.7 452.9,136.6 453.8,136.8 454.7,137.5 455.6,138.6 456.5,140.5 457.4,142.9 458.3,141.3 459.2,146 460.1,149.3 461,150.4 461.9,151.3 462.8,152.1 463.7,149.7 464.6,152.1 465.5,154.1 466.4,154.7 467.3,150.8 468.2,145.6 469.1,140.1 470,147.7 470.9,155.6 471.8,154.8 472.7,154 473.6,148.8 474.5,153.6 475.4,153.9 476.3,154.4 477.2,149.2 478.1,141.6 479,155 479.9,157 480.8,157.6 481.7,147.5 482.6,152.8 483.5,158.7 484.4,158.9 485.3,158.9 486.2,154.5 487.1,144.3 488,145.4 488.9,155.4 489.8,158.1 490.7,153.9 491.6,133 492.5,141.3 493.4,151 494.3,156.6 495.2,156.2 496.1,145.2 497,130.2 497.9,135.9 498.8,145.9 499.7,152.9 500.6,152.5 501.5,146.4 502.4,135.5 503.3,147.8 504.2,152.6 505.1,152.9 506,153.5 506.9,154.3 507.8,140.5 508.7,134.3 509.6,152.2 510.5,158.2 511.4,159.1 512.3,160 513.2,147.5 514.1,149.6 515,161.7 515.9,161.6 516.8,153.9 517.7,138.7 518.6,152.3 519.5,159.6 520.4,156.2 521.3,146.5 522.2,157.3 523.1,156.6 524,156 524.9,149.3 525.8,138.5 526.7,145.5 527.6,155 528.5,148.9 529.4,132.7 530.3,131.4 531.2,148.5 532.1,156.7 533,155.8 533.9,153.9 534.8,142.2 535.7,138.6 536.6,135.1 537.5,140.4 538.4,144.1 539.3,145.2 540.2,132.2 541.1,119.3 542,123.7 542.9,135.4 543.8,145.8 544.7,132.2 545.6,123.2 546.5,132 547.4,141.8 548.3,143.7 549.2,136.9 550.1,129.8 551,124.7 551.9,133 552.8,146 553.7,150.5 554.6,150 555.5,152.6 556.4,153.8 557.3,145.3 558.2,134.7 559.1,128.5 560,131.4 560.9,131 561.8,125.3 562.7,138 563.6,145 564.5,147.1 565.4,147.7 566.3,138.3 567.2,134.6 568.1,131.8 569,138.5 569.9,134.7 570.8,122.3 571.7,133.2 572.6,140.9 573.5,136.6 574.4,134.7 575.3,134.5 576.2,135.5 577.1,151.7 578,157.6 578.9,149.8 579.8,153.7 580.7,161 581.6,168.8 582.5,162.5 583.4,145.7 584.3,152.3 585.2,163.6 586.1,164.5 587,164.7 587.9,155.6 588.8,145 589.7,160.6 590.6,164.8 591.5,152.8 592.4,141.7 593.3,129.7 594.2,124.8 595.1,134.6 596,150.3 596.9,163.7 597.8,167.5 598.7,153.3 599.6,140.6 600.5,129.9 601.4,137.2 602.3,151.4 603.2,156 604.1,152.8 605,140.5 605.9,136 606.8,154.9 607.7,165.6 608.6,156 609.5,153.2 610.4,152.8 611.3,156.4 612.2,153.9 613.1,153.1 614,141.5 614.9,147.6 615.8,161.8 616.7,163.9 617.6,163.5 618.5,162.6 619.4,148.6 620.3,132.4 621.2,134.1 622.1,146 623,150.2 623.9,149 624.8,131.3 625.7,156.2 626.6,174 627.5,155 628.4,136.1 629.3,145.7 630.2,158 631.1,159.2 632,161.2 632.9,157.6 633.8,163.8 634.7,149.4 635.6,140.9 636.5,156 637.4,171.6 638.3,164 639.2,152.2 640.1,151.1 641,147 641.9,151.2 642.8,156.7 643.7,164 644.6,163.9 645.5,152.3 646.4,144.7 647.3,150 648.2,151.2 649.1,151.3 650,153.2 650.9,164 651.8,159.7 652.7,156 653.6,149 654.5,140 655.4,152.5 656.3,161.9 657.2,161.9 658.1,163.3 659,153.2 659.9,148.1 660.8,143.3 661.7,154.3 662.6,165.7 663.5,173.4 664.4,163.2 665.3,160.3 666.2,156.3 667.1,154.8 668,157.9 668.9,143.2 669.8,132.7 670.7,144.5 671.6,161.1 672.5,162.8 673.4,152.6 674.3,140 675.2,145.2 676.1,153.7 677,158.5" fill="none" stroke="#ffb3c0" stroke-opacity="0.55" stroke-width="0.9"/>
<path d="M282.8,137 283.7,134.3 284.6,131.7 285.5,129.3 286.4,127 287.3,124.9 288.2,122.9 289.1,121 290,119.1 290.9,117.3 291.8,115.5 292.7,113.7 293.6,111.8 294.5,110 295.4,108.3 296.3,106.5 297.2,104.7 298.1,103 299,101.3 299.9,99.7 300.8,98 301.7,96.5 302.6,94.9 303.5,93.5 304.4,92 305.3,90.7 306.2,89.3 307.1,88 308,86.6 308.9,85.3 309.8,84 310.7,82.6 311.6,81.3 312.5,80 313.4,78.7 314.3,77.5 315.2,76.2 316.1,74.9 317,73.7 317.9,72.4 318.8,71.2 319.7,69.9 320.6,68.6 321.5,67.2 322.4,65.7 323.3,63.8 324.2,61.6 325.1,59.7 326,57.6 326.9,55 327.8,52.4 328.7,50.5 329.6,49.2 330.5,48.2 331.4,47.7 332.3,47.9 333.2,48.6 334.1,49.7 335,51 335.9,52.7 336.8,54.6 337.7,56.4 338.6,58.1 339.5,59.7 340.4,61.3 341.3,62.8 342.2,64.3 343.1,65.7 344,67.1 344.9,68.4 345.8,69.7 346.7,71 347.6,72.4 348.5,73.7 349.4,74.9 350.3,75.8 351.2,76.5 352.1,77 353,77.4 353.9,77.6 354.8,77.7 355.7,77.7 356.6,77.6 357.5,77.5 358.4,77.3 359.3,77.1 360.2,76.8 361.1,76.3 362,75.8 362.9,75.1 363.8,74.2 364.7,73.3 365.6,72.2 366.5,71 367.4,69.4 368.3,67.6 369.2,66 370.1,64.3 371,62.5 371.9,60.6 372.8,58.7 373.7,56.8 374.6,54.9 375.5,53.8 376.4,52.9 377.3,52.1 378.2,51.3 379.1,50.7 380,50.3 380.9,50.1 381.8,50.5 382.7,52.2 383.6,55.1 384.5,58.8 385.4,62.7 386.3,66.6 387.2,70.6 388.1,75 389,79.4 389.9,82.6 390.8,84.5 391.7,85.2 392.6,85.3 393.5,85 394.4,84.3 395.3,83.1 396.2,81.6 397.1,80 398,78.4 398.9,77.4 399.8,78 400.7,79.2 401.6,80.2 402.5,81.2 403.4,81.5 404.3,80.8 405.2,79.1 406.1,76.9 407,73.8 407.9,69.4 408.8,63 409.7,55 410.6,49.2 411.5,44.3 412.4,40.1 413.3,37.7 414.2,38.1 415.1,40.5 416,43.3 416.9,46.4 417.8,50.1 418.7,53.3 419.6,55.9 420.5,58.6 421.4,61 422.3,63.2 423.2,64.9 424.1,65.9 425,67.5 425.9,69.8 426.8,71.7 427.7,72.6 428.6,72.8 429.5,72.5 430.4,71.5 431.3,69.8 432.2,67.8 433.1,65.8 434,64.2 434.9,62.2 435.8,59.4 436.7,56.1 437.6,52.5 438.5,48.6 439.4,45.4 440.3,44.2 441.2,45.3 442.1,47.6 443,50 443.9,52.2 444.8,54.5 445.7,56.9 446.6,59.1 447.5,61.2 448.4,63.7 449.3,66 450.2,67.6 451.1,67.5 452,64.5 452.9,59.1 453.8,53.2 454.7,48 455.6,42.6 456.5,38 457.4,34.5 458.3,32.3 459.2,32.1 460.1,33.6 461,35.5 461.9,36.9 462.8,37.5 463.7,37.8 464.6,37.9 465.5,37.9 466.4,38 467.3,37.8 468.2,38.3 469.1,40.1 470,42 470.9,43.8 471.8,45.5 472.7,47 473.6,47.9 474.5,47.6 475.4,46.3 476.3,44.7 477.2,43.6 478.1,43.6 479,44.6 479.9,45.9 480.8,46.9 481.7,47.2 482.6,46.9 483.5,46.3 484.4,45.7 485.3,45.2 486.2,45.1 487.1,45 488,44.9 488.9,44.4 489.8,43.5 490.7,42.2 491.6,40.9 492.5,39.7 493.4,38.8 494.3,37.9 495.2,37.7 496.1,38.7 497,41.2 497.9,43.1 498.8,42.9 499.7,40.8 500.6,37.7 501.5,34.3 502.4,30.2 503.3,25.8 504.2,21.9 505.1,19 506,17.9 506.9,17.4 507.8,17.6 508.7,18.9 509.6,23.8 510.5,31.3 511.4,39 512.3,46.8 513.2,52.1 514.1,54.2 515,54.3 515.9,53.4 516.8,52.4 517.7,51.6 518.6,50.5 519.5,49.2 520.4,47.9 521.3,46.7 522.2,45.4 523.1,44.2 524,42.8 524.9,41.1 525.8,39 526.7,36.8 527.6,34.4 528.5,32.1 529.4,29.8 530.3,27.4 531.2,25.1 532.1,23.1 533,21.4 533.9,19.9 534.8,20.3 535.7,28.1 536.6,39.5 537.5,30.7 538.4,39.8 539.3,45.2 540.2,39.4 541.1,37 542,35.8 542.9,25 543.8,14 544.7,18 545.6,32.5 546.5,34.7 547.4,26.1 548.3,25.6 549.2,27.1 550.1,26.2 551,24.9 551.9,19.5 552.8,15.3 553.7,16.3 554.6,19.6 555.5,22.6 556.4,24.4 557.3,26.5 558.2,19.9 559.1,15.2 560,14 560.9,4 561.8,14.5 562.7,14.1 563.6,10.8 564.5,18.9 565.4,25.6 566.3,22 567.2,15.4 568.1,17.7 569,18.4 569.9,14.2 570.8,15.3 571.7,18.3 572.6,16.2 573.5,6.4 574.4,4.4 575.3,5.8 576.2,4.7 577.1,11.8 578,20.1 578.9,29.6 579.8,39.4 580.7,45.6 581.6,45.3 582.5,33.6 583.4,18.5 584.3,10.1 585.2,4 586.1,1.9 587,8.2 587.9,9.8 588.8,-2.6 589.7,-1.6 590.6,9.3 591.5,15.3 592.4,16.2 593.3,11 594.2,6.9 595.1,8.1 596,1.5 596.9,-2.4 597.8,12 598.7,19.2 599.6,7.5 600.5,-1.4 601.4,8.7 602.3,11.3 603.2,12 604.1,10.5 605,1.2 605.9,1 606.8,5.7 607.7,8.4 608.6,16.1 609.5,19.6 610.4,14.4 611.3,14.2 612.2,18 613.1,16.6 614,21.3 614.9,26.5 615.8,18.4 616.7,14.7 617.6,11.1 618.5,12.1 619.4,15.4 620.3,12.9 621.2,14.3 622.1,19.4 623,23 623.9,19.8 624.8,10.1 625.7,5 626.6,10.7 627.5,17.5 628.4,20.7 629.3,18.8 630.2,16.5 631.1,20.7 632,24.3 632.9,30.4 633.8,29.4 634.7,27.5 635.6,20.2 636.5,13.6 637.4,12.2 638.3,16.2 639.2,20.7 640.1,18.5 641,24 641.9,34.5 642.8,24.4 643.7,10.1 644.6,7.9 645.5,12.1 646.4,17.9 647.3,19.7 648.2,21.1 649.1,31.6 650,30.6 650.9,10.3 651.8,6.7 652.7,15.2 653.6,14.2 654.5,10.4 655.4,14.4 656.3,16.5 657.2,18.7 658.1,22.6 659,20.2 659.9,9 660.8,-7.7 661.7,0.6 662.6,17.8 663.5,23.4 664.4,19.1 665.3,13.8 666.2,15.4 667.1,22.5 668,21.5 668.9,11.8 669.8,12.7 670.7,25.4 671.6,33.8 672.5,30.8 673.4,25.4 674.3,17 675.2,23.6 676.1,33.9 677,32.1 677,133.6 676.1,134.2 675.2,127.1 674.3,122 673.4,113.5 672.5,112.3 671.6,119.5 670.7,126.5 669.8,133.1 668.9,137.7 668,137.7 667.1,136 666.2,130.5 665.3,124.1 664.4,125.6 663.5,133 662.6,136.1 661.7,129.2 660.8,126.3 659.9,125.2 659,126.9 658.1,129.1 657.2,129.8 656.3,130.7 655.4,127.5 654.5,127.8 653.6,124.6 652.7,123 651.8,126.6 650.9,129.4 650,131.5 649.1,133.1 648.2,133.3 647.3,132.7 646.4,130.7 645.5,127 644.6,117 643.7,113.2 642.8,123.3 641.9,131 641,133.5 640.1,122.5 639.2,122.6 638.3,144.2 637.4,147.8 636.5,133.6 635.6,125.6 634.7,126.6 633.8,125 632.9,126.3 632,134 631.1,134.8 630.2,125.1 629.3,123.5 628.4,122 627.5,116 626.6,117.6 625.7,108.2 624.8,100.7 623.9,119 623,133.1 622.1,137.3 621.2,136.8 620.3,133.5 619.4,131.3 618.5,128.9 617.6,124.7 616.7,125.9 615.8,125.4 614.9,118.3 614,119.8 613.1,126.3 612.2,124.1 611.3,115.9 610.4,121.8 609.5,127.9 608.6,128 607.7,125.7 606.8,127.3 605.9,135.7 605,137.2 604.1,134.9 603.2,128.6 602.3,123.9 601.4,133.9 600.5,149.5 599.6,143.4 598.7,129.1 597.8,128 596.9,129.1 596,132.1 595.1,138.6 594.2,141.3 593.3,133.8 592.4,130.9 591.5,136.1 590.6,132.6 589.7,127.3 588.8,126.2 587.9,127.3 587,119.3 586.1,114.7 585.2,124.2 584.3,128.4 583.4,132.4 582.5,139 581.6,144.8 580.7,140.7 579.8,124.9 578.9,112.8 578,117 577.1,127 576.2,132.1 575.3,137.7 574.4,127.7 573.5,120.4 572.6,109.4 571.7,106.8 570.8,115.1 569.9,117.2 569,120.1 568.1,122.9 567.2,122.8 566.3,125.1 565.4,131.2 564.5,130.9 563.6,121.7 562.7,111.2 561.8,106 560.9,107.7 560,109.1 559.1,109.2 558.2,114.8 557.3,117.9 556.4,115.1 555.5,113.6 554.6,120.3 553.7,125.4 552.8,122.3 551.9,123.1 551,123.7 550.1,128.8 549.2,136.5 548.3,134.2 547.4,121.6 546.5,118.3 545.6,120.6 544.7,120.6 543.8,120.9 542.9,124.9 542,126.3 541.1,121.8 540.2,121.1 539.3,130.5 538.4,137.8 537.5,124.1 536.6,112.2 535.7,105.6 534.8,108.5 533.9,114.4 533,117.7 532.1,117.6 531.2,118.7 530.3,126.5 529.4,128.9 528.5,129.5 527.6,129.7 526.7,129.7 525.8,129.8 524.9,130 524,130.4 523.1,130.6 522.2,130.9 521.3,131.3 520.4,131.7 519.5,132.5 518.6,133.6 517.7,134.9 516.8,136.1 515.9,136.9 515,137 514.1,136.1 513.2,134.5 512.3,132.5 511.4,130.5 510.5,128.7 509.6,127.6 508.7,126.7 507.8,126.1 506.9,125.6 506,125.3 505.1,125 504.2,124.9 503.3,125 502.4,125.2 501.5,125.4 500.6,125.8 499.7,126.2 498.8,126.7 497.9,127.4 497,128.1 496.1,128.7 495.2,129 494.3,128.9 493.4,128.4 492.5,127.7 491.6,127 490.7,126.4 489.8,125.9 488.9,125.6 488,125.4 487.1,125.2 486.2,125.1 485.3,125 484.4,125 483.5,125.1 482.6,125.3 481.7,125.5 480.8,125.8 479.9,126 479,126.3 478.1,126.6 477.2,126.9 476.3,127.3 475.4,127.8 474.5,128.4 473.6,129.1 472.7,130 471.8,130.9 470.9,131.6 470,132 469.1,132 468.2,131.7 467.3,131.3 466.4,130.8 465.5,130.2 464.6,129.8 463.7,129.5 462.8,129.1 461.9,128.6 461,128 460.1,127.1 459.2,125.9 458.3,124.5 457.4,122.7 456.5,120.5 455.6,118.7 454.7,117.8 453.8,117.5 452.9,117.3 452,117.4 451.1,117.5 450.2,117.9 449.3,118.6 448.4,119.6 447.5,120.9 446.6,122.3 445.7,123.3 444.8,124.2 443.9,124.8 443,125 442.1,124.2 441.2,122.8 440.3,122 439.4,122.7 438.5,124.5 437.6,126.7 436.7,128.6 435.8,130.3 434.9,131.9 434,133 433.1,133.6 432.2,133.8 431.3,133.3 430.4,132 429.5,129.8 428.6,127 427.7,123.9 426.8,120.3 425.9,116.3 425,112 424.1,107.1 423.2,101.9 422.3,96.7 421.4,91.7 420.5,86.7 419.6,82.4 418.7,79.5 417.8,78.1 416.9,78.4 416,81.2 415.1,87.2 414.2,94.6 413.3,99.4 412.4,102.8 411.5,106.8 410.6,110.7 409.7,113.2 408.8,114.8 407.9,116.3 407,118 406.1,119.9 405.2,121.8 404.3,124.1 403.4,127.1 402.5,130.7 401.6,134.6 400.7,138.6 399.8,142.7 398.9,146.5 398,149.5 397.1,151.8 396.2,152.9 395.3,152.4 394.4,149.7 393.5,145.3 392.6,139.4 391.7,133.5 390.8,128.1 389.9,122.9 389,117.9 388.1,113.1 387.2,108.5 386.3,103.8 385.4,99.5 384.5,95.9 383.6,93.6 382.7,92.4 381.8,91.9 380.9,91.8 380,91.5 379.1,91.3 378.2,91.3 377.3,91.4 376.4,91.6 375.5,92 374.6,92.4 373.7,92.9 372.8,93.4 371.9,93.9 371,94.4 370.1,94.8 369.2,95.3 368.3,95.8 367.4,96.3 366.5,96.7 365.6,97.1 364.7,97.5 363.8,97.7 362.9,98 362,98.1 361.1,98.2 360.2,98.3 359.3,98.2 358.4,98.2 357.5,98.2 356.6,98.2 355.7,98.3 354.8,98.3 353.9,98.2 353,98.2 352.1,98.2 351.2,98 350.3,97.5 349.4,96.3 348.5,94.6 347.6,92.8 346.7,91.2 345.8,90.3 344.9,89.8 344,89.6 343.1,89.3 342.2,88.6 341.3,87.4 340.4,85.9 339.5,84.2 338.6,82.4 337.7,80.6 336.8,78.8 335.9,77.2 335,76 334.1,75.1 333.2,74.7 332.3,74.5 331.4,74.5 330.5,74.6 329.6,75 328.7,76 327.8,78 326.9,81.1 326,83.9 325.1,86.2 324.2,88.3 323.3,90.4 322.4,92.4 321.5,94.4 320.6,96.2 319.7,98 318.8,99.7 317.9,101.4 317,103 316.1,104.5 315.2,105.9 314.3,107.3 313.4,108.8 312.5,110.2 311.6,111.6 310.7,113.1 309.8,114.5 308.9,116.1 308,117.7 307.1,119.3 306.2,121.1 305.3,123 304.4,125 303.5,127.1 302.6,129.3 301.7,131.7 300.8,134.1 299.9,136.8 299,139.5 298.1,142.6 297.2,146.2 296.3,150.3 295.4,154.6 294.5,158.9 293.6,162.2 292.7,164.3 291.8,165 290.9,165 290,165 289.1,165 288.2,165 287.3,165 286.4,165 285.5,165 284.6,165 283.7,165 282.8,165Z" fill="#ffc0cb" fill-opacity="0.95" stroke="none"/>
<line x1="282.8" y1="90.2" x2="676.4" y2="90.2" stroke="#8a8080" stroke-width="1.2"/>
<path d="M282.8,140 283.1,139 283.6,137.7 284.1,136.2 284.7,134.4 285.3,132.7 286,131 286.4,130 286.9,128.9 287.3,128 287.7,127 288.2,125.9 288.7,124.8 289.3,123.5 290,122.1 290.8,120.5 291.2,119.6 291.7,118.7 292.2,117.7 292.7,116.6 293.3,115.5 293.8,114.4 294.4,113.2 295,112 295.6,110.8 296.3,109.6 296.9,108.4 297.5,107.1 298.1,106 298.7,104.8 299.4,103.7 300,102.6 300.5,101.5 301.1,100.5 301.7,99.5 302.3,98.5 302.8,97.6 303.4,96.6 304,95.7 304.5,94.8 305.1,94 305.7,93.1 306.2,92.3 306.8,91.4 307.3,90.6 307.9,89.8 308.5,88.9 309,88.1 309.6,87.2 310.2,86.4 310.8,85.5 311.4,84.7 312,83.8 312.6,82.9 313.2,82 313.9,81.1 314.5,80.1 315.2,79.2 315.8,78.3 316.5,77.4 317.1,76.5 317.7,75.6 318.3,74.8 318.9,74 319.5,73.2 320,72.5 320.5,71.7 320.9,71.1 321.3,70.5 322.4,68.8 323,67.6 323.3,66.7 323.6,65.9 324,65 324.5,63.9 325,62.9 325.5,61.8 326,60.6 326.6,59 327.2,57.2 327.8,55.4 328.4,54 328.9,53.1 329.4,52.4 329.9,51.8 330.4,51.4 330.8,51 331.4,50.7 331.9,50.7 332.5,51 332.9,51.4 333.4,51.8 333.9,52.4 334.5,53.2 335,54 335.5,54.8 335.9,55.7 336.4,56.8 336.9,57.8 337.4,58.9 338,60 338.5,61 339.1,62 339.6,63 340.2,64 340.8,65 341.4,66 342,67 342.6,67.9 343.1,68.8 343.7,69.7 344.3,70.5 344.9,71.4 345.4,72.2 346,73 346.6,73.8 347.1,74.7 347.7,75.6 348.3,76.4 348.9,77.2 349.4,77.9 350,78.5 350.6,79 351.1,79.4 351.6,79.8 352.2,80.1 352.7,80.3 353.3,80.5 354,80.6 354.5,80.7 355,80.7 355.6,80.7 356.2,80.6 356.8,80.6 357.4,80.5 357.9,80.4 358.5,80.3 359,80.1 359.5,80 360.1,79.8 360.7,79.5 361.2,79.3 361.8,78.9 362.3,78.6 362.8,78.2 363.3,77.7 363.8,77.2 364.4,76.6 364.9,76.1 365.5,75.4 366,74.7 366.6,73.9 367.1,73 367.6,72 368.2,70.8 368.7,69.5 369.2,68.2 369.7,66.9 370.3,65.6 370.8,64.5 371.3,63.4 371.9,62.4 372.4,61.4 373,60.4 373.5,59.5 374.1,58.7 374.6,57.9 375.2,57.2 375.7,56.6 376.3,56 376.8,55.4 377.4,55 377.9,54.6 378.4,54.2 379,53.8 379.6,53.4 380.2,53.2 380.7,53.1 381.2,53.2 381.7,53.4 382.1,53.9 382.5,54.6 383,56 383.5,57.7 384.1,60 384.6,62.4 385.2,64.9 385.7,67 386.2,69.2 386.6,71.1 387.1,73 387.5,75 388,77.3 388.4,79.8 388.9,82.1 389.4,84 389.9,85.5 390.3,86.6 390.8,87.4 391.3,88 391.8,88.2 392.4,88.3 393,88.2 393.6,87.9 394.2,87.5 394.8,86.9 395.4,86 395.9,85 396.5,84 397,83.2 397.5,82.3 398,81.4 398.4,80.7 398.9,80.4 399.4,80.5 399.8,81 400.3,81.7 400.8,82.3 401.3,82.8 401.9,83.5 402.4,84.2 403,84.5 403.6,84.5 404.2,83.9 404.8,83 405.3,81.8 405.9,80.4 406.4,79 406.9,77.1 407.4,74.9 407.9,72.5 408.3,70 408.8,66.1 409.2,62 409.7,58 410.1,55.3 410.6,52.7 411,50.2 411.5,48 412,45.8 412.5,43.7 413,42.1 413.5,41.3 414,41.6 414.6,42.7 415.2,44.3 415.8,46 416.3,47.5 416.8,49.2 417.4,51.1 417.9,53.1 418.5,55 419,56.7 419.5,58.4 420,60.2 420.5,61.9 421,63.6 421.5,65 422,66.5 422.5,67.8 422.9,68.9 423.4,70 424,71 424.5,71.7 425,72.5 425.5,73.2 426,73.8 426.6,74.5 427.1,75 427.6,75.5 428.2,76.1 428.8,76.8 429.4,77.2 430,77.4 430.5,77.2 431,76.5 431.5,75.3 432,73.9 432.5,72.4 433,71 433.6,69.3 434.1,67.5 434.6,65.7 435.2,64 435.7,62.7 436.2,61.4 436.6,60.2 437.1,59 437.6,58 438.2,56.7 438.7,55.4 439.3,54.5 439.9,54.5 440.4,55.4 440.9,56.9 441.5,58.7 442.1,60.6 442.7,62 443.2,62.7 443.7,63.3 444.2,63.8 444.8,64.3 445.3,64.7 445.9,65.2 446.5,65.8 447.1,66.4 447.7,67.2 448.3,68.1 449,69 449.6,69.7 450.2,70.3 450.7,70.6 451.2,70.6 451.8,69.4 452.3,67.2 452.6,64.5 453,62 453.4,59.8 453.9,57.5 454.4,55.1 455,52.6 455.4,50.9 455.9,49 456.5,46.9 457,44.9 457.6,43.2 458.2,41.9 458.8,41.3 459.4,41.4 460,42 460.6,43 461.2,44.2 461.8,45.6 462.4,46.9 463,48.1 463.5,48.9 464.2,49.9 464.7,50.7 465.2,51.3 465.7,51.7 466.3,51.7 466.8,51.4 467.3,50.7 467.9,49.9 468.5,49 469.1,48.2 469.6,47.7 470.1,47.5 470.7,48 471.2,49.1 471.8,50.5 472.3,51.8 472.8,52.8 473.4,53.5 474,54.2 474.5,54.7 475.1,54.9 475.7,54.7 476.3,53.8 476.8,52.2 477.4,50.4 477.9,48.9 478.5,48.1 479.1,48.3 479.6,49.1 480.2,50.3 480.7,51.3 481.3,51.9 481.9,51.8 482.4,51.4 483,50.8 483.6,50.3 484.2,50 484.7,50 485.2,50.2 485.7,50.5 486.3,50.8 486.8,51 487.4,51.1 487.9,51 488.4,50.7 489,50.3 489.6,49.9 490.1,49.3 490.7,48.6 491.2,47.9 491.7,47.2 492.3,45.7 492.9,43.8 493.4,41.9 493.9,40.6 494.5,40.6 495.1,42.2 495.7,45.2 496.2,48.7 496.8,52.1 497.4,54.7 498,56.6 498.5,58.4 499.1,59.7 499.6,60.1 500.2,59.5 500.8,57.2 501.3,53.6 501.9,49.2 502.4,45 503,41.5 503.6,38.8 504.1,36.3 504.7,34.1 505.2,32.4 505.8,31.2 506.4,30.4 507,29.9 507.6,30 508.2,30.7 508.7,32.1 509.2,35.3 509.7,39.7 510.1,44.8 510.6,50 511.1,55.8 511.7,62.4 512.3,68.2 513,72 513.5,72.8 514,72.8 514.6,72.2 515.1,71.1 515.7,70 516.3,68.9 516.9,68 517.5,67.3 518,66.7 518.6,65.9 519.1,65.2 519.7,64.5 520.2,63.7 520.8,63 521.4,62.3 522,61.6 522.6,60.8 523.2,60.1 523.8,59.3 524.3,58.5 524.8,57.6 525.4,56.1 525.9,54.5 526.4,52.8 526.9,51.2 527.4,49.7 527.9,48.5 528.5,47.5 529,46.5 529.6,45.5 530.1,44.4 530.6,43.1 531.2,41.7 531.7,40.3 532.2,39 532.7,37.8 533.3,36.6 533.9,35.6 534.5,34.7 535,33.8 535.6,32.1 536.1,30.4 536.5,30 536.9,33 537.1,37.5 537.4,42.2 537.7,45.6 538,44.7 538.3,42.8 538.6,42.1 538.9,42.3 539.2,44.2 539.5,46.7 539.8,48.6 540.1,50.4 540.4,52.4 540.7,53.6 541,53.1 541.3,51.5 541.6,48.4 541.9,45 542.2,42.3 542.5,40.8 542.8,42.2 543.1,44 543.4,44.5 543.7,43.6 544,39.7 544.3,35.1 544.6,31.6 544.9,28.2 545.2,23.6 545.5,20.4 545.8,21.3 546.1,24.1 546.4,27.8 546.7,31.2 547,32.4 547.3,33.3 547.6,36.1 547.9,39 548.2,41.6 548.5,42.2 548.8,37.8 549.1,32.2 549.4,27.8 549.7,25.6 550,28.8 550.3,34 550.6,39.2 550.9,42.9 551.2,42 551.5,39 551.8,35.8 552.1,31.9 552.4,27.5 552.7,23.4 553,19.7 553.3,18.7 553.6,23.5 553.9,31.3 554.2,39.7 554.5,50 554.8,66.2 555.1,77.8 555.4,71.6 555.7,59.6 556,49.7 556.3,41.8 556.6,39.3 556.9,39.7 557.2,42 557.5,44.5 557.8,45 558.1,44.3 558.4,42 558.7,39.4 559,37.8 559.3,36.7 559.6,36.3 559.9,36 560.2,34.7 560.5,33.6 560.8,34.4 561.1,35.1 561.4,34.4 561.7,32.1 562,26.7 562.3,20.5 562.6,16.7 562.9,11.5 563.2,1.7 563.5,-9.9 563.8,-22.8 564.1,-31.7 564.4,-30 564.7,-20.8 565,-3.9 565.3,16.2 565.6,34.8 565.9,52.5 566.2,70.1 566.5,83 566.8,86.2 567.1,82.2 567.4,69.1 567.7,54.5 568,45.2 568.3,40.6 568.6,43.4 568.9,50.1 569.2,59.5 569.5,67.2 569.8,67.2 570.1,63 570.4,54.9 570.7,46.9 571,44.4 571.3,43.8 571.6,44.2 571.9,43.6 572.2,37.9 572.5,31.7 572.8,28.1 573.1,27 573.4,30.9 573.7,35.7 574,37.6 574.3,38.5 574.6,38.9 574.9,39.4 575.2,42 575.5,43.6 575.8,41.7 576.1,37.3 576.4,29.1 576.7,21.5 577,18.8 577.3,19.1 577.6,22.6 577.9,27.4 578.2,31.9 578.5,35.7 578.8,38 579.1,39.5 579.4,39.8 579.7,41.7 580,49.1 580.3,58.8 580.6,70 580.9,78.9 581.2,80.5 581.5,78.2 581.8,73.9 582.1,67.3 582.4,57.7 582.7,48.1 583,40.9 583.3,36.9 583.6,38.6 583.9,43.3 584.2,49.2 584.5,55.6 584.8,61.5 585.1,66.2 585.4,69.4 585.7,69.8 586,65.1 586.3,57.8 586.6,48.8 586.9,40.5 587.2,35.9 587.5,34.5 587.8,37.3 588.1,42 588.4,47 588.7,51.5 589,54.5 589.3,55.6 589.6,53.7 589.9,50.9 590.2,47.8 590.5,46.8 590.8,51.9 591.1,57.7 591.4,60 591.7,58.6 592,49.3 592.3,39.7 592.6,36.3 592.9,38.1 593.2,48.7 593.5,60.7 593.8,67.9 594.1,70.6 594.4,65 594.7,56.2 595,47.9 595.3,39.8 595.6,32.9 595.9,27.9 596.2,26.3 596.5,27.1 596.8,30.6 597.1,34.4 597.4,35.8 597.7,35.4 598,32.2 598.3,28 598.6,24.9 598.9,21.9 599.2,19.8 599.5,16.2 599.8,8.2 600.1,-1.4 600.4,-11.8 600.7,-20.2 601,-23.5 601.3,-22.1 601.6,-14.2 601.9,-2.8 602.2,10.3 602.5,22.9 602.8,31.3 603.1,38.2 603.4,44.5 603.7,51.3 604,60.5 604.3,69.6 604.6,77.1 604.9,81.4 605.2,80 605.5,74.2 605.8,63.5 606.1,50.7 606.4,37.7 606.7,26.7 607,20.3 607.3,19.4 607.6,28.4 607.9,39.6 608.2,46.7 608.5,49.9 608.8,46 609.1,39.2 609.4,32.2 609.7,26.3 610,23.9 610.3,24.6 610.6,29.1 610.9,35.4 611.2,41.8 611.5,47.4 611.8,51 612.1,52.9 612.4,53.1 612.7,52 613,49.2 613.3,46.8 613.6,46.6 613.9,47.9 614.2,51.9 614.5,54.9 614.8,51.9 615.1,47.6 615.4,45.2 615.7,45.2 616,51.1 616.3,56.8 616.6,56.8 616.9,52.7 617.2,43.4 617.5,31.4 617.8,17.5 618.1,5.1 618.4,-2.3 618.7,-4.7 619,0.2 619.3,8.7 619.6,17.8 619.9,26.6 620.2,32.5 620.5,36.9 620.8,40.6 621.1,43.3 621.4,44.9 621.7,45.2 622,43.8 622.3,41.6 622.6,39.1 622.9,36.9 623.2,36.6 623.5,37 623.8,38.1 624.1,39 624.4,38.7 624.7,37.7 625,36.1 625.3,34.9 625.6,34.7 625.9,36.7 626.2,42.3 626.5,50.3 626.8,61.2 627.1,71.5 627.4,77.1 627.7,80.9 628,84.6 628.3,87.4 628.6,88.9 628.9,88.9 629.2,86.2 629.5,82.3 629.8,78.6 630.1,74.1 630.4,67.5 630.7,59.9 631,51.5 631.3,43.3 631.6,36.7 631.9,31.6 632.2,27.4 632.5,26.4 632.8,31.5 633.1,39.5 633.4,49.6 633.7,57.9 634,59.7 634.3,57.8 634.6,53 634.9,46.1 635.2,38.3 635.5,29.6 635.8,18.5 636.1,10.9 636.4,15.1 636.7,23.5 637,32.2 637.3,39.2 637.6,40.1 637.9,38.4 638.2,35.8 638.5,34.3 638.8,36.8 639.1,42.8 639.4,54.4 639.7,66.6 640,75.3 640.3,79.9 640.6,76.6 640.9,69.6 641.2,61.3 641.5,52.8 641.8,46.2 642.1,40.4 642.4,34.6 642.7,29.5 643,25.5 643.3,22.7 643.6,22 643.9,20.8 644.2,15.4 644.5,9.3 644.8,4.1 645.1,1.7 645.4,6 645.7,12.6 646,18.4 646.3,22.9 646.6,24.4 646.9,23.8 647.2,20.8 647.5,16.6 647.8,11.8 648.1,7.6 648.4,5.9 648.7,5.3 649,4.1 649.3,4.1 649.6,6.4 649.9,11.8 650.2,23 650.5,34.6 650.8,41.8 651.1,45.7 651.4,44.4 651.7,41.2 652,38.5 652.3,36.1 652.6,35.4 652.9,34.6 653.2,32.4 653.5,29.4 653.8,25.1 654.1,21.2 654.4,19.8 654.7,19.1 655,17.7 655.3,16 655.6,13.6 655.9,11.8 656.2,11.8 656.5,12.8 656.8,14.5 657.1,18.1 657.4,25.6 657.7,35.1 658,46.6 658.3,56.4 658.6,61 658.9,60.4 659.2,51 659.5,40 659.8,33.2 660.1,29.6 660.4,31.3 660.7,34.3 661,34.8 661.3,35.1 661.6,36.2 661.9,37.6 662.2,39.2 662.5,40.2 662.8,39.4 663.1,37 663.4,31.7 663.7,26.5 664,23.9 664.3,23.6 664.6,27.5 664.9,31.6 665.2,31.7 665.5,30.2 665.8,27 666.1,24.8 666.4,26.7 666.7,31.4 667,38.9 667.3,47.9 667.6,59.4 667.9,67.3 668.2,64.2 668.5,55.9 668.8,45.2 669.1,34.2 669.4,26.9 669.7,21.3 670,16.9 670.3,13.3 670.6,9.6 670.9,7.4 671.2,8.4 671.5,12 671.8,18.7 672.1,26.2 672.4,32.2 672.7,36.6 673,38 673.3,38.2 673.6,38.6 673.9,39.9 674.2,43.6 674.5,47.9 674.8,51.3 675.1,54.2 675.4,55.9 675.7,58.2 676,64.2 676.3,69 676.6,68.2 676.9,63.4 677.2,53.1 677.5,42.8 677.8,38.2 678.1,37.1 678.4,39 678.7,43.9 679,52.7 679.3,62.3 679.6,70.2 679.9,75.9" fill="none" stroke="#ff2a2a" stroke-opacity="0.85" stroke-width="1.0" stroke-dasharray="1.6 1.5"/>
<path d="M287,172 287.3,170.5 287.8,168.4 288.3,166 288.9,163.3 289.6,160.6 290.3,157.9 291.1,155.5 291.6,154.2 292.1,153 292.6,151.8 293.2,150.6 293.8,149.4 294.3,148.2 294.9,147 295.6,145.8 296.2,144.6 296.8,143.3 297.4,141.9 298,140.5 298.5,139.1 299.1,137.7 299.6,136.2 300.2,134.7 300.7,133.2 301.2,131.6 301.8,130 302.4,128.4 302.9,126.8 303.5,125.2 304.1,123.6 304.8,122.1 305.4,120.5 305.9,119.3 306.5,118.1 307,116.9 307.6,115.7 308.2,114.5 308.8,113.2 309.4,112 310,110.8 310.6,109.6 311.2,108.4 311.8,107.2 312.4,106 313,104.9 313.6,103.7 314.2,102.6 314.7,101.5 315.2,100.5 315.9,99.1 316.6,97.6 317.3,96.3 317.9,94.9 318.6,93.6 319.2,92.3 319.8,91.1 320.4,89.9 320.9,88.7 321.4,87.6 321.9,86.5 322.4,85.5 323.1,83.9 323.7,82.3 324.3,80.9 324.8,79.7 325.2,78.5 325.6,77.4 326.1,76.5 326.7,75.4 327.3,74.6 327.9,74 328.4,73.5 329,73 329.5,72.7 330,72.4 330.5,72.2 331,72.1 331.5,72 332,72 332.5,72.1 333,72.3 333.5,72.5 334,72.8 334.5,73.1 335,73.5 335.5,73.9 336.1,74.3 336.7,74.7 337.2,75.2 337.8,75.8 338.4,76.5 338.9,77.2 339.4,78.1 339.9,79 340.4,80 340.9,81 341.5,82 342,83 342.6,84 343.2,85 343.8,86 344.4,87 345,87.9 345.5,88.8 346,89.5 346.6,90.5 347.1,91.2 347.6,91.8 348.2,92.5 348.7,93 349.2,93.4 349.7,94 350.3,94.4 350.9,94.9 351.4,95.2 352,95.4 352.5,95.4 353.1,95.3 353.6,95.1 354.2,94.9 354.7,94.7 355.3,94.5 355.8,94.4 356.3,94.5 356.9,94.6 357.4,94.8 357.9,95 358.4,95.2 359,95.3 359.5,95.4 360,95.4 360.6,95.3 361.1,95.1 361.7,94.9 362.2,94.7 362.8,94.6 363.3,94.4 363.8,94.3 364.4,94.2 364.9,94.1 365.5,94 366,93.8 366.6,93.7 367.1,93.5 367.6,93.3 368.2,93 368.7,92.8 369.2,92.5 369.7,92.2 370.3,91.9 370.8,91.6 371.3,91.3 371.9,91 372.4,90.8 373,90.5 373.5,90.2 374.1,89.9 374.6,89.7 375.1,89.5 375.7,89.2 376.2,89 376.8,88.8 377.3,88.6 377.9,88.5 378.4,88.4 379,88.3 379.5,88.3 380.1,88.3 380.6,88.3 381.2,88.4 381.7,88.6 382.2,88.8 382.8,89 383.4,89.2 383.9,89.5 384.4,90.4 385,92 385.6,94.3 386.2,97.3 386.8,100.8 387.4,104.3 388,107.5 388.5,110 389.1,112.4 389.5,113.9 389.9,114.9 390.4,116 390.9,117 391.5,118.1 392,119 392.6,119.7 393.2,120 393.8,119.9 394.3,119.3 394.9,118.6 395.4,117.8 396,117 396.5,116.4 397,115.7 397.4,115 397.9,114.3 398.5,113.7 399,113.4 399.5,113.4 400,113.5 400.5,113.9 401.1,114.2 401.6,114.5 402.1,114.5 402.6,114.3 403.2,113.6 403.9,112.5 404.4,111.2 405,109.6 405.5,107.7 406,104.9 406.5,101.6 407,98.1 407.4,94.5 407.9,90.7 408.3,86.7 408.8,82.8 409.2,79.4 409.6,76.5 410.1,74.1 410.5,71.9 411,70 411.5,68.3 412,66.9 412.5,65.8 413,65 413.5,64.6 414,64.5 414.5,64.7 415,65 415.5,65.3 416,65.6 416.5,66.2 417,66.9 417.5,68 418,69.5 418.5,71.2 419,73.2 419.5,75.5 420,78 420.5,80.3 420.9,82.8 421.4,85.4 421.9,88.2 422.4,91.1 423,93.9 423.5,96.1 424.1,98.4 424.6,100.8 425.2,103.2 425.9,105.5 426.5,107.8 427.1,110 427.6,112 428.2,114.3 428.7,116.7 429.3,119 429.8,121 430.3,122.8 430.9,124 431.4,124.5 431.9,124.3 432.5,123.5 433,122.1 433.5,120.4 434,118.4 434.6,116.2 435.2,114 435.8,111.9 436.4,109.4 437,106.7 437.7,103.9 438.3,101.1 438.9,98.4 439.4,96 439.9,93.9 440.6,90.2 441,87 441.4,84.8 441.8,84.4 442.3,86.8 442.8,91.4 443.2,96.3 443.7,99.5 444.1,100.4 444.5,99.9 445,99.1 445.6,98.6 446,98.7 446.5,98.8 447.1,99 447.6,99.2 448.2,99.4 448.8,99.5 449.3,99.5 449.8,99.5 450.4,99.5 450.9,99.5 451.5,99.4 452,99.1 452.6,98.5 453.1,97.6 453.7,96 454.2,93.6 454.8,90.9 455.3,88.2 455.9,85.8 456.4,84.1 456.9,83.5 457.5,84.6 458,87.5 458.6,91.1 459.1,94.8 459.7,97.6 460.2,99 460.7,100.3 461.2,101.3 461.8,102.3 462.3,103.1 462.9,103.7 463.5,104.2 464.1,104.5 464.7,104.6 465.3,104.6 465.9,104.5 466.5,104.3 467.1,104 467.7,103.7 468.2,103.3 468.9,102.3 469.4,100.9 470,99.4 470.5,98.1 471,97.6 471.5,98 472,99.1 472.5,100.5 473,101.7 473.5,102.5 474,102.4 474.5,101 475,98.7 475.4,95.9 475.9,93 476.4,90.7 477,89.4 477.5,89.3 478.1,89.8 478.6,90.7 479.2,91.9 479.8,93.1 480.4,94.2 481,95 481.6,95.5 482.1,95.9 482.7,96.3 483.2,96.5 483.8,96.7 484.4,96.7 485,96.6 485.5,96.3 486,95.9 486.6,95.3 487.2,94.7 487.7,94.1 488.3,93.4 488.9,92.9 489.4,92.5 490,92.3 490.6,92.3 491.1,92.5 491.7,92.9 492.2,93.3 492.8,93.8 493.3,94.3 493.9,94.6 494.4,94.9 495,95 495.6,94.9 496.1,94.7 496.7,94.4 497.2,94 497.8,93.6 498.3,93.2 498.9,92.7 499.4,92.3 500,92 500.6,91.6 501.1,91.2 501.7,90.8 502.3,90.4 502.9,90 503.5,89.6 504,89.4 504.5,89.3 505,89.4 505.6,89.8 506.1,90.5 506.5,91.4 507,92.5 507.4,93.7 508,95 508.5,96 509.1,97.2 509.7,98.5 510.3,99.8 510.9,101.2 511.5,102.5 512,103.6 512.5,104.7 513.2,106.6 513.7,108.3 514.2,109.7 514.8,110.5 515.3,110.6 515.8,110.5 516.3,110.2 516.9,109.8 517.4,109.3 517.9,108.7 518.4,108.2 519,107.2 519.5,106.1 520,104.8 520.7,103.5 521.2,102.8 521.7,101.9 522.3,101 522.9,100 523.5,99.2 524.1,98.5 524.6,98.1 525,98 525.7,99.6 526.2,102.6 526.5,104.7 526.9,104 527.1,103.2 527.4,106.6 527.7,109.3 528,107.2 528.3,102.2 528.6,93.5 528.9,84.9 529.2,80.4 529.5,79.3 529.8,83.5 530.1,89.3 530.4,93.1 530.7,96.3 531,99.2 531.3,102 531.6,105.6 531.9,107.7 532.2,105 532.5,101.1 532.8,98.4 533.1,97.2 533.4,99.6 533.7,103.1 534,106 534.3,107.9 534.6,107.4 534.9,106 535.2,104.7 535.5,103 535.8,101 536.1,98.7 536.4,96.7 536.7,94.4 537,91.4 537.3,88.3 537.6,85 537.9,82.3 538.2,81.1 538.5,80.8 538.8,81.2 539.1,82.6 539.4,85.2 539.7,88.2 540,91 540.3,93.3 540.6,94.6 540.9,95.2 541.2,94.8 541.5,94.1 541.8,93.3 542.1,93 542.4,93.9 542.7,96.3 543,100.6 543.3,106.4 543.6,113.9 543.9,120.7 544.2,124 544.5,124.7 544.8,122 545.1,118.1 545.4,114.8 545.7,112.4 546,113.2 546.3,114.3 546.6,113.3 546.9,110.8 547.2,105.6 547.5,100.2 547.8,97.4 548.1,96.1 548.4,96.5 548.7,98 549,100.2 549.3,102.9 549.6,106.1 549.9,108.2 550.2,107.4 550.5,104.6 550.8,99.9 551.1,94.7 551.4,90.1 551.7,86.9 552,86.7 552.3,87.9 552.6,89.6 552.9,91.9 553.2,94.8 553.5,98 553.8,101.2 554.1,103.9 554.4,105.3 554.7,105.3 555,103.5 555.3,100.6 555.6,97.1 555.9,93.2 556.2,88.6 556.5,85.1 556.8,84.5 557.1,86.4 557.4,92 557.7,98.3 558,103 558.3,105.6 558.6,103.9 558.9,100.6 559.2,97.9 559.5,95.8 559.8,95.3 560.1,95.6 560.4,96.2 560.7,97.6 561,100.4 561.3,103.6 561.6,107.2 561.9,109.2 562.2,106.5 562.5,102.4 562.8,99 563.1,96.3 563.4,95.4 563.7,94.8 564,93 564.3,91.1 564.6,89.1 564.9,88.4 565.2,90.9 565.5,94.3 565.8,96.9 566.1,98.8 566.4,99.4 566.7,99.2 567,98.9 567.3,97.5 567.6,93.5 567.9,88.6 568.2,83.7 568.5,80 568.8,79.9 569.1,81.4 569.4,83.7 569.7,86.1 570,87.9 570.3,88.9 570.6,88.2 570.9,86.8 571.2,85.5 571.5,84.8 571.8,85.4 572.1,87 572.4,89.6 572.7,92.1 573,93.6 573.3,94 573.6,92 573.9,89.7 574.2,88.1 574.5,88.8 574.8,96.3 575.1,103.8 575.4,104.6 575.7,102.6 576,98.1 576.3,94.6 576.6,97.5 576.9,102.1 577.2,105.5 577.5,108.7 577.8,111.4 578.1,115.1 578.4,122.4 578.7,129.5 579,133.5 579.3,134.2 579.6,128.7 579.9,121.5 580.2,116.2 580.5,112.5 580.8,112.2 581.1,112.5 581.4,110.9 581.7,107.5 582,100 582.3,92.5 582.6,89 582.9,87.9 583.2,89.9 583.5,93 583.8,94.9 584.1,97 584.4,100.2 584.7,103.9 585,107.7 585.3,111.7 585.6,116.6 585.9,120.9 586.2,123.5 586.5,124.5 586.8,122.2 587.1,120 587.4,120.6 587.7,124.1 588,133.7 588.3,143.4 588.6,146.9 588.9,148 589.2,149 589.5,147.9 589.8,143.4 590.1,136.2 590.4,125 590.7,114.6 591,110.7 591.3,109.6 591.6,109.4 591.9,109.4 592.2,108.6 592.5,106.8 592.8,103.1 593.1,98.5 593.4,93.5 593.7,88.6 594,84.1 594.3,81.6 594.6,83.2 594.9,87.3 595.2,94.5 595.5,100.5 595.8,99.4 596.1,96.5 596.4,94.3 596.7,94.6 597,101.4 597.3,110.6 597.6,119.7 597.9,127.1 598.2,129.9 598.5,128.8 598.8,122.2 599.1,114.3 599.4,109.4 599.7,105.9 600,103.7 600.3,102.4 600.6,101.5 600.9,100.7 601.2,99.5 601.5,98.4 601.8,97.5 602.1,97.4 602.4,98.7 602.7,101.7 603,107.3 603.3,114.5 603.6,124 603.9,132.2 604.2,135.3 604.5,135.3 604.8,132.4 605.1,127.9 605.4,123.3 605.7,118.3 606,113.8 606.3,109 606.6,102.3 606.9,96.9 607.2,96.3 607.5,98.2 607.8,102.9 608.1,105.8 608.4,101.2 608.7,93.2 609,82.4 609.3,73.7 609.6,73.4 609.9,77.6 610.2,85.4 610.5,94.4 610.8,102.2 611.1,108.8 611.4,113.3 611.7,115.8 612,116.8 612.3,115.3 612.6,110.8 612.9,102.7 613.2,88.7 613.5,74.6 613.8,65.8 614.1,60.5 614.4,59.5 614.7,60.2 615,60.1 615.3,60.1 615.6,59.8 615.9,60.1 616.2,61.2 616.5,64.7 616.8,73.3 617.1,84.4 617.4,96.4 617.7,109 618,122.7 618.3,134.5 618.6,142.1 618.9,144.3 619.2,137.4 619.5,127.1 619.8,117.3 620.1,110.2 620.4,110.1 620.7,114.4 621,124 621.3,133.7 621.6,138.2 621.9,139.7 622.2,137 622.5,134.2 622.8,137.1 623.1,139 623.4,135.2 623.7,126.1 624,108 624.3,88 624.6,71.7 624.9,60.4 625.2,56.9 625.5,61.3 625.8,77.9 626.1,96.8 626.4,109.9 626.7,117.3 627,114.8 627.3,108.2 627.6,101.9 627.9,96.2 628.2,94 628.5,91.7 628.8,84.1 629.1,78 629.4,79.3 629.7,85.3 630,97.6 630.3,109.6 630.6,114 630.9,114.8 631.2,113 631.5,111.1 631.8,112.6 632.1,115.5 632.4,118.6 632.7,122.6 633,127.7 633.3,133.3 633.6,139.7 633.9,144.8 634.2,147 634.5,145.8 634.8,139 635.1,129.3 635.4,117.5 635.7,106.7 636,100.8 636.3,98 636.6,98.5 636.9,100.5 637.2,101.6 637.5,103.3 637.8,105.9 638.1,109.8 638.4,116.1 638.7,123.9 639,134.4 639.3,143.5 639.6,147.1 639.9,146.3 640.2,140.1 640.5,130 640.8,116.5 641.1,101.9 641.4,86.6 641.7,75.5 642,75.2 642.3,80.5 642.6,89.1 642.9,98 643.2,102.4 643.5,104.8 643.8,105.9 644.1,106 644.4,105.7 644.7,104.3 645,100.6 645.3,97.3 645.6,96.6 645.9,98.4 646.2,104.7 646.5,112.3 646.8,119.9 647.1,124.3 647.4,120.3 647.7,111.7 648,99.1 648.3,86.2 648.6,76.9 648.9,71.7 649.2,73.8 649.5,78.7 649.8,82.5 650.1,86.1 650.4,88.4 650.7,91.8 651,99.4 651.3,108.7 651.6,118.8 651.9,128.3 652.2,135.4 652.5,140.1 652.8,140.8 653.1,139.9 653.4,138.9 653.7,138.7 654,141.6 654.3,144.6 654.6,145.8 654.9,144 655.2,136.1 655.5,125.5 655.8,114.6 656.1,104.2 656.4,96.1 656.7,90.5 657,89.3 657.3,88.6 657.6,84.1 657.9,77.7 658.2,68.6 658.5,60.8 658.8,58.5 659.1,60.4 659.4,66.8 659.7,76.7 660,91.2 660.3,105.2 660.6,113.3 660.9,117.7 661.2,118.2 661.5,115.3 661.8,108 662.1,100.4 662.4,96.3 662.7,95.9 663,101.9 663.3,110.8 663.6,120.3 663.9,129.4 664.2,136.5 664.5,140.6 664.8,139.5 665.1,135.6 665.4,130.3 665.7,125 666,122 666.3,120.3 666.6,120.1 666.9,120.1 667.2,118.6 667.5,116.5 667.8,114.1 668.1,111.9 668.4,110.6 668.7,109.6 669,108 669.3,107.1 669.6,107.5 669.9,110.2 670.2,117.2 670.5,126 670.8,135.5 671.1,143.3 671.4,145.8 671.7,145.2 672,142.4 672.3,136.9 672.6,127.5 672.9,117.9 673.2,111.6 673.5,107.1 673.8,104.2 674.1,101.2 674.4,95.5 674.7,89.3 675,84.3 675.3,79.8 675.6,75.8 675.9,71.8 676.2,66.2 676.5,63.1 676.8,66.4 677.1,75 677.4,91 677.7,108.7 678,124.1 678.3,134.7 678.6,135.4 678.9,130.3 679.2,120.1 679.5,110.1 679.8,107.2 680.1,106.8" fill="none" stroke="#ff2a2a" stroke-opacity="0.85" stroke-width="1.0" stroke-dasharray="1.6 1.5"/>
<path d="M282.8,157.5 283.1,156.8 283.5,155.9 284,154.8 284.5,153.6 285,152.3 285.6,151 286.3,149.5 286.9,148 287.6,146.5 288.3,145 288.9,143.5 289.6,142 290.2,140.5 290.7,139.3 291.3,138 291.8,136.7 292.4,135.4 293,134.1 293.5,132.7 294.1,131.4 294.7,130 295.3,128.6 295.8,127.3 296.4,125.9 297,124.5 297.7,123.2 298.3,121.8 298.9,120.5 299.5,119.3 300,118.1 300.6,116.9 301.2,115.7 301.8,114.5 302.4,113.2 303,112 303.6,110.8 304.2,109.6 304.8,108.4 305.4,107.2 306,106 306.6,104.9 307.2,103.7 307.8,102.6 308.4,101.5 309,100.5 309.6,99.4 310.2,98.4 310.9,97.4 311.5,96.4 312.1,95.4 312.7,94.5 313.3,93.6 313.9,92.7 314.6,91.8 315.1,90.9 315.7,90 316.3,89.1 316.9,88.2 317.4,87.3 317.9,86.4 318.4,85.5 319.1,84.1 319.8,82.6 320.4,81.2 321,79.6 321.6,78.1 322.2,76.7 322.7,75.3 323.2,73.9 323.7,72.6 324.1,71.5 324.5,70.5 325.2,68.8 325.7,67.6 326.2,66.7 326.5,65.9 327,65 327.5,64 328.1,63 328.7,62.1 329.2,61.3 329.7,60.6 330.3,59.8 330.8,59.3 331.3,59.2 331.7,59.2 332.2,59.4 332.6,59.8 333.1,60.6 333.6,61.9 334.1,63.7 334.6,65.5 335,67 335.4,68.3 335.8,69.4 336.3,70.5 336.7,71.3 337.2,72.1 337.7,73 338.2,73.9 338.8,74.9 339.3,75.7 339.8,76.5 340.3,77.3 340.8,78.2 341.4,79 342,79.8 342.5,80.6 343,81.3 343.6,82.1 344.1,82.8 344.7,83.5 345.2,84.1 345.8,84.7 346.3,85.3 346.8,85.8 347.4,86.3 347.9,86.8 348.5,87.2 349,87.5 349.6,87.8 350.1,88 350.6,88.1 351.2,88.1 351.7,88 352.3,87.9 352.8,87.7 353.4,87.5 353.9,87.4 354.4,87.3 355,87.1 355.5,87 356,86.8 356.5,86.6 357.1,86.5 357.6,86.4 358.1,86.3 358.7,86.3 359.2,86.3 359.8,86.3 360.3,86.3 360.9,86.3 361.4,86.2 361.9,86.1 362.5,86.1 363,86 363.6,85.9 364.1,85.8 364.7,85.6 365.2,85.3 365.7,84.9 366.3,84.5 366.8,83.9 367.4,83.3 367.9,82.7 368.5,82.1 369,81.5 369.5,80.9 370.1,80.2 370.6,79.5 371.1,78.8 371.6,78.1 372.2,77.4 372.7,76.8 373.2,76.2 373.8,75.6 374.3,75 374.9,74.4 375.4,73.9 376,73.4 376.5,73 377.1,72.6 377.6,72.2 378.2,71.8 378.7,71.5 379.3,71.3 379.8,71.1 380.3,71.1 380.9,71.1 381.5,71.1 382,71.4 382.6,72.1 383.1,73.5 383.6,75.8 384.1,79 384.7,82.5 385.2,86 385.7,88.9 386.3,91.2 386.8,93.3 387.4,95.1 388,96.8 388.5,98.3 389,100.1 389.5,101.7 389.9,103 390.4,104 390.9,104.6 391.3,104.9 391.8,105 392.3,104.9 392.8,104.7 393.2,104.2 393.7,103.7 394.2,103 394.7,102.3 395.3,101.5 395.9,100.6 396.5,99.8 397,99.2 397.5,98.7 398,98.4 398.4,98.3 398.9,98.3 399.4,98.7 399.8,99.3 400.3,99.9 400.8,100.2 401.3,100.1 401.9,99.9 402.5,99.5 403.1,99 403.6,98.3 404.1,97.3 404.6,96 405,94.5 405.5,92.6 406,90.2 406.5,87.3 406.9,84.3 407.4,81.3 407.8,78.4 408.3,75.5 408.7,72.6 409.2,70 409.7,67.5 410.2,65.2 410.8,63.2 411.3,61.5 411.8,60.2 412.4,59.3 413,58.7 413.5,58.5 414,58.7 414.6,59.2 415.1,60 415.6,61 416.1,62.1 416.6,63.3 417.1,64.8 417.7,66.5 418.2,67.8 418.7,69.2 419.3,70.7 419.9,72.3 420.5,74.1 421,76 421.6,78.6 422.2,81.6 422.7,84.7 423.3,87.6 423.9,90.1 424.4,91.6 424.9,92.8 425.4,94 426,95 426.5,95.9 427.1,96.8 427.6,97.6 428.1,98.4 428.7,99.2 429.2,100 429.8,100.6 430.3,101.1 430.9,101.4 431.4,101.4 432,101.1 432.5,100.6 433.1,99.9 433.6,99 434.2,97.9 434.7,96.9 435.2,95.8 435.8,94.1 436.4,92.1 437,90 437.5,88.1 438,86.5 438.5,85.1 439,84.1 439.4,83.3 439.9,82.5 440.4,81.4 440.8,80.3 441.3,79.4 441.8,79 442.2,79.4 442.6,80.4 443,81.6 443.7,82.5 444.2,82.8 444.7,83.2 445.3,83.5 445.9,83.8 446.6,84 447.2,84.2 447.8,84.4 448.4,84.4 449,84.4 449.6,84.2 450.1,84 450.6,83.7 451.1,83.3 451.7,82.9 452.2,82.5 452.8,82.1 453.3,81.7 453.9,81.4 454.4,80.9 455,80.2 455.5,79.3 456,78 456.6,75.2 457.2,71.5 457.8,67.6 458.3,64.2 458.8,62.1 459.4,61.5 459.9,62.3 460.4,63.9 461,65.5 461.5,66.9 461.9,68.6 462.4,70.5 462.9,72.1 463.5,73.4 464,74 464.5,74.5 465.1,74.9 465.7,75.1 466.2,75.3 466.8,75.3 467.3,75.3 467.9,74.9 468.5,74.1 469,73.2 469.6,72.5 470.1,72.5 470.7,73.4 471.2,75.1 471.8,76.9 472.3,78.4 472.9,79 473.4,78.6 473.9,77.6 474.4,76.3 474.9,74.8 475.4,73.3 476,72 476.5,71 477.1,69.8 477.7,68.6 478.2,67.5 478.8,66.7 479.4,66.1 480,66 480.6,66.4 481.2,67.3 481.8,68.6 482.4,70 482.9,71.5 483.5,72.8 484,74 484.5,75.3 485,76.7 485.5,78 486,79.1 486.5,79.8 487,80 487.5,79.6 488.1,78.7 488.7,77.5 489.3,76.1 489.9,74.6 490.4,73.2 491,72 491.6,70.7 492.2,69.3 492.8,68 493.4,66.8 494,65.9 494.5,65.5 495.1,65.6 495.5,66.3 496,67.4 496.5,68.7 497,70 497.5,71.5 498,73.7 498.5,75.9 499,77.8 499.5,78.9 500,78.7 500.5,76.8 501,73.5 501.6,69.3 502.1,65 502.6,61 503,58 503.6,55.2 504,53.3 504.5,52.1 504.9,51 505.4,49.9 505.8,48.9 506.3,48.5 506.8,49.1 507.3,50.4 507.9,52.5 508.5,54.9 509.1,57.7 509.6,60.4 510.2,64.1 510.7,68.3 511.3,72.4 512,76 512.5,77.8 513,79.5 513.6,81.1 514.2,82.6 514.8,83.9 515.4,85 516,86 516.6,86.8 517.1,87.4 517.7,87.8 518.3,88.1 518.9,88.2 519.4,88.2 520,88 520.6,87.5 521.1,86.8 521.7,85.8 522.3,84.7 522.9,83.7 523.4,82.7 524,82 524.6,81.8 525.2,82.1 525.8,82.7 526.5,83 527,82.9 527.6,82 528,80 528.7,69.3 529.2,54.8 529.5,43.9 529.9,40.3 530.1,40.6 530.4,38.7 530.7,36.8 531,35.2 531.3,34.9 531.6,37.3 531.9,41.5 532.2,47.7 532.5,54.1 532.8,58.7 533.1,62 533.4,63.8 533.7,64.8 534,65.1 534.3,65.7 534.6,67.7 534.9,69.9 535.2,71.7 535.5,71.9 535.8,68.4 536.1,63.3 536.4,57.4 536.7,52.2 537,49.3 537.3,48.8 537.6,52.2 537.9,57 538.2,61.1 538.5,64.6 538.8,66.5 539.1,67.5 539.4,67.4 539.7,66.8 540,66 540.3,65 540.6,63.9 540.9,63 541.2,62.3 541.5,61.8 541.8,61.7 542.1,62.1 542.4,63.8 542.7,65.9 543,68.5 543.3,70.3 543.6,69.4 543.9,67 544.2,63 544.5,58.6 544.8,55.2 545.1,52.6 545.4,51.1 545.7,50.2 546,49.7 546.3,49.7 546.6,49.7 546.9,50.4 547.2,52.5 547.5,55.3 547.8,58.3 548.1,61 548.4,62.8 548.7,63.5 549,62.3 549.3,60.5 549.6,59.1 549.9,58.2 550.2,58.6 550.5,59.8 550.8,61.8 551.1,64 551.4,65.9 551.7,67.6 552,69.1 552.3,70.3 552.6,71.4 552.9,72 553.2,71.5 553.5,70 553.8,67.2 554.1,63.9 554.4,60.8 554.7,58.1 555,56 555.3,54.9 555.6,55.6 555.9,57.2 556.2,58.6 556.5,59.9 556.8,60.4 557.1,61 557.4,62.4 557.7,64.2 558,66.8 558.3,68.8 558.6,68.6 558.9,66.8 559.2,63.4 559.5,58.9 559.8,54.1 560.1,49.2 560.4,43.7 560.7,40.5 561,42.5 561.3,48.5 561.6,59 561.9,72.5 562.2,89.6 562.5,105.4 562.8,115.4 563.1,120 563.4,117.1 563.7,109.5 564,98.3 564.3,86 564.6,75.4 564.9,66.2 565.2,59.5 565.5,53.1 565.8,44.2 566.1,36.5 566.4,32.4 566.7,32.8 567,40.5 567.3,51.1 567.6,60.9 567.9,70.1 568.2,77.8 568.5,83.3 568.8,85.7 569.1,85.4 569.4,81.9 569.7,76.4 570,69.2 570.3,61.8 570.6,55.8 570.9,50.9 571.2,46.9 571.5,44.6 571.8,45.2 572.1,47.9 572.4,52.8 572.7,58.8 573,65.3 573.3,70.5 573.6,72.2 573.9,71.9 574.2,69.9 574.5,67.5 574.8,66.8 575.1,66.2 575.4,64.5 575.7,61.9 576,57.4 576.3,52.8 576.6,49.7 576.9,48.1 577.2,49.2 577.5,51 577.8,51.4 578.1,51.8 578.4,52.7 578.7,54.4 579,57.6 579.3,61.2 579.6,64.7 579.9,67 580.2,66.4 580.5,64.3 580.8,61.5 581.1,58.1 581.4,55 581.7,51.5 582,46.9 582.3,42.6 582.6,39.3 582.9,37.6 583.2,38.9 583.5,41.5 583.8,44.7 584.1,47.5 584.4,48.3 584.7,48 585,46.9 585.3,45.5 585.6,44.6 585.9,43.7 586.2,43 586.5,42.5 586.8,42.6 587.1,42.8 587.4,43 587.7,42.8 588,41.5 588.3,40 588.6,38.5 588.9,37.8 589.2,39.1 589.5,41 589.8,42.8 590.1,44.1 590.4,43.8 590.7,42.9 591,42.3 591.3,41.6 591.6,40.4 591.9,38.8 592.2,36 592.5,33.6 592.8,32.9 593.1,33.9 593.4,37.9 593.7,43.2 594,48.7 594.3,53.5 594.6,55.8 594.9,56.1 595.2,53.5 595.5,49.7 595.8,45.4 596.1,42.7 596.4,44.2 596.7,48 597,53.2 597.3,58.8 597.6,63.1 597.9,66.6 598.2,69.2 598.5,70.9 598.8,72.5 599.1,72.9 599.4,70.8 599.7,68.5 600,68.8 600.3,69 600.6,66.6 600.9,63.5 601.2,60.7 601.5,58.2 601.8,56.7 602.1,56.4 602.4,57.9 602.7,60.5 603,63.8 603.3,67.2 603.6,70.5 603.9,73.1 604.2,74.3 604.5,74.5 604.8,73.7 605.1,72.4 605.4,70.6 605.7,68.7 606,67.2 606.3,65.8 606.6,64.3 606.9,63.4 607.2,63.7 607.5,66.5 607.8,73.7 608.1,83.4 608.4,95.7 608.7,106.8 609,112.2 609.3,113.3 609.6,108.4 609.9,101.3 610.2,95.2 610.5,89.6 610.8,85.6 611.1,82 611.4,77.7 611.7,73.2 612,68.8 612.3,64 612.6,57.7 612.9,51.9 613.2,48.1 613.5,46.6 613.8,49 614.1,53.1 614.4,57.7 614.7,61.7 615,63.5 615.3,63.9 615.6,62.7 615.9,61.1 616.2,60 616.5,59.8 616.8,61.3 617.1,63.8 617.4,66.7 617.7,70 618,74 618.3,77.7 618.6,80 618.9,80.9 619.2,79.8 619.5,77.3 619.8,73.5 620.1,68.7 620.4,63 620.7,56.5 621,48.4 621.3,41.3 621.6,37.9 621.9,37 622.2,38.8 622.5,41.6 622.8,43.6 623.1,45.6 623.4,47.9 623.7,50.3 624,53.1 624.3,55.3 624.6,55.6 624.9,54.9 625.2,53.4 625.5,52.3 625.8,53.5 626.1,56 626.4,60.1 626.7,63.9 627,65.4 627.3,65.5 627.6,63.8 627.9,62.1 628.2,62.5 628.5,63.9 628.8,66.4 629.1,68.7 629.4,69.2 629.7,68.7 630,67.4 630.3,66.3 630.6,66.5 630.9,67.4 631.2,68.8 631.5,69.5 631.8,68.1 632.1,65.3 632.4,60.4 632.7,55.9 633,54.2 633.3,54.9 633.6,58.8 633.9,63.8 634.2,67.5 634.5,70.8 634.8,73.3 635.1,75.5 635.4,77.7 635.7,80.1 636,83.4 636.3,86.7 636.6,90.4 636.9,92.7 637.2,92 637.5,88.4 637.8,80.6 638.1,71.7 638.4,64.4 638.7,58.8 639,56.1 639.3,55.9 639.6,58.7 639.9,62.2 640.2,64.2 640.5,65.4 640.8,65.3 641.1,65.2 641.4,66.6 641.7,69.1 642,74.2 642.3,79 642.6,81.1 642.9,80.9 643.2,76.9 643.5,72 643.8,68.2 644.1,66.1 644.4,66.9 644.7,70 645,75.9 645.3,82.4 645.6,87.8 645.9,91.1 646.2,90.3 646.5,86.7 646.8,80 647.1,72.4 647.4,66.3 647.7,61.6 648,59.2 648.3,58.5 648.6,59.7 648.9,61.5 649.2,62.5 649.5,63.2 649.8,63.8 650.1,64.6 650.4,66.2 650.7,68.3 651,70.8 651.3,73.2 651.6,74.5 651.9,75.2 652.2,75.7 652.5,75.5 652.8,74.4 653.1,72.2 653.4,68.8 653.7,64.3 654,57.7 654.3,51.3 654.6,46.2 654.9,43.5 655.2,46 655.5,50.3 655.8,54.5 656.1,57.6 656.4,56.4 656.7,54 657,51.6 657.3,50.3 657.6,52.5 657.9,56 658.2,60.1 658.5,63.9 658.8,65.9 659.1,66.6 659.4,65.3 659.7,63 660,59.8 660.3,57.9 660.6,59.8 660.9,63.4 661.2,67.9 661.5,72 661.8,73.8 662.1,73.9 662.4,72 662.7,69.4 663,67.5 663.3,65.9 663.6,64.7 663.9,64.4 664.2,65 664.5,67.1 664.8,71.5 665.1,76.7 665.4,82 665.7,86.5 666,89.3 666.3,90.6 666.6,90.6 666.9,88.8 667.2,84.4 667.5,79 667.8,74 668.1,70 668.4,68.9 668.7,68.5 669,67.3 669.3,65.1 669.6,60.5 669.9,55.9 670.2,53.6 670.5,53 670.8,54.6 671.1,56.7 671.4,57.6 671.7,57.9 672,57.6 672.3,56.7 672.6,55.5 672.9,54.2 673.2,53 673.5,52.3 673.8,52.7 674.1,53.7 674.4,55.1 674.7,56.4 675,57.4 675.3,57.6 675.6,56.8 675.9,55.1 676.2,52.5 676.5,50 676.8,48.4 677.1,47.9 677.4,49.4 677.7,51.9 678,54.8 678.3,57.8 678.6,60.4 678.9,62.8 679.2,65 679.5,67 679.8,69.4 680.1,71.2" fill="none" stroke="#ff2020" stroke-opacity="0.88" stroke-width="0.95"/>
<path d="M289,169 289.3,167.8 289.8,166.2 290.4,164.2 291,162.1 291.6,159.9 292.3,157.6 292.9,155.5 293.4,153.7 293.9,152 294.5,150.2 295,148.4 295.6,146.6 296.2,144.6 296.8,142.6 297.5,140.5 298,139 298.5,137.5 299,135.9 299.6,134.2 300.1,132.5 300.7,130.8 301.3,129.1 301.9,127.4 302.5,125.6 303.2,123.9 303.8,122.2 304.5,120.5 305,119.2 305.6,118 306.1,116.7 306.7,115.4 307.3,114.1 307.9,112.8 308.5,111.5 309.1,110.2 309.7,108.9 310.3,107.6 310.9,106.4 311.5,105.1 312,103.9 312.6,102.8 313.2,101.6 313.7,100.5 314.3,99.2 315,97.9 315.6,96.7 316.2,95.5 316.8,94.4 317.4,93.2 318,92.1 318.6,91 319.2,90 319.7,88.9 320.3,87.8 320.8,86.6 321.3,85.5 322,83.9 322.6,82.3 323.2,80.6 323.9,79 324.5,77.3 325,75.7 325.6,74.2 326.1,72.8 326.5,71.5 326.9,70.5 327.7,68.4 328.1,67.5 328.6,66.7 329.1,65.8 329.7,64.9 330.3,64.1 330.8,63.5 331.3,63.1 331.7,63.1 332.3,63.5 332.7,63.9 333.2,64.5 333.8,65.3 334.4,66 334.9,66.8 335.4,67.4 336,68.1 336.4,68.7 337,69.4 337.7,70.5 338.1,71.2 338.6,72 339.2,73 339.7,73.9 340.3,75 340.9,76 341.5,77 342,77.9 342.5,78.7 343.1,79.7 343.7,80.5 344.2,81.4 344.8,82.2 345.3,82.9 345.8,83.6 346.3,84.3 346.9,85.2 347.5,86 348.1,86.8 348.6,87.5 349.2,88.1 349.8,88.7 350.3,89.2 350.8,89.7 351.4,90 352,90 352.5,89.8 353,89.5 353.6,89 354.1,88.5 354.7,88 355.3,87.5 355.8,87.2 356.3,86.9 356.9,86.7 357.4,86.5 357.9,86.4 358.4,86.3 359,86.2 359.5,86.2 360,86.3 360.6,86.5 361.1,86.7 361.7,86.9 362.2,87.1 362.8,87.2 363.3,87.2 363.8,87 364.4,86.8 364.9,86.4 365.5,86 366,85.5 366.6,84.9 367.1,84.3 367.6,83.6 368.2,82.7 368.7,81.7 369.2,80.7 369.7,79.7 370.3,78.7 370.8,77.7 371.3,76.7 371.9,75.7 372.4,74.7 373,73.7 373.5,72.8 374.1,71.9 374.6,71.1 375.2,70.4 375.7,69.8 376.3,69.2 376.9,68.6 377.5,68.2 378,67.8 378.4,67.4 379,66.9 379.4,66.5 379.8,66.3 380.3,66.4 380.8,66.6 381.3,66.9 381.8,67.4 382.3,68.2 382.8,69.3 383.3,71.3 383.8,73.9 384.2,76.7 384.7,79.4 385.2,81.7 385.6,84 386.1,86.3 386.6,88.9 387.1,91.9 387.6,95.3 388,98.7 388.5,102.1 389,105.3 389.4,108.4 389.9,111.7 390.4,115.3 390.9,118.6 391.5,122.3 392.1,126 392.7,129.6 393.2,132.8 393.8,136.2 394.3,139.2 394.7,141.8 395.1,144.1 395.6,148 396,149.7 396.4,149.2 396.9,148 397.4,146.2 397.9,144.1 398.4,141.6 398.8,138.7 399.3,135.6 399.8,132.8 400.3,130.3 400.8,127.8 401.2,125.5 401.7,123.3 402.2,121.3 402.7,119.5 403.2,117.7 403.6,115.8 404.1,112.1 404.5,107.7 404.9,104.8 405.4,101.4 405.9,97.9 406.4,94.5 406.9,91.2 407.3,87.8 407.8,84.5 408.3,81.3 408.8,78.3 409.2,75.4 409.7,72.6 410.2,70 410.7,67.6 411.1,65.3 411.6,63.1 412.1,60.8 412.6,58.2 413.1,55.3 413.5,52.8 414,51.4 414.5,51.4 414.9,52.3 415.3,53.7 415.8,55.2 416.2,56.7 416.7,58.5 417.2,60.3 417.7,61.8 418.2,62.7 418.8,63.4 419.4,64 420,64.7 420.6,65.6 421.2,66.7 421.7,67.8 422.3,69 422.9,70.5 423.4,72.2 423.9,74.4 424.4,77.1 424.9,79.9 425.3,82.5 425.8,84.4 426.4,85.8 426.9,86.6 427.5,87 428.1,87.5 428.7,88.2 429.2,88.9 429.8,89.3 430.5,89.2 431,88.7 431.5,88 432,87 432.5,86 433.1,85 433.7,84.1 434.2,83.5 434.8,83.1 435.3,82.9 435.9,82.9 436.5,82.9 437,82.9 437.6,83 438,83 438.6,82.7 439.1,82.3 439.5,82.4 439.9,83.5 440.4,85.9 440.8,89.2 441.3,93.2 441.8,97.6 442.3,102 442.9,107.4 443.5,112.8 444.1,117.4 444.6,120.3 445.2,121.3 445.6,120.3 446.1,118.2 446.7,115.8 447.1,114 447.6,111.8 448.1,109.3 448.7,106.8 449.2,104.4 449.7,102.3 450.2,100.6 450.7,99.3 451.2,98 451.7,96.7 452.2,95.2 452.7,93.2 453.2,90.6 453.8,87.6 454.3,84.4 454.9,81.1 455.4,77.9 455.8,75 456.4,70 456.9,65.5 457.3,61.5 457.8,57.6 458.2,54.2 458.8,52.6 459.3,53 459.8,54.4 460.3,56.2 461,58.3 461.6,60.2 462.1,61.5 462.6,62.9 463.2,64.3 463.8,65.8 464.4,67.2 464.9,68.5 465.4,69.6 466,70.7 466.6,71.4 467.1,72.1 467.7,73.1 468.2,75 468.8,77.6 469.4,80.6 469.9,84.3 470.5,88.6 471,93.9 471.6,103.1 472.2,114.5 472.7,125.3 473.1,132.8 473.6,136.4 474,134 474.5,132.3 475,129.6 475.5,125 476,118.2 476.4,109.7 477,100 477.5,91.1 478.1,80.8 478.8,71.3 479.4,65 479.9,63.2 480.4,63.7 480.9,65.3 481.5,67.1 482,68 482.5,68 483,67.8 483.5,67.4 484.1,67 484.6,66.5 485,66 485.6,64.9 486.1,63.5 486.5,62.5 487,62.3 487.5,63.2 487.9,64.8 488.4,67.1 489,70 489.5,72.4 490,75.1 490.5,78.1 491,81.3 491.5,84.6 492,88 492.6,93.3 493,98.9 493.5,104.6 494,110 494.5,114.6 495,119.6 495.6,124.2 496.1,127.7 496.6,129.3 497.3,126.7 497.9,120.3 498.4,114 498.8,109.8 499.1,105.8 499.6,100 500.1,93.3 500.8,85.1 501.4,76.8 502,70 502.5,65.1 503,61.3 503.5,58 504,54.7 504.5,51.6 505.1,48.4 505.7,45.4 506.3,43 506.8,41.5 507.3,41 507.8,41.7 508.2,43.5 508.7,46.2 509.2,50 509.6,54.8 510.1,60.6 510.6,67 511.1,74.5 511.6,82.9 512.1,91.7 512.5,100 513,110.5 513.5,120.7 514,130 514.5,137.3 514.9,144.7 515.5,150.2 516,151.6 516.6,146.9 517.3,137.7 517.9,127.2 518.4,118.7 518.9,108.2 519.5,100 520,96.7 520.5,93.6 521.2,90.7 521.8,87.8 522.4,85 522.9,82 523.4,78.8 523.9,75.9 524.5,73.5 525,72 525.5,71.7 526,72.2 526.6,73.2 527.1,74.4 527.6,75.4 528,76 528.6,76.5 529.1,76.6 529.5,75.6 529.9,70.4 530.1,65.5 530.4,64.9 530.7,67.4 531,73.6 531.3,81.7 531.6,90.7 531.9,98.4 532.2,101.7 532.5,102 532.8,98.6 533.1,93.3 533.4,87.2 533.7,81.5 534,78.4 534.3,77.3 534.6,79.4 534.9,81.5 535.2,81.2 535.5,78.5 535.8,71.6 536.1,63.7 536.4,57 536.7,52.4 537,52.2 537.3,53.9 537.6,55.9 537.9,58.5 538.2,61.5 538.5,64.5 538.8,67.1 539.1,68.9 539.4,68.9 539.7,67.9 540,66 540.3,63.9 540.6,62.8 540.9,62.4 541.2,62.8 541.5,63.8 541.8,64.8 542.1,66.6 542.4,70.5 542.7,74.7 543,78.4 543.3,80 543.6,77.7 543.9,72.1 544.2,62.1 544.5,51.7 544.8,44.6 545.1,40.6 545.4,41.2 545.7,44.2 546,48 546.3,52.8 546.6,59 546.9,65.6 547.2,71.8 547.5,77 547.8,79.9 548.1,81.2 548.4,81 548.7,80.3 549,80.8 549.3,81 549.6,80.5 549.9,79 550.2,75.9 550.5,72.1 550.8,67.7 551.1,63.5 551.4,60.7 551.7,59 552,58.5 552.3,58.9 552.6,60.2 552.9,61.3 553.2,60.6 553.5,59.3 553.8,57.8 554.1,57.8 554.4,61.7 554.7,67.1 555,73.2 555.3,77.5 555.6,75.5 555.9,71.8 556.2,69.2 556.5,68.5 556.8,72.3 557.1,78.2 557.4,84.8 557.7,91.9 558,99.6 558.3,106.2 558.6,110.4 558.9,111.2 559.2,106.7 559.5,98.9 559.8,88.7 560.1,78.2 560.4,69.3 560.7,64 561,66 561.3,71.9 561.6,80.3 561.9,89.7 562.2,98.6 562.5,104.5 562.8,103.7 563.1,98.6 563.4,89.3 563.7,78.8 564,68.9 564.3,62.2 564.6,62.9 564.9,68.2 565.2,77.3 565.5,88.6 565.8,101.1 566.1,111.4 566.4,115.2 566.7,113.6 567,104.5 567.3,92.9 567.6,82.8 567.9,75.2 568.2,72.8 568.5,73.9 568.8,78.6 569.1,84.5 569.4,89.4 569.7,92 570,89.5 570.3,83.9 570.6,76.1 570.9,66.1 571.2,53 571.5,40.3 571.8,30.8 572.1,25.7 572.4,28.2 572.7,35.7 573,48 573.3,61.3 573.6,71.4 573.9,79.2 574.2,83.7 574.5,86.2 574.8,87.2 575.1,87.2 575.4,86.8 575.7,86.3 576,86.3 576.3,86.6 576.6,87.6 576.9,88.8 577.2,90.4 577.5,91.7 577.8,91.8 578.1,91.2 578.4,90 578.7,88.3 579,86.2 579.3,84 579.6,82 579.9,80.7 580.2,80.6 580.5,81.7 580.8,84.3 581.1,88 581.4,93.1 581.7,97.8 582,100.4 582.3,101 582.6,97.9 582.9,94.6 583.2,94.1 583.5,95.8 583.8,101.2 584.1,106.6 584.4,108.6 584.7,107.1 585,99 585.3,88.8 585.6,79.5 585.9,72.3 586.2,70 586.5,71 586.8,75.9 587.1,81.9 587.4,86 587.7,89 588,89.6 588.3,90.6 588.6,95.2 588.9,101.5 589.2,109.9 589.5,117.1 589.8,118.8 590.1,117.2 590.4,112 590.7,105.1 591,98.5 591.3,91.4 591.6,83.7 591.9,74.7 592.2,62 592.5,50.2 592.8,43 593.1,40.1 593.4,43.8 593.7,49.8 594,54.5 594.3,57.1 594.6,54.2 594.9,49.5 595.2,44.6 595.5,42.8 595.8,49.2 596.1,60.1 596.4,74.3 596.7,89.8 597,105.6 597.3,117.7 597.6,120.9 597.9,118.1 598.2,109.5 598.5,98.4 598.8,88.5 599.1,79.9 599.4,74.1 599.7,71.5 600,73.5 600.3,78.1 600.6,84.7 600.9,91 601.2,94 601.5,94.9 601.8,92.4 602.1,90.3 602.4,92.4 602.7,97 603,104.9 603.3,112.6 603.6,116.6 603.9,117.6 604.2,114.7 604.5,109.5 604.8,103.1 605.1,96.1 605.4,89.1 605.7,83.1 606,79.7 606.3,78.3 606.6,78.4 606.9,81.2 607.2,87.6 607.5,97.3 607.8,112 608.1,127 608.4,138.1 608.7,145.6 609,147.7 609.3,145.7 609.6,139.5 609.9,130.6 610.2,119.1 610.5,109.1 610.8,106.1 611.1,106.2 611.4,106.9 611.7,108.6 612,111.3 612.3,114.6 612.6,119 612.9,121.4 613.2,117.4 613.5,110.1 613.8,99.3 614.1,89.5 614.4,85.8 614.7,86.1 615,90.8 615.3,97.5 615.6,104.2 615.9,110.2 616.2,114.5 616.5,116.6 616.8,115.6 617.1,112.1 617.4,106.2 617.7,98.7 618,90.6 618.3,82.8 618.6,76.2 618.9,71 619.2,67.4 619.5,66.1 619.8,68.3 620.1,72.9 620.4,79.3 620.7,87.2 621,97.2 621.3,106.2 621.6,110.8 621.9,112.9 622.2,112.5 622.5,111.9 622.8,114.1 623.1,116.6 623.4,118.6 623.7,118.7 624,114.2 624.3,107.8 624.6,101.1 624.9,94.7 625.2,89.7 625.5,85.6 625.8,82.2 626.1,80.2 626.4,80.3 626.7,82.1 627,85.6 627.3,88.9 627.6,89.7 627.9,89.9 628.2,90.1 628.5,91.6 628.8,96 629.1,103.4 629.4,115.2 629.7,127.8 630,138.2 630.3,145.5 630.6,148.4 630.9,145 631.2,130.7 631.5,112.3 631.8,94.3 632.1,78.6 632.4,69 632.7,64.4 633,65.6 633.3,70.9 633.6,79.1 633.9,89.5 634.2,102 634.5,113.6 634.8,121.3 635.1,125.2 635.4,123.9 635.7,118.4 636,108.3 636.3,96.9 636.6,87.5 636.9,80 637.2,76.6 637.5,74.6 637.8,71.9 638.1,68.7 638.4,63.2 638.7,58.7 639,58.3 639.3,60.8 639.6,67.4 639.9,73.7 640.2,75.9 640.5,73.9 640.8,64.5 641.1,54 641.4,47.8 641.7,46.6 642,55.7 642.3,67.1 642.6,74.6 642.9,78.1 643.2,74.7 643.5,67.6 643.8,58.1 644.1,49.5 644.4,45.8 644.7,46.4 645,53.6 645.3,63.2 645.6,72.2 645.9,79.4 646.2,81.8 646.5,82 646.8,80.7 647.1,80.3 647.4,83.2 647.7,89.8 648,103.2 648.3,117.6 648.6,129.1 648.9,134.7 649.2,128.1 649.5,115.3 649.8,99 650.1,83 650.4,72.7 650.7,66.6 651,64.8 651.3,67.2 651.6,73.8 651.9,84.7 652.2,102.1 652.5,120.1 652.8,134.1 653.1,142 653.4,138.2 653.7,127.9 654,113.2 654.3,98.1 654.6,88 654.9,80.8 655.2,76.5 655.5,74.5 655.8,74.3 656.1,76.2 656.4,80.6 656.7,86.6 657,93.3 657.3,100.8 657.6,108.7 657.9,117.5 658.2,129.4 658.5,139.5 658.8,143.6 659.1,142 659.4,132.4 659.7,119.4 660,106.3 660.3,94.5 660.6,86.8 660.9,82.2 661.2,81.1 661.5,81.7 661.8,83.3 662.1,83.8 662.4,80.7 662.7,74.2 663,62.5 663.3,50.1 663.6,41.3 663.9,35.2 664.2,33.2 664.5,32.7 664.8,31.1 665.1,30.3 665.4,31.2 665.7,34.8 666,43.3 666.3,54.4 666.6,66.7 666.9,79.6 667.2,92.1 667.5,102.8 667.8,110 668.1,112.9 668.4,109.4 668.7,102.9 669,95.8 669.3,89.3 669.6,85.6 669.9,85.3 670.2,90.9 670.5,100.3 670.8,114.1 671.1,126.7 671.4,131.9 671.7,132 672,125.8 672.3,117.9 672.6,113 672.9,109.8 673.2,108.7 673.5,109.6 673.8,112.7 674.1,118.9 674.4,131.7 674.7,143.7 675,146.4 675.3,146 675.6,147.5 675.9,146 676.2,138.4 676.5,124.5 676.8,100.8 677.1,74.3 677.4,49.3 677.7,29.7 678,23.1 678.3,22.2 678.6,21.7 678.9,23.7 679.2,29.9 679.5,35.5 679.8,34.4 680.1,31.8" fill="none" stroke="#2a2aff" stroke-opacity="0.85" stroke-width="0.95"/>
</g>
<rect x="41.45" y="29.30" width="196.95" height="191.10" fill="none" stroke="#4a4a4a" stroke-width="1.3"/>
<line x1="38.05" y1="220.40" x2="41.45" y2="220.40" stroke="#333" stroke-width="1.0" />
<line x1="39.25" y1="206.02" x2="41.45" y2="206.02" stroke="#444" stroke-width="0.8" />
<line x1="39.25" y1="197.61" x2="41.45" y2="197.61" stroke="#444" stroke-width="0.8" />
<line x1="39.25" y1="191.64" x2="41.45" y2="191.64" stroke="#444" stroke-width="0.8" />
<line x1="39.25" y1="187.01" x2="41.45" y2="187.01" stroke="#444" stroke-width="0.8" />
<line x1="39.25" y1="183.22" x2="41.45" y2="183.22" stroke="#444" stroke-width="0.8" />
<line x1="39.25" y1="180.03" x2="41.45" y2="180.03" stroke="#444" stroke-width="0.8" />
<line x1="39.25" y1="177.25" x2="41.45" y2="177.25" stroke="#444" stroke-width="0.8" />
<line x1="39.25" y1="174.81" x2="41.45" y2="174.81" stroke="#444" stroke-width="0.8" />
<line x1="38.05" y1="172.62" x2="41.45" y2="172.62" stroke="#333" stroke-width="1.0" />
<line x1="39.25" y1="158.24" x2="41.45" y2="158.24" stroke="#444" stroke-width="0.8" />
<line x1="39.25" y1="149.83" x2="41.45" y2="149.83" stroke="#444" stroke-width="0.8" />
<line x1="39.25" y1="143.86" x2="41.45" y2="143.86" stroke="#444" stroke-width="0.8" />
<line x1="39.25" y1="139.23" x2="41.45" y2="139.23" stroke="#444" stroke-width="0.8" />
<line x1="39.25" y1="135.45" x2="41.45" y2="135.45" stroke="#444" stroke-width="0.8" />
<line x1="39.25" y1="132.25" x2="41.45" y2="132.25" stroke="#444" stroke-width="0.8" />
<line x1="39.25" y1="129.48" x2="41.45" y2="129.48" stroke="#444" stroke-width="0.8" />
<line x1="39.25" y1="127.04" x2="41.45" y2="127.04" stroke="#444" stroke-width="0.8" />
<line x1="38.05" y1="124.85" x2="41.45" y2="124.85" stroke="#333" stroke-width="1.0" />
<line x1="39.25" y1="110.47" x2="41.45" y2="110.47" stroke="#444" stroke-width="0.8" />
<line x1="39.25" y1="102.06" x2="41.45" y2="102.06" stroke="#444" stroke-width="0.8" />
<line x1="39.25" y1="96.09" x2="41.45" y2="96.09" stroke="#444" stroke-width="0.8" />
<line x1="39.25" y1="91.46" x2="41.45" y2="91.46" stroke="#444" stroke-width="0.8" />
<line x1="39.25" y1="87.67" x2="41.45" y2="87.67" stroke="#444" stroke-width="0.8" />
<line x1="39.25" y1="84.48" x2="41.45" y2="84.48" stroke="#444" stroke-width="0.8" />
<line x1="39.25" y1="81.70" x2="41.45" y2="81.70" stroke="#444" stroke-width="0.8" />
<line x1="39.25" y1="79.26" x2="41.45" y2="79.26" stroke="#444" stroke-width="0.8" />
<line x1="38.05" y1="77.08" x2="41.45" y2="77.08" stroke="#333" stroke-width="1.0" />
<line x1="39.25" y1="62.69" x2="41.45" y2="62.69" stroke="#444" stroke-width="0.8" />
<line x1="39.25" y1="54.28" x2="41.45" y2="54.28" stroke="#444" stroke-width="0.8" />
<line x1="39.25" y1="48.31" x2="41.45" y2="48.31" stroke="#444" stroke-width="0.8" />
<line x1="39.25" y1="43.68" x2="41.45" y2="43.68" stroke="#444" stroke-width="0.8" />
<line x1="39.25" y1="39.90" x2="41.45" y2="39.90" stroke="#444" stroke-width="0.8" />
<line x1="39.25" y1="36.70" x2="41.45" y2="36.70" stroke="#444" stroke-width="0.8" />
<line x1="39.25" y1="33.93" x2="41.45" y2="33.93" stroke="#444" stroke-width="0.8" />
<line x1="39.25" y1="31.49" x2="41.45" y2="31.49" stroke="#444" stroke-width="0.8" />
<line x1="38.05" y1="29.30" x2="41.45" y2="29.30" stroke="#333" stroke-width="1.0" />
<line x1="122.48" y1="220.40" x2="122.48" y2="223.80" stroke="#333" stroke-width="1.0" />
<line x1="238.40" y1="220.40" x2="238.40" y2="223.80" stroke="#333" stroke-width="1.0" />
<line x1="41.45" y1="220.40" x2="41.45" y2="222.60" stroke="#444" stroke-width="0.8" />
<line x1="61.86" y1="220.40" x2="61.86" y2="222.60" stroke="#444" stroke-width="0.8" />
<line x1="76.35" y1="220.40" x2="76.35" y2="222.60" stroke="#444" stroke-width="0.8" />
<line x1="87.58" y1="220.40" x2="87.58" y2="222.60" stroke="#444" stroke-width="0.8" />
<line x1="96.76" y1="220.40" x2="96.76" y2="222.60" stroke="#444" stroke-width="0.8" />
<line x1="104.52" y1="220.40" x2="104.52" y2="222.60" stroke="#444" stroke-width="0.8" />
<line x1="111.24" y1="220.40" x2="111.24" y2="222.60" stroke="#444" stroke-width="0.8" />
<line x1="117.17" y1="220.40" x2="117.17" y2="222.60" stroke="#444" stroke-width="0.8" />
<line x1="157.37" y1="220.40" x2="157.37" y2="222.60" stroke="#444" stroke-width="0.8" />
<line x1="177.79" y1="220.40" x2="177.79" y2="222.60" stroke="#444" stroke-width="0.8" />
<line x1="192.27" y1="220.40" x2="192.27" y2="222.60" stroke="#444" stroke-width="0.8" />
<line x1="203.50" y1="220.40" x2="203.50" y2="222.60" stroke="#444" stroke-width="0.8" />
<line x1="212.68" y1="220.40" x2="212.68" y2="222.60" stroke="#444" stroke-width="0.8" />
<line x1="220.44" y1="220.40" x2="220.44" y2="222.60" stroke="#444" stroke-width="0.8" />
<line x1="227.17" y1="220.40" x2="227.17" y2="222.60" stroke="#444" stroke-width="0.8" />
<line x1="233.10" y1="220.40" x2="233.10" y2="222.60" stroke="#444" stroke-width="0.8" />
<text x="35.65" y="33.00" font-size="9.3" text-anchor="end" fill="#000" textLength="22.4" lengthAdjust="spacingAndGlyphs" >1000</text>
<text x="35.65" y="80.78" font-size="9.3" text-anchor="end" fill="#000" textLength="16.8" lengthAdjust="spacingAndGlyphs" >100</text>
<text x="35.65" y="128.55" font-size="9.3" text-anchor="end" fill="#000" textLength="11.3" lengthAdjust="spacingAndGlyphs" >10</text>
<text x="35.65" y="176.32" font-size="9.3" text-anchor="end" fill="#000" textLength="5.4" lengthAdjust="spacingAndGlyphs" >1</text>
<text x="35.65" y="224.10" font-size="9.3" text-anchor="end" fill="#000" textLength="13.4" lengthAdjust="spacingAndGlyphs" >0.1</text>
<text x="41.45" y="233.80" font-size="9.3" text-anchor="middle" fill="#000" textLength="13.6" lengthAdjust="spacingAndGlyphs" >0.2</text>
<text x="122.48" y="233.80" font-size="9.3" text-anchor="middle" fill="#000" textLength="5.4" lengthAdjust="spacingAndGlyphs" >1</text>
<text x="238.40" y="233.80" font-size="9.3" text-anchor="middle" fill="#000" textLength="11.3" lengthAdjust="spacingAndGlyphs" >10</text>
<text x="140.00" y="245.90" font-size="9.3" text-anchor="middle" fill="#000" textLength="67.3" lengthAdjust="spacingAndGlyphs" >Frequency (Hz)</text>
<text x="9.30" y="124.40" font-size="9.3" text-anchor="middle" fill="#000" textLength="106" lengthAdjust="spacingAndGlyphs" transform="rotate(-90 9.30 124.40)" >Fourier spectrum (cm*s)</text>
<rect x="45.4" y="171.6" width="80.1" height="45.4" fill="#fff" fill-opacity="0.8" stroke="#333" stroke-width="1.1"/>
<line x1="47.90" y1="177.90" x2="62.60" y2="177.90" stroke="#ffd3da" stroke-width="0.9" />
<text x="67.60" y="180.50" font-size="7.4" text-anchor="start" fill="#000" textLength="36.6" lengthAdjust="spacingAndGlyphs" >Syn (each)</text>
<line x1="47.90" y1="188.50" x2="62.60" y2="188.50" stroke="#f04040" stroke-width="0.9" />
<text x="67.60" y="191.10" font-size="7.4" text-anchor="start" fill="#000" textLength="47.5" lengthAdjust="spacingAndGlyphs" >Syn (average)</text>
<line x1="47.90" y1="199.30" x2="62.60" y2="199.30" stroke="#4848f0" stroke-width="0.9" />
<text x="67.60" y="201.90" font-size="7.4" text-anchor="start" fill="#000" textLength="53.8" lengthAdjust="spacingAndGlyphs" >Syn (reference)</text>
<line x1="47.90" y1="210.10" x2="62.60" y2="210.10" stroke="#444" stroke-width="0.9" />
<text x="67.60" y="212.70" font-size="7.4" text-anchor="start" fill="#000" textLength="14.4" lengthAdjust="spacingAndGlyphs" >Obs</text>
<text x="158.00" y="206.60" font-size="9.3" text-anchor="start" fill="#000" textLength="24.6" lengthAdjust="spacingAndGlyphs" >KUMA</text>
<text x="157.90" y="216.40" font-size="9.3" text-anchor="start" fill="#000" textLength="73.8" lengthAdjust="spacingAndGlyphs" >Step-3 foreshock</text>
<rect x="282.80" y="18.10" width="393.60" height="143.20" fill="none" stroke="#4a4a4a" stroke-width="1.3"/>
<line x1="279.40" y1="161.30" x2="282.80" y2="161.30" stroke="#333" stroke-width="1.0" />
<line x1="280.60" y1="139.75" x2="282.80" y2="139.75" stroke="#444" stroke-width="0.8" />
<line x1="280.60" y1="127.14" x2="282.80" y2="127.14" stroke="#444" stroke-width="0.8" />
<line x1="280.60" y1="118.19" x2="282.80" y2="118.19" stroke="#444" stroke-width="0.8" />
<line x1="280.60" y1="111.25" x2="282.80" y2="111.25" stroke="#444" stroke-width="0.8" />
<line x1="280.60" y1="105.58" x2="282.80" y2="105.58" stroke="#444" stroke-width="0.8" />
<line x1="280.60" y1="100.79" x2="282.80" y2="100.79" stroke="#444" stroke-width="0.8" />
<line x1="280.60" y1="96.64" x2="282.80" y2="96.64" stroke="#444" stroke-width="0.8" />
<line x1="280.60" y1="92.98" x2="282.80" y2="92.98" stroke="#444" stroke-width="0.8" />
<line x1="279.40" y1="89.70" x2="282.80" y2="89.70" stroke="#333" stroke-width="1.0" />
<line x1="280.60" y1="68.15" x2="282.80" y2="68.15" stroke="#444" stroke-width="0.8" />
<line x1="280.60" y1="55.54" x2="282.80" y2="55.54" stroke="#444" stroke-width="0.8" />
<line x1="280.60" y1="46.59" x2="282.80" y2="46.59" stroke="#444" stroke-width="0.8" />
<line x1="280.60" y1="39.65" x2="282.80" y2="39.65" stroke="#444" stroke-width="0.8" />
<line x1="280.60" y1="33.98" x2="282.80" y2="33.98" stroke="#444" stroke-width="0.8" />
<line x1="280.60" y1="29.19" x2="282.80" y2="29.19" stroke="#444" stroke-width="0.8" />
<line x1="280.60" y1="25.04" x2="282.80" y2="25.04" stroke="#444" stroke-width="0.8" />
<line x1="280.60" y1="21.38" x2="282.80" y2="21.38" stroke="#444" stroke-width="0.8" />
<line x1="279.40" y1="18.10" x2="282.80" y2="18.10" stroke="#333" stroke-width="1.0" />
<line x1="444.73" y1="161.30" x2="444.73" y2="164.70" stroke="#333" stroke-width="1.0" />
<line x1="676.40" y1="161.30" x2="676.40" y2="164.70" stroke="#333" stroke-width="1.0" />
<line x1="282.80" y1="161.30" x2="282.80" y2="163.50" stroke="#444" stroke-width="0.8" />
<line x1="323.60" y1="161.30" x2="323.60" y2="163.50" stroke="#444" stroke-width="0.8" />
<line x1="352.54" y1="161.30" x2="352.54" y2="163.50" stroke="#444" stroke-width="0.8" />
<line x1="374.99" y1="161.30" x2="374.99" y2="163.50" stroke="#444" stroke-width="0.8" />
<line x1="393.33" y1="161.30" x2="393.33" y2="163.50" stroke="#444" stroke-width="0.8" />
<line x1="408.84" y1="161.30" x2="408.84" y2="163.50" stroke="#444" stroke-width="0.8" />
<line x1="422.28" y1="161.30" x2="422.28" y2="163.50" stroke="#444" stroke-width="0.8" />
<line x1="434.13" y1="161.30" x2="434.13" y2="163.50" stroke="#444" stroke-width="0.8" />
<line x1="514.47" y1="161.30" x2="514.47" y2="163.50" stroke="#444" stroke-width="0.8" />
<line x1="555.26" y1="161.30" x2="555.26" y2="163.50" stroke="#444" stroke-width="0.8" />
<line x1="584.21" y1="161.30" x2="584.21" y2="163.50" stroke="#444" stroke-width="0.8" />
<line x1="606.66" y1="161.30" x2="606.66" y2="163.50" stroke="#444" stroke-width="0.8" />
<line x1="625.00" y1="161.30" x2="625.00" y2="163.50" stroke="#444" stroke-width="0.8" />
<line x1="640.51" y1="161.30" x2="640.51" y2="163.50" stroke="#444" stroke-width="0.8" />
<line x1="653.95" y1="161.30" x2="653.95" y2="163.50" stroke="#444" stroke-width="0.8" />
<line x1="665.80" y1="161.30" x2="665.80" y2="163.50" stroke="#444" stroke-width="0.8" />
<text x="276.90" y="21.80" font-size="9.3" text-anchor="end" fill="#000" textLength="11.3" lengthAdjust="spacingAndGlyphs" >10</text>
<text x="276.90" y="93.40" font-size="9.3" text-anchor="end" fill="#000" textLength="5.4" lengthAdjust="spacingAndGlyphs" >1</text>
<text x="276.90" y="165.00" font-size="9.3" text-anchor="end" fill="#000" textLength="13.4" lengthAdjust="spacingAndGlyphs" >0.1</text>
<text x="282.80" y="174.70" font-size="9.3" text-anchor="middle" fill="#000" textLength="13.6" lengthAdjust="spacingAndGlyphs" >0.2</text>
<text x="444.73" y="174.70" font-size="9.3" text-anchor="middle" fill="#000" textLength="5.4" lengthAdjust="spacingAndGlyphs" >1</text>
<text x="676.40" y="174.70" font-size="9.3" text-anchor="middle" fill="#000" textLength="11.3" lengthAdjust="spacingAndGlyphs" >10</text>
<text x="479.80" y="187.50" font-size="9.3" text-anchor="middle" fill="#000" textLength="67.3" lengthAdjust="spacingAndGlyphs" >Frequency (Hz)</text>
<text x="257.60" y="89.85" font-size="9.3" text-anchor="middle" fill="#000" textLength="34.5" lengthAdjust="spacingAndGlyphs" transform="rotate(-90 257.60 89.85)" >Syn/Obs</text>
<text x="292.50" y="29.80" font-size="9.3" text-anchor="start" fill="#000" textLength="103" lengthAdjust="spacingAndGlyphs" >KUMA Step-3 foreshock</text>
<rect x="362.4" y="0.4" width="235.1" height="13.0" fill="#fff" stroke="#333" stroke-width="1.1"/>
<line x1="364.50" y1="6.40" x2="379.60" y2="6.40" stroke="#ffd3da" stroke-width="0.9" />
<text x="384.80" y="9.10" font-size="7.4" text-anchor="start" fill="#000" textLength="37.2" lengthAdjust="spacingAndGlyphs" >Syn (each)</text>
<line x1="436.00" y1="6.40" x2="451.00" y2="6.40" stroke="#f04040" stroke-width="0.9" />
<text x="456.70" y="9.10" font-size="7.4" text-anchor="start" fill="#000" textLength="49.4" lengthAdjust="spacingAndGlyphs" >Syn (average)</text>
<line x1="520.00" y1="6.40" x2="534.80" y2="6.40" stroke="#4848f0" stroke-width="0.9" />
<text x="539.80" y="9.10" font-size="7.4" text-anchor="start" fill="#000" textLength="54.2" lengthAdjust="spacingAndGlyphs" >Syn (reference)</text>
<line x1="279.50" y1="239.33" x2="684.20" y2="239.33" stroke="#bbb" stroke-width="0.6" stroke-dasharray="1 1.6"/>
<line x1="279.50" y1="225.35" x2="684.20" y2="225.35" stroke="#bbb" stroke-width="0.6" stroke-dasharray="1 1.6"/>
<line x1="279.50" y1="211.38" x2="684.20" y2="211.38" stroke="#bbb" stroke-width="0.6" stroke-dasharray="1 1.6"/>
<line x1="310.63" y1="218.10" x2="310.63" y2="248.80" stroke="#333" stroke-width="0.9" />
<line x1="341.76" y1="210.40" x2="341.76" y2="241.10" stroke="#333" stroke-width="0.9" />
<line x1="372.89" y1="214.10" x2="372.89" y2="245.40" stroke="#333" stroke-width="0.9" />
<line x1="404.02" y1="217.80" x2="404.02" y2="241.70" stroke="#333" stroke-width="0.9" />
<line x1="435.15" y1="217.20" x2="435.15" y2="246.30" stroke="#333" stroke-width="0.9" />
<line x1="466.28" y1="228.50" x2="466.28" y2="247.80" stroke="#333" stroke-width="0.9" />
<line x1="497.42" y1="224.80" x2="497.42" y2="248.40" stroke="#333" stroke-width="0.9" />
<line x1="528.55" y1="219.90" x2="528.55" y2="245.10" stroke="#333" stroke-width="0.9" />
<line x1="559.68" y1="218.10" x2="559.68" y2="246.30" stroke="#333" stroke-width="0.9" />
<line x1="590.81" y1="204.30" x2="590.81" y2="241.70" stroke="#333" stroke-width="0.9" />
<line x1="621.94" y1="227.90" x2="621.94" y2="248.80" stroke="#333" stroke-width="0.9" />
<line x1="653.07" y1="221.20" x2="653.07" y2="245.40" stroke="#333" stroke-width="0.9" />
<rect x="279.50" y="197.40" width="404.70" height="55.90" fill="none" stroke="#151515" stroke-width="1.2"/>
<line x1="279.50" y1="239.33" x2="285.00" y2="239.33" stroke="#000" stroke-width="1.0" />
<line x1="678.70" y1="239.33" x2="684.20" y2="239.33" stroke="#000" stroke-width="1.0" />
<line x1="279.50" y1="225.35" x2="285.00" y2="225.35" stroke="#000" stroke-width="1.0" />
<line x1="678.70" y1="225.35" x2="684.20" y2="225.35" stroke="#000" stroke-width="1.0" />
<line x1="279.50" y1="211.38" x2="285.00" y2="211.38" stroke="#000" stroke-width="1.0" />
<line x1="678.70" y1="211.38" x2="684.20" y2="211.38" stroke="#000" stroke-width="1.0" />
<text x="276.00" y="255.90" font-size="7.4" text-anchor="end" fill="#000" >0.0</text>
<text x="276.00" y="241.93" font-size="7.4" text-anchor="end" fill="#000" >0.1</text>
<text x="276.00" y="227.95" font-size="7.4" text-anchor="end" fill="#000" >0.2</text>
<text x="276.00" y="213.97" font-size="7.4" text-anchor="end" fill="#000" >0.3</text>
<text x="276.00" y="200.00" font-size="7.4" text-anchor="end" fill="#000" >0.4</text>
<text x="310.63" y="263.60" font-size="7.75" text-anchor="middle" fill="#000" >KMM003</text>
<text x="341.76" y="263.60" font-size="7.75" text-anchor="middle" fill="#000" >KMM005</text>
<text x="372.89" y="263.60" font-size="7.75" text-anchor="middle" fill="#000" >KMM006</text>
<text x="404.02" y="263.60" font-size="7.75" text-anchor="middle" fill="#000" >KMM008</text>
<text x="435.15" y="263.60" font-size="7.75" text-anchor="middle" fill="#000" >KMM009</text>
<text x="466.28" y="263.60" font-size="7.75" text-anchor="middle" fill="#000" >KMM010</text>
<text x="497.42" y="263.60" font-size="7.75" text-anchor="middle" fill="#000" >KMM011</text>
<text x="528.55" y="263.60" font-size="7.75" text-anchor="middle" fill="#000" >KMMH03</text>
<text x="559.68" y="263.60" font-size="7.75" text-anchor="middle" fill="#000" >KMMH14</text>
<text x="590.81" y="263.60" font-size="7.75" text-anchor="middle" fill="#000" >KMMH16</text>
<text x="621.94" y="263.60" font-size="7.75" text-anchor="middle" fill="#000" >NGS012</text>
<text x="653.07" y="263.60" font-size="7.75" text-anchor="middle" fill="#000" >KUMA</text>
<text x="255.00" y="225.30" font-size="7.4" text-anchor="middle" fill="#000" transform="rotate(-90 255.00 225.30)" >FS Error</text>
</svg>
</body></html>
